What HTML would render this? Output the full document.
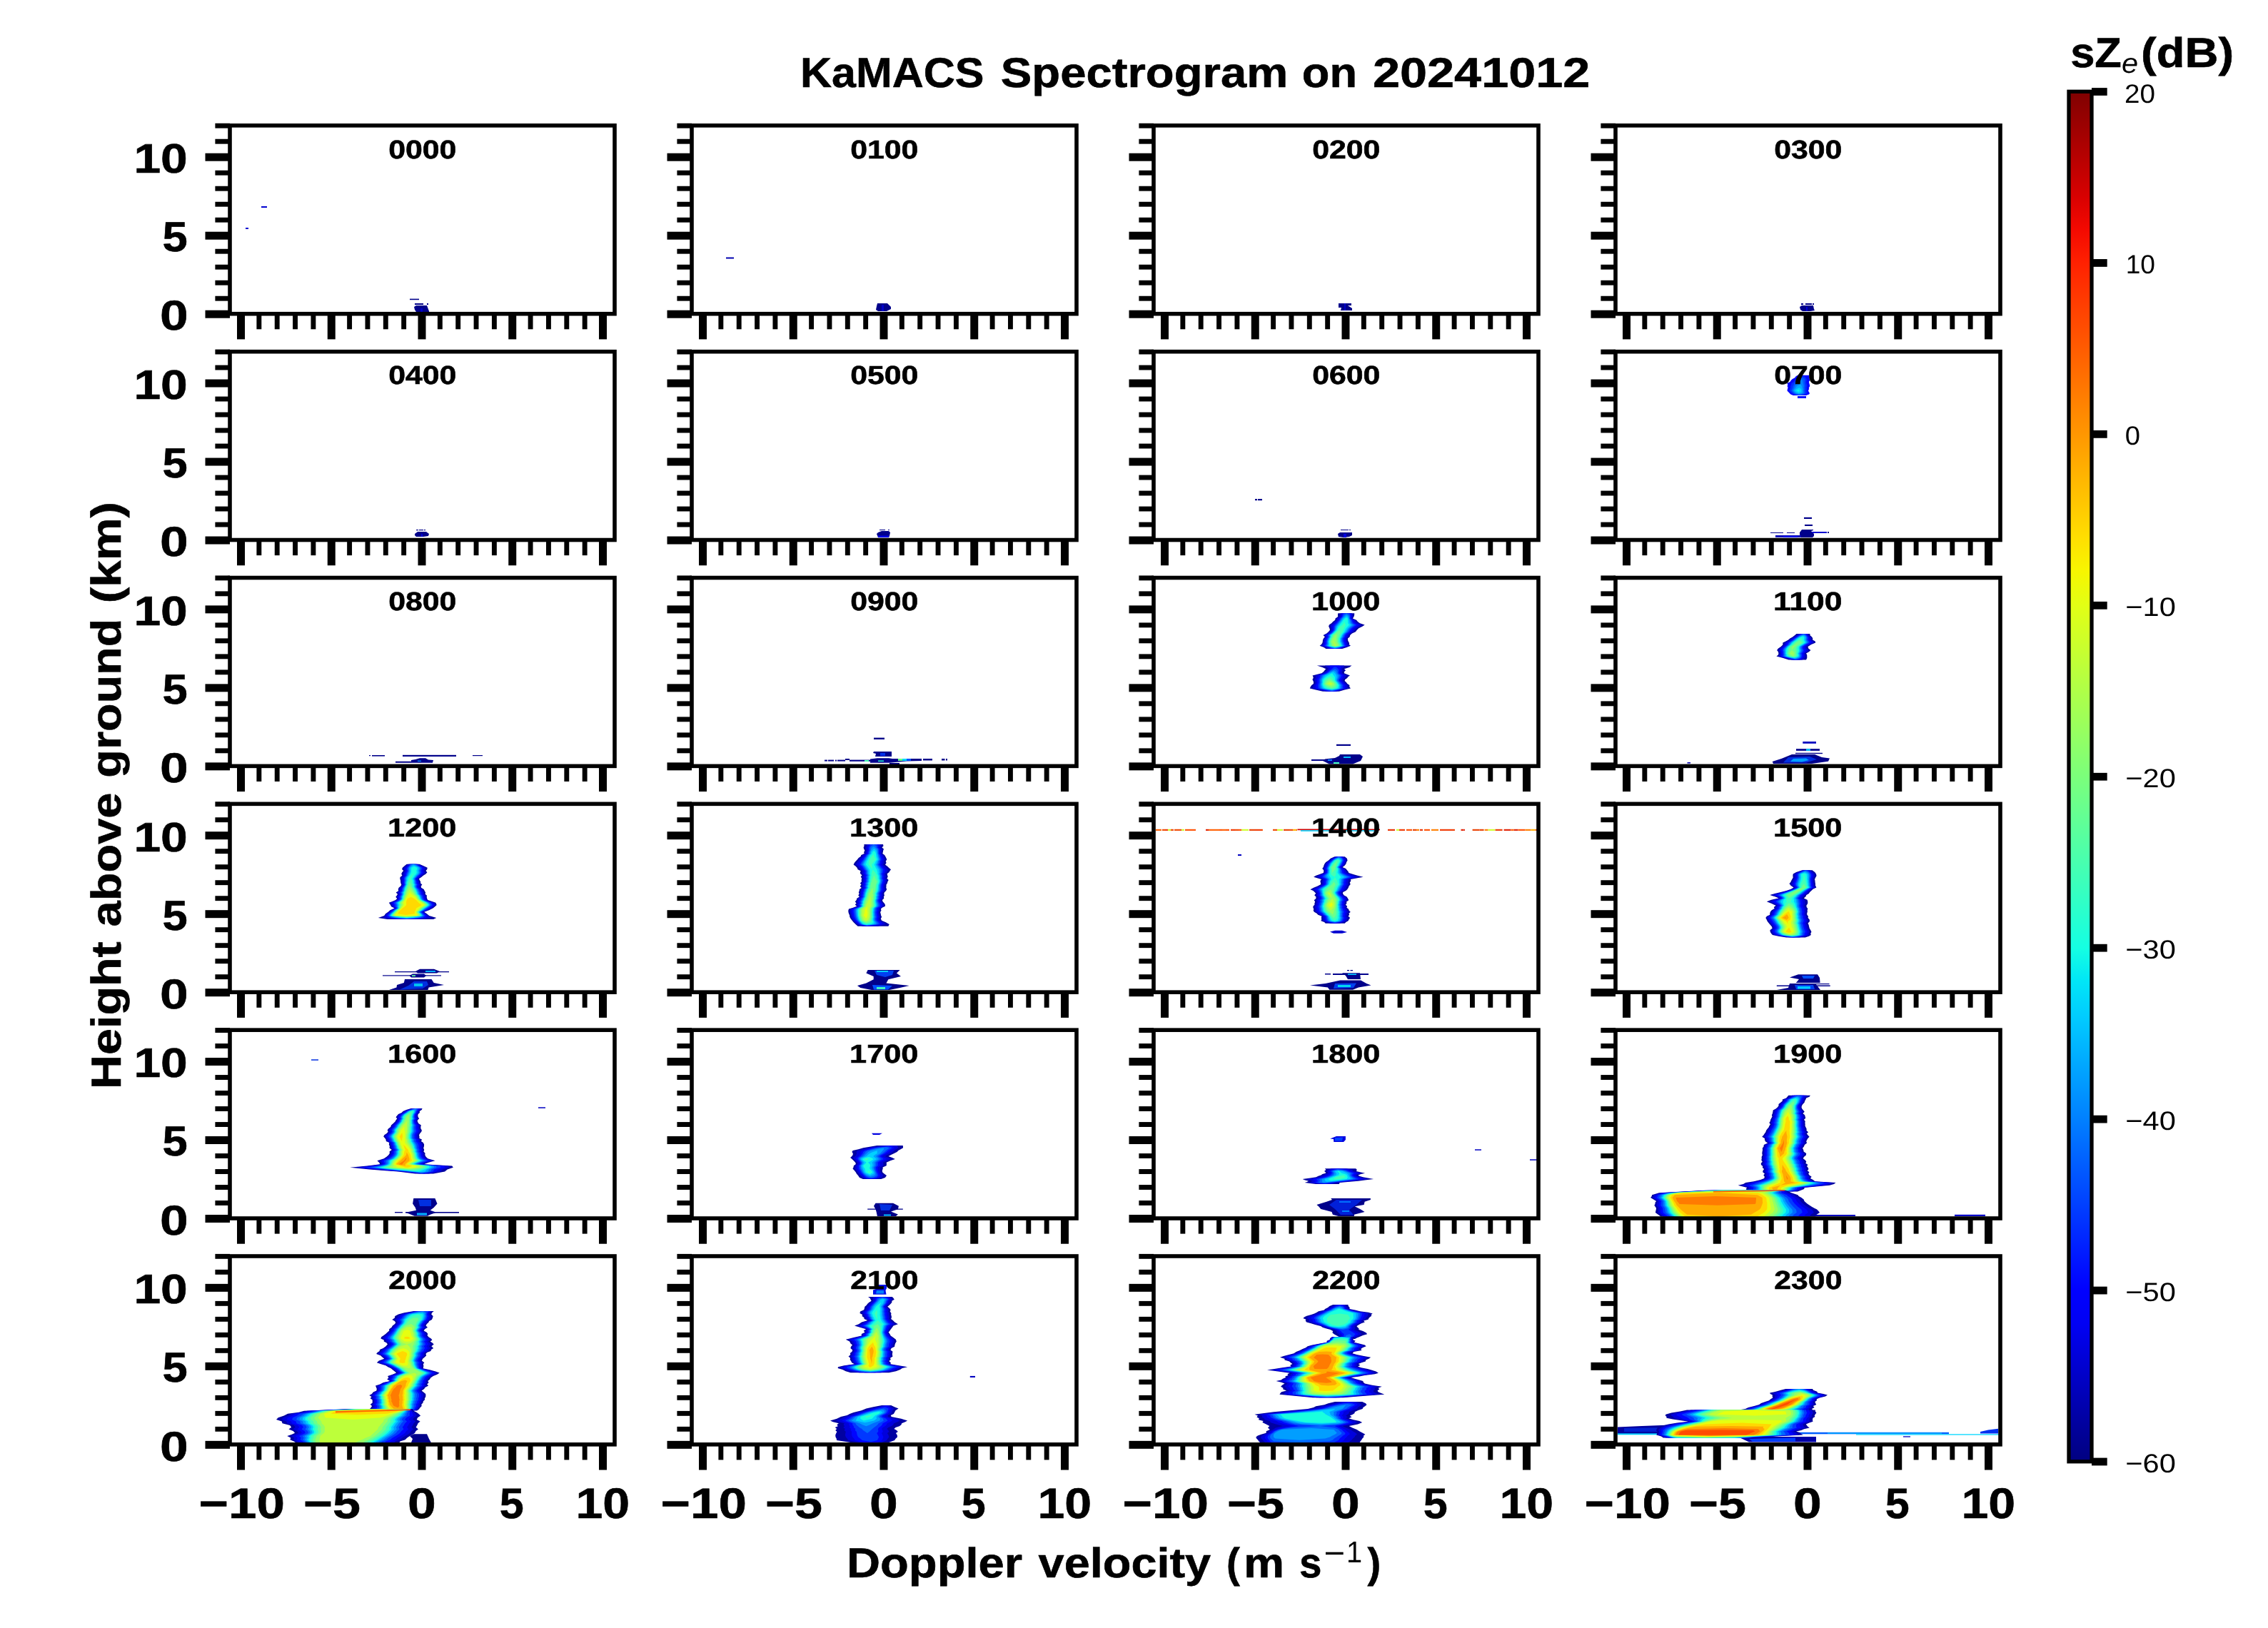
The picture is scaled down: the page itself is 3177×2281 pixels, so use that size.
<!DOCTYPE html>
<html><head><meta charset="utf-8"><title>KaMACS Spectrogram on 20241012</title>
<style>html,body{margin:0;padding:0;background:#fff}body{width:3177px;height:2281px;overflow:hidden;font-family:"Liberation Sans",sans-serif}svg{display:block}</style>
</head><body>
<svg width="3177" height="2281" viewBox="0 0 3177 2281" font-family="Liberation Sans, sans-serif" shape-rendering="auto" text-rendering="geometricPrecision">
<defs>
<linearGradient id="jet" x1="0" y1="1" x2="0" y2="0">
<stop offset="0.000" stop-color="#000080"/>
<stop offset="0.025" stop-color="#00009c"/>
<stop offset="0.050" stop-color="#0000b9"/>
<stop offset="0.075" stop-color="#0000d6"/>
<stop offset="0.100" stop-color="#0000f3"/>
<stop offset="0.125" stop-color="#0000ff"/>
<stop offset="0.150" stop-color="#0019ff"/>
<stop offset="0.175" stop-color="#0033ff"/>
<stop offset="0.200" stop-color="#004dff"/>
<stop offset="0.225" stop-color="#0066ff"/>
<stop offset="0.250" stop-color="#0080ff"/>
<stop offset="0.275" stop-color="#0099ff"/>
<stop offset="0.300" stop-color="#00b2ff"/>
<stop offset="0.325" stop-color="#00ccff"/>
<stop offset="0.350" stop-color="#00e5f7"/>
<stop offset="0.375" stop-color="#15ffe2"/>
<stop offset="0.400" stop-color="#29ffce"/>
<stop offset="0.425" stop-color="#3effb9"/>
<stop offset="0.450" stop-color="#52ffa5"/>
<stop offset="0.475" stop-color="#67ff90"/>
<stop offset="0.500" stop-color="#7bff7b"/>
<stop offset="0.525" stop-color="#90ff67"/>
<stop offset="0.550" stop-color="#a5ff52"/>
<stop offset="0.575" stop-color="#b9ff3e"/>
<stop offset="0.600" stop-color="#ceff29"/>
<stop offset="0.625" stop-color="#e2ff15"/>
<stop offset="0.650" stop-color="#f7f600"/>
<stop offset="0.675" stop-color="#ffde00"/>
<stop offset="0.700" stop-color="#ffc600"/>
<stop offset="0.725" stop-color="#ffaf00"/>
<stop offset="0.750" stop-color="#ff9700"/>
<stop offset="0.775" stop-color="#ff8000"/>
<stop offset="0.800" stop-color="#ff6800"/>
<stop offset="0.825" stop-color="#ff5000"/>
<stop offset="0.850" stop-color="#ff3900"/>
<stop offset="0.875" stop-color="#ff2100"/>
<stop offset="0.900" stop-color="#f30900"/>
<stop offset="0.925" stop-color="#d60000"/>
<stop offset="0.950" stop-color="#b90000"/>
<stop offset="0.975" stop-color="#9c0000"/>
<stop offset="1.000" stop-color="#800000"/>
</linearGradient>
<clipPath id="cp00"><rect x="322.0" y="175.85" width="539.0" height="263.85"/></clipPath>
<clipPath id="cp01"><rect x="969.0" y="175.85" width="539.0" height="263.85"/></clipPath>
<clipPath id="cp02"><rect x="1616.0" y="175.85" width="539.0" height="263.85"/></clipPath>
<clipPath id="cp03"><rect x="2263.0" y="175.85" width="539.0" height="263.85"/></clipPath>
<clipPath id="cp10"><rect x="322.0" y="492.67999999999995" width="539.0" height="263.85"/></clipPath>
<clipPath id="cp11"><rect x="969.0" y="492.67999999999995" width="539.0" height="263.85"/></clipPath>
<clipPath id="cp12"><rect x="1616.0" y="492.67999999999995" width="539.0" height="263.85"/></clipPath>
<clipPath id="cp13"><rect x="2263.0" y="492.67999999999995" width="539.0" height="263.85"/></clipPath>
<clipPath id="cp20"><rect x="322.0" y="809.51" width="539.0" height="263.85"/></clipPath>
<clipPath id="cp21"><rect x="969.0" y="809.51" width="539.0" height="263.85"/></clipPath>
<clipPath id="cp22"><rect x="1616.0" y="809.51" width="539.0" height="263.85"/></clipPath>
<clipPath id="cp23"><rect x="2263.0" y="809.51" width="539.0" height="263.85"/></clipPath>
<clipPath id="cp30"><rect x="322.0" y="1126.34" width="539.0" height="263.85"/></clipPath>
<clipPath id="cp31"><rect x="969.0" y="1126.34" width="539.0" height="263.85"/></clipPath>
<clipPath id="cp32"><rect x="1616.0" y="1126.34" width="539.0" height="263.85"/></clipPath>
<clipPath id="cp33"><rect x="2263.0" y="1126.34" width="539.0" height="263.85"/></clipPath>
<clipPath id="cp40"><rect x="322.0" y="1443.1699999999998" width="539.0" height="263.85"/></clipPath>
<clipPath id="cp41"><rect x="969.0" y="1443.1699999999998" width="539.0" height="263.85"/></clipPath>
<clipPath id="cp42"><rect x="1616.0" y="1443.1699999999998" width="539.0" height="263.85"/></clipPath>
<clipPath id="cp43"><rect x="2263.0" y="1443.1699999999998" width="539.0" height="263.85"/></clipPath>
<clipPath id="cp50"><rect x="322.0" y="1759.9999999999998" width="539.0" height="263.85"/></clipPath>
<clipPath id="cp51"><rect x="969.0" y="1759.9999999999998" width="539.0" height="263.85"/></clipPath>
<clipPath id="cp52"><rect x="1616.0" y="1759.9999999999998" width="539.0" height="263.85"/></clipPath>
<clipPath id="cp53"><rect x="2263.0" y="1759.9999999999998" width="539.0" height="263.85"/></clipPath>
</defs>
<rect width="3177" height="2281" fill="#fff"/>
<g opacity="0.9999">
<g>
<g clip-path="url(#cp00)">
<rect x="366.0" y="289.0" width="8.0" height="2.0" fill="#0000d0"/>
<rect x="344.0" y="319.0" width="4.0" height="2.0" fill="#0000d0"/>
<rect x="574.0" y="418.6" width="13.0" height="1.6" fill="#00008b"/>
<rect x="581.0" y="425.0" width="9.0" height="2.0" fill="#00008b"/>
<rect x="588.0" y="425.0" width="5.0" height="2.0" fill="#00008b"/>
<rect x="598.0" y="425.0" width="2.0" height="2.0" fill="#00008b"/>
<polygon points="583.0,428.0 598.0,428.0 601.0,436.0 601.0,437.0 583.0,437.0 581.0,434.0 580.0,430.0" fill="#00008b"/>
<rect x="589.0" y="432.0" width="3.0" height="5.0" fill="#0000c8"/>
</g>
<rect x="287.50" y="434.70" width="34.5" height="11.0"/>
<rect x="301.40" y="414.75" width="20.6" height="6.9"/>
<rect x="301.40" y="392.75" width="20.6" height="6.9"/>
<rect x="301.40" y="370.75" width="20.6" height="6.9"/>
<rect x="301.40" y="348.75" width="20.6" height="6.9"/>
<rect x="287.50" y="324.70" width="34.5" height="11.0"/>
<rect x="301.40" y="304.75" width="20.6" height="6.9"/>
<rect x="301.40" y="282.75" width="20.6" height="6.9"/>
<rect x="301.40" y="260.75" width="20.6" height="6.9"/>
<rect x="301.40" y="238.75" width="20.6" height="6.9"/>
<rect x="287.50" y="214.70" width="34.5" height="11.0"/>
<rect x="301.40" y="194.75" width="20.6" height="6.9"/>
<rect x="301.40" y="172.75" width="20.6" height="6.9"/>
<rect x="332.00" y="439.70" width="11.0" height="35.7"/>
<rect x="359.40" y="439.70" width="6.9" height="21.6"/>
<rect x="384.75" y="439.70" width="6.9" height="21.6"/>
<rect x="410.10" y="439.70" width="6.9" height="21.6"/>
<rect x="435.45" y="439.70" width="6.9" height="21.6"/>
<rect x="458.75" y="439.70" width="11.0" height="35.7"/>
<rect x="486.15" y="439.70" width="6.9" height="21.6"/>
<rect x="511.50" y="439.70" width="6.9" height="21.6"/>
<rect x="536.85" y="439.70" width="6.9" height="21.6"/>
<rect x="562.20" y="439.70" width="6.9" height="21.6"/>
<rect x="585.50" y="439.70" width="11.0" height="35.7"/>
<rect x="612.90" y="439.70" width="6.9" height="21.6"/>
<rect x="638.25" y="439.70" width="6.9" height="21.6"/>
<rect x="663.60" y="439.70" width="6.9" height="21.6"/>
<rect x="688.95" y="439.70" width="6.9" height="21.6"/>
<rect x="712.25" y="439.70" width="11.0" height="35.7"/>
<rect x="739.65" y="439.70" width="6.9" height="21.6"/>
<rect x="765.00" y="439.70" width="6.9" height="21.6"/>
<rect x="790.35" y="439.70" width="6.9" height="21.6"/>
<rect x="815.70" y="439.70" width="6.9" height="21.6"/>
<rect x="839.00" y="439.70" width="11.0" height="35.7"/>
<rect x="322.00" y="175.85" width="539.0" height="263.85" fill="none" stroke="#000" stroke-width="5.6"/>
<text transform="translate(544.13,221.59) scale(1.1757,1)" font-size="36.44" font-weight="bold" fill="#000" stroke="#000" stroke-width="0.6">0000</text>
</g>
<g>
<g clip-path="url(#cp01)">
<rect x="1017.0" y="360.5" width="11.0" height="2.0" fill="#0000b0"/>
<polygon points="1229.0,425.0 1243.0,425.0 1248.0,430.0 1248.0,433.0 1242.0,436.0 1230.0,436.0 1227.0,434.0 1228.0,429.0" fill="#00008b"/>
<rect x="1235.0" y="427.0" width="3.0" height="9.0" fill="#0000c8"/>
</g>
<rect x="934.50" y="434.70" width="34.5" height="11.0"/>
<rect x="948.40" y="414.75" width="20.6" height="6.9"/>
<rect x="948.40" y="392.75" width="20.6" height="6.9"/>
<rect x="948.40" y="370.75" width="20.6" height="6.9"/>
<rect x="948.40" y="348.75" width="20.6" height="6.9"/>
<rect x="934.50" y="324.70" width="34.5" height="11.0"/>
<rect x="948.40" y="304.75" width="20.6" height="6.9"/>
<rect x="948.40" y="282.75" width="20.6" height="6.9"/>
<rect x="948.40" y="260.75" width="20.6" height="6.9"/>
<rect x="948.40" y="238.75" width="20.6" height="6.9"/>
<rect x="934.50" y="214.70" width="34.5" height="11.0"/>
<rect x="948.40" y="194.75" width="20.6" height="6.9"/>
<rect x="948.40" y="172.75" width="20.6" height="6.9"/>
<rect x="979.00" y="439.70" width="11.0" height="35.7"/>
<rect x="1006.40" y="439.70" width="6.9" height="21.6"/>
<rect x="1031.75" y="439.70" width="6.9" height="21.6"/>
<rect x="1057.10" y="439.70" width="6.9" height="21.6"/>
<rect x="1082.45" y="439.70" width="6.9" height="21.6"/>
<rect x="1105.75" y="439.70" width="11.0" height="35.7"/>
<rect x="1133.15" y="439.70" width="6.9" height="21.6"/>
<rect x="1158.50" y="439.70" width="6.9" height="21.6"/>
<rect x="1183.85" y="439.70" width="6.9" height="21.6"/>
<rect x="1209.20" y="439.70" width="6.9" height="21.6"/>
<rect x="1232.50" y="439.70" width="11.0" height="35.7"/>
<rect x="1259.90" y="439.70" width="6.9" height="21.6"/>
<rect x="1285.25" y="439.70" width="6.9" height="21.6"/>
<rect x="1310.60" y="439.70" width="6.9" height="21.6"/>
<rect x="1335.95" y="439.70" width="6.9" height="21.6"/>
<rect x="1359.25" y="439.70" width="11.0" height="35.7"/>
<rect x="1386.65" y="439.70" width="6.9" height="21.6"/>
<rect x="1412.00" y="439.70" width="6.9" height="21.6"/>
<rect x="1437.35" y="439.70" width="6.9" height="21.6"/>
<rect x="1462.70" y="439.70" width="6.9" height="21.6"/>
<rect x="1486.00" y="439.70" width="11.0" height="35.7"/>
<rect x="969.00" y="175.85" width="539.0" height="263.85" fill="none" stroke="#000" stroke-width="5.6"/>
<text transform="translate(1191.13,221.59) scale(1.1757,1)" font-size="36.44" font-weight="bold" fill="#000" stroke="#000" stroke-width="0.6">0100</text>
</g>
<g>
<g clip-path="url(#cp02)">
<polygon points="1875.0,425.0 1893.0,425.0 1893.0,428.0 1888.0,428.0 1894.0,432.0 1894.0,435.0 1878.0,435.0 1879.0,431.0 1875.0,431.0" fill="#00008b"/>
<rect x="1883.0" y="425.0" width="2.0" height="10.0" fill="#0000c8"/>
</g>
<rect x="1581.50" y="434.70" width="34.5" height="11.0"/>
<rect x="1595.40" y="414.75" width="20.6" height="6.9"/>
<rect x="1595.40" y="392.75" width="20.6" height="6.9"/>
<rect x="1595.40" y="370.75" width="20.6" height="6.9"/>
<rect x="1595.40" y="348.75" width="20.6" height="6.9"/>
<rect x="1581.50" y="324.70" width="34.5" height="11.0"/>
<rect x="1595.40" y="304.75" width="20.6" height="6.9"/>
<rect x="1595.40" y="282.75" width="20.6" height="6.9"/>
<rect x="1595.40" y="260.75" width="20.6" height="6.9"/>
<rect x="1595.40" y="238.75" width="20.6" height="6.9"/>
<rect x="1581.50" y="214.70" width="34.5" height="11.0"/>
<rect x="1595.40" y="194.75" width="20.6" height="6.9"/>
<rect x="1595.40" y="172.75" width="20.6" height="6.9"/>
<rect x="1626.00" y="439.70" width="11.0" height="35.7"/>
<rect x="1653.40" y="439.70" width="6.9" height="21.6"/>
<rect x="1678.75" y="439.70" width="6.9" height="21.6"/>
<rect x="1704.10" y="439.70" width="6.9" height="21.6"/>
<rect x="1729.45" y="439.70" width="6.9" height="21.6"/>
<rect x="1752.75" y="439.70" width="11.0" height="35.7"/>
<rect x="1780.15" y="439.70" width="6.9" height="21.6"/>
<rect x="1805.50" y="439.70" width="6.9" height="21.6"/>
<rect x="1830.85" y="439.70" width="6.9" height="21.6"/>
<rect x="1856.20" y="439.70" width="6.9" height="21.6"/>
<rect x="1879.50" y="439.70" width="11.0" height="35.7"/>
<rect x="1906.90" y="439.70" width="6.9" height="21.6"/>
<rect x="1932.25" y="439.70" width="6.9" height="21.6"/>
<rect x="1957.60" y="439.70" width="6.9" height="21.6"/>
<rect x="1982.95" y="439.70" width="6.9" height="21.6"/>
<rect x="2006.25" y="439.70" width="11.0" height="35.7"/>
<rect x="2033.65" y="439.70" width="6.9" height="21.6"/>
<rect x="2059.00" y="439.70" width="6.9" height="21.6"/>
<rect x="2084.35" y="439.70" width="6.9" height="21.6"/>
<rect x="2109.70" y="439.70" width="6.9" height="21.6"/>
<rect x="2133.00" y="439.70" width="11.0" height="35.7"/>
<rect x="1616.00" y="175.85" width="539.0" height="263.85" fill="none" stroke="#000" stroke-width="5.6"/>
<text transform="translate(1838.13,221.59) scale(1.1757,1)" font-size="36.44" font-weight="bold" fill="#000" stroke="#000" stroke-width="0.6">0200</text>
</g>
<g>
<g clip-path="url(#cp03)">
<rect x="2523.0" y="425.0" width="3.0" height="2.0" fill="#00008b"/>
<rect x="2529.0" y="425.0" width="9.0" height="2.0" fill="#00008b"/>
<rect x="2539.0" y="425.0" width="2.0" height="2.0" fill="#00008b"/>
<polygon points="2524.0,428.0 2540.0,428.0 2541.0,433.0 2542.0,435.0 2536.0,436.0 2525.0,436.0 2522.0,434.0 2521.0,430.0" fill="#00008b"/>
<rect x="2530.0" y="430.0" width="2.0" height="6.0" fill="#0000d8"/>
</g>
<rect x="2228.50" y="434.70" width="34.5" height="11.0"/>
<rect x="2242.40" y="414.75" width="20.6" height="6.9"/>
<rect x="2242.40" y="392.75" width="20.6" height="6.9"/>
<rect x="2242.40" y="370.75" width="20.6" height="6.9"/>
<rect x="2242.40" y="348.75" width="20.6" height="6.9"/>
<rect x="2228.50" y="324.70" width="34.5" height="11.0"/>
<rect x="2242.40" y="304.75" width="20.6" height="6.9"/>
<rect x="2242.40" y="282.75" width="20.6" height="6.9"/>
<rect x="2242.40" y="260.75" width="20.6" height="6.9"/>
<rect x="2242.40" y="238.75" width="20.6" height="6.9"/>
<rect x="2228.50" y="214.70" width="34.5" height="11.0"/>
<rect x="2242.40" y="194.75" width="20.6" height="6.9"/>
<rect x="2242.40" y="172.75" width="20.6" height="6.9"/>
<rect x="2273.00" y="439.70" width="11.0" height="35.7"/>
<rect x="2300.40" y="439.70" width="6.9" height="21.6"/>
<rect x="2325.75" y="439.70" width="6.9" height="21.6"/>
<rect x="2351.10" y="439.70" width="6.9" height="21.6"/>
<rect x="2376.45" y="439.70" width="6.9" height="21.6"/>
<rect x="2399.75" y="439.70" width="11.0" height="35.7"/>
<rect x="2427.15" y="439.70" width="6.9" height="21.6"/>
<rect x="2452.50" y="439.70" width="6.9" height="21.6"/>
<rect x="2477.85" y="439.70" width="6.9" height="21.6"/>
<rect x="2503.20" y="439.70" width="6.9" height="21.6"/>
<rect x="2526.50" y="439.70" width="11.0" height="35.7"/>
<rect x="2553.90" y="439.70" width="6.9" height="21.6"/>
<rect x="2579.25" y="439.70" width="6.9" height="21.6"/>
<rect x="2604.60" y="439.70" width="6.9" height="21.6"/>
<rect x="2629.95" y="439.70" width="6.9" height="21.6"/>
<rect x="2653.25" y="439.70" width="11.0" height="35.7"/>
<rect x="2680.65" y="439.70" width="6.9" height="21.6"/>
<rect x="2706.00" y="439.70" width="6.9" height="21.6"/>
<rect x="2731.35" y="439.70" width="6.9" height="21.6"/>
<rect x="2756.70" y="439.70" width="6.9" height="21.6"/>
<rect x="2780.00" y="439.70" width="11.0" height="35.7"/>
<rect x="2263.00" y="175.85" width="539.0" height="263.85" fill="none" stroke="#000" stroke-width="5.6"/>
<text transform="translate(2485.13,221.55) scale(1.1774,1)" font-size="36.39" font-weight="bold" fill="#000" stroke="#000" stroke-width="0.6">0300</text>
</g>
<g>
<g clip-path="url(#cp10)">
<rect x="583.0" y="742.0" width="3.0" height="1.2" fill="#00008b"/>
<rect x="587.0" y="742.0" width="6.0" height="1.2" fill="#00008b"/>
<rect x="594.0" y="742.0" width="2.0" height="1.2" fill="#00008b"/>
<polygon points="585.0,745.0 597.0,745.0 601.0,748.0 600.0,751.0 593.0,752.0 583.0,752.0 581.0,750.0 581.0,748.0" fill="#00008b"/>
<rect x="590.0" y="748.0" width="2.0" height="4.0" fill="#0000d8"/>
</g>
<rect x="287.50" y="751.53" width="34.5" height="11.0"/>
<rect x="301.40" y="731.58" width="20.6" height="6.9"/>
<rect x="301.40" y="709.58" width="20.6" height="6.9"/>
<rect x="301.40" y="687.58" width="20.6" height="6.9"/>
<rect x="301.40" y="665.58" width="20.6" height="6.9"/>
<rect x="287.50" y="641.53" width="34.5" height="11.0"/>
<rect x="301.40" y="621.58" width="20.6" height="6.9"/>
<rect x="301.40" y="599.58" width="20.6" height="6.9"/>
<rect x="301.40" y="577.58" width="20.6" height="6.9"/>
<rect x="301.40" y="555.58" width="20.6" height="6.9"/>
<rect x="287.50" y="531.53" width="34.5" height="11.0"/>
<rect x="301.40" y="511.58" width="20.6" height="6.9"/>
<rect x="301.40" y="489.58" width="20.6" height="6.9"/>
<rect x="332.00" y="756.53" width="11.0" height="35.7"/>
<rect x="359.40" y="756.53" width="6.9" height="21.6"/>
<rect x="384.75" y="756.53" width="6.9" height="21.6"/>
<rect x="410.10" y="756.53" width="6.9" height="21.6"/>
<rect x="435.45" y="756.53" width="6.9" height="21.6"/>
<rect x="458.75" y="756.53" width="11.0" height="35.7"/>
<rect x="486.15" y="756.53" width="6.9" height="21.6"/>
<rect x="511.50" y="756.53" width="6.9" height="21.6"/>
<rect x="536.85" y="756.53" width="6.9" height="21.6"/>
<rect x="562.20" y="756.53" width="6.9" height="21.6"/>
<rect x="585.50" y="756.53" width="11.0" height="35.7"/>
<rect x="612.90" y="756.53" width="6.9" height="21.6"/>
<rect x="638.25" y="756.53" width="6.9" height="21.6"/>
<rect x="663.60" y="756.53" width="6.9" height="21.6"/>
<rect x="688.95" y="756.53" width="6.9" height="21.6"/>
<rect x="712.25" y="756.53" width="11.0" height="35.7"/>
<rect x="739.65" y="756.53" width="6.9" height="21.6"/>
<rect x="765.00" y="756.53" width="6.9" height="21.6"/>
<rect x="790.35" y="756.53" width="6.9" height="21.6"/>
<rect x="815.70" y="756.53" width="6.9" height="21.6"/>
<rect x="839.00" y="756.53" width="11.0" height="35.7"/>
<rect x="322.00" y="492.68" width="539.0" height="263.85" fill="none" stroke="#000" stroke-width="5.6"/>
<text transform="translate(544.13,538.42) scale(1.1757,1)" font-size="36.44" font-weight="bold" fill="#000" stroke="#000" stroke-width="0.6">0400</text>
</g>
<g>
<g clip-path="url(#cp11)">
<rect x="1232.0" y="742.0" width="8.0" height="1.0" fill="#00008b"/>
<rect x="1244.0" y="742.0" width="2.0" height="1.0" fill="#00008b"/>
<polygon points="1235.0,744.0 1245.0,744.0 1247.0,746.0 1246.0,751.0 1245.0,753.0 1230.0,753.0 1228.0,748.0 1230.0,746.0" fill="#00008b"/>
<rect x="1230.0" y="750.5" width="15.0" height="2.5" fill="#0000e8"/>
</g>
<rect x="934.50" y="751.53" width="34.5" height="11.0"/>
<rect x="948.40" y="731.58" width="20.6" height="6.9"/>
<rect x="948.40" y="709.58" width="20.6" height="6.9"/>
<rect x="948.40" y="687.58" width="20.6" height="6.9"/>
<rect x="948.40" y="665.58" width="20.6" height="6.9"/>
<rect x="934.50" y="641.53" width="34.5" height="11.0"/>
<rect x="948.40" y="621.58" width="20.6" height="6.9"/>
<rect x="948.40" y="599.58" width="20.6" height="6.9"/>
<rect x="948.40" y="577.58" width="20.6" height="6.9"/>
<rect x="948.40" y="555.58" width="20.6" height="6.9"/>
<rect x="934.50" y="531.53" width="34.5" height="11.0"/>
<rect x="948.40" y="511.58" width="20.6" height="6.9"/>
<rect x="948.40" y="489.58" width="20.6" height="6.9"/>
<rect x="979.00" y="756.53" width="11.0" height="35.7"/>
<rect x="1006.40" y="756.53" width="6.9" height="21.6"/>
<rect x="1031.75" y="756.53" width="6.9" height="21.6"/>
<rect x="1057.10" y="756.53" width="6.9" height="21.6"/>
<rect x="1082.45" y="756.53" width="6.9" height="21.6"/>
<rect x="1105.75" y="756.53" width="11.0" height="35.7"/>
<rect x="1133.15" y="756.53" width="6.9" height="21.6"/>
<rect x="1158.50" y="756.53" width="6.9" height="21.6"/>
<rect x="1183.85" y="756.53" width="6.9" height="21.6"/>
<rect x="1209.20" y="756.53" width="6.9" height="21.6"/>
<rect x="1232.50" y="756.53" width="11.0" height="35.7"/>
<rect x="1259.90" y="756.53" width="6.9" height="21.6"/>
<rect x="1285.25" y="756.53" width="6.9" height="21.6"/>
<rect x="1310.60" y="756.53" width="6.9" height="21.6"/>
<rect x="1335.95" y="756.53" width="6.9" height="21.6"/>
<rect x="1359.25" y="756.53" width="11.0" height="35.7"/>
<rect x="1386.65" y="756.53" width="6.9" height="21.6"/>
<rect x="1412.00" y="756.53" width="6.9" height="21.6"/>
<rect x="1437.35" y="756.53" width="6.9" height="21.6"/>
<rect x="1462.70" y="756.53" width="6.9" height="21.6"/>
<rect x="1486.00" y="756.53" width="11.0" height="35.7"/>
<rect x="969.00" y="492.68" width="539.0" height="263.85" fill="none" stroke="#000" stroke-width="5.6"/>
<text transform="translate(1191.13,538.42) scale(1.1757,1)" font-size="36.44" font-weight="bold" fill="#000" stroke="#000" stroke-width="0.6">0500</text>
</g>
<g>
<g clip-path="url(#cp12)">
<rect x="1758.0" y="699.0" width="3.0" height="2.2" fill="#00008b"/>
<rect x="1762.0" y="699.0" width="6.0" height="2.2" fill="#00008b"/>
<rect x="1878.0" y="742.0" width="11.0" height="1.0" fill="#00008b"/>
<rect x="1890.0" y="742.0" width="2.0" height="1.0" fill="#00008b"/>
<polygon points="1877.0,746.0 1894.0,746.0 1894.0,750.0 1890.0,752.0 1882.0,753.0 1875.0,752.0 1874.0,748.0" fill="#00008b"/>
<rect x="1882.0" y="748.0" width="4.0" height="5.0" fill="#0000e0"/>
</g>
<rect x="1581.50" y="751.53" width="34.5" height="11.0"/>
<rect x="1595.40" y="731.58" width="20.6" height="6.9"/>
<rect x="1595.40" y="709.58" width="20.6" height="6.9"/>
<rect x="1595.40" y="687.58" width="20.6" height="6.9"/>
<rect x="1595.40" y="665.58" width="20.6" height="6.9"/>
<rect x="1581.50" y="641.53" width="34.5" height="11.0"/>
<rect x="1595.40" y="621.58" width="20.6" height="6.9"/>
<rect x="1595.40" y="599.58" width="20.6" height="6.9"/>
<rect x="1595.40" y="577.58" width="20.6" height="6.9"/>
<rect x="1595.40" y="555.58" width="20.6" height="6.9"/>
<rect x="1581.50" y="531.53" width="34.5" height="11.0"/>
<rect x="1595.40" y="511.58" width="20.6" height="6.9"/>
<rect x="1595.40" y="489.58" width="20.6" height="6.9"/>
<rect x="1626.00" y="756.53" width="11.0" height="35.7"/>
<rect x="1653.40" y="756.53" width="6.9" height="21.6"/>
<rect x="1678.75" y="756.53" width="6.9" height="21.6"/>
<rect x="1704.10" y="756.53" width="6.9" height="21.6"/>
<rect x="1729.45" y="756.53" width="6.9" height="21.6"/>
<rect x="1752.75" y="756.53" width="11.0" height="35.7"/>
<rect x="1780.15" y="756.53" width="6.9" height="21.6"/>
<rect x="1805.50" y="756.53" width="6.9" height="21.6"/>
<rect x="1830.85" y="756.53" width="6.9" height="21.6"/>
<rect x="1856.20" y="756.53" width="6.9" height="21.6"/>
<rect x="1879.50" y="756.53" width="11.0" height="35.7"/>
<rect x="1906.90" y="756.53" width="6.9" height="21.6"/>
<rect x="1932.25" y="756.53" width="6.9" height="21.6"/>
<rect x="1957.60" y="756.53" width="6.9" height="21.6"/>
<rect x="1982.95" y="756.53" width="6.9" height="21.6"/>
<rect x="2006.25" y="756.53" width="11.0" height="35.7"/>
<rect x="2033.65" y="756.53" width="6.9" height="21.6"/>
<rect x="2059.00" y="756.53" width="6.9" height="21.6"/>
<rect x="2084.35" y="756.53" width="6.9" height="21.6"/>
<rect x="2109.70" y="756.53" width="6.9" height="21.6"/>
<rect x="2133.00" y="756.53" width="11.0" height="35.7"/>
<rect x="1616.00" y="492.68" width="539.0" height="263.85" fill="none" stroke="#000" stroke-width="5.6"/>
<text transform="translate(1838.13,538.42) scale(1.1757,1)" font-size="36.44" font-weight="bold" fill="#000" stroke="#000" stroke-width="0.6">0600</text>
</g>
<g>
<g clip-path="url(#cp13)">
<polygon points="2518.0,525.8 2515.4,527.5 2514.2,529.3 2510.8,531.0 2508.7,533.0 2507.5,535.0 2503.2,537.0 2504.4,539.0 2503.6,541.0 2504.5,543.0 2503.9,545.2 2503.5,547.5 2505.2,549.2 2506.9,551.0 2508.3,552.5 2512.0,554.0 2530.0,554.0 2534.1,552.5 2535.0,551.0 2533.9,549.2 2533.0,547.5 2534.0,545.2 2533.9,543.0 2535.3,541.0 2534.9,539.0 2534.3,537.0 2533.9,535.0 2535.2,533.0 2534.8,531.0 2534.3,529.3 2534.1,527.5 2534.0,525.8" fill="#0005ff"/>
<polygon points="2525.5,526.8 2521.9,527.5 2519.0,529.3 2515.8,531.0 2514.0,533.0 2512.7,535.0 2509.3,537.0 2509.3,539.0 2508.1,541.0 2508.3,543.0 2507.3,545.2 2506.4,547.5 2508.3,549.2 2510.0,551.0 2512.9,552.5 2518.4,554.0 2523.6,554.0 2529.0,552.5 2531.3,551.0 2531.0,549.2 2530.4,547.5 2531.1,545.2 2530.6,543.0 2531.5,541.0 2531.1,539.0 2530.5,537.0 2530.1,535.0 2530.8,533.0 2530.6,531.0 2529.5,529.3 2528.2,527.5 2525.5,526.8" fill="#002eff"/>
<polygon points="2524.4,528.9 2522.7,529.3 2518.6,531.0 2517.0,533.0 2515.8,535.0 2513.1,537.0 2512.7,539.0 2511.4,541.0 2511.3,543.0 2510.2,545.2 2509.1,547.5 2511.0,549.2 2512.4,551.0 2515.4,552.5 2520.8,553.4 2520.8,553.4 2526.1,552.5 2528.4,551.0 2528.4,549.2 2527.9,547.5 2528.5,545.2 2528.1,543.0 2528.7,541.0 2528.4,539.0 2528.1,537.0 2527.9,535.0 2528.4,533.0 2528.2,531.0 2525.8,529.3 2524.4,528.9" fill="#0057ff"/>
<polygon points="2523.8,531.0 2521.1,533.0 2519.1,535.0 2516.8,537.0 2515.3,539.0 2513.8,541.0 2513.4,543.0 2512.1,545.2 2510.8,547.5 2512.8,549.2 2514.0,551.0 2519.5,552.5 2520.5,552.6 2520.5,552.6 2521.5,552.5 2526.4,551.0 2526.7,549.2 2526.3,547.5 2526.8,545.2 2526.3,543.0 2526.7,541.0 2526.4,539.0 2525.8,537.0 2525.5,535.0 2525.1,533.0 2523.8,531.0" fill="#0080ff"/>
<polygon points="2521.9,538.2 2520.1,539.0 2516.9,541.0 2515.8,543.0 2513.8,545.2 2512.3,547.5 2514.3,549.2 2515.9,551.0 2520.1,551.8 2520.1,551.8 2524.1,551.0 2525.3,549.2 2525.0,547.5 2525.3,545.2 2524.3,543.0 2524.0,541.0 2522.6,539.0 2521.9,538.2" fill="#00a8ff"/>
<polygon points="2520.4,543.0 2516.3,545.2 2514.0,547.5 2516.6,549.2 2519.6,551.0 2519.6,551.0 2523.1,549.2 2523.4,547.5 2523.1,545.2 2520.4,543.0" fill="#00d1ff"/>
<polygon points="2519.6,546.0 2516.5,547.5 2519.6,548.7 2519.6,548.7 2521.1,547.5 2519.6,546.0" fill="#10fae6"/>
<rect x="2518.0" y="555.0" width="12.0" height="3.0" fill="#0010ff"/>
<rect x="2527.0" y="724.8" width="11.0" height="2.2" fill="#00008b"/>
<rect x="2528.0" y="734.9" width="11.0" height="2.1" fill="#00008b"/>
<rect x="2480.0" y="746.0" width="18.0" height="1.0" fill="#00008b"/>
<rect x="2503.0" y="746.0" width="11.0" height="1.0" fill="#00008b"/>
<polygon points="2524.0,742.0 2540.0,742.0 2540.0,743.0 2537.0,744.0 2541.0,748.0 2541.0,751.0 2539.0,753.0 2523.0,753.0 2521.0,749.0 2521.0,746.0" fill="#00008b"/>
<rect x="2538.0" y="745.0" width="21.0" height="2.0" fill="#0000d0"/>
<rect x="2560.0" y="745.0" width="2.0" height="2.0" fill="#00008b"/>
<rect x="2487.0" y="750.0" width="36.0" height="2.8" fill="#0000b8"/>
<rect x="2498.0" y="751.0" width="20.0" height="1.8" fill="#0010f0"/>
</g>
<rect x="2228.50" y="751.53" width="34.5" height="11.0"/>
<rect x="2242.40" y="731.58" width="20.6" height="6.9"/>
<rect x="2242.40" y="709.58" width="20.6" height="6.9"/>
<rect x="2242.40" y="687.58" width="20.6" height="6.9"/>
<rect x="2242.40" y="665.58" width="20.6" height="6.9"/>
<rect x="2228.50" y="641.53" width="34.5" height="11.0"/>
<rect x="2242.40" y="621.58" width="20.6" height="6.9"/>
<rect x="2242.40" y="599.58" width="20.6" height="6.9"/>
<rect x="2242.40" y="577.58" width="20.6" height="6.9"/>
<rect x="2242.40" y="555.58" width="20.6" height="6.9"/>
<rect x="2228.50" y="531.53" width="34.5" height="11.0"/>
<rect x="2242.40" y="511.58" width="20.6" height="6.9"/>
<rect x="2242.40" y="489.58" width="20.6" height="6.9"/>
<rect x="2273.00" y="756.53" width="11.0" height="35.7"/>
<rect x="2300.40" y="756.53" width="6.9" height="21.6"/>
<rect x="2325.75" y="756.53" width="6.9" height="21.6"/>
<rect x="2351.10" y="756.53" width="6.9" height="21.6"/>
<rect x="2376.45" y="756.53" width="6.9" height="21.6"/>
<rect x="2399.75" y="756.53" width="11.0" height="35.7"/>
<rect x="2427.15" y="756.53" width="6.9" height="21.6"/>
<rect x="2452.50" y="756.53" width="6.9" height="21.6"/>
<rect x="2477.85" y="756.53" width="6.9" height="21.6"/>
<rect x="2503.20" y="756.53" width="6.9" height="21.6"/>
<rect x="2526.50" y="756.53" width="11.0" height="35.7"/>
<rect x="2553.90" y="756.53" width="6.9" height="21.6"/>
<rect x="2579.25" y="756.53" width="6.9" height="21.6"/>
<rect x="2604.60" y="756.53" width="6.9" height="21.6"/>
<rect x="2629.95" y="756.53" width="6.9" height="21.6"/>
<rect x="2653.25" y="756.53" width="11.0" height="35.7"/>
<rect x="2680.65" y="756.53" width="6.9" height="21.6"/>
<rect x="2706.00" y="756.53" width="6.9" height="21.6"/>
<rect x="2731.35" y="756.53" width="6.9" height="21.6"/>
<rect x="2756.70" y="756.53" width="6.9" height="21.6"/>
<rect x="2780.00" y="756.53" width="11.0" height="35.7"/>
<rect x="2263.00" y="492.68" width="539.0" height="263.85" fill="none" stroke="#000" stroke-width="5.6"/>
<text transform="translate(2485.13,538.42) scale(1.1757,1)" font-size="36.44" font-weight="bold" fill="#000" stroke="#000" stroke-width="0.6">0700</text>
</g>
<g>
<g clip-path="url(#cp20)">
<rect x="517.0" y="1058.0" width="2.0" height="1.2" fill="#00008b"/>
<rect x="521.0" y="1058.0" width="18.0" height="1.6" fill="#00008b"/>
<rect x="564.0" y="1057.8" width="75.0" height="2.2" fill="#00008b"/>
<rect x="662.0" y="1058.0" width="14.0" height="1.2" fill="#00008b"/>
<polygon points="554.0,1066.8 576.0,1066.8 576.0,1065.0 582.0,1064.0 588.0,1062.2 596.0,1062.2 600.0,1064.5 607.0,1065.0 606.0,1068.8 554.0,1068.8" fill="#00008b"/>
<rect x="585.0" y="1065.6" width="5.0" height="1.4" fill="#0090ff"/>
</g>
<rect x="287.50" y="1068.36" width="34.5" height="11.0"/>
<rect x="301.40" y="1048.41" width="20.6" height="6.9"/>
<rect x="301.40" y="1026.41" width="20.6" height="6.9"/>
<rect x="301.40" y="1004.41" width="20.6" height="6.9"/>
<rect x="301.40" y="982.41" width="20.6" height="6.9"/>
<rect x="287.50" y="958.36" width="34.5" height="11.0"/>
<rect x="301.40" y="938.41" width="20.6" height="6.9"/>
<rect x="301.40" y="916.41" width="20.6" height="6.9"/>
<rect x="301.40" y="894.41" width="20.6" height="6.9"/>
<rect x="301.40" y="872.41" width="20.6" height="6.9"/>
<rect x="287.50" y="848.36" width="34.5" height="11.0"/>
<rect x="301.40" y="828.41" width="20.6" height="6.9"/>
<rect x="301.40" y="806.41" width="20.6" height="6.9"/>
<rect x="332.00" y="1073.36" width="11.0" height="35.7"/>
<rect x="359.40" y="1073.36" width="6.9" height="21.6"/>
<rect x="384.75" y="1073.36" width="6.9" height="21.6"/>
<rect x="410.10" y="1073.36" width="6.9" height="21.6"/>
<rect x="435.45" y="1073.36" width="6.9" height="21.6"/>
<rect x="458.75" y="1073.36" width="11.0" height="35.7"/>
<rect x="486.15" y="1073.36" width="6.9" height="21.6"/>
<rect x="511.50" y="1073.36" width="6.9" height="21.6"/>
<rect x="536.85" y="1073.36" width="6.9" height="21.6"/>
<rect x="562.20" y="1073.36" width="6.9" height="21.6"/>
<rect x="585.50" y="1073.36" width="11.0" height="35.7"/>
<rect x="612.90" y="1073.36" width="6.9" height="21.6"/>
<rect x="638.25" y="1073.36" width="6.9" height="21.6"/>
<rect x="663.60" y="1073.36" width="6.9" height="21.6"/>
<rect x="688.95" y="1073.36" width="6.9" height="21.6"/>
<rect x="712.25" y="1073.36" width="11.0" height="35.7"/>
<rect x="739.65" y="1073.36" width="6.9" height="21.6"/>
<rect x="765.00" y="1073.36" width="6.9" height="21.6"/>
<rect x="790.35" y="1073.36" width="6.9" height="21.6"/>
<rect x="815.70" y="1073.36" width="6.9" height="21.6"/>
<rect x="839.00" y="1073.36" width="11.0" height="35.7"/>
<rect x="322.00" y="809.51" width="539.0" height="263.85" fill="none" stroke="#000" stroke-width="5.6"/>
<text transform="translate(544.13,855.25) scale(1.1757,1)" font-size="36.44" font-weight="bold" fill="#000" stroke="#000" stroke-width="0.6">0800</text>
</g>
<g>
<g clip-path="url(#cp21)">
<rect x="1224.0" y="1033.6" width="15.0" height="2.4" fill="#00008b"/>
<polygon points="1224.0,1053.0 1249.0,1053.0 1249.0,1060.0 1226.0,1060.0 1227.0,1056.0 1223.0,1055.0" fill="#00008b"/>
<rect x="1233.0" y="1055.0" width="7.0" height="4.0" fill="#0030e8"/>
<rect x="1155.0" y="1064.6" width="4.0" height="2.0" fill="#00008b"/>
<rect x="1160.0" y="1064.6" width="8.0" height="2.0" fill="#00008b"/>
<rect x="1170.0" y="1064.6" width="2.0" height="2.0" fill="#00008b"/>
<rect x="1173.0" y="1064.6" width="11.0" height="2.0" fill="#00008b"/>
<rect x="1184.0" y="1063.0" width="6.0" height="2.0" fill="#00008b"/>
<rect x="1190.0" y="1064.6" width="29.0" height="2.2" fill="#00008b"/>
<polygon points="1219.0,1063.5 1229.0,1062.2 1245.0,1062.2 1250.0,1063.0 1291.0,1063.0 1291.0,1066.0 1270.0,1066.5 1246.0,1068.8 1219.0,1068.8" fill="#00008b"/>
<rect x="1211.0" y="1065.0" width="6.0" height="2.0" fill="#40ffb0"/>
<rect x="1230.0" y="1065.5" width="8.0" height="1.5" fill="#20ffd0"/>
<rect x="1258.0" y="1063.0" width="6.0" height="3.0" fill="#70ff80"/>
<rect x="1264.0" y="1063.0" width="6.0" height="3.0" fill="#00d8ff"/>
<rect x="1270.0" y="1063.0" width="6.0" height="3.0" fill="#0050ff"/>
<rect x="1293.0" y="1063.0" width="13.0" height="2.5" fill="#00008b"/>
<rect x="1319.0" y="1063.0" width="4.5" height="2.5" fill="#00008b"/>
<rect x="1325.0" y="1063.0" width="2.0" height="2.5" fill="#00008b"/>
<rect x="1246.0" y="1069.0" width="14.0" height="2.0" fill="#00008b"/>
</g>
<rect x="934.50" y="1068.36" width="34.5" height="11.0"/>
<rect x="948.40" y="1048.41" width="20.6" height="6.9"/>
<rect x="948.40" y="1026.41" width="20.6" height="6.9"/>
<rect x="948.40" y="1004.41" width="20.6" height="6.9"/>
<rect x="948.40" y="982.41" width="20.6" height="6.9"/>
<rect x="934.50" y="958.36" width="34.5" height="11.0"/>
<rect x="948.40" y="938.41" width="20.6" height="6.9"/>
<rect x="948.40" y="916.41" width="20.6" height="6.9"/>
<rect x="948.40" y="894.41" width="20.6" height="6.9"/>
<rect x="948.40" y="872.41" width="20.6" height="6.9"/>
<rect x="934.50" y="848.36" width="34.5" height="11.0"/>
<rect x="948.40" y="828.41" width="20.6" height="6.9"/>
<rect x="948.40" y="806.41" width="20.6" height="6.9"/>
<rect x="979.00" y="1073.36" width="11.0" height="35.7"/>
<rect x="1006.40" y="1073.36" width="6.9" height="21.6"/>
<rect x="1031.75" y="1073.36" width="6.9" height="21.6"/>
<rect x="1057.10" y="1073.36" width="6.9" height="21.6"/>
<rect x="1082.45" y="1073.36" width="6.9" height="21.6"/>
<rect x="1105.75" y="1073.36" width="11.0" height="35.7"/>
<rect x="1133.15" y="1073.36" width="6.9" height="21.6"/>
<rect x="1158.50" y="1073.36" width="6.9" height="21.6"/>
<rect x="1183.85" y="1073.36" width="6.9" height="21.6"/>
<rect x="1209.20" y="1073.36" width="6.9" height="21.6"/>
<rect x="1232.50" y="1073.36" width="11.0" height="35.7"/>
<rect x="1259.90" y="1073.36" width="6.9" height="21.6"/>
<rect x="1285.25" y="1073.36" width="6.9" height="21.6"/>
<rect x="1310.60" y="1073.36" width="6.9" height="21.6"/>
<rect x="1335.95" y="1073.36" width="6.9" height="21.6"/>
<rect x="1359.25" y="1073.36" width="11.0" height="35.7"/>
<rect x="1386.65" y="1073.36" width="6.9" height="21.6"/>
<rect x="1412.00" y="1073.36" width="6.9" height="21.6"/>
<rect x="1437.35" y="1073.36" width="6.9" height="21.6"/>
<rect x="1462.70" y="1073.36" width="6.9" height="21.6"/>
<rect x="1486.00" y="1073.36" width="11.0" height="35.7"/>
<rect x="969.00" y="809.51" width="539.0" height="263.85" fill="none" stroke="#000" stroke-width="5.6"/>
<text transform="translate(1191.13,855.25) scale(1.1757,1)" font-size="36.44" font-weight="bold" fill="#000" stroke="#000" stroke-width="0.6">0900</text>
</g>
<g>
<g clip-path="url(#cp22)">
<polygon points="1874.3,859.2 1874.0,861.6 1874.2,864.1 1870.6,866.5 1870.2,868.7 1867.2,871.0 1865.1,873.2 1861.8,875.4 1861.2,877.8 1862.4,880.3 1863.0,882.7 1860.9,885.2 1858.3,887.6 1853.5,890.1 1855.9,892.3 1854.0,894.5 1853.0,896.8 1852.8,899.0 1852.3,900.9 1850.9,902.9 1848.6,904.8 1854.5,906.9 1857.4,909.0 1880.2,909.0 1886.5,906.9 1892.0,904.8 1889.7,902.9 1890.1,900.9 1888.9,899.0 1888.0,896.8 1888.0,894.5 1890.7,892.3 1891.2,890.1 1893.9,887.6 1898.9,885.2 1900.7,882.7 1903.3,880.3 1908.4,877.8 1911.7,875.4 1905.0,873.2 1901.9,871.0 1900.1,868.7 1894.9,866.5 1896.5,864.1 1897.2,861.6 1897.2,859.2" fill="#0000a2"/>
<polygon points="1877.8,859.2 1876.8,861.6 1876.5,864.1 1873.1,866.5 1872.4,868.7 1869.7,871.0 1867.7,873.2 1864.7,875.4 1863.8,877.8 1864.6,880.3 1864.8,882.7 1862.6,885.2 1860.1,887.6 1855.5,890.1 1857.5,892.3 1855.6,894.5 1854.7,896.8 1854.4,899.0 1854.1,900.9 1852.9,902.9 1850.9,904.8 1857.1,906.9 1862.2,909.0 1876.3,909.0 1883.7,906.9 1889.7,904.8 1887.6,902.9 1887.8,900.9 1886.6,899.0 1885.9,896.8 1885.9,894.5 1888.3,892.3 1888.9,890.1 1891.4,887.6 1895.8,885.2 1897.5,882.7 1899.9,880.3 1904.4,877.8 1907.5,875.4 1901.7,873.2 1899.2,871.0 1897.7,868.7 1893.6,866.5 1894.6,864.1 1894.7,861.6 1893.8,859.2" fill="#0000dc"/>
<polygon points="1880.2,859.2 1879.1,861.6 1878.7,864.1 1875.6,866.5 1874.6,868.7 1872.3,871.0 1870.3,873.2 1867.6,875.4 1866.4,877.8 1866.7,880.3 1866.6,882.7 1864.4,885.2 1861.9,887.6 1857.5,890.1 1859.1,892.3 1857.3,894.5 1856.5,896.8 1856.0,899.0 1855.9,900.9 1855.0,902.9 1853.3,904.8 1859.7,906.9 1865.0,909.0 1874.1,909.0 1880.9,906.9 1887.4,904.8 1885.5,902.9 1885.5,900.9 1884.4,899.0 1883.9,896.8 1883.8,894.5 1886.0,892.3 1886.6,890.1 1888.9,887.6 1892.8,885.2 1894.3,882.7 1896.5,880.3 1900.5,877.8 1903.3,875.4 1898.5,873.2 1896.5,871.0 1895.4,868.7 1892.2,866.5 1892.8,864.1 1892.7,861.6 1891.6,859.2" fill="#0005ff"/>
<polygon points="1882.1,859.2 1880.7,861.6 1880.1,864.1 1877.4,866.5 1876.2,868.7 1874.1,871.0 1872.3,873.2 1870.0,875.4 1868.6,877.8 1868.5,880.3 1868.3,882.7 1866.1,885.2 1863.7,887.6 1859.6,890.1 1860.7,892.3 1859.0,894.5 1858.2,896.8 1857.6,899.0 1857.7,900.9 1857.1,902.9 1855.6,904.8 1861.4,906.9 1870.0,909.0 1870.0,909.0 1879.1,906.9 1885.1,904.8 1883.4,902.9 1883.3,900.9 1882.1,899.0 1881.8,896.8 1881.7,894.5 1883.7,892.3 1884.3,890.1 1886.4,887.6 1889.9,885.2 1891.5,882.7 1893.6,880.3 1897.2,877.8 1899.9,875.4 1895.9,873.2 1894.5,871.0 1893.6,868.7 1891.3,866.5 1891.7,864.1 1891.3,861.6 1889.8,859.2" fill="#0038ff"/>
<polygon points="1886.0,859.2 1882.4,861.6 1881.2,864.1 1878.8,866.5 1877.5,868.7 1875.6,871.0 1873.8,873.2 1871.7,875.4 1870.1,877.8 1869.8,880.3 1869.3,882.7 1867.1,885.2 1864.8,887.6 1860.9,890.1 1861.8,892.3 1860.2,894.5 1859.4,896.8 1858.8,899.0 1859.0,900.9 1858.6,902.9 1857.4,904.8 1862.8,906.9 1870.0,908.5 1870.0,908.5 1877.6,906.9 1883.4,904.8 1881.9,902.9 1881.6,900.9 1880.5,899.0 1880.3,896.8 1880.3,894.5 1882.1,892.3 1882.8,890.1 1884.9,887.6 1888.1,885.2 1889.6,882.7 1891.6,880.3 1894.9,877.8 1897.5,875.4 1894.0,873.2 1893.0,871.0 1892.3,868.7 1890.5,866.5 1890.7,864.1 1889.8,861.6 1886.0,859.2" fill="#006bff"/>
<polygon points="1886.2,861.2 1885.3,861.6 1882.7,864.1 1880.0,866.5 1878.6,868.7 1876.9,871.0 1875.1,873.2 1873.2,875.4 1871.5,877.8 1870.9,880.3 1870.3,882.7 1868.1,885.2 1865.8,887.6 1862.1,890.1 1862.7,892.3 1861.2,894.5 1860.4,896.8 1859.8,899.0 1860.0,900.9 1859.8,902.9 1858.7,904.8 1864.2,906.9 1870.0,908.0 1870.0,908.0 1876.2,906.9 1882.1,904.8 1880.7,902.9 1880.3,900.9 1879.1,899.0 1879.1,896.8 1879.1,894.5 1880.8,892.3 1881.5,890.1 1883.5,887.6 1886.4,885.2 1887.9,882.7 1889.7,880.3 1892.8,877.8 1895.3,875.4 1892.4,873.2 1891.6,871.0 1891.1,868.7 1889.9,866.5 1889.5,864.1 1887.1,861.6 1886.2,861.2" fill="#009eff"/>
<polygon points="1886.4,863.3 1884.9,864.1 1881.7,866.5 1880.0,868.7 1878.4,871.0 1876.5,873.2 1874.7,875.4 1872.8,877.8 1872.0,880.3 1871.2,882.7 1869.0,885.2 1866.7,887.6 1863.1,890.1 1863.5,892.3 1862.1,894.5 1861.4,896.8 1860.6,899.0 1861.0,900.9 1861.0,902.9 1860.0,904.8 1866.1,906.9 1870.0,907.5 1870.0,907.5 1874.1,906.9 1880.8,904.8 1879.5,902.9 1879.1,900.9 1877.9,899.0 1877.9,896.8 1877.9,894.5 1879.5,892.3 1880.3,890.1 1882.2,887.6 1884.9,885.2 1886.3,882.7 1888.0,880.3 1890.8,877.8 1893.1,875.4 1890.5,873.2 1890.0,871.0 1889.5,868.7 1889.0,866.5 1887.7,864.1 1886.4,863.3" fill="#00d1ff"/>
<polygon points="1886.4,865.3 1883.9,866.5 1881.7,868.7 1880.3,871.0 1878.5,873.2 1876.9,875.4 1874.8,877.8 1873.5,880.3 1872.5,882.7 1870.0,885.2 1867.6,887.6 1864.2,890.1 1864.3,892.3 1862.9,894.5 1862.2,896.8 1861.5,899.0 1861.9,900.9 1862.0,902.9 1861.2,904.8 1869.6,906.9 1870.0,907.0 1870.0,907.0 1870.5,906.9 1879.7,904.8 1878.5,902.9 1877.9,900.9 1876.8,899.0 1876.9,896.8 1876.9,894.5 1878.4,892.3 1879.1,890.1 1880.9,887.6 1883.1,885.2 1884.1,882.7 1885.6,880.3 1887.9,877.8 1889.9,875.4 1888.1,873.2 1888.0,871.0 1887.8,868.7 1887.8,866.5 1886.4,865.3" fill="#19ffde"/>
<polygon points="1884.0,871.0 1881.9,873.2 1880.3,875.4 1877.3,877.8 1875.3,880.3 1873.8,882.7 1871.3,885.2 1868.9,887.6 1865.6,890.1 1865.4,892.3 1863.9,894.5 1863.2,896.8 1862.3,899.0 1862.9,900.9 1863.1,902.9 1862.5,904.8 1870.1,906.4 1870.1,906.4 1878.4,904.8 1877.4,902.9 1876.7,900.9 1875.6,899.0 1875.7,896.8 1875.6,894.5 1876.9,892.3 1877.6,890.1 1879.1,887.6 1880.8,885.2 1881.7,882.7 1882.7,880.3 1883.9,877.8 1885.1,875.4 1883.8,873.2 1884.0,871.0" fill="#42ffb5"/>
<polygon points="1876.7,882.7 1873.4,885.2 1870.4,887.6 1867.1,890.1 1866.6,892.3 1865.2,894.5 1864.5,896.8 1863.5,899.0 1864.2,900.9 1864.7,902.9 1864.2,904.8 1870.3,905.9 1870.3,905.9 1876.7,904.8 1875.8,902.9 1875.0,900.9 1873.9,899.0 1874.1,896.8 1874.0,894.5 1875.1,892.3 1875.8,890.1 1877.1,887.6 1877.2,885.2 1876.7,882.7" fill="#6bff8c"/>
<polygon points="1872.9,888.0 1869.8,890.1 1868.4,892.3 1866.9,894.5 1866.0,896.8 1864.7,899.0 1865.5,900.9 1866.2,902.9 1866.0,904.8 1870.4,905.4 1870.4,905.4 1875.0,904.8 1874.2,902.9 1873.3,900.9 1872.2,899.0 1872.3,896.8 1871.9,894.5 1872.4,892.3 1872.7,890.1 1872.9,888.0" fill="#94ff63"/>
<polygon points="1868.9,896.8 1867.3,899.0 1868.4,900.9 1869.5,902.9 1869.7,904.8 1870.5,904.9 1870.5,904.9 1871.3,904.8 1870.9,902.9 1869.7,900.9 1868.6,899.0 1868.9,896.8" fill="#bdff3a"/>
<polygon points="1844.8,932.5 1852.4,934.9 1857.3,937.3 1855.5,939.3 1854.0,941.2 1851.4,943.2 1838.5,946.4 1839.5,948.3 1839.7,950.1 1838.4,952.0 1839.5,954.0 1840.1,955.9 1840.0,957.9 1837.3,960.1 1835.8,962.3 1834.8,964.5 1843.0,966.6 1853.0,968.8 1875.8,968.8 1883.5,966.6 1892.0,964.5 1890.2,962.3 1890.4,960.1 1887.3,957.9 1885.9,955.9 1883.6,954.0 1884.2,952.0 1887.2,950.1 1888.3,948.3 1891.0,946.4 1882.9,943.2 1882.9,941.2 1885.0,939.3 1883.0,937.3 1890.1,934.9 1893.5,932.5" fill="#0000a2"/>
<polygon points="1855.9,932.5 1858.9,934.9 1861.2,937.3 1858.7,939.3 1856.8,941.2 1853.9,943.2 1842.5,946.4 1843.0,948.3 1842.8,950.1 1841.4,952.0 1842.1,954.0 1842.6,955.9 1842.3,957.9 1840.2,960.1 1839.3,962.3 1838.9,964.5 1847.5,966.6 1858.0,968.8 1872.0,968.8 1879.9,966.6 1888.5,964.5 1887.2,962.3 1887.5,960.1 1884.9,957.9 1883.5,955.9 1881.1,954.0 1881.4,952.0 1883.9,950.1 1884.7,948.3 1886.8,946.4 1880.0,943.2 1879.9,941.2 1881.0,939.3 1879.1,937.3 1882.7,934.9 1883.1,932.5" fill="#0000dc"/>
<polygon points="1863.4,932.5 1862.5,934.9 1863.8,937.3 1861.1,939.3 1859.2,941.2 1856.4,943.2 1846.6,946.4 1846.5,948.3 1845.8,950.1 1844.4,952.0 1844.7,954.0 1845.0,955.9 1844.5,957.9 1843.1,960.1 1842.8,962.3 1843.0,964.5 1851.7,966.6 1860.8,968.8 1869.9,968.8 1876.7,966.6 1885.0,964.5 1884.2,962.3 1884.7,960.1 1882.4,957.9 1881.0,955.9 1878.6,954.0 1878.7,952.0 1880.6,950.1 1881.2,948.3 1882.5,946.4 1877.1,943.2 1877.1,941.2 1877.9,939.3 1876.6,937.3 1878.5,934.9 1876.1,932.5" fill="#0005ff"/>
<polygon points="1870.0,934.3 1867.8,934.9 1865.9,937.3 1862.8,939.3 1860.8,941.2 1858.0,943.2 1849.4,946.4 1849.2,948.3 1848.5,950.1 1847.2,952.0 1847.3,954.0 1847.4,955.9 1846.8,957.9 1846.1,960.1 1846.3,962.3 1846.6,964.5 1854.4,966.6 1866.0,968.8 1866.0,968.8 1874.6,966.6 1881.9,964.5 1881.2,962.3 1881.8,960.1 1879.9,957.9 1878.5,955.9 1876.1,954.0 1876.1,952.0 1877.7,950.1 1878.3,948.3 1879.5,946.4 1875.3,943.2 1875.3,941.2 1875.8,939.3 1874.5,937.3 1872.5,934.9 1870.0,934.3" fill="#0038ff"/>
<polygon points="1870.2,937.3 1864.8,939.3 1862.2,941.2 1859.4,943.2 1851.7,946.4 1851.3,948.3 1850.3,950.1 1849.0,952.0 1848.9,954.0 1849.2,955.9 1848.7,957.9 1848.1,960.1 1848.4,962.3 1849.0,964.5 1856.7,966.6 1865.9,968.1 1865.9,968.1 1872.9,966.6 1879.8,964.5 1879.4,962.3 1879.8,960.1 1877.9,957.9 1876.7,955.9 1874.5,954.0 1874.5,952.0 1875.8,950.1 1876.3,948.3 1877.1,946.4 1873.8,943.2 1873.8,941.2 1873.3,939.3 1870.2,937.3" fill="#006bff"/>
<polygon points="1868.5,939.3 1864.1,941.2 1860.7,943.2 1853.7,946.4 1853.1,948.3 1851.9,950.1 1850.7,952.0 1850.4,954.0 1850.6,955.9 1850.0,957.9 1849.8,960.1 1850.4,962.3 1851.2,964.5 1859.9,966.6 1865.9,967.4 1865.9,967.4 1870.4,966.6 1877.9,964.5 1877.6,962.3 1878.1,960.1 1876.4,957.9 1875.2,955.9 1873.0,954.0 1873.0,952.0 1874.0,950.1 1874.4,948.3 1875.0,946.4 1872.2,943.2 1871.6,941.2 1868.5,939.3" fill="#009eff"/>
<polygon points="1867.6,941.2 1862.6,943.2 1856.4,946.4 1855.0,948.3 1853.4,950.1 1852.1,952.0 1851.7,954.0 1851.9,955.9 1851.3,957.9 1851.4,960.1 1852.2,962.3 1853.2,964.5 1865.8,966.6 1865.8,966.6 1876.1,964.5 1876.1,962.3 1876.5,960.1 1875.0,957.9 1873.9,955.9 1871.7,954.0 1871.6,952.0 1872.3,950.1 1872.4,948.3 1872.1,946.4 1870.1,943.2 1867.6,941.2" fill="#00d1ff"/>
<polygon points="1866.0,943.2 1860.0,946.4 1857.6,948.3 1855.6,950.1 1853.8,952.0 1853.0,954.0 1853.2,955.9 1852.5,957.9 1852.9,960.1 1853.9,962.3 1856.0,964.5 1865.7,965.9 1865.7,965.9 1873.7,964.5 1874.6,962.3 1875.1,960.1 1873.8,957.9 1872.6,955.9 1870.5,954.0 1870.0,952.0 1870.0,950.1 1869.8,948.3 1868.3,946.4 1866.0,943.2" fill="#19ffde"/>
<polygon points="1863.8,947.5 1862.1,948.3 1857.8,950.1 1856.1,952.0 1854.8,954.0 1854.5,955.9 1853.6,957.9 1854.6,960.1 1856.6,962.3 1859.1,964.5 1865.6,965.2 1865.6,965.2 1871.1,964.5 1872.3,962.3 1873.4,960.1 1872.5,957.9 1871.3,955.9 1868.8,954.0 1868.0,952.0 1867.5,950.1 1865.2,948.3 1863.8,947.5" fill="#42ffb5"/>
<polygon points="1862.5,950.3 1859.3,952.0 1856.7,954.0 1856.3,955.9 1855.1,957.9 1856.7,960.1 1859.2,962.3 1865.5,964.5 1865.5,964.5 1870.1,962.3 1871.3,960.1 1870.9,957.9 1869.4,955.9 1866.9,954.0 1865.0,952.0 1862.5,950.3" fill="#6bff8c"/>
<polygon points="1862.1,953.0 1860.1,954.0 1858.1,955.9 1856.8,957.9 1859.2,960.1 1865.0,962.3 1865.0,962.3 1868.9,960.1 1869.1,957.9 1867.6,955.9 1863.5,954.0 1862.1,953.0" fill="#94ff63"/>
<polygon points="1862.6,955.4 1862.0,955.9 1858.9,957.9 1864.1,960.1 1864.1,960.1 1866.8,957.9 1863.6,955.9 1862.6,955.4" fill="#bdff3a"/>
<rect x="1872.0" y="1042.8" width="20.0" height="2.2" fill="#00008b"/>
<rect x="1837.0" y="1064.0" width="20.0" height="2.0" fill="#00008b"/>
<polygon points="1877.0,1057.0 1905.0,1057.0 1909.0,1060.0 1906.0,1066.0 1895.0,1070.6 1862.0,1070.6 1853.0,1066.0 1856.0,1063.5 1870.0,1062.0 1876.0,1059.0" fill="#00008b"/>
<rect x="1882.0" y="1060.0" width="10.0" height="2.0" fill="#00c0ff"/>
<rect x="1868.0" y="1068.0" width="8.0" height="2.0" fill="#40ffc0"/>
<rect x="1860.0" y="1064.0" width="6.0" height="2.0" fill="#0080ff"/>
</g>
<rect x="1581.50" y="1068.36" width="34.5" height="11.0"/>
<rect x="1595.40" y="1048.41" width="20.6" height="6.9"/>
<rect x="1595.40" y="1026.41" width="20.6" height="6.9"/>
<rect x="1595.40" y="1004.41" width="20.6" height="6.9"/>
<rect x="1595.40" y="982.41" width="20.6" height="6.9"/>
<rect x="1581.50" y="958.36" width="34.5" height="11.0"/>
<rect x="1595.40" y="938.41" width="20.6" height="6.9"/>
<rect x="1595.40" y="916.41" width="20.6" height="6.9"/>
<rect x="1595.40" y="894.41" width="20.6" height="6.9"/>
<rect x="1595.40" y="872.41" width="20.6" height="6.9"/>
<rect x="1581.50" y="848.36" width="34.5" height="11.0"/>
<rect x="1595.40" y="828.41" width="20.6" height="6.9"/>
<rect x="1595.40" y="806.41" width="20.6" height="6.9"/>
<rect x="1626.00" y="1073.36" width="11.0" height="35.7"/>
<rect x="1653.40" y="1073.36" width="6.9" height="21.6"/>
<rect x="1678.75" y="1073.36" width="6.9" height="21.6"/>
<rect x="1704.10" y="1073.36" width="6.9" height="21.6"/>
<rect x="1729.45" y="1073.36" width="6.9" height="21.6"/>
<rect x="1752.75" y="1073.36" width="11.0" height="35.7"/>
<rect x="1780.15" y="1073.36" width="6.9" height="21.6"/>
<rect x="1805.50" y="1073.36" width="6.9" height="21.6"/>
<rect x="1830.85" y="1073.36" width="6.9" height="21.6"/>
<rect x="1856.20" y="1073.36" width="6.9" height="21.6"/>
<rect x="1879.50" y="1073.36" width="11.0" height="35.7"/>
<rect x="1906.90" y="1073.36" width="6.9" height="21.6"/>
<rect x="1932.25" y="1073.36" width="6.9" height="21.6"/>
<rect x="1957.60" y="1073.36" width="6.9" height="21.6"/>
<rect x="1982.95" y="1073.36" width="6.9" height="21.6"/>
<rect x="2006.25" y="1073.36" width="11.0" height="35.7"/>
<rect x="2033.65" y="1073.36" width="6.9" height="21.6"/>
<rect x="2059.00" y="1073.36" width="6.9" height="21.6"/>
<rect x="2084.35" y="1073.36" width="6.9" height="21.6"/>
<rect x="2109.70" y="1073.36" width="6.9" height="21.6"/>
<rect x="2133.00" y="1073.36" width="11.0" height="35.7"/>
<rect x="1616.00" y="809.51" width="539.0" height="263.85" fill="none" stroke="#000" stroke-width="5.6"/>
<text transform="translate(1837.11,855.25) scale(1.1885,1)" font-size="36.44" font-weight="bold" fill="#000" stroke="#000" stroke-width="0.6">1000</text>
</g>
<g>
<g clip-path="url(#cp23)">
<polygon points="2516.5,888.0 2513.9,890.2 2511.0,892.4 2507.4,894.4 2505.1,896.5 2501.5,898.5 2497.3,900.5 2497.4,903.2 2494.7,905.9 2491.0,908.5 2489.1,911.1 2490.9,913.2 2491.4,915.4 2491.0,917.5 2488.4,919.5 2497.8,922.0 2505.7,924.5 2530.0,924.5 2531.3,922.0 2531.3,919.5 2531.2,917.5 2530.0,915.4 2534.0,913.2 2536.4,911.1 2533.2,908.5 2532.5,905.9 2536.8,903.2 2543.2,900.5 2542.7,898.5 2539.1,896.5 2539.3,894.4 2538.2,892.4 2535.6,890.2 2535.4,888.0" fill="#0000a2"/>
<polygon points="2520.0,888.0 2516.5,890.2 2513.2,892.4 2509.7,894.4 2507.3,896.5 2503.9,898.5 2500.0,900.5 2499.6,903.2 2496.7,905.9 2493.3,908.5 2491.6,911.1 2493.1,913.2 2493.4,915.4 2493.3,917.5 2491.2,919.5 2500.8,922.0 2509.6,924.5 2524.6,924.5 2528.1,922.0 2528.9,919.5 2528.9,917.5 2527.8,915.4 2531.3,913.2 2533.2,911.1 2530.5,908.5 2530.2,905.9 2534.3,903.2 2540.4,900.5 2539.8,898.5 2536.7,896.5 2536.9,894.4 2536.1,892.4 2533.6,890.2 2532.6,888.0" fill="#0000dc"/>
<polygon points="2522.1,888.0 2518.8,890.2 2515.4,892.4 2512.0,894.4 2509.6,896.5 2506.3,898.5 2502.6,900.5 2501.8,903.2 2498.7,905.9 2495.7,908.5 2494.1,911.1 2495.2,913.2 2495.3,915.4 2495.5,917.5 2494.0,919.5 2503.7,922.0 2511.9,924.5 2521.6,924.5 2524.9,922.0 2526.6,919.5 2526.6,917.5 2525.6,915.4 2528.6,913.2 2530.1,911.1 2527.9,908.5 2527.8,905.9 2531.9,903.2 2537.5,900.5 2536.9,898.5 2534.3,896.5 2534.5,894.4 2534.0,892.4 2531.8,890.2 2530.9,888.0" fill="#0005ff"/>
<polygon points="2524.3,888.0 2520.3,890.2 2516.9,892.4 2513.8,894.4 2511.5,896.5 2508.5,898.5 2505.3,900.5 2504.0,903.2 2500.6,905.9 2498.0,908.5 2496.7,911.1 2497.4,913.2 2497.3,915.4 2497.7,917.5 2496.8,919.5 2505.4,922.0 2516.0,924.5 2516.0,924.5 2523.0,922.0 2524.2,919.5 2524.3,917.5 2523.5,915.4 2525.9,913.2 2526.9,911.1 2525.3,908.5 2525.4,905.9 2529.4,903.2 2534.7,900.5 2534.3,898.5 2532.3,896.5 2532.7,894.4 2532.5,892.4 2530.7,890.2 2529.2,888.0" fill="#0038ff"/>
<polygon points="2526.8,888.4 2521.6,890.2 2518.2,892.4 2515.1,894.4 2512.8,896.5 2509.8,898.5 2506.8,900.5 2505.3,903.2 2501.9,905.9 2499.4,908.5 2498.1,911.1 2498.8,913.2 2498.7,915.4 2499.2,917.5 2498.4,919.5 2506.9,922.0 2515.4,923.8 2515.4,923.8 2521.3,922.0 2522.9,919.5 2522.7,917.5 2521.9,915.4 2524.1,913.2 2525.1,911.1 2523.7,908.5 2523.8,905.9 2527.9,903.2 2533.0,900.5 2532.6,898.5 2530.9,896.5 2531.3,894.4 2531.3,892.4 2529.6,890.2 2526.8,888.4" fill="#006bff"/>
<polygon points="2526.4,889.5 2523.6,890.2 2519.3,892.4 2516.3,894.4 2514.0,896.5 2511.2,898.5 2508.4,900.5 2506.6,903.2 2503.0,905.9 2500.8,908.5 2499.6,911.1 2500.1,913.2 2499.9,915.4 2500.5,917.5 2500.1,919.5 2508.7,922.0 2514.7,923.1 2514.7,923.1 2519.3,922.0 2521.5,919.5 2521.4,917.5 2520.6,915.4 2522.5,913.2 2523.2,911.1 2522.1,908.5 2522.4,905.9 2526.5,903.2 2531.3,900.5 2531.0,898.5 2529.6,896.5 2530.1,894.4 2530.3,892.4 2528.1,890.2 2526.4,889.5" fill="#009eff"/>
<polygon points="2525.9,890.6 2520.7,892.4 2517.6,894.4 2515.1,896.5 2512.4,898.5 2509.7,900.5 2507.7,903.2 2504.1,905.9 2502.0,908.5 2500.9,911.1 2501.2,913.2 2500.9,915.4 2501.7,917.5 2501.5,919.5 2511.3,922.0 2514.1,922.4 2514.1,922.4 2516.5,922.0 2520.4,919.5 2520.2,917.5 2519.4,915.4 2521.1,913.2 2521.7,911.1 2520.8,908.5 2521.2,905.9 2525.3,903.2 2529.9,900.5 2529.5,898.5 2528.4,896.5 2528.8,894.4 2528.9,892.4 2525.9,890.6" fill="#00d1ff"/>
<polygon points="2525.3,891.7 2522.7,892.4 2519.3,894.4 2516.7,896.5 2513.8,898.5 2511.0,900.5 2508.8,903.2 2505.0,905.9 2503.1,908.5 2502.1,911.1 2502.3,913.2 2501.9,915.4 2502.8,917.5 2502.9,919.5 2513.5,921.6 2513.5,921.6 2519.2,919.5 2519.0,917.5 2518.3,915.4 2519.7,913.2 2520.1,911.1 2519.5,908.5 2520.0,905.9 2524.0,903.2 2528.5,900.5 2527.8,898.5 2526.7,896.5 2527.0,894.4 2527.0,892.4 2525.3,891.7" fill="#19ffde"/>
<polygon points="2523.6,893.8 2522.3,894.4 2518.6,896.5 2515.6,898.5 2513.0,900.5 2510.3,903.2 2506.4,905.9 2504.8,908.5 2504.0,911.1 2503.7,913.2 2503.0,915.4 2504.3,917.5 2505.0,919.5 2512.9,920.9 2512.9,920.9 2517.4,919.5 2517.5,917.5 2517.2,915.4 2518.0,913.2 2517.7,911.1 2517.6,908.5 2518.4,905.9 2522.3,903.2 2526.3,900.5 2525.6,898.5 2524.8,896.5 2523.8,894.4 2523.6,893.8" fill="#42ffb5"/>
<polygon points="2521.1,897.1 2518.5,898.5 2515.0,900.5 2512.0,903.2 2507.9,905.9 2506.5,908.5 2505.9,911.1 2505.3,913.2 2504.5,915.4 2505.9,917.5 2507.1,919.5 2512.4,920.2 2512.4,920.2 2515.7,919.5 2515.8,917.5 2515.5,915.4 2515.9,913.2 2515.3,911.1 2515.6,908.5 2516.6,905.9 2520.5,903.2 2524.2,900.5 2522.0,898.5 2521.1,897.1" fill="#6bff8c"/>
<polygon points="2519.4,900.5 2515.2,903.2 2510.5,905.9 2510.0,908.5 2510.1,911.1 2510.1,911.1 2511.7,908.5 2513.4,905.9 2516.8,903.2 2519.4,900.5" fill="#94ff63"/>
<polygon points="2510.1,911.1 2507.9,913.2 2505.9,915.4 2508.6,917.5 2511.8,919.5 2511.8,919.5 2513.1,917.5 2513.9,915.4 2512.8,913.2 2510.1,911.1" fill="#94ff63"/>
<polygon points="2509.8,914.7 2509.1,915.4 2510.1,916.1 2510.1,916.1 2510.4,915.4 2509.8,914.7" fill="#bdff3a"/>
<rect x="2525.3" y="1039.0" width="18.7" height="2.8" fill="#0000c0"/>
<rect x="2516.0" y="1049.2" width="33.0" height="2.7" fill="#00008b"/>
<rect x="2530.0" y="1049.2" width="6.0" height="2.7" fill="#00c8ff"/>
<rect x="2515.0" y="1054.8" width="38.0" height="1.4" fill="#00008b"/>
<polygon points="2510.0,1057.0 2542.0,1057.0 2552.0,1061.0 2563.0,1062.5 2561.0,1066.8 2538.0,1069.9 2484.0,1069.9 2482.7,1067.0 2496.0,1062.7" fill="#00008b"/>
<polygon points="2505.0,1061.0 2535.0,1060.0 2545.0,1064.0 2530.0,1068.5 2498.0,1068.5" fill="#0030e0"/>
<polygon points="2512.0,1063.0 2530.0,1062.5 2534.0,1065.0 2524.0,1067.5 2508.0,1067.0" fill="#00a0ff"/>
<rect x="2363.5" y="1068.0" width="4.5" height="1.6" fill="#0000b0"/>
</g>
<rect x="2228.50" y="1068.36" width="34.5" height="11.0"/>
<rect x="2242.40" y="1048.41" width="20.6" height="6.9"/>
<rect x="2242.40" y="1026.41" width="20.6" height="6.9"/>
<rect x="2242.40" y="1004.41" width="20.6" height="6.9"/>
<rect x="2242.40" y="982.41" width="20.6" height="6.9"/>
<rect x="2228.50" y="958.36" width="34.5" height="11.0"/>
<rect x="2242.40" y="938.41" width="20.6" height="6.9"/>
<rect x="2242.40" y="916.41" width="20.6" height="6.9"/>
<rect x="2242.40" y="894.41" width="20.6" height="6.9"/>
<rect x="2242.40" y="872.41" width="20.6" height="6.9"/>
<rect x="2228.50" y="848.36" width="34.5" height="11.0"/>
<rect x="2242.40" y="828.41" width="20.6" height="6.9"/>
<rect x="2242.40" y="806.41" width="20.6" height="6.9"/>
<rect x="2273.00" y="1073.36" width="11.0" height="35.7"/>
<rect x="2300.40" y="1073.36" width="6.9" height="21.6"/>
<rect x="2325.75" y="1073.36" width="6.9" height="21.6"/>
<rect x="2351.10" y="1073.36" width="6.9" height="21.6"/>
<rect x="2376.45" y="1073.36" width="6.9" height="21.6"/>
<rect x="2399.75" y="1073.36" width="11.0" height="35.7"/>
<rect x="2427.15" y="1073.36" width="6.9" height="21.6"/>
<rect x="2452.50" y="1073.36" width="6.9" height="21.6"/>
<rect x="2477.85" y="1073.36" width="6.9" height="21.6"/>
<rect x="2503.20" y="1073.36" width="6.9" height="21.6"/>
<rect x="2526.50" y="1073.36" width="11.0" height="35.7"/>
<rect x="2553.90" y="1073.36" width="6.9" height="21.6"/>
<rect x="2579.25" y="1073.36" width="6.9" height="21.6"/>
<rect x="2604.60" y="1073.36" width="6.9" height="21.6"/>
<rect x="2629.95" y="1073.36" width="6.9" height="21.6"/>
<rect x="2653.25" y="1073.36" width="11.0" height="35.7"/>
<rect x="2680.65" y="1073.36" width="6.9" height="21.6"/>
<rect x="2706.00" y="1073.36" width="6.9" height="21.6"/>
<rect x="2731.35" y="1073.36" width="6.9" height="21.6"/>
<rect x="2756.70" y="1073.36" width="6.9" height="21.6"/>
<rect x="2780.00" y="1073.36" width="11.0" height="35.7"/>
<rect x="2263.00" y="809.51" width="539.0" height="263.85" fill="none" stroke="#000" stroke-width="5.6"/>
<text transform="translate(2484.04,855.25) scale(1.2201,1)" font-size="36.44" font-weight="bold" fill="#000" stroke="#000" stroke-width="0.6">1100</text>
</g>
<g>
<g clip-path="url(#cp30)">
<polygon points="569.7,1210.8 566.6,1213.3 563.8,1215.8 563.1,1218.0 565.2,1220.1 563.2,1222.3 562.2,1224.5 563.4,1226.8 560.5,1229.0 560.3,1231.3 561.0,1233.4 561.1,1235.4 561.4,1237.5 562.3,1239.5 561.3,1241.6 558.6,1243.8 557.7,1246.1 558.2,1248.3 554.6,1250.6 557.0,1252.7 555.9,1254.8 554.2,1256.8 556.3,1258.9 554.2,1261.0 549.6,1262.9 544.8,1264.8 547.0,1268.1 548.1,1270.3 552.6,1272.6 546.5,1275.2 543.7,1277.7 540.0,1280.3 538.2,1282.9 529.7,1286.1 542.6,1287.9 607.1,1287.9 611.3,1286.1 601.2,1282.9 597.9,1280.3 594.2,1277.7 601.0,1275.2 606.5,1272.6 609.3,1270.3 611.7,1268.1 610.4,1264.8 605.3,1262.9 599.2,1261.0 598.2,1258.9 597.7,1256.8 598.0,1254.8 595.6,1252.7 596.1,1250.6 594.8,1248.3 593.7,1246.1 590.0,1243.8 589.7,1241.6 591.4,1239.5 589.1,1237.5 589.2,1235.4 588.0,1233.4 586.9,1231.3 590.2,1229.0 592.9,1226.8 596.5,1224.5 598.4,1222.3 596.5,1220.1 598.3,1218.0 598.7,1215.8 593.4,1213.3 587.7,1210.8" fill="#0000a2"/>
<polygon points="571.9,1210.8 569.1,1213.3 566.2,1215.8 565.6,1218.0 567.4,1220.1 565.7,1222.3 564.7,1224.5 565.3,1226.8 562.7,1229.0 562.3,1231.3 562.9,1233.4 562.8,1235.4 563.0,1237.5 563.8,1239.5 562.7,1241.6 560.4,1243.8 559.5,1246.1 559.8,1248.3 556.5,1250.6 558.6,1252.7 557.5,1254.8 555.9,1256.8 557.7,1258.9 555.7,1261.0 551.5,1262.9 547.1,1264.8 549.0,1268.1 549.9,1270.3 553.6,1272.6 547.9,1275.2 545.1,1277.7 541.7,1280.3 539.8,1282.9 536.5,1286.1 556.3,1287.9 588.5,1287.9 604.1,1286.1 599.4,1282.9 596.3,1280.3 592.9,1277.7 599.1,1275.2 604.3,1272.6 607.2,1270.3 609.7,1268.1 608.2,1264.8 603.4,1262.9 597.6,1261.0 596.5,1258.9 596.0,1256.8 596.0,1254.8 593.6,1252.7 593.9,1250.6 592.6,1248.3 591.5,1246.1 588.2,1243.8 587.7,1241.6 589.2,1239.5 587.2,1237.5 587.2,1235.4 586.2,1233.4 585.1,1231.3 588.1,1229.0 590.6,1226.8 593.9,1224.5 595.6,1222.3 594.0,1220.1 595.5,1218.0 595.9,1215.8 590.9,1213.3 585.5,1210.8" fill="#0000dc"/>
<polygon points="573.6,1210.8 571.4,1213.3 568.7,1215.8 568.1,1218.0 569.5,1220.1 568.1,1222.3 567.1,1224.5 567.3,1226.8 564.9,1229.0 564.3,1231.3 564.9,1233.4 564.6,1235.4 564.6,1237.5 565.3,1239.5 564.1,1241.6 562.1,1243.8 561.2,1246.1 561.4,1248.3 558.5,1250.6 560.2,1252.7 559.1,1254.8 557.6,1256.8 559.0,1258.9 557.2,1261.0 553.3,1262.9 549.3,1264.8 551.1,1268.1 551.6,1270.3 554.7,1272.6 549.3,1275.2 546.5,1277.7 543.3,1280.3 541.4,1282.9 543.3,1286.1 570.0,1287.9 570.0,1287.9 596.9,1286.1 597.6,1282.9 594.8,1280.3 591.5,1277.7 597.3,1275.2 602.1,1272.6 605.1,1270.3 607.7,1268.1 605.9,1264.8 601.4,1262.9 596.0,1261.0 594.8,1258.9 594.2,1256.8 594.0,1254.8 591.6,1252.7 591.7,1250.6 590.3,1248.3 589.3,1246.1 586.4,1243.8 585.8,1241.6 587.1,1239.5 585.2,1237.5 585.2,1235.4 584.4,1233.4 583.3,1231.3 586.0,1229.0 588.2,1226.8 591.2,1224.5 592.8,1222.3 591.4,1220.1 592.8,1218.0 593.1,1215.8 588.4,1213.3 583.8,1210.8" fill="#0005ff"/>
<polygon points="574.7,1210.8 572.9,1213.3 570.5,1215.8 570.0,1218.0 571.1,1220.1 570.0,1222.3 569.0,1224.5 568.8,1226.8 566.6,1229.0 565.9,1231.3 566.5,1233.4 566.1,1235.4 566.0,1237.5 566.7,1239.5 565.6,1241.6 563.9,1243.8 563.0,1246.1 563.0,1248.3 560.5,1250.6 561.7,1252.7 560.7,1254.8 559.3,1256.8 560.4,1258.9 558.7,1261.0 555.2,1262.9 551.6,1264.8 553.2,1268.1 553.4,1270.3 555.8,1272.6 550.7,1275.2 548.0,1277.7 544.9,1280.3 543.1,1282.9 547.6,1286.1 569.9,1287.5 569.9,1287.5 592.4,1286.1 595.7,1282.9 593.2,1280.3 590.2,1277.7 595.5,1275.2 599.9,1272.6 603.0,1270.3 605.7,1268.1 603.7,1264.8 599.5,1262.9 594.5,1261.0 593.1,1258.9 592.5,1256.8 591.9,1254.8 589.6,1252.7 589.5,1250.6 588.1,1248.3 587.1,1246.1 584.5,1243.8 583.8,1241.6 585.0,1239.5 583.4,1237.5 583.5,1235.4 582.9,1233.4 581.9,1231.3 584.3,1229.0 586.4,1226.8 589.2,1224.5 590.6,1222.3 589.5,1220.1 590.7,1218.0 591.0,1215.8 586.9,1213.3 582.7,1210.8" fill="#0038ff"/>
<polygon points="576.1,1210.8 574.1,1213.3 571.9,1215.8 571.5,1218.0 572.3,1220.1 571.4,1222.3 570.4,1224.5 570.0,1226.8 567.8,1229.0 567.1,1231.3 567.6,1233.4 567.1,1235.4 567.0,1237.5 567.5,1239.5 566.4,1241.6 565.0,1243.8 564.2,1246.1 564.3,1248.3 562.1,1250.6 563.1,1252.7 562.1,1254.8 561.0,1256.8 561.8,1258.9 560.2,1261.0 557.1,1262.9 553.8,1264.8 555.3,1268.1 555.1,1270.3 556.8,1272.6 552.1,1275.2 549.4,1277.7 546.6,1280.3 544.6,1282.9 551.3,1286.1 569.8,1287.2 569.8,1287.2 588.6,1286.1 594.0,1282.9 591.6,1280.3 588.8,1277.7 593.7,1275.2 597.8,1272.6 601.0,1270.3 603.8,1268.1 601.5,1264.8 597.5,1262.9 592.9,1261.0 591.4,1258.9 590.8,1256.8 590.1,1254.8 587.9,1252.7 587.7,1250.6 586.4,1248.3 585.6,1246.1 583.3,1243.8 582.6,1241.6 583.8,1239.5 582.2,1237.5 582.3,1235.4 581.8,1233.4 580.8,1231.3 583.0,1229.0 585.0,1226.8 587.7,1224.5 589.0,1222.3 588.0,1220.1 589.1,1218.0 589.4,1215.8 585.6,1213.3 581.3,1210.8" fill="#006bff"/>
<polygon points="578.7,1210.8 575.6,1213.3 573.2,1215.8 572.8,1218.0 573.4,1220.1 572.6,1222.3 571.6,1224.5 571.0,1226.8 568.9,1229.0 568.1,1231.3 568.6,1233.4 568.1,1235.4 567.9,1237.5 568.3,1239.5 567.2,1241.6 566.0,1243.8 565.2,1246.1 565.2,1248.3 563.2,1250.6 564.0,1252.7 563.1,1254.8 562.0,1256.8 562.6,1258.9 561.2,1261.0 558.2,1262.9 555.1,1264.8 556.5,1268.1 556.2,1270.3 557.5,1272.6 552.9,1275.2 550.4,1277.7 547.5,1280.3 545.5,1282.9 554.8,1286.1 569.7,1286.8 569.7,1286.8 584.8,1286.1 592.9,1282.9 590.7,1280.3 587.9,1277.7 592.6,1275.2 596.5,1272.6 599.8,1270.3 602.6,1268.1 600.1,1264.8 596.3,1262.9 591.9,1261.0 590.4,1258.9 589.8,1256.8 588.9,1254.8 586.7,1252.7 586.4,1250.6 585.1,1248.3 584.3,1246.1 582.3,1243.8 581.5,1241.6 582.6,1239.5 581.1,1237.5 581.3,1235.4 580.9,1233.4 579.9,1231.3 582.0,1229.0 583.8,1226.8 586.4,1224.5 587.6,1222.3 586.7,1220.1 587.7,1218.0 588.0,1215.8 584.1,1213.3 578.7,1210.8" fill="#009eff"/>
<polygon points="579.4,1212.5 577.8,1213.3 574.6,1215.8 574.3,1218.0 574.7,1220.1 574.1,1222.3 573.1,1224.5 572.1,1226.8 570.1,1229.0 569.2,1231.3 569.5,1233.4 569.0,1235.4 568.6,1237.5 569.1,1239.5 568.0,1241.6 567.0,1243.8 566.2,1246.1 566.1,1248.3 564.4,1250.6 564.9,1252.7 564.0,1254.8 563.0,1256.8 563.3,1258.9 562.1,1261.0 559.3,1262.9 556.4,1264.8 557.7,1268.1 557.2,1270.3 558.1,1272.6 553.8,1275.2 551.2,1277.7 548.5,1280.3 546.5,1282.9 560.0,1286.1 569.6,1286.5 569.6,1286.5 579.4,1286.1 591.8,1282.9 589.7,1280.3 587.1,1277.7 591.5,1275.2 595.2,1272.6 598.6,1270.3 601.5,1268.1 598.8,1264.8 595.2,1262.9 591.0,1261.0 589.4,1258.9 588.7,1256.8 587.7,1254.8 585.6,1252.7 585.1,1250.6 583.9,1248.3 583.2,1246.1 581.3,1243.8 580.5,1241.6 581.5,1239.5 580.2,1237.5 580.3,1235.4 580.0,1233.4 578.9,1231.3 580.8,1229.0 582.4,1226.8 584.8,1224.5 585.9,1222.3 585.1,1220.1 586.1,1218.0 586.3,1215.8 581.9,1213.3 579.4,1212.5" fill="#00d1ff"/>
<polygon points="579.9,1214.1 576.5,1215.8 576.2,1218.0 576.3,1220.1 575.9,1222.3 574.9,1224.5 573.5,1226.8 571.8,1229.0 570.7,1231.3 570.9,1233.4 570.1,1235.4 569.6,1237.5 569.9,1239.5 568.7,1241.6 567.8,1243.8 567.0,1246.1 566.9,1248.3 565.4,1250.6 565.7,1252.7 564.8,1254.8 563.9,1256.8 564.1,1258.9 562.9,1261.0 560.3,1262.9 557.7,1264.8 558.9,1268.1 558.2,1270.3 558.7,1272.6 554.6,1275.2 552.1,1277.7 549.4,1280.3 547.4,1282.9 569.4,1286.1 569.4,1286.1 590.9,1282.9 588.9,1280.3 586.4,1277.7 590.5,1275.2 594.0,1272.6 597.5,1270.3 600.4,1268.1 597.6,1264.8 594.1,1262.9 590.1,1261.0 588.5,1258.9 587.8,1256.8 586.7,1254.8 584.5,1252.7 584.0,1250.6 582.8,1248.3 582.1,1246.1 580.4,1243.8 579.5,1241.6 580.3,1239.5 579.0,1237.5 578.9,1235.4 578.7,1233.4 577.6,1231.3 579.2,1229.0 580.7,1226.8 582.8,1224.5 583.8,1222.3 583.2,1220.1 584.0,1218.0 584.2,1215.8 579.9,1214.1" fill="#19ffde"/>
<polygon points="579.6,1222.3 578.3,1224.5 576.1,1226.8 574.4,1229.0 573.0,1231.3 572.6,1233.4 571.5,1235.4 570.8,1237.5 571.0,1239.5 569.8,1241.6 569.0,1243.8 568.0,1246.1 567.7,1248.3 566.3,1250.6 566.5,1252.7 565.6,1254.8 564.8,1256.8 564.8,1258.9 563.7,1261.0 561.2,1262.9 558.8,1264.8 559.9,1268.1 559.0,1270.3 559.2,1272.6 555.3,1275.2 552.8,1277.7 550.2,1280.3 548.2,1282.9 569.3,1285.5 569.3,1285.5 589.9,1282.9 588.1,1280.3 585.7,1277.7 589.6,1275.2 592.9,1272.6 596.4,1270.3 599.4,1268.1 596.5,1264.8 593.1,1262.9 589.3,1261.0 587.6,1258.9 586.9,1256.8 585.7,1254.8 583.5,1252.7 582.9,1250.6 581.7,1248.3 580.8,1246.1 579.2,1243.8 578.0,1241.6 578.7,1239.5 577.5,1237.5 577.5,1235.4 577.1,1233.4 575.5,1231.3 576.6,1229.0 577.5,1226.8 579.2,1224.5 579.6,1222.3" fill="#42ffb5"/>
<polygon points="574.4,1235.2 574.2,1235.4 572.8,1237.5 572.4,1239.5 570.8,1241.6 570.3,1243.8 569.4,1246.1 568.9,1248.3 567.6,1250.6 567.5,1252.7 566.5,1254.8 565.6,1256.8 565.5,1258.9 564.4,1261.0 562.2,1262.9 559.9,1264.8 560.9,1268.1 559.9,1270.3 559.8,1272.6 556.0,1275.2 553.5,1277.7 551.0,1280.3 549.0,1282.9 569.1,1285.0 569.1,1285.0 589.0,1282.9 587.3,1280.3 585.0,1277.7 588.7,1275.2 591.8,1272.6 595.4,1270.3 598.4,1268.1 595.3,1264.8 592.1,1262.9 588.5,1261.0 586.8,1258.9 586.0,1256.8 584.6,1254.8 582.4,1252.7 581.5,1250.6 580.0,1248.3 579.2,1246.1 577.8,1243.8 576.5,1241.6 576.5,1239.5 575.0,1237.5 574.4,1235.4 574.4,1235.2" fill="#6bff8c"/>
<polygon points="573.2,1241.6 572.5,1243.8 570.8,1246.1 570.0,1248.3 569.1,1250.6 568.6,1252.7 567.7,1254.8 566.9,1256.8 566.4,1258.9 565.4,1261.0 563.4,1262.9 561.5,1264.8 562.4,1268.1 561.1,1270.3 560.5,1272.6 556.8,1275.2 554.3,1277.7 552.1,1280.3 550.2,1282.9 569.0,1284.4 569.0,1284.4 587.6,1282.9 586.2,1280.3 584.3,1277.7 587.5,1275.2 590.3,1272.6 594.0,1270.3 597.1,1268.1 593.8,1264.8 590.9,1262.9 587.5,1261.0 585.6,1258.9 584.7,1256.8 583.0,1254.8 580.9,1252.7 579.9,1250.6 578.4,1248.3 577.4,1246.1 575.5,1243.8 573.2,1241.6" fill="#94ff63"/>
<polygon points="573.7,1246.1 572.2,1248.3 570.9,1250.6 569.8,1252.7 568.9,1254.8 568.2,1256.8 567.4,1258.9 566.5,1261.0 564.8,1262.9 563.2,1264.8 564.0,1268.1 562.4,1270.3 561.3,1272.6 557.9,1275.2 555.4,1277.7 553.3,1280.3 551.5,1282.9 568.8,1283.9 568.8,1283.9 586.2,1282.9 585.1,1280.3 583.3,1277.7 586.2,1275.2 588.6,1272.6 592.4,1270.3 595.6,1268.1 592.1,1264.8 589.4,1262.9 586.3,1261.0 584.4,1258.9 583.4,1256.8 581.5,1254.8 579.4,1252.7 577.8,1250.6 575.4,1248.3 573.7,1246.1" fill="#bdff3a"/>
<polygon points="574.2,1250.6 572.3,1252.7 571.0,1254.8 570.0,1256.8 568.5,1258.9 567.6,1261.0 566.2,1262.9 565.1,1264.8 565.7,1268.1 564.0,1270.3 562.2,1272.6 558.9,1275.2 556.5,1277.7 554.6,1280.3 553.4,1282.9 568.7,1283.3 568.7,1283.3 584.0,1282.9 583.9,1280.3 582.2,1277.7 584.8,1275.2 586.8,1272.6 590.6,1270.3 593.9,1268.1 590.1,1264.8 587.9,1262.9 585.2,1261.0 583.0,1258.9 581.6,1256.8 578.8,1254.8 576.2,1252.7 574.2,1250.6" fill="#e6ff10"/>
<polygon points="575.7,1257.1 570.8,1258.9 569.8,1261.0 569.2,1262.9 568.9,1264.8 569.2,1268.1 566.9,1270.3 564.0,1272.6 561.0,1275.2 558.1,1277.7 557.2,1280.3 568.8,1282.0 568.8,1282.0 581.3,1280.3 580.7,1277.7 582.2,1275.2 583.1,1272.6 587.2,1270.3 590.6,1268.1 586.4,1264.8 584.8,1262.9 582.9,1261.0 580.2,1258.9 575.7,1257.1" fill="#ffd900"/>
<rect x="553.0" y="1361.0" width="76.0" height="1.3" fill="#00008b"/>
<rect x="536.0" y="1366.3" width="82.0" height="1.2" fill="#00008b"/>
<polygon points="588.0,1357.7 608.0,1357.7 616.0,1361.0 612.0,1363.5 585.0,1363.5 582.0,1361.0" fill="#00008b"/>
<rect x="596.0" y="1360.0" width="14.0" height="2.0" fill="#00b0ff"/>
<polygon points="578.0,1364.5 594.0,1364.5 597.0,1367.0 594.0,1369.6 576.0,1369.6 573.5,1367.0" fill="#00008b"/>
<rect x="577.0" y="1366.3" width="5.0" height="1.7" fill="#60ffa0"/>
<polygon points="567.0,1372.0 604.5,1372.0 607.7,1377.0 622.0,1380.0 600.6,1383.5 599.4,1387.0 545.0,1387.0 555.5,1383.5 556.0,1380.0 565.8,1377.0" fill="#00008b"/>
<polygon points="580.0,1375.0 598.0,1375.0 600.0,1380.0 592.0,1385.0 560.0,1386.5 572.0,1381.0" fill="#0030e0"/>
<rect x="580.0" y="1378.0" width="12.0" height="4.0" fill="#00c0f0"/>
</g>
<rect x="287.50" y="1385.19" width="34.5" height="11.0"/>
<rect x="301.40" y="1365.24" width="20.6" height="6.9"/>
<rect x="301.40" y="1343.24" width="20.6" height="6.9"/>
<rect x="301.40" y="1321.24" width="20.6" height="6.9"/>
<rect x="301.40" y="1299.24" width="20.6" height="6.9"/>
<rect x="287.50" y="1275.19" width="34.5" height="11.0"/>
<rect x="301.40" y="1255.24" width="20.6" height="6.9"/>
<rect x="301.40" y="1233.24" width="20.6" height="6.9"/>
<rect x="301.40" y="1211.24" width="20.6" height="6.9"/>
<rect x="301.40" y="1189.24" width="20.6" height="6.9"/>
<rect x="287.50" y="1165.19" width="34.5" height="11.0"/>
<rect x="301.40" y="1145.24" width="20.6" height="6.9"/>
<rect x="301.40" y="1123.24" width="20.6" height="6.9"/>
<rect x="332.00" y="1390.19" width="11.0" height="35.7"/>
<rect x="359.40" y="1390.19" width="6.9" height="21.6"/>
<rect x="384.75" y="1390.19" width="6.9" height="21.6"/>
<rect x="410.10" y="1390.19" width="6.9" height="21.6"/>
<rect x="435.45" y="1390.19" width="6.9" height="21.6"/>
<rect x="458.75" y="1390.19" width="11.0" height="35.7"/>
<rect x="486.15" y="1390.19" width="6.9" height="21.6"/>
<rect x="511.50" y="1390.19" width="6.9" height="21.6"/>
<rect x="536.85" y="1390.19" width="6.9" height="21.6"/>
<rect x="562.20" y="1390.19" width="6.9" height="21.6"/>
<rect x="585.50" y="1390.19" width="11.0" height="35.7"/>
<rect x="612.90" y="1390.19" width="6.9" height="21.6"/>
<rect x="638.25" y="1390.19" width="6.9" height="21.6"/>
<rect x="663.60" y="1390.19" width="6.9" height="21.6"/>
<rect x="688.95" y="1390.19" width="6.9" height="21.6"/>
<rect x="712.25" y="1390.19" width="11.0" height="35.7"/>
<rect x="739.65" y="1390.19" width="6.9" height="21.6"/>
<rect x="765.00" y="1390.19" width="6.9" height="21.6"/>
<rect x="790.35" y="1390.19" width="6.9" height="21.6"/>
<rect x="815.70" y="1390.19" width="6.9" height="21.6"/>
<rect x="839.00" y="1390.19" width="11.0" height="35.7"/>
<rect x="322.00" y="1126.34" width="539.0" height="263.85" fill="none" stroke="#000" stroke-width="5.6"/>
<text transform="translate(543.11,1172.08) scale(1.1885,1)" font-size="36.44" font-weight="bold" fill="#000" stroke="#000" stroke-width="0.6">1200</text>
</g>
<g>
<g clip-path="url(#cp31)">
<polygon points="1210.4,1183.0 1210.5,1185.2 1209.6,1187.4 1210.2,1189.5 1211.4,1191.7 1210.1,1193.9 1210.7,1196.0 1206.3,1198.0 1205.6,1200.1 1202.7,1202.1 1201.0,1204.2 1198.6,1206.7 1196.8,1209.1 1195.6,1211.6 1198.7,1213.8 1200.7,1216.0 1201.6,1218.2 1205.7,1220.2 1204.9,1222.2 1205.2,1224.3 1207.5,1226.3 1205.8,1228.5 1207.2,1230.8 1206.6,1233.0 1207.0,1235.2 1204.9,1237.4 1206.5,1239.6 1204.7,1241.8 1206.8,1244.0 1203.9,1246.1 1203.7,1248.2 1202.8,1250.2 1203.6,1252.3 1202.3,1254.4 1203.9,1256.6 1200.3,1258.8 1199.8,1261.0 1197.8,1263.2 1199.6,1265.4 1197.8,1267.6 1200.1,1269.8 1194.9,1271.7 1189.0,1273.5 1188.3,1275.7 1188.4,1278.0 1189.1,1280.2 1190.1,1282.4 1190.3,1284.8 1191.7,1287.3 1193.6,1289.7 1195.7,1292.3 1198.5,1294.9 1201.6,1297.8 1244.4,1297.8 1245.7,1294.9 1240.9,1292.3 1235.0,1289.7 1233.8,1287.3 1235.1,1284.8 1234.1,1282.4 1233.7,1280.2 1233.1,1278.0 1234.5,1275.7 1233.9,1273.5 1235.7,1271.7 1239.9,1269.8 1239.9,1267.6 1238.7,1265.4 1236.6,1263.2 1235.9,1261.0 1238.3,1258.8 1237.9,1256.6 1238.9,1254.4 1238.3,1252.3 1238.9,1250.2 1241.0,1248.2 1242.2,1246.1 1241.3,1244.0 1241.5,1241.8 1241.5,1239.6 1242.9,1237.4 1243.4,1235.2 1244.7,1233.0 1242.4,1230.8 1243.7,1228.5 1243.1,1226.3 1242.6,1224.3 1245.3,1222.2 1246.5,1220.2 1248.0,1218.2 1245.3,1216.0 1243.0,1213.8 1240.0,1211.6 1241.6,1209.1 1240.7,1206.7 1242.3,1204.2 1241.3,1202.1 1240.3,1200.1 1239.1,1198.0 1236.3,1196.0 1236.8,1193.9 1237.2,1191.7 1238.0,1189.5 1235.4,1187.4 1237.5,1185.2 1237.0,1183.0" fill="#0000a2"/>
<polygon points="1214.4,1183.0 1213.9,1185.2 1212.7,1187.4 1212.9,1189.5 1213.7,1191.7 1212.3,1193.9 1212.8,1196.0 1208.8,1198.0 1208.0,1200.1 1205.4,1202.1 1203.9,1204.2 1201.7,1206.7 1200.1,1209.1 1199.0,1211.6 1201.8,1213.8 1203.7,1216.0 1204.8,1218.2 1208.2,1220.2 1207.5,1222.2 1207.7,1224.3 1209.8,1226.3 1208.2,1228.5 1209.4,1230.8 1208.8,1233.0 1209.1,1235.2 1207.2,1237.4 1208.5,1239.6 1206.9,1241.8 1208.7,1244.0 1206.0,1246.1 1205.8,1248.2 1204.8,1250.2 1205.3,1252.3 1204.2,1254.4 1205.5,1256.6 1202.3,1258.8 1201.7,1261.0 1199.9,1263.2 1201.3,1265.4 1199.6,1267.6 1201.7,1269.8 1196.8,1271.7 1191.4,1273.5 1190.7,1275.7 1190.8,1278.0 1191.4,1280.2 1192.2,1282.4 1192.5,1284.8 1193.8,1287.3 1195.6,1289.7 1197.9,1292.3 1200.7,1294.9 1208.3,1297.8 1229.7,1297.8 1240.9,1294.9 1237.6,1292.3 1232.7,1289.7 1231.7,1287.3 1233.0,1284.8 1232.1,1282.4 1231.8,1280.2 1231.2,1278.0 1232.5,1275.7 1231.9,1273.5 1233.6,1271.7 1237.5,1269.8 1237.5,1267.6 1236.4,1265.4 1234.6,1263.2 1234.1,1261.0 1236.2,1258.8 1235.8,1256.6 1236.8,1254.4 1236.2,1252.3 1236.9,1250.2 1238.8,1248.2 1239.7,1246.1 1239.1,1244.0 1239.2,1241.8 1239.3,1239.6 1240.6,1237.4 1241.1,1235.2 1242.2,1233.0 1240.1,1230.8 1241.2,1228.5 1240.6,1226.3 1240.0,1224.3 1242.2,1222.2 1243.0,1220.2 1244.2,1218.2 1241.7,1216.0 1239.7,1213.8 1237.0,1211.6 1238.5,1209.1 1238.0,1206.7 1239.6,1204.2 1238.7,1202.1 1237.8,1200.1 1236.8,1198.0 1234.5,1196.0 1234.8,1193.9 1235.0,1191.7 1235.3,1189.5 1232.9,1187.4 1234.1,1185.2 1233.0,1183.0" fill="#0000dc"/>
<polygon points="1217.1,1183.0 1216.5,1185.2 1215.4,1187.4 1215.5,1189.5 1215.9,1191.7 1214.5,1193.9 1214.9,1196.0 1211.3,1198.0 1210.4,1200.1 1208.2,1202.1 1206.8,1204.2 1204.7,1206.7 1203.3,1209.1 1202.3,1211.6 1204.9,1213.8 1206.7,1216.0 1207.9,1218.2 1210.6,1220.2 1210.1,1222.2 1210.3,1224.3 1212.1,1226.3 1210.6,1228.5 1211.6,1230.8 1210.9,1233.0 1211.2,1235.2 1209.5,1237.4 1210.5,1239.6 1209.1,1241.8 1210.6,1244.0 1208.1,1246.1 1207.8,1248.2 1206.9,1250.2 1207.1,1252.3 1206.1,1254.4 1207.0,1256.6 1204.2,1258.8 1203.7,1261.0 1201.9,1263.2 1203.1,1265.4 1201.5,1267.6 1203.3,1269.8 1198.7,1271.7 1193.8,1273.5 1193.1,1275.7 1193.2,1278.0 1193.7,1280.2 1194.3,1282.4 1194.7,1284.8 1195.9,1287.3 1197.6,1289.7 1200.1,1292.3 1203.0,1294.9 1215.0,1297.8 1215.0,1297.8 1236.0,1294.9 1234.2,1292.3 1230.4,1289.7 1229.7,1287.3 1230.9,1284.8 1230.1,1282.4 1229.8,1280.2 1229.4,1278.0 1230.4,1275.7 1230.0,1273.5 1231.5,1271.7 1235.1,1269.8 1235.1,1267.6 1234.2,1265.4 1232.7,1263.2 1232.2,1261.0 1234.2,1258.8 1233.7,1256.6 1234.7,1254.4 1234.1,1252.3 1234.8,1250.2 1236.5,1248.2 1237.3,1246.1 1236.9,1244.0 1237.0,1241.8 1237.1,1239.6 1238.3,1237.4 1238.9,1235.2 1239.6,1233.0 1237.8,1230.8 1238.7,1228.5 1238.1,1226.3 1237.4,1224.3 1239.2,1222.2 1239.6,1220.2 1240.4,1218.2 1238.1,1216.0 1236.4,1213.8 1234.0,1211.6 1235.5,1209.1 1235.3,1206.7 1237.0,1204.2 1236.2,1202.1 1235.3,1200.1 1234.5,1198.0 1232.7,1196.0 1232.8,1193.9 1232.8,1191.7 1232.9,1189.5 1230.7,1187.4 1231.5,1185.2 1230.3,1183.0" fill="#0005ff"/>
<polygon points="1219.2,1183.0 1218.4,1185.2 1217.2,1187.4 1217.1,1189.5 1217.3,1191.7 1216.1,1193.9 1216.4,1196.0 1213.3,1198.0 1212.4,1200.1 1210.5,1202.1 1209.3,1204.2 1207.3,1206.7 1205.9,1209.1 1205.0,1211.6 1207.4,1213.8 1209.0,1216.0 1210.3,1218.2 1212.6,1220.2 1212.3,1222.2 1212.4,1224.3 1214.0,1226.3 1212.8,1228.5 1213.6,1230.8 1213.0,1233.0 1213.3,1235.2 1211.7,1237.4 1212.5,1239.6 1211.2,1241.8 1212.5,1244.0 1210.1,1246.1 1209.8,1248.2 1208.9,1250.2 1208.9,1252.3 1208.0,1254.4 1208.6,1256.6 1206.2,1258.8 1205.6,1261.0 1204.0,1263.2 1204.9,1265.4 1203.3,1267.6 1204.8,1269.8 1200.6,1271.7 1196.2,1273.5 1195.5,1275.7 1195.6,1278.0 1196.0,1280.2 1196.4,1282.4 1196.9,1284.8 1198.1,1287.3 1199.6,1289.7 1202.2,1292.3 1204.6,1294.9 1214.7,1297.3 1214.7,1297.3 1232.4,1294.9 1231.0,1292.3 1228.1,1289.7 1227.6,1287.3 1228.7,1284.8 1228.1,1282.4 1227.9,1280.2 1227.5,1278.0 1228.4,1275.7 1228.0,1273.5 1229.4,1271.7 1232.7,1269.8 1232.7,1267.6 1232.0,1265.4 1230.7,1263.2 1230.3,1261.0 1232.1,1258.8 1231.6,1256.6 1232.6,1254.4 1232.0,1252.3 1232.7,1250.2 1234.3,1248.2 1234.9,1246.1 1234.6,1244.0 1234.7,1241.8 1234.9,1239.6 1236.0,1237.4 1236.6,1235.2 1237.2,1233.0 1235.7,1230.8 1236.4,1228.5 1236.0,1226.3 1235.2,1224.3 1236.7,1222.2 1236.9,1220.2 1237.6,1218.2 1235.4,1216.0 1233.8,1213.8 1231.6,1211.6 1233.0,1209.1 1233.0,1206.7 1234.7,1204.2 1234.0,1202.1 1233.3,1200.1 1232.7,1198.0 1231.3,1196.0 1231.4,1193.9 1231.4,1191.7 1231.3,1189.5 1229.3,1187.4 1229.7,1185.2 1228.2,1183.0" fill="#0038ff"/>
<polygon points="1223.7,1183.0 1220.7,1185.2 1218.9,1187.4 1218.5,1189.5 1218.6,1191.7 1217.3,1193.9 1217.6,1196.0 1214.7,1198.0 1213.8,1200.1 1212.1,1202.1 1211.0,1204.2 1209.0,1206.7 1207.8,1209.1 1206.9,1211.6 1209.2,1213.8 1210.8,1216.0 1212.1,1218.2 1214.0,1220.2 1213.8,1222.2 1213.9,1224.3 1215.4,1226.3 1214.2,1228.5 1214.9,1230.8 1214.3,1233.0 1214.6,1235.2 1213.0,1237.4 1213.7,1239.6 1212.5,1241.8 1213.6,1244.0 1211.4,1246.1 1211.1,1248.2 1210.2,1250.2 1210.1,1252.3 1209.4,1254.4 1209.7,1256.6 1207.7,1258.8 1207.1,1261.0 1205.6,1263.2 1206.3,1265.4 1204.8,1267.6 1206.1,1269.8 1202.3,1271.7 1198.3,1273.5 1197.6,1275.7 1197.7,1278.0 1198.1,1280.2 1198.4,1282.4 1198.9,1284.8 1199.9,1287.3 1201.1,1289.7 1203.5,1292.3 1206.0,1294.9 1214.5,1296.8 1214.5,1296.8 1229.6,1294.9 1229.0,1292.3 1226.4,1289.7 1225.8,1287.3 1226.9,1284.8 1226.2,1282.4 1226.1,1280.2 1225.8,1278.0 1226.5,1275.7 1226.3,1273.5 1227.6,1271.7 1230.7,1269.8 1230.7,1267.6 1230.2,1265.4 1229.2,1263.2 1228.9,1261.0 1230.6,1258.8 1230.1,1256.6 1231.2,1254.4 1230.5,1252.3 1231.4,1250.2 1232.8,1248.2 1233.4,1246.1 1233.3,1244.0 1233.4,1241.8 1233.7,1239.6 1234.7,1237.4 1235.3,1235.2 1235.7,1233.0 1234.4,1230.8 1235.0,1228.5 1234.5,1226.3 1233.7,1224.3 1234.9,1222.2 1234.8,1220.2 1235.3,1218.2 1233.3,1216.0 1231.9,1213.8 1229.8,1211.6 1231.3,1209.1 1231.4,1206.7 1233.2,1204.2 1232.5,1202.1 1231.8,1200.1 1231.4,1198.0 1230.3,1196.0 1230.3,1193.9 1230.2,1191.7 1230.0,1189.5 1227.9,1187.4 1227.4,1185.2 1223.7,1183.0" fill="#006bff"/>
<polygon points="1224.0,1186.0 1221.6,1187.4 1220.4,1189.5 1219.8,1191.7 1218.4,1193.9 1218.6,1196.0 1216.0,1198.0 1215.0,1200.1 1213.6,1202.1 1212.5,1204.2 1210.7,1206.7 1209.5,1209.1 1208.6,1211.6 1210.8,1213.8 1212.3,1216.0 1213.7,1218.2 1215.3,1220.2 1215.2,1222.2 1215.3,1224.3 1216.6,1226.3 1215.6,1228.5 1216.1,1230.8 1215.5,1233.0 1215.8,1235.2 1214.4,1237.4 1214.9,1239.6 1213.7,1241.8 1214.7,1244.0 1212.6,1246.1 1212.3,1248.2 1211.4,1250.2 1211.1,1252.3 1210.5,1254.4 1210.7,1256.6 1208.8,1258.8 1208.2,1261.0 1206.7,1263.2 1207.3,1265.4 1205.9,1267.6 1207.0,1269.8 1203.4,1271.7 1199.6,1273.5 1199.0,1275.7 1199.1,1278.0 1199.4,1280.2 1199.6,1282.4 1200.2,1284.8 1201.1,1287.3 1202.3,1289.7 1204.8,1292.3 1207.1,1294.9 1214.2,1296.3 1214.2,1296.3 1227.2,1294.9 1227.1,1292.3 1225.0,1289.7 1224.6,1287.3 1225.6,1284.8 1225.0,1282.4 1225.0,1280.2 1224.7,1278.0 1225.3,1275.7 1225.1,1273.5 1226.3,1271.7 1229.3,1269.8 1229.3,1267.6 1228.8,1265.4 1228.0,1263.2 1227.8,1261.0 1229.4,1258.8 1228.9,1256.6 1229.9,1254.4 1229.3,1252.3 1230.2,1250.2 1231.5,1248.2 1232.0,1246.1 1232.0,1244.0 1232.1,1241.8 1232.4,1239.6 1233.4,1237.4 1234.0,1235.2 1234.2,1233.0 1233.1,1230.8 1233.6,1228.5 1233.2,1226.3 1232.4,1224.3 1233.3,1222.2 1233.1,1220.2 1233.4,1218.2 1231.5,1216.0 1230.2,1213.8 1228.3,1211.6 1229.7,1209.1 1230.0,1206.7 1231.8,1204.2 1231.2,1202.1 1230.5,1200.1 1230.2,1198.0 1229.4,1196.0 1229.3,1193.9 1229.0,1191.7 1228.2,1189.5 1225.8,1187.4 1224.0,1186.0" fill="#009eff"/>
<polygon points="1224.3,1189.1 1223.6,1189.5 1221.5,1191.7 1219.9,1193.9 1219.9,1196.0 1217.4,1198.0 1216.3,1200.1 1214.9,1202.1 1214.0,1204.2 1212.2,1206.7 1211.1,1209.1 1210.4,1211.6 1212.5,1213.8 1214.1,1216.0 1215.6,1218.2 1216.6,1220.2 1216.5,1222.2 1216.6,1224.3 1217.7,1226.3 1216.8,1228.5 1217.2,1230.8 1216.6,1233.0 1216.9,1235.2 1215.5,1237.4 1215.9,1239.6 1214.8,1241.8 1215.7,1244.0 1213.6,1246.1 1213.4,1248.2 1212.5,1250.2 1212.0,1252.3 1211.5,1254.4 1211.5,1256.6 1209.9,1258.8 1209.3,1261.0 1207.9,1263.2 1208.3,1265.4 1207.0,1267.6 1208.0,1269.8 1204.5,1271.7 1201.0,1273.5 1200.4,1275.7 1200.5,1278.0 1200.7,1280.2 1200.9,1282.4 1201.5,1284.8 1202.3,1287.3 1203.4,1289.7 1205.9,1292.3 1208.4,1294.9 1214.0,1295.9 1214.0,1295.9 1224.2,1294.9 1225.5,1292.3 1223.7,1289.7 1223.4,1287.3 1224.4,1284.8 1223.8,1282.4 1223.9,1280.2 1223.6,1278.0 1224.1,1275.7 1224.0,1273.5 1225.1,1271.7 1227.9,1269.8 1227.9,1267.6 1227.6,1265.4 1226.9,1263.2 1226.8,1261.0 1228.2,1258.8 1227.7,1256.6 1228.8,1254.4 1228.2,1252.3 1229.1,1250.2 1230.3,1248.2 1230.7,1246.1 1230.9,1244.0 1231.0,1241.8 1231.3,1239.6 1232.2,1237.4 1232.9,1235.2 1233.0,1233.0 1232.0,1230.8 1232.3,1228.5 1231.9,1226.3 1231.1,1224.3 1231.7,1222.2 1231.1,1220.2 1231.2,1218.2 1229.5,1216.0 1228.3,1213.8 1226.7,1211.6 1228.2,1209.1 1228.6,1206.7 1230.5,1204.2 1229.9,1202.1 1229.2,1200.1 1228.9,1198.0 1228.2,1196.0 1227.9,1193.9 1227.4,1191.7 1225.1,1189.5 1224.3,1189.1" fill="#00d1ff"/>
<polygon points="1224.4,1192.1 1221.9,1193.9 1221.5,1196.0 1219.3,1198.0 1218.1,1200.1 1216.9,1202.1 1215.9,1204.2 1214.3,1206.7 1213.5,1209.1 1212.9,1211.6 1214.9,1213.8 1216.3,1216.0 1218.0,1218.2 1218.5,1220.2 1218.5,1222.2 1218.4,1224.3 1219.2,1226.3 1218.3,1228.5 1218.5,1230.8 1217.7,1233.0 1218.0,1235.2 1216.6,1237.4 1216.9,1239.6 1215.9,1241.8 1216.6,1244.0 1214.7,1246.1 1214.4,1248.2 1213.5,1250.2 1212.9,1252.3 1212.5,1254.4 1212.3,1256.6 1210.9,1258.8 1210.2,1261.0 1208.9,1263.2 1209.2,1265.4 1207.9,1267.6 1208.7,1269.8 1205.5,1271.7 1202.3,1273.5 1201.6,1275.7 1201.8,1278.0 1201.9,1280.2 1202.0,1282.4 1202.6,1284.8 1203.4,1287.3 1204.4,1289.7 1207.1,1292.3 1210.1,1294.9 1213.7,1295.4 1213.7,1295.4 1220.6,1294.9 1223.7,1292.3 1222.6,1289.7 1222.4,1287.3 1223.3,1284.8 1222.8,1282.4 1222.9,1280.2 1222.7,1278.0 1223.1,1275.7 1223.0,1273.5 1224.0,1271.7 1226.7,1269.8 1226.7,1267.6 1226.4,1265.4 1225.9,1263.2 1225.9,1261.0 1227.2,1258.8 1226.7,1256.6 1227.8,1254.4 1227.1,1252.3 1228.1,1250.2 1229.2,1248.2 1229.5,1246.1 1229.8,1244.0 1229.9,1241.8 1230.2,1239.6 1231.1,1237.4 1231.8,1235.2 1231.6,1233.0 1230.6,1230.8 1230.8,1228.5 1230.3,1226.3 1229.2,1224.3 1229.4,1222.2 1228.5,1220.2 1228.3,1218.2 1226.8,1216.0 1225.9,1213.8 1224.4,1211.6 1225.9,1209.1 1226.7,1206.7 1228.7,1204.2 1228.0,1202.1 1227.3,1200.1 1227.1,1198.0 1226.9,1196.0 1226.2,1193.9 1224.4,1192.1" fill="#19ffde"/>
<polygon points="1224.0,1196.8 1222.7,1198.0 1220.9,1200.1 1219.4,1202.1 1218.1,1204.2 1216.8,1206.7 1216.7,1209.1 1216.7,1211.6 1218.8,1213.8 1220.4,1216.0 1222.7,1218.2 1222.7,1218.2 1221.9,1216.0 1221.7,1213.8 1221.0,1211.6 1222.9,1209.1 1224.5,1206.7 1226.8,1204.2 1225.7,1202.1 1224.5,1200.1 1224.0,1198.0 1224.0,1196.8" fill="#42ffb5"/>
<polygon points="1222.7,1218.2 1221.6,1220.2 1221.3,1222.2 1220.6,1224.3 1220.9,1226.3 1220.1,1228.5 1220.1,1230.8 1219.4,1233.0 1219.6,1235.2 1218.3,1237.4 1218.4,1239.6 1217.5,1241.8 1218.0,1244.0 1216.1,1246.1 1215.8,1248.2 1214.8,1250.2 1214.0,1252.3 1213.6,1254.4 1213.2,1256.6 1211.9,1258.8 1211.2,1261.0 1209.9,1263.2 1210.0,1265.4 1208.9,1267.6 1209.5,1269.8 1206.4,1271.7 1203.4,1273.5 1202.8,1275.7 1203.0,1278.0 1203.1,1280.2 1203.0,1282.4 1203.8,1284.8 1204.5,1287.3 1205.4,1289.7 1208.7,1292.3 1213.4,1294.9 1213.4,1294.9 1221.2,1292.3 1221.4,1289.7 1221.3,1287.3 1222.2,1284.8 1221.8,1282.4 1221.9,1280.2 1221.7,1278.0 1222.0,1275.7 1222.0,1273.5 1223.0,1271.7 1225.5,1269.8 1225.5,1267.6 1225.3,1265.4 1224.9,1263.2 1224.9,1261.0 1226.1,1258.8 1225.5,1256.6 1226.6,1254.4 1225.9,1252.3 1226.7,1250.2 1227.7,1248.2 1227.8,1246.1 1228.1,1244.0 1228.2,1241.8 1228.6,1239.6 1229.3,1237.4 1230.1,1235.2 1229.7,1233.0 1228.9,1230.8 1228.9,1228.5 1228.4,1226.3 1227.0,1224.3 1226.1,1222.2 1224.1,1220.2 1222.7,1218.2" fill="#42ffb5"/>
<polygon points="1224.5,1226.3 1223.4,1228.5 1222.6,1230.8 1221.4,1233.0 1221.1,1235.2 1220.0,1237.4 1219.9,1239.6 1219.1,1241.8 1219.5,1244.0 1217.7,1246.1 1217.3,1248.2 1216.3,1250.2 1215.3,1252.3 1215.0,1254.4 1214.3,1256.6 1213.4,1258.8 1212.6,1261.0 1211.4,1263.2 1211.3,1265.4 1210.1,1267.6 1210.5,1269.8 1207.6,1271.7 1204.8,1273.5 1204.2,1275.7 1204.3,1278.0 1204.3,1280.2 1204.1,1282.4 1205.0,1284.8 1205.9,1287.3 1206.9,1289.7 1210.8,1292.3 1213.6,1293.5 1213.6,1293.5 1218.1,1292.3 1219.8,1289.7 1220.0,1287.3 1221.0,1284.8 1220.7,1282.4 1220.9,1280.2 1220.7,1278.0 1220.9,1275.7 1220.8,1273.5 1221.7,1271.7 1223.9,1269.8 1223.9,1267.6 1223.8,1265.4 1223.5,1263.2 1223.6,1261.0 1224.6,1258.8 1224.0,1256.6 1225.0,1254.4 1224.3,1252.3 1225.2,1250.2 1226.0,1248.2 1226.0,1246.1 1226.4,1244.0 1226.5,1241.8 1226.9,1239.6 1227.6,1237.4 1228.4,1235.2 1227.3,1233.0 1226.3,1230.8 1225.5,1228.5 1224.5,1226.3" fill="#6bff8c"/>
<polygon points="1222.7,1244.0 1220.8,1246.1 1220.1,1248.2 1218.7,1250.2 1217.0,1252.3 1216.6,1254.4 1215.5,1256.6 1214.9,1258.8 1214.1,1261.0 1212.9,1263.2 1212.6,1265.4 1211.5,1267.6 1211.7,1269.8 1209.0,1271.7 1206.6,1273.5 1205.9,1275.7 1206.1,1278.0 1206.0,1280.2 1205.7,1282.4 1206.7,1284.8 1207.5,1287.3 1208.4,1289.7 1213.6,1292.0 1213.6,1292.0 1218.1,1289.7 1218.4,1287.3 1219.4,1284.8 1219.2,1282.4 1219.4,1280.2 1219.3,1278.0 1219.3,1275.7 1219.4,1273.5 1220.1,1271.7 1222.1,1269.8 1222.1,1267.6 1222.1,1265.4 1222.0,1263.2 1222.2,1261.0 1223.0,1258.8 1222.4,1256.6 1223.3,1254.4 1222.2,1252.3 1222.8,1250.2 1223.0,1248.2 1222.3,1246.1 1222.7,1244.0" fill="#94ff63"/>
<polygon points="1219.8,1254.4 1218.1,1256.6 1217.9,1258.8 1216.8,1261.0 1215.5,1263.2 1214.6,1265.4 1213.4,1267.6 1213.2,1269.8 1210.5,1271.7 1208.4,1273.5 1207.7,1275.7 1207.9,1278.0 1207.7,1280.2 1207.3,1282.4 1208.4,1284.8 1209.5,1287.3 1210.9,1289.7 1213.2,1290.6 1213.2,1290.6 1215.2,1289.7 1216.5,1287.3 1217.8,1284.8 1217.7,1282.4 1218.0,1280.2 1217.9,1278.0 1217.8,1275.7 1217.9,1273.5 1218.5,1271.7 1219.8,1269.8 1219.6,1267.6 1219.5,1265.4 1219.5,1263.2 1219.6,1261.0 1219.9,1258.8 1219.0,1256.6 1219.8,1254.4" fill="#bdff3a"/>
<polygon points="1215.8,1269.8 1213.6,1271.7 1212.0,1273.5 1211.2,1275.7 1211.1,1278.0 1210.6,1280.2 1209.8,1282.4 1211.7,1284.8 1213.0,1287.3 1213.0,1287.3 1214.6,1284.8 1215.3,1282.4 1215.5,1280.2 1215.4,1278.0 1214.9,1275.7 1214.9,1273.5 1215.0,1271.7 1215.8,1269.8" fill="#e6ff10"/>
<polygon points="1215.6,1359.0 1260.6,1359.0 1256.0,1363.4 1262.0,1367.9 1244.4,1372.3 1241.4,1377.5 1273.8,1381.1 1260.6,1384.1 1245.8,1387.0 1220.8,1387.0 1205.3,1384.1 1200.9,1381.1 1213.4,1377.5 1223.7,1372.3 1223.7,1367.9 1213.4,1363.4" fill="#00008b"/>
<polygon points="1225.0,1360.0 1252.0,1360.0 1250.0,1366.0 1240.0,1369.0 1228.0,1366.0" fill="#0040f0"/>
<rect x="1228.0" y="1360.0" width="16.0" height="2.0" fill="#00d0ff"/>
<polygon points="1222.0,1380.0 1250.0,1381.0 1244.0,1386.5 1224.0,1386.5" fill="#0050ff"/>
<rect x="1228.0" y="1383.0" width="12.0" height="3.0" fill="#40ffc0"/>
</g>
<rect x="934.50" y="1385.19" width="34.5" height="11.0"/>
<rect x="948.40" y="1365.24" width="20.6" height="6.9"/>
<rect x="948.40" y="1343.24" width="20.6" height="6.9"/>
<rect x="948.40" y="1321.24" width="20.6" height="6.9"/>
<rect x="948.40" y="1299.24" width="20.6" height="6.9"/>
<rect x="934.50" y="1275.19" width="34.5" height="11.0"/>
<rect x="948.40" y="1255.24" width="20.6" height="6.9"/>
<rect x="948.40" y="1233.24" width="20.6" height="6.9"/>
<rect x="948.40" y="1211.24" width="20.6" height="6.9"/>
<rect x="948.40" y="1189.24" width="20.6" height="6.9"/>
<rect x="934.50" y="1165.19" width="34.5" height="11.0"/>
<rect x="948.40" y="1145.24" width="20.6" height="6.9"/>
<rect x="948.40" y="1123.24" width="20.6" height="6.9"/>
<rect x="979.00" y="1390.19" width="11.0" height="35.7"/>
<rect x="1006.40" y="1390.19" width="6.9" height="21.6"/>
<rect x="1031.75" y="1390.19" width="6.9" height="21.6"/>
<rect x="1057.10" y="1390.19" width="6.9" height="21.6"/>
<rect x="1082.45" y="1390.19" width="6.9" height="21.6"/>
<rect x="1105.75" y="1390.19" width="11.0" height="35.7"/>
<rect x="1133.15" y="1390.19" width="6.9" height="21.6"/>
<rect x="1158.50" y="1390.19" width="6.9" height="21.6"/>
<rect x="1183.85" y="1390.19" width="6.9" height="21.6"/>
<rect x="1209.20" y="1390.19" width="6.9" height="21.6"/>
<rect x="1232.50" y="1390.19" width="11.0" height="35.7"/>
<rect x="1259.90" y="1390.19" width="6.9" height="21.6"/>
<rect x="1285.25" y="1390.19" width="6.9" height="21.6"/>
<rect x="1310.60" y="1390.19" width="6.9" height="21.6"/>
<rect x="1335.95" y="1390.19" width="6.9" height="21.6"/>
<rect x="1359.25" y="1390.19" width="11.0" height="35.7"/>
<rect x="1386.65" y="1390.19" width="6.9" height="21.6"/>
<rect x="1412.00" y="1390.19" width="6.9" height="21.6"/>
<rect x="1437.35" y="1390.19" width="6.9" height="21.6"/>
<rect x="1462.70" y="1390.19" width="6.9" height="21.6"/>
<rect x="1486.00" y="1390.19" width="11.0" height="35.7"/>
<rect x="969.00" y="1126.34" width="539.0" height="263.85" fill="none" stroke="#000" stroke-width="5.6"/>
<text transform="translate(1190.11,1172.04) scale(1.1901,1)" font-size="36.39" font-weight="bold" fill="#000" stroke="#000" stroke-width="0.6">1300</text>
</g>
<g>
<g clip-path="url(#cp32)">
<rect x="1619.0" y="1161.8" width="8.0" height="2.1" fill="#ff6000"/>
<rect x="1628.0" y="1161.8" width="4.0" height="2.1" fill="#f04800"/>
<rect x="1632.0" y="1161.8" width="4.0" height="2.1" fill="#f03800"/>
<rect x="1636.0" y="1161.8" width="4.0" height="2.1" fill="#d0ff30"/>
<rect x="1640.0" y="1161.8" width="4.0" height="2.1" fill="#f04800"/>
<rect x="1645.0" y="1161.8" width="10.0" height="2.1" fill="#f04800"/>
<rect x="1655.0" y="1161.8" width="4.0" height="2.1" fill="#d0ff30"/>
<rect x="1660.0" y="1161.8" width="4.0" height="2.1" fill="#ff5000"/>
<rect x="1664.0" y="1161.8" width="6.0" height="2.1" fill="#ff5000"/>
<rect x="1670.0" y="1161.8" width="5.0" height="2.1" fill="#ff5000"/>
<rect x="1689.0" y="1161.8" width="4.0" height="2.1" fill="#e02000"/>
<rect x="1693.0" y="1161.8" width="5.0" height="2.1" fill="#ff6000"/>
<rect x="1698.0" y="1161.8" width="10.0" height="2.1" fill="#ff6000"/>
<rect x="1708.0" y="1161.8" width="4.0" height="2.1" fill="#ff5000"/>
<rect x="1712.0" y="1161.8" width="5.0" height="2.1" fill="#ff6000"/>
<rect x="1717.0" y="1161.8" width="5.0" height="2.1" fill="#ff5000"/>
<rect x="1724.0" y="1161.8" width="6.0" height="2.1" fill="#f03800"/>
<rect x="1730.0" y="1161.8" width="5.0" height="2.1" fill="#f04800"/>
<rect x="1735.0" y="1161.8" width="4.0" height="2.1" fill="#ff5000"/>
<rect x="1739.0" y="1161.8" width="10.0" height="2.1" fill="#d0ff30"/>
<rect x="1750.0" y="1161.8" width="8.0" height="2.1" fill="#e84000"/>
<rect x="1758.0" y="1161.8" width="10.0" height="2.1" fill="#f03800"/>
<rect x="1768.0" y="1161.8" width="1.0" height="2.1" fill="#ff6000"/>
<rect x="1783.0" y="1161.8" width="6.0" height="2.1" fill="#f04800"/>
<rect x="1789.0" y="1161.8" width="8.0" height="2.1" fill="#d0ff30"/>
<rect x="1798.0" y="1161.8" width="8.0" height="2.1" fill="#e84000"/>
<rect x="1806.0" y="1161.8" width="5.0" height="2.1" fill="#f04800"/>
<rect x="1811.0" y="1161.8" width="5.0" height="2.1" fill="#ffb000"/>
<rect x="1816.0" y="1161.8" width="1.0" height="2.1" fill="#ff6000"/>
<rect x="1944.0" y="1161.8" width="10.0" height="2.1" fill="#e83000"/>
<rect x="1956.0" y="1161.8" width="4.0" height="2.1" fill="#d0ff30"/>
<rect x="1960.0" y="1161.8" width="8.0" height="2.1" fill="#f03800"/>
<rect x="1970.0" y="1161.8" width="8.0" height="2.1" fill="#ff5000"/>
<rect x="1979.0" y="1161.8" width="5.0" height="2.1" fill="#e84000"/>
<rect x="1984.0" y="1161.8" width="4.0" height="2.1" fill="#ff8000"/>
<rect x="1989.0" y="1161.8" width="4.0" height="2.1" fill="#e83000"/>
<rect x="1995.0" y="1161.8" width="8.0" height="2.1" fill="#ff5000"/>
<rect x="2005.0" y="1161.8" width="10.0" height="2.1" fill="#ff8000"/>
<rect x="2017.0" y="1161.8" width="10.0" height="2.1" fill="#f03800"/>
<rect x="2027.0" y="1161.8" width="10.0" height="2.1" fill="#f03800"/>
<rect x="2037.0" y="1161.8" width="1.0" height="2.1" fill="#f04800"/>
<rect x="2046.5" y="1161.8" width="4.0" height="2.1" fill="#e02000"/>
<rect x="2050.5" y="1161.8" width="1.5" height="2.1" fill="#e02000"/>
<rect x="2062.6" y="1161.8" width="10.0" height="2.1" fill="#e84000"/>
<rect x="2072.6" y="1161.8" width="6.0" height="2.1" fill="#e84000"/>
<rect x="2079.6" y="1161.8" width="5.0" height="2.1" fill="#ff8000"/>
<rect x="2084.6" y="1161.8" width="10.0" height="2.1" fill="#d0ff30"/>
<rect x="2094.6" y="1161.8" width="10.0" height="2.1" fill="#f03800"/>
<rect x="2106.6" y="1161.8" width="10.0" height="2.1" fill="#e02000"/>
<rect x="2116.6" y="1161.8" width="4.0" height="2.1" fill="#ff6000"/>
<rect x="2120.6" y="1161.8" width="6.0" height="2.1" fill="#e02000"/>
<rect x="2126.6" y="1161.8" width="10.0" height="2.1" fill="#ff5000"/>
<rect x="2136.6" y="1161.8" width="8.0" height="2.1" fill="#ff8000"/>
<rect x="2144.6" y="1161.8" width="6.0" height="2.1" fill="#ffb000"/>
<rect x="2150.6" y="1161.8" width="2.4" height="2.1" fill="#ff5000"/>
<rect x="1817.5" y="1161.5" width="115.5" height="1.7" fill="#d00000"/>
<rect x="1822.0" y="1163.2" width="103.0" height="1.6" fill="#00d0ff"/>
<rect x="1734.0" y="1197.0" width="5.0" height="2.0" fill="#0000c0"/>
<polygon points="1869.5,1200.2 1863.9,1202.8 1861.0,1205.5 1857.2,1207.9 1855.5,1210.3 1854.4,1212.7 1853.8,1215.1 1852.2,1217.1 1854.1,1219.1 1854.3,1221.1 1853.8,1223.1 1848.4,1225.0 1843.4,1226.8 1840.1,1228.7 1850.9,1231.9 1849.4,1234.3 1849.8,1236.6 1850.3,1239.0 1845.7,1241.4 1840.1,1243.8 1835.5,1246.2 1839.5,1248.1 1841.6,1249.9 1843.3,1251.8 1841.2,1254.2 1843.5,1256.6 1843.4,1259.0 1840.7,1261.2 1842.2,1263.4 1841.4,1265.6 1841.4,1267.8 1839.4,1269.8 1839.4,1271.8 1840.3,1273.8 1839.7,1275.8 1840.9,1277.8 1844.5,1279.8 1846.3,1281.8 1851.4,1283.8 1850.8,1285.9 1851.3,1288.1 1850.4,1290.2 1855.1,1292.0 1856.7,1293.7 1883.8,1293.7 1885.4,1292.0 1888.6,1290.2 1889.7,1288.1 1891.2,1285.9 1888.6,1283.8 1890.1,1281.8 1889.5,1279.8 1891.8,1277.8 1889.7,1275.8 1889.1,1273.8 1886.4,1271.8 1887.2,1269.8 1884.9,1267.8 1886.5,1265.6 1886.1,1263.4 1889.3,1261.2 1888.2,1259.0 1886.6,1256.6 1882.5,1254.2 1880.9,1251.8 1881.3,1249.9 1885.3,1248.1 1887.2,1246.2 1888.8,1243.8 1889.6,1241.4 1891.7,1239.0 1890.8,1236.6 1892.4,1234.3 1892.0,1231.9 1909.6,1228.7 1901.6,1226.8 1895.6,1225.0 1889.4,1223.1 1888.5,1221.1 1886.8,1219.1 1885.2,1217.1 1880.6,1215.1 1883.6,1212.7 1885.5,1210.3 1886.1,1207.9 1887.6,1205.5 1886.8,1202.8 1883.8,1200.2" fill="#0000a2"/>
<polygon points="1871.6,1200.2 1866.0,1202.8 1862.6,1205.5 1859.1,1207.9 1857.4,1210.3 1856.3,1212.7 1855.5,1215.1 1854.1,1217.1 1855.8,1219.1 1855.9,1221.1 1855.5,1223.1 1851.0,1225.0 1847.0,1226.8 1844.6,1228.7 1853.6,1231.9 1852.1,1234.3 1852.2,1236.6 1852.5,1239.0 1848.2,1241.4 1843.1,1243.8 1838.8,1246.2 1842.1,1248.1 1843.7,1249.9 1845.2,1251.8 1843.6,1254.2 1845.8,1256.6 1846.0,1259.0 1843.4,1261.2 1844.6,1263.4 1843.7,1265.6 1843.6,1267.8 1841.8,1269.8 1842.0,1271.8 1842.8,1273.8 1842.4,1275.8 1843.6,1277.8 1847.0,1279.8 1848.8,1281.8 1853.4,1283.8 1853.2,1285.9 1853.7,1288.1 1853.3,1290.2 1858.6,1292.0 1863.3,1293.7 1876.9,1293.7 1881.7,1292.0 1885.8,1290.2 1886.7,1288.1 1888.2,1285.9 1886.0,1283.8 1887.3,1281.8 1886.8,1279.8 1888.8,1277.8 1886.9,1275.8 1886.5,1273.8 1884.2,1271.8 1885.0,1269.8 1883.0,1267.8 1884.4,1265.6 1884.0,1263.4 1886.9,1261.2 1885.8,1259.0 1884.3,1256.6 1880.5,1254.2 1878.9,1251.8 1879.1,1249.9 1882.7,1248.1 1884.4,1246.2 1885.9,1243.8 1886.7,1241.4 1888.7,1239.0 1887.9,1236.6 1889.2,1234.3 1888.8,1231.9 1903.6,1228.7 1896.8,1226.8 1891.7,1225.0 1886.3,1223.1 1885.7,1221.1 1884.4,1219.1 1883.0,1217.1 1879.1,1215.1 1881.9,1212.7 1883.6,1210.3 1884.3,1207.9 1885.7,1205.5 1884.5,1202.8 1881.1,1200.2" fill="#0000dc"/>
<polygon points="1872.9,1200.2 1868.0,1202.8 1864.3,1205.5 1861.1,1207.9 1859.3,1210.3 1858.2,1212.7 1857.2,1215.1 1856.0,1217.1 1857.4,1219.1 1857.5,1221.1 1857.2,1223.1 1853.6,1225.0 1850.5,1226.8 1849.1,1228.7 1856.3,1231.9 1854.7,1234.3 1854.7,1236.6 1854.7,1239.0 1850.8,1241.4 1846.0,1243.8 1842.1,1246.2 1844.8,1248.1 1845.9,1249.9 1847.1,1251.8 1845.9,1254.2 1848.0,1256.6 1848.5,1259.0 1846.0,1261.2 1846.9,1263.4 1845.9,1265.6 1845.8,1267.8 1844.3,1269.8 1844.5,1271.8 1845.3,1273.8 1845.1,1275.8 1846.4,1277.8 1849.6,1279.8 1851.3,1281.8 1855.5,1283.8 1855.5,1285.9 1856.2,1288.1 1856.3,1290.2 1861.5,1292.0 1870.0,1293.7 1870.0,1293.7 1878.8,1292.0 1883.0,1290.2 1883.8,1288.1 1885.2,1285.9 1883.4,1283.8 1884.5,1281.8 1884.1,1279.8 1885.8,1277.8 1884.2,1275.8 1883.9,1273.8 1882.1,1271.8 1882.7,1269.8 1881.1,1267.8 1882.3,1265.6 1882.0,1263.4 1884.4,1261.2 1883.5,1259.0 1881.9,1256.6 1878.5,1254.2 1876.9,1251.8 1877.0,1249.9 1880.2,1248.1 1881.5,1246.2 1882.9,1243.8 1883.8,1241.4 1885.8,1239.0 1885.0,1236.6 1886.0,1234.3 1885.6,1231.9 1897.7,1228.7 1891.9,1226.8 1887.7,1225.0 1883.3,1223.1 1882.8,1221.1 1881.9,1219.1 1880.9,1217.1 1877.5,1215.1 1880.1,1212.7 1881.7,1210.3 1882.5,1207.9 1883.8,1205.5 1882.3,1202.8 1879.5,1200.2" fill="#0005ff"/>
<polygon points="1874.2,1200.2 1869.2,1202.8 1865.7,1205.5 1862.9,1207.9 1861.0,1210.3 1860.0,1212.7 1858.8,1215.1 1857.9,1217.1 1859.0,1219.1 1858.9,1221.1 1858.7,1223.1 1855.8,1225.0 1853.3,1226.8 1852.4,1228.7 1858.4,1231.9 1857.0,1234.3 1856.9,1236.6 1856.8,1239.0 1853.2,1241.4 1848.9,1243.8 1845.5,1246.2 1847.4,1248.1 1848.1,1249.9 1849.0,1251.8 1848.2,1254.2 1850.2,1256.6 1851.0,1259.0 1848.7,1261.2 1849.3,1263.4 1848.2,1265.6 1847.9,1267.8 1846.7,1269.8 1847.1,1271.8 1847.8,1273.8 1847.8,1275.8 1849.1,1277.8 1852.1,1279.8 1853.8,1281.8 1857.4,1283.8 1857.5,1285.9 1858.2,1288.1 1858.4,1290.2 1863.4,1292.0 1870.0,1293.1 1870.0,1293.1 1876.8,1292.0 1880.9,1290.2 1881.4,1288.1 1882.5,1285.9 1880.9,1283.8 1881.7,1281.8 1881.4,1279.8 1882.8,1277.8 1881.4,1275.8 1881.3,1273.8 1879.9,1271.8 1880.5,1269.8 1879.2,1267.8 1880.2,1265.6 1879.9,1263.4 1882.0,1261.2 1881.1,1259.0 1879.5,1256.6 1876.5,1254.2 1874.9,1251.8 1874.9,1249.9 1877.6,1248.1 1878.6,1246.2 1880.0,1243.8 1881.0,1241.4 1882.9,1239.0 1882.4,1236.6 1883.3,1234.3 1883.1,1231.9 1893.2,1228.7 1888.1,1226.8 1884.5,1225.0 1880.6,1223.1 1880.2,1221.1 1879.6,1219.1 1878.8,1217.1 1876.0,1215.1 1878.5,1212.7 1879.9,1210.3 1880.9,1207.9 1882.1,1205.5 1881.0,1202.8 1877.9,1200.2" fill="#0038ff"/>
<polygon points="1875.7,1200.6 1870.3,1202.8 1866.6,1205.5 1864.0,1207.9 1862.1,1210.3 1861.1,1212.7 1859.8,1215.1 1859.0,1217.1 1860.0,1219.1 1859.8,1221.1 1859.7,1223.1 1857.3,1225.0 1855.4,1226.8 1855.1,1228.7 1860.0,1231.9 1858.5,1234.3 1858.3,1236.6 1858.1,1239.0 1854.7,1241.4 1850.6,1243.8 1847.4,1246.2 1849.2,1248.1 1849.7,1249.9 1850.5,1251.8 1850.0,1254.2 1851.9,1256.6 1852.8,1259.0 1850.7,1261.2 1851.2,1263.4 1850.2,1265.6 1849.9,1267.8 1848.8,1269.8 1849.2,1271.8 1849.7,1273.8 1849.7,1275.8 1850.9,1277.8 1853.7,1279.8 1855.2,1281.8 1858.6,1283.8 1858.9,1285.9 1859.6,1288.1 1860.2,1290.2 1865.6,1292.0 1870.0,1292.5 1870.0,1292.5 1874.4,1292.0 1879.3,1290.2 1879.7,1288.1 1880.7,1285.9 1879.4,1283.8 1880.1,1281.8 1879.7,1279.8 1880.8,1277.8 1879.4,1275.8 1879.3,1273.8 1878.1,1271.8 1878.6,1269.8 1877.4,1267.8 1878.4,1265.6 1878.2,1263.4 1880.1,1261.2 1879.4,1259.0 1877.7,1256.6 1874.9,1254.2 1873.4,1251.8 1873.4,1249.9 1875.9,1248.1 1876.9,1246.2 1878.2,1243.8 1879.4,1241.4 1881.2,1239.0 1880.7,1236.6 1881.4,1234.3 1881.2,1231.9 1889.8,1228.7 1885.3,1226.8 1882.2,1225.0 1878.8,1223.1 1878.5,1221.1 1878.2,1219.1 1877.6,1217.1 1875.1,1215.1 1877.5,1212.7 1878.8,1210.3 1879.9,1207.9 1881.0,1205.5 1879.8,1202.8 1875.7,1200.6" fill="#006bff"/>
<polygon points="1875.3,1201.6 1871.6,1202.8 1867.5,1205.5 1865.1,1207.9 1863.2,1210.3 1862.2,1212.7 1860.8,1215.1 1860.1,1217.1 1860.9,1219.1 1860.7,1221.1 1860.6,1223.1 1858.7,1225.0 1857.2,1226.8 1857.3,1228.7 1861.4,1231.9 1860.0,1234.3 1859.6,1236.6 1859.4,1239.0 1856.2,1241.4 1852.4,1243.8 1849.4,1246.2 1850.7,1248.1 1850.9,1249.9 1851.6,1251.8 1851.4,1254.2 1853.2,1256.6 1854.2,1259.0 1852.3,1261.2 1852.6,1263.4 1851.6,1265.6 1851.2,1267.8 1850.2,1269.8 1850.7,1271.8 1851.2,1273.8 1851.2,1275.8 1852.5,1277.8 1855.2,1279.8 1856.7,1281.8 1859.8,1283.8 1860.2,1285.9 1860.9,1288.1 1861.6,1290.2 1869.9,1292.0 1869.9,1292.0 1877.9,1290.2 1878.1,1288.1 1879.1,1285.9 1877.9,1283.8 1878.5,1281.8 1878.2,1279.8 1879.0,1277.8 1877.8,1275.8 1877.8,1273.8 1876.8,1271.8 1877.3,1269.8 1876.3,1267.8 1877.2,1265.6 1877.0,1263.4 1878.7,1261.2 1878.0,1259.0 1876.4,1256.6 1873.8,1254.2 1872.2,1251.8 1872.1,1249.9 1874.4,1248.1 1875.2,1246.2 1876.5,1243.8 1877.7,1241.4 1879.5,1239.0 1879.1,1236.6 1879.7,1234.3 1879.6,1231.9 1886.8,1228.7 1882.8,1226.8 1880.1,1225.0 1877.2,1223.1 1877.0,1221.1 1876.8,1219.1 1876.4,1217.1 1874.2,1215.1 1876.5,1212.7 1877.7,1210.3 1878.9,1207.9 1879.9,1205.5 1878.4,1202.8 1875.3,1201.6" fill="#009eff"/>
<polygon points="1874.9,1202.6 1873.8,1202.8 1868.3,1205.5 1866.1,1207.9 1864.1,1210.3 1863.1,1212.7 1861.6,1215.1 1861.1,1217.1 1861.8,1219.1 1861.5,1221.1 1861.5,1223.1 1860.0,1225.0 1859.1,1226.8 1860.0,1228.7 1862.8,1231.9 1861.3,1234.3 1860.8,1236.6 1860.5,1239.0 1857.4,1241.4 1853.8,1243.8 1851.0,1246.2 1852.1,1248.1 1852.1,1249.9 1852.6,1251.8 1852.7,1254.2 1854.4,1256.6 1855.6,1259.0 1853.7,1261.2 1854.0,1263.4 1852.9,1265.6 1852.5,1267.8 1851.6,1269.8 1852.2,1271.8 1852.6,1273.8 1852.7,1275.8 1853.9,1277.8 1856.5,1279.8 1857.9,1281.8 1860.8,1283.8 1861.3,1285.9 1862.2,1288.1 1863.4,1290.2 1869.9,1291.4 1869.9,1291.4 1876.2,1290.2 1876.7,1288.1 1877.6,1285.9 1876.6,1283.8 1877.1,1281.8 1876.8,1279.8 1877.4,1277.8 1876.3,1275.8 1876.3,1273.8 1875.6,1271.8 1876.0,1269.8 1875.1,1267.8 1875.9,1265.6 1875.8,1263.4 1877.3,1261.2 1876.8,1259.0 1875.0,1256.6 1872.7,1254.2 1871.1,1251.8 1871.0,1249.9 1873.1,1248.1 1873.8,1246.2 1875.0,1243.8 1876.3,1241.4 1878.1,1239.0 1877.6,1236.6 1878.1,1234.3 1877.9,1231.9 1883.2,1228.7 1880.2,1226.8 1878.1,1225.0 1875.7,1223.1 1875.5,1221.1 1875.6,1219.1 1875.3,1217.1 1873.4,1215.1 1875.6,1212.7 1876.8,1210.3 1878.0,1207.9 1879.0,1205.5 1876.0,1202.8 1874.9,1202.6" fill="#00d1ff"/>
<polygon points="1874.4,1203.5 1869.4,1205.5 1867.3,1207.9 1865.2,1210.3 1864.1,1212.7 1862.4,1215.1 1862.1,1217.1 1862.7,1219.1 1862.5,1221.1 1862.6,1223.1 1861.9,1225.0 1861.8,1226.8 1863.3,1228.7 1864.9,1231.9 1863.2,1234.3 1862.4,1236.6 1861.7,1239.0 1858.8,1241.4 1855.4,1243.8 1852.7,1246.2 1853.4,1248.1 1853.2,1249.9 1853.6,1251.8 1853.9,1254.2 1855.5,1256.6 1856.9,1259.0 1855.1,1261.2 1855.2,1263.4 1854.1,1265.6 1853.6,1267.8 1852.9,1269.8 1853.5,1271.8 1853.9,1273.8 1854.0,1275.8 1855.3,1277.8 1857.8,1279.8 1859.2,1281.8 1861.9,1283.8 1862.9,1285.9 1864.0,1288.1 1865.6,1290.2 1869.9,1290.8 1869.9,1290.8 1874.1,1290.2 1874.4,1288.1 1875.6,1285.9 1875.1,1283.8 1875.7,1281.8 1875.4,1279.8 1875.9,1277.8 1874.9,1275.8 1875.0,1273.8 1874.5,1271.8 1874.8,1269.8 1874.1,1267.8 1874.9,1265.6 1874.8,1263.4 1876.1,1261.2 1875.6,1259.0 1873.9,1256.6 1871.7,1254.2 1870.1,1251.8 1869.9,1249.9 1871.8,1248.1 1872.4,1246.2 1873.5,1243.8 1874.7,1241.4 1876.4,1239.0 1875.7,1236.6 1875.8,1234.3 1875.5,1231.9 1878.8,1228.7 1876.6,1226.8 1875.3,1225.0 1873.6,1223.1 1873.7,1221.1 1874.1,1219.1 1874.1,1217.1 1872.6,1215.1 1874.7,1212.7 1875.6,1210.3 1876.9,1207.9 1877.7,1205.5 1874.4,1203.5" fill="#19ffde"/>
<polygon points="1873.8,1204.5 1870.7,1205.5 1868.8,1207.9 1866.7,1210.3 1865.5,1212.7 1863.7,1215.1 1863.6,1217.1 1864.0,1219.1 1863.6,1221.1 1863.9,1223.1 1864.3,1225.0 1866.1,1226.8 1870.0,1228.7 1870.0,1228.7 1870.7,1226.8 1871.6,1225.0 1871.3,1223.1 1871.6,1221.1 1872.3,1219.1 1872.5,1217.1 1871.4,1215.1 1873.4,1212.7 1874.2,1210.3 1875.5,1207.9 1876.2,1205.5 1873.8,1204.5" fill="#42ffb5"/>
<polygon points="1870.0,1228.7 1868.0,1231.9 1865.4,1234.3 1864.2,1236.6 1863.4,1239.0 1860.7,1241.4 1857.6,1243.8 1855.2,1246.2 1855.2,1248.1 1854.4,1249.9 1854.5,1251.8 1855.0,1254.2 1856.7,1256.6 1858.3,1259.0 1856.4,1261.2 1856.3,1263.4 1855.3,1265.6 1854.7,1267.8 1854.1,1269.8 1854.8,1271.8 1855.1,1273.8 1855.6,1275.8 1857.0,1277.8 1859.6,1279.8 1861.1,1281.8 1863.5,1283.8 1864.6,1285.9 1866.6,1288.1 1869.9,1290.2 1869.9,1290.2 1871.4,1288.1 1873.4,1285.9 1873.2,1283.8 1873.6,1281.8 1873.6,1279.8 1874.0,1277.8 1873.3,1275.8 1873.7,1273.8 1873.4,1271.8 1873.7,1269.8 1873.2,1267.8 1873.8,1265.6 1873.7,1263.4 1874.9,1261.2 1874.2,1259.0 1872.6,1256.6 1870.7,1254.2 1869.1,1251.8 1868.7,1249.9 1870.1,1248.1 1870.2,1246.2 1871.2,1243.8 1872.6,1241.4 1874.2,1239.0 1873.5,1236.6 1873.2,1234.3 1871.9,1231.9 1870.0,1228.7" fill="#42ffb5"/>
<polygon points="1873.2,1205.5 1871.5,1207.9 1868.8,1210.3 1867.3,1212.7 1864.9,1215.1 1865.4,1217.1 1865.9,1219.1 1865.8,1221.1 1866.6,1223.1 1866.6,1223.1 1867.7,1221.1 1869.4,1219.1 1870.5,1217.1 1870.3,1215.1 1871.8,1212.7 1872.0,1210.3 1873.1,1207.9 1873.2,1205.5" fill="#6bff8c"/>
<polygon points="1868.7,1235.5 1867.6,1236.6 1865.8,1239.0 1863.2,1241.4 1860.1,1243.8 1857.7,1246.2 1857.2,1248.1 1856.1,1249.9 1855.9,1251.8 1856.8,1254.2 1858.4,1256.6 1860.2,1259.0 1858.4,1261.2 1857.9,1263.4 1856.6,1265.6 1855.8,1267.8 1855.5,1269.8 1856.5,1271.8 1857.0,1273.8 1857.6,1275.8 1859.1,1277.8 1861.5,1279.8 1863.0,1281.8 1865.7,1283.8 1868.2,1285.9 1868.5,1286.2 1868.5,1286.2 1868.8,1285.9 1870.3,1283.8 1871.4,1281.8 1871.6,1279.8 1871.8,1277.8 1871.2,1275.8 1871.8,1273.8 1871.9,1271.8 1872.4,1269.8 1872.2,1267.8 1872.6,1265.6 1872.4,1263.4 1873.1,1261.2 1872.4,1259.0 1870.8,1256.6 1869.2,1254.2 1867.6,1251.8 1867.1,1249.9 1868.2,1248.1 1868.0,1246.2 1868.7,1243.8 1869.8,1241.4 1871.0,1239.0 1869.4,1236.6 1868.7,1235.5" fill="#6bff8c"/>
<polygon points="1863.3,1246.2 1860.4,1248.1 1857.8,1249.9 1857.3,1251.8 1858.6,1254.2 1860.1,1256.6 1862.3,1259.0 1860.3,1261.2 1859.7,1263.4 1858.3,1265.6 1857.4,1267.8 1857.3,1269.8 1858.4,1271.8 1858.9,1273.8 1859.8,1275.8 1862.2,1277.8 1865.1,1279.8 1866.9,1281.5 1866.9,1281.5 1867.7,1279.8 1868.4,1277.8 1868.9,1275.8 1869.8,1273.8 1870.3,1271.8 1870.7,1269.8 1870.8,1267.8 1871.0,1265.6 1870.8,1263.4 1871.2,1261.2 1870.5,1259.0 1869.0,1256.6 1867.7,1254.2 1866.1,1251.8 1865.5,1249.9 1865.1,1248.1 1863.3,1246.2" fill="#94ff63"/>
<polygon points="1861.8,1249.7 1861.4,1249.9 1859.7,1251.8 1861.9,1254.2 1863.7,1256.6 1866.5,1259.0 1866.5,1259.0 1865.2,1256.6 1864.8,1254.2 1863.6,1251.8 1861.9,1249.9 1861.8,1249.7" fill="#bdff3a"/>
<polygon points="1866.5,1259.0 1864.0,1261.2 1862.1,1263.4 1860.0,1265.6 1859.0,1267.8 1859.1,1269.8 1861.0,1271.8 1862.4,1273.8 1864.3,1275.8 1864.3,1275.8 1866.2,1273.8 1868.1,1271.8 1869.1,1269.8 1869.3,1267.8 1869.4,1265.6 1868.7,1263.4 1867.8,1261.2 1866.5,1259.0" fill="#bdff3a"/>
<polygon points="1865.5,1263.9 1863.6,1265.6 1861.6,1267.8 1862.9,1269.8 1864.7,1271.4 1864.7,1271.4 1865.6,1269.8 1867.0,1267.8 1866.2,1265.6 1865.5,1263.9" fill="#e6ff10"/>
<polygon points="1863.0,1305.5 1870.0,1303.7 1880.0,1303.7 1887.0,1306.0 1880.0,1307.7 1868.0,1307.7" fill="#0000d0"/>
<rect x="1887.0" y="1359.0" width="3.0" height="1.3" fill="#00008b"/>
<rect x="1891.5" y="1359.0" width="3.5" height="1.3" fill="#00008b"/>
<rect x="1856.0" y="1364.0" width="8.0" height="1.5" fill="#00008b"/>
<rect x="1867.0" y="1364.0" width="50.0" height="2.0" fill="#00008b"/>
<polygon points="1880.0,1363.3 1905.0,1363.3 1906.0,1372.0 1888.0,1372.0 1885.0,1367.0" fill="#00008b"/>
<rect x="1888.0" y="1364.3" width="12.0" height="1.7" fill="#00c0ff"/>
<polygon points="1877.4,1373.5 1906.2,1373.5 1914.2,1378.0 1920.6,1380.4 1903.0,1383.6 1895.0,1386.8 1862.3,1386.8 1859.9,1383.6 1835.0,1380.4 1856.7,1378.0" fill="#00008b"/>
<polygon points="1870.0,1378.0 1900.0,1377.5 1896.0,1384.0 1868.0,1385.0" fill="#0040f0"/>
<rect x="1874.0" y="1380.0" width="18.0" height="3.0" fill="#00d8f0"/>
</g>
<rect x="1581.50" y="1385.19" width="34.5" height="11.0"/>
<rect x="1595.40" y="1365.24" width="20.6" height="6.9"/>
<rect x="1595.40" y="1343.24" width="20.6" height="6.9"/>
<rect x="1595.40" y="1321.24" width="20.6" height="6.9"/>
<rect x="1595.40" y="1299.24" width="20.6" height="6.9"/>
<rect x="1581.50" y="1275.19" width="34.5" height="11.0"/>
<rect x="1595.40" y="1255.24" width="20.6" height="6.9"/>
<rect x="1595.40" y="1233.24" width="20.6" height="6.9"/>
<rect x="1595.40" y="1211.24" width="20.6" height="6.9"/>
<rect x="1595.40" y="1189.24" width="20.6" height="6.9"/>
<rect x="1581.50" y="1165.19" width="34.5" height="11.0"/>
<rect x="1595.40" y="1145.24" width="20.6" height="6.9"/>
<rect x="1595.40" y="1123.24" width="20.6" height="6.9"/>
<rect x="1626.00" y="1390.19" width="11.0" height="35.7"/>
<rect x="1653.40" y="1390.19" width="6.9" height="21.6"/>
<rect x="1678.75" y="1390.19" width="6.9" height="21.6"/>
<rect x="1704.10" y="1390.19" width="6.9" height="21.6"/>
<rect x="1729.45" y="1390.19" width="6.9" height="21.6"/>
<rect x="1752.75" y="1390.19" width="11.0" height="35.7"/>
<rect x="1780.15" y="1390.19" width="6.9" height="21.6"/>
<rect x="1805.50" y="1390.19" width="6.9" height="21.6"/>
<rect x="1830.85" y="1390.19" width="6.9" height="21.6"/>
<rect x="1856.20" y="1390.19" width="6.9" height="21.6"/>
<rect x="1879.50" y="1390.19" width="11.0" height="35.7"/>
<rect x="1906.90" y="1390.19" width="6.9" height="21.6"/>
<rect x="1932.25" y="1390.19" width="6.9" height="21.6"/>
<rect x="1957.60" y="1390.19" width="6.9" height="21.6"/>
<rect x="1982.95" y="1390.19" width="6.9" height="21.6"/>
<rect x="2006.25" y="1390.19" width="11.0" height="35.7"/>
<rect x="2033.65" y="1390.19" width="6.9" height="21.6"/>
<rect x="2059.00" y="1390.19" width="6.9" height="21.6"/>
<rect x="2084.35" y="1390.19" width="6.9" height="21.6"/>
<rect x="2109.70" y="1390.19" width="6.9" height="21.6"/>
<rect x="2133.00" y="1390.19" width="11.0" height="35.7"/>
<rect x="1616.00" y="1126.34" width="539.0" height="263.85" fill="none" stroke="#000" stroke-width="5.6"/>
<text transform="translate(1837.11,1172.08) scale(1.1885,1)" font-size="36.44" font-weight="bold" fill="#000" stroke="#000" stroke-width="0.6">1400</text>
</g>
<g>
<g clip-path="url(#cp33)">
<polygon points="2524.4,1219.2 2516.1,1221.9 2511.7,1224.6 2511.4,1227.0 2511.7,1229.5 2510.3,1231.9 2509.2,1234.0 2508.3,1236.0 2506.5,1238.1 2508.5,1240.8 2512.5,1243.6 2508.8,1245.8 2502.3,1247.9 2494.4,1250.0 2485.9,1252.0 2479.2,1254.1 2486.4,1256.2 2491.6,1258.4 2481.1,1260.8 2474.8,1263.3 2481.7,1266.0 2487.6,1268.8 2484.8,1271.0 2485.7,1273.1 2481.8,1275.2 2479.9,1277.4 2479.3,1279.6 2479.2,1281.7 2474.9,1283.8 2473.3,1286.0 2474.7,1288.5 2475.8,1290.9 2477.8,1293.4 2479.7,1295.8 2481.9,1298.3 2482.6,1300.8 2479.4,1303.2 2479.8,1305.7 2481.0,1307.8 2482.9,1310.0 2491.3,1311.8 2502.3,1313.6 2528.7,1313.6 2534.0,1311.8 2536.8,1310.0 2536.3,1307.8 2537.5,1305.7 2536.3,1303.2 2534.8,1300.8 2534.1,1298.3 2533.6,1295.8 2532.5,1293.4 2535.0,1290.9 2534.8,1288.5 2532.6,1286.0 2533.0,1283.8 2531.3,1281.7 2531.2,1279.6 2531.9,1277.4 2531.7,1275.2 2532.3,1273.1 2530.7,1271.0 2530.4,1268.8 2532.2,1266.0 2532.3,1263.3 2531.6,1260.8 2526.8,1258.4 2529.4,1256.2 2530.4,1254.1 2533.8,1252.0 2535.1,1250.0 2537.3,1247.9 2539.6,1245.8 2544.4,1243.6 2543.0,1240.8 2543.0,1238.1 2542.6,1236.0 2542.5,1234.0 2542.0,1231.9 2543.2,1229.5 2544.6,1227.0 2544.0,1224.6 2542.3,1221.9 2538.6,1219.2" fill="#0000a2"/>
<polygon points="2526.0,1219.2 2518.6,1221.9 2514.0,1224.6 2513.7,1227.0 2513.9,1229.5 2512.7,1231.9 2511.7,1234.0 2510.8,1236.0 2509.3,1238.1 2510.8,1240.8 2514.2,1243.6 2510.5,1245.8 2504.1,1247.9 2496.8,1250.0 2488.9,1252.0 2482.7,1254.1 2488.9,1256.2 2493.5,1258.4 2484.5,1260.8 2479.2,1263.3 2484.9,1266.0 2489.8,1268.8 2487.1,1271.0 2487.7,1273.1 2484.1,1275.2 2482.2,1277.4 2481.5,1279.6 2481.1,1281.7 2477.1,1283.8 2475.5,1286.0 2477.0,1288.5 2478.3,1290.9 2480.2,1293.4 2482.1,1295.8 2484.2,1298.3 2484.7,1300.8 2481.7,1303.2 2482.0,1305.7 2483.4,1307.8 2485.7,1310.0 2494.8,1311.8 2507.2,1313.6 2520.3,1313.6 2529.7,1311.8 2533.8,1310.0 2533.4,1307.8 2534.7,1305.7 2533.6,1303.2 2532.2,1300.8 2531.5,1298.3 2531.0,1295.8 2529.9,1293.4 2532.1,1290.9 2532.1,1288.5 2530.1,1286.0 2530.4,1283.8 2528.9,1281.7 2528.8,1279.6 2529.4,1277.4 2529.1,1275.2 2529.5,1273.1 2527.9,1271.0 2527.5,1268.8 2528.8,1266.0 2528.5,1263.3 2528.0,1260.8 2524.0,1258.4 2526.5,1256.2 2527.8,1254.1 2531.2,1252.0 2532.7,1250.0 2535.1,1247.9 2537.6,1245.8 2542.3,1243.6 2540.9,1240.8 2540.9,1238.1 2540.4,1236.0 2540.4,1234.0 2539.9,1231.9 2540.8,1229.5 2542.0,1227.0 2541.4,1224.6 2539.4,1221.9 2535.5,1219.2" fill="#0000dc"/>
<polygon points="2527.0,1219.2 2520.9,1221.9 2516.2,1224.6 2516.0,1227.0 2516.2,1229.5 2515.1,1231.9 2514.2,1234.0 2513.4,1236.0 2512.0,1238.1 2513.0,1240.8 2515.9,1243.6 2512.1,1245.8 2505.9,1247.9 2499.2,1250.0 2492.0,1252.0 2486.2,1254.1 2491.5,1256.2 2495.4,1258.4 2487.9,1260.8 2483.7,1263.3 2488.1,1266.0 2492.0,1268.8 2489.3,1271.0 2489.7,1273.1 2486.3,1275.2 2484.5,1277.4 2483.6,1279.6 2483.1,1281.7 2479.3,1283.8 2477.6,1286.0 2479.4,1288.5 2480.8,1290.9 2482.6,1293.4 2484.5,1295.8 2486.5,1298.3 2486.8,1300.8 2484.0,1303.2 2484.1,1305.7 2485.9,1307.8 2488.5,1310.0 2498.2,1311.8 2512.0,1313.6 2512.0,1313.6 2525.4,1311.8 2530.7,1310.0 2530.6,1307.8 2531.9,1305.7 2530.8,1303.2 2529.6,1300.8 2528.8,1298.3 2528.4,1295.8 2527.3,1293.4 2529.2,1290.9 2529.4,1288.5 2527.6,1286.0 2527.9,1283.8 2526.5,1281.7 2526.4,1279.6 2527.0,1277.4 2526.6,1275.2 2526.6,1273.1 2525.1,1271.0 2524.6,1268.8 2525.4,1266.0 2524.8,1263.3 2524.4,1260.8 2521.2,1258.4 2523.7,1256.2 2525.1,1254.1 2528.6,1252.0 2530.3,1250.0 2532.8,1247.9 2535.6,1245.8 2540.2,1243.6 2538.8,1240.8 2538.8,1238.1 2538.3,1236.0 2538.3,1234.0 2537.8,1231.9 2538.5,1229.5 2539.3,1227.0 2538.8,1224.6 2536.8,1221.9 2533.6,1219.2" fill="#0005ff"/>
<polygon points="2528.0,1219.2 2522.3,1221.9 2517.9,1224.6 2517.7,1227.0 2517.9,1229.5 2517.1,1231.9 2516.3,1234.0 2515.5,1236.0 2514.4,1238.1 2515.2,1240.8 2517.6,1243.6 2513.7,1245.8 2507.7,1247.9 2501.5,1250.0 2495.1,1252.0 2489.7,1254.1 2494.0,1256.2 2497.0,1258.4 2490.7,1260.8 2487.3,1263.3 2490.9,1266.0 2494.2,1268.8 2491.6,1271.0 2491.7,1273.1 2488.6,1275.2 2486.8,1277.4 2485.8,1279.6 2485.1,1281.7 2481.6,1283.8 2479.8,1286.0 2481.7,1288.5 2483.3,1290.9 2485.0,1293.4 2486.9,1295.8 2488.7,1298.3 2488.9,1300.8 2486.3,1303.2 2486.2,1305.7 2488.3,1307.8 2491.3,1310.0 2500.3,1311.8 2511.6,1313.2 2511.6,1313.2 2522.8,1311.8 2527.7,1310.0 2527.7,1307.8 2529.1,1305.7 2528.1,1303.2 2526.9,1300.8 2526.2,1298.3 2525.8,1295.8 2524.7,1293.4 2526.4,1290.9 2526.6,1288.5 2525.1,1286.0 2525.4,1283.8 2524.1,1281.7 2524.0,1279.6 2524.6,1277.4 2524.0,1275.2 2523.8,1273.1 2522.3,1271.0 2521.6,1268.8 2522.3,1266.0 2521.8,1263.3 2521.4,1260.8 2518.7,1258.4 2521.0,1256.2 2522.4,1254.1 2526.0,1252.0 2527.9,1250.0 2530.6,1247.9 2533.6,1245.8 2538.1,1243.6 2536.9,1240.8 2536.9,1238.1 2536.5,1236.0 2536.5,1234.0 2536.1,1231.9 2536.7,1229.5 2537.3,1227.0 2536.8,1224.6 2535.1,1221.9 2531.7,1219.2" fill="#0038ff"/>
<polygon points="2529.1,1219.7 2523.6,1221.9 2519.2,1224.6 2519.0,1227.0 2519.3,1229.5 2518.5,1231.9 2517.8,1234.0 2517.0,1236.0 2516.0,1238.1 2516.5,1240.8 2518.6,1243.6 2514.7,1245.8 2508.8,1247.9 2503.0,1250.0 2496.9,1252.0 2491.7,1254.1 2495.5,1256.2 2498.1,1258.4 2492.7,1260.8 2489.9,1263.3 2492.7,1266.0 2495.5,1268.8 2493.2,1271.0 2493.2,1273.1 2490.6,1275.2 2489.1,1277.4 2488.0,1279.6 2487.1,1281.7 2483.8,1283.8 2481.9,1286.0 2484.1,1288.5 2485.8,1290.9 2487.3,1293.4 2489.2,1295.8 2490.9,1298.3 2491.0,1300.8 2488.5,1303.2 2488.4,1305.7 2490.5,1307.8 2493.4,1310.0 2502.1,1311.8 2511.3,1312.8 2511.3,1312.8 2520.6,1311.8 2525.5,1310.0 2525.2,1307.8 2526.3,1305.7 2525.4,1303.2 2524.3,1300.8 2523.8,1298.3 2523.3,1295.8 2522.1,1293.4 2523.5,1290.9 2523.9,1288.5 2522.5,1286.0 2522.8,1283.8 2521.7,1281.7 2521.6,1279.6 2522.2,1277.4 2521.7,1275.2 2521.6,1273.1 2520.3,1271.0 2519.9,1268.8 2520.3,1266.0 2519.6,1263.3 2519.3,1260.8 2517.1,1258.4 2519.3,1256.2 2520.9,1254.1 2524.4,1252.0 2526.5,1250.0 2529.2,1247.9 2532.4,1245.8 2536.9,1243.6 2535.6,1240.8 2535.7,1238.1 2535.3,1236.0 2535.2,1234.0 2534.9,1231.9 2535.4,1229.5 2535.8,1227.0 2535.3,1224.6 2533.7,1221.9 2529.1,1219.7" fill="#006bff"/>
<polygon points="2528.6,1220.9 2525.4,1221.9 2520.3,1224.6 2520.1,1227.0 2520.4,1229.5 2519.8,1231.9 2519.1,1234.0 2518.4,1236.0 2517.5,1238.1 2517.8,1240.8 2519.6,1243.6 2515.7,1245.8 2509.9,1247.9 2504.4,1250.0 2498.7,1252.0 2493.7,1254.1 2496.9,1256.2 2499.2,1258.4 2494.5,1260.8 2492.2,1263.3 2494.5,1266.0 2496.8,1268.8 2494.6,1271.0 2494.4,1273.1 2491.9,1275.2 2490.4,1277.4 2489.3,1279.6 2488.5,1281.7 2485.4,1283.8 2483.7,1286.0 2485.7,1288.5 2487.2,1290.9 2488.7,1293.4 2490.6,1295.8 2492.2,1298.3 2492.3,1300.8 2490.0,1303.2 2489.8,1305.7 2492.0,1307.8 2495.0,1310.0 2504.3,1311.8 2510.9,1312.4 2510.9,1312.4 2517.9,1311.8 2523.7,1310.0 2523.5,1307.8 2524.4,1305.7 2523.7,1303.2 2522.8,1300.8 2522.2,1298.3 2521.8,1295.8 2520.6,1293.4 2521.9,1290.9 2522.0,1288.5 2520.5,1286.0 2520.9,1283.8 2520.0,1281.7 2520.1,1279.6 2520.8,1277.4 2520.2,1275.2 2520.0,1273.1 2518.7,1271.0 2518.2,1268.8 2518.4,1266.0 2517.6,1263.3 2517.5,1260.8 2515.6,1258.4 2517.7,1256.2 2519.3,1254.1 2522.9,1252.0 2525.1,1250.0 2527.9,1247.9 2531.3,1245.8 2535.6,1243.6 2534.5,1240.8 2534.5,1238.1 2534.1,1236.0 2534.1,1234.0 2533.8,1231.9 2534.2,1229.5 2534.4,1227.0 2534.0,1224.6 2531.5,1221.9 2528.6,1220.9" fill="#009eff"/>
<polygon points="2528.1,1222.1 2521.6,1224.6 2521.4,1227.0 2521.7,1229.5 2521.1,1231.9 2520.3,1234.0 2519.6,1236.0 2518.8,1238.1 2518.9,1240.8 2520.5,1243.6 2516.5,1245.8 2510.8,1247.9 2505.6,1250.0 2500.3,1252.0 2495.5,1254.1 2498.2,1256.2 2500.1,1258.4 2496.2,1260.8 2494.5,1263.3 2496.1,1266.0 2497.9,1268.8 2495.8,1271.0 2495.5,1273.1 2493.2,1275.2 2491.7,1277.4 2490.6,1279.6 2489.7,1281.7 2486.7,1283.8 2485.0,1286.0 2487.0,1288.5 2488.7,1290.9 2490.1,1293.4 2492.0,1295.8 2493.5,1298.3 2493.5,1300.8 2491.3,1303.2 2491.1,1305.7 2493.4,1307.8 2496.5,1310.0 2507.4,1311.8 2510.5,1312.0 2510.5,1312.0 2514.0,1311.8 2522.0,1310.0 2521.8,1307.8 2522.8,1305.7 2522.1,1303.2 2521.3,1300.8 2520.7,1298.3 2520.3,1295.8 2519.1,1293.4 2520.2,1290.9 2520.4,1288.5 2519.0,1286.0 2519.5,1283.8 2518.6,1281.7 2518.7,1279.6 2519.4,1277.4 2518.7,1275.2 2518.4,1273.1 2517.2,1271.0 2516.8,1268.8 2516.7,1266.0 2515.6,1263.3 2515.7,1260.8 2514.2,1258.4 2516.3,1256.2 2518.0,1254.1 2521.6,1252.0 2523.9,1250.0 2526.7,1247.9 2530.3,1245.8 2534.6,1243.6 2533.4,1240.8 2533.4,1238.1 2533.1,1236.0 2533.1,1234.0 2532.7,1231.9 2532.9,1229.5 2532.9,1227.0 2532.5,1224.6 2528.1,1222.1" fill="#00d1ff"/>
<polygon points="2527.4,1223.4 2523.3,1224.6 2523.1,1227.0 2523.3,1229.5 2522.9,1231.9 2522.2,1234.0 2521.5,1236.0 2520.7,1238.1 2520.2,1240.8 2521.4,1243.6 2517.3,1245.8 2511.7,1247.9 2506.8,1250.0 2501.8,1252.0 2497.2,1254.1 2499.7,1256.2 2501.4,1258.4 2498.6,1260.8 2497.9,1263.3 2498.1,1266.0 2499.0,1268.8 2496.9,1271.0 2496.5,1273.1 2494.4,1275.2 2493.0,1277.4 2491.8,1279.6 2490.8,1281.7 2488.0,1283.8 2486.2,1286.0 2488.4,1288.5 2490.1,1290.9 2491.4,1293.4 2493.2,1295.8 2494.7,1298.3 2494.7,1300.8 2492.6,1303.2 2492.3,1305.7 2494.7,1307.8 2497.9,1310.0 2510.2,1311.6 2510.2,1311.6 2520.5,1310.0 2520.3,1307.8 2521.2,1305.7 2520.5,1303.2 2519.8,1300.8 2519.3,1298.3 2518.9,1295.8 2517.7,1293.4 2518.6,1290.9 2518.8,1288.5 2517.5,1286.0 2518.0,1283.8 2517.2,1281.7 2517.4,1279.6 2518.1,1277.4 2517.4,1275.2 2516.9,1273.1 2515.8,1271.0 2515.3,1268.8 2514.5,1266.0 2512.8,1263.3 2513.0,1260.8 2512.3,1258.4 2514.7,1256.2 2516.7,1254.1 2520.3,1252.0 2522.7,1250.0 2525.6,1247.9 2529.3,1245.8 2533.5,1243.6 2532.2,1240.8 2532.0,1238.1 2531.5,1236.0 2531.5,1234.0 2531.1,1231.9 2531.1,1229.5 2530.9,1227.0 2530.5,1224.6 2527.4,1223.4" fill="#19ffde"/>
<polygon points="2526.7,1224.6 2526.2,1227.0 2526.2,1229.5 2525.7,1231.9 2524.7,1234.0 2523.6,1236.0 2522.7,1238.1 2521.9,1240.8 2522.6,1243.6 2518.5,1245.8 2512.9,1247.9 2508.4,1250.0 2504.0,1252.0 2499.8,1254.1 2501.7,1256.2 2502.8,1258.4 2501.7,1260.8 2503.0,1263.3 2500.4,1266.0 2500.7,1268.8 2498.3,1271.0 2497.5,1273.1 2495.5,1275.2 2494.2,1277.4 2492.9,1279.6 2491.9,1281.7 2489.2,1283.8 2487.4,1286.0 2489.6,1288.5 2491.3,1290.9 2492.6,1293.4 2494.4,1295.8 2495.8,1298.3 2495.7,1300.8 2493.7,1303.2 2493.4,1305.7 2495.9,1307.8 2499.6,1310.0 2509.8,1311.2 2509.8,1311.2 2518.8,1310.0 2518.9,1307.8 2519.8,1305.7 2519.2,1303.2 2518.5,1300.8 2518.0,1298.3 2517.6,1295.8 2516.3,1293.4 2517.2,1290.9 2517.4,1288.5 2516.1,1286.0 2516.7,1283.8 2516.0,1281.7 2516.2,1279.6 2516.9,1277.4 2516.1,1275.2 2515.5,1273.1 2514.1,1271.0 2513.1,1268.8 2511.9,1266.0 2508.5,1263.3 2509.8,1260.8 2510.2,1258.4 2512.5,1256.2 2514.7,1254.1 2518.4,1252.0 2521.0,1250.0 2524.1,1247.9 2527.8,1245.8 2531.9,1243.6 2530.6,1240.8 2530.4,1238.1 2529.8,1236.0 2529.3,1234.0 2528.7,1231.9 2528.2,1229.5 2527.3,1227.0 2526.7,1224.6" fill="#42ffb5"/>
<polygon points="2527.1,1238.1 2524.6,1240.8 2523.9,1243.6 2519.7,1245.8 2514.3,1247.9 2510.2,1250.0 2506.3,1252.0 2502.4,1254.1 2504.7,1256.2 2505.8,1258.4 2505.8,1258.4 2509.2,1256.2 2512.7,1254.1 2516.4,1252.0 2519.2,1250.0 2522.4,1247.9 2526.4,1245.8 2530.3,1243.6 2528.2,1240.8 2527.1,1238.1" fill="#6bff8c"/>
<polygon points="2506.0,1265.4 2504.9,1266.0 2502.4,1268.8 2500.1,1271.0 2499.0,1273.1 2496.8,1275.2 2495.3,1277.4 2494.0,1279.6 2492.8,1281.7 2490.3,1283.8 2488.5,1286.0 2490.8,1288.5 2492.6,1290.9 2493.8,1293.4 2495.6,1295.8 2497.0,1298.3 2496.8,1300.8 2494.9,1303.2 2494.5,1305.7 2497.3,1307.8 2501.7,1310.0 2509.5,1310.8 2509.5,1310.8 2516.5,1310.0 2517.3,1307.8 2518.4,1305.7 2517.8,1303.2 2517.2,1300.8 2516.7,1298.3 2516.3,1295.8 2515.0,1293.4 2515.7,1290.9 2516.0,1288.5 2514.9,1286.0 2515.4,1283.8 2514.8,1281.7 2515.0,1279.6 2515.6,1277.4 2514.6,1275.2 2513.5,1273.1 2512.0,1271.0 2511.0,1268.8 2507.1,1266.0 2506.0,1265.4" fill="#6bff8c"/>
<polygon points="2526.8,1243.6 2522.2,1245.8 2516.7,1247.9 2513.7,1250.0 2511.1,1252.0 2508.2,1254.1 2508.2,1254.1 2512.4,1252.0 2515.8,1250.0 2519.4,1247.9 2523.4,1245.8 2526.8,1243.6" fill="#94ff63"/>
<polygon points="2506.1,1268.8 2502.4,1271.0 2500.4,1273.1 2498.5,1275.2 2496.9,1277.4 2495.3,1279.6 2493.9,1281.7 2491.4,1283.8 2489.6,1286.0 2492.0,1288.5 2494.3,1290.9 2495.6,1293.4 2497.4,1295.8 2498.7,1298.3 2498.2,1300.8 2496.3,1303.2 2495.6,1305.7 2499.1,1307.8 2504.1,1310.0 2509.1,1310.4 2509.1,1310.4 2513.9,1310.0 2515.2,1307.8 2516.8,1305.7 2516.1,1303.2 2515.4,1300.8 2514.7,1298.3 2514.4,1295.8 2513.2,1293.4 2513.7,1290.9 2514.6,1288.5 2513.6,1286.0 2514.1,1283.8 2513.5,1281.7 2513.6,1279.6 2514.0,1277.4 2512.7,1275.2 2511.4,1273.1 2509.2,1271.0 2506.1,1268.8" fill="#94ff63"/>
<polygon points="2505.3,1271.5 2503.0,1273.1 2500.2,1275.2 2498.6,1277.4 2496.9,1279.6 2495.4,1281.7 2492.9,1283.8 2490.8,1286.0 2493.7,1288.5 2496.2,1290.9 2497.4,1293.4 2499.2,1295.8 2500.4,1298.3 2499.8,1300.8 2498.0,1303.2 2497.2,1305.7 2501.0,1307.8 2508.8,1310.0 2508.8,1310.0 2513.0,1307.8 2514.7,1305.7 2514.0,1303.2 2513.4,1300.8 2512.7,1298.3 2512.4,1295.8 2511.2,1293.4 2511.6,1290.9 2512.5,1288.5 2512.1,1286.0 2512.4,1283.8 2511.7,1281.7 2511.8,1279.6 2512.2,1277.4 2510.8,1275.2 2507.8,1273.1 2505.3,1271.5" fill="#bdff3a"/>
<polygon points="2505.1,1274.2 2503.7,1275.2 2500.6,1277.4 2498.5,1279.6 2496.9,1281.7 2494.5,1283.8 2492.5,1286.0 2495.5,1288.5 2498.3,1290.9 2499.7,1293.4 2501.8,1295.8 2503.1,1298.3 2501.6,1300.8 2499.7,1303.2 2498.8,1305.7 2504.5,1307.8 2507.3,1308.6 2507.3,1308.6 2508.9,1307.8 2512.6,1305.7 2512.0,1303.2 2511.1,1300.8 2509.6,1298.3 2509.6,1295.8 2508.6,1293.4 2509.1,1290.9 2510.5,1288.5 2510.2,1286.0 2510.5,1283.8 2509.9,1281.7 2510.0,1279.6 2510.1,1277.4 2506.9,1275.2 2505.1,1274.2" fill="#e6ff10"/>
<polygon points="2505.2,1276.9 2504.5,1277.4 2501.4,1279.6 2498.8,1281.7 2496.2,1283.8 2494.1,1286.0 2497.7,1288.5 2502.5,1290.9 2503.7,1293.4 2504.8,1294.6 2504.8,1294.6 2504.3,1293.4 2504.3,1290.9 2507.9,1288.5 2508.3,1286.0 2508.6,1283.8 2507.6,1281.7 2506.7,1279.6 2506.1,1277.4 2505.2,1276.9" fill="#ffd900"/>
<polygon points="2506.0,1299.5 2505.2,1300.8 2503.0,1303.2 2501.2,1305.7 2506.0,1307.1 2506.0,1307.1 2509.5,1305.7 2508.0,1303.2 2506.7,1300.8 2506.0,1299.5" fill="#ffd900"/>
<polygon points="2503.2,1280.8 2502.1,1281.7 2499.4,1283.8 2496.3,1286.0 2501.6,1288.5 2502.6,1288.9 2502.6,1288.9 2503.3,1288.5 2505.7,1286.0 2504.9,1283.8 2503.6,1281.7 2503.2,1280.8" fill="#ffaa00"/>
<polygon points="2501.2,1285.1 2499.9,1286.0 2501.0,1286.5 2501.0,1286.5 2501.5,1286.0 2501.2,1285.1" fill="#ff7b00"/>
<polygon points="2519.0,1365.2 2546.0,1365.2 2549.0,1370.0 2549.6,1377.0 2515.8,1377.0 2520.0,1372.0 2507.0,1369.5" fill="#00008b"/>
<polygon points="2524.0,1367.0 2542.0,1367.0 2540.0,1371.0 2526.0,1371.0" fill="#0050ff"/>
<rect x="2515.8" y="1378.0" width="46.7" height="1.2" fill="#00008b"/>
<rect x="2488.8" y="1380.5" width="74.9" height="1.5" fill="#00008b"/>
<polygon points="2507.0,1378.0 2543.0,1378.0 2550.0,1387.0 2489.0,1387.0 2505.0,1384.0" fill="#00008b"/>
<polygon points="2514.0,1380.0 2540.0,1380.0 2542.0,1386.0 2516.0,1386.0" fill="#0040f0"/>
<rect x="2518.0" y="1382.0" width="18.0" height="3.5" fill="#00c8ff"/>
</g>
<rect x="2228.50" y="1385.19" width="34.5" height="11.0"/>
<rect x="2242.40" y="1365.24" width="20.6" height="6.9"/>
<rect x="2242.40" y="1343.24" width="20.6" height="6.9"/>
<rect x="2242.40" y="1321.24" width="20.6" height="6.9"/>
<rect x="2242.40" y="1299.24" width="20.6" height="6.9"/>
<rect x="2228.50" y="1275.19" width="34.5" height="11.0"/>
<rect x="2242.40" y="1255.24" width="20.6" height="6.9"/>
<rect x="2242.40" y="1233.24" width="20.6" height="6.9"/>
<rect x="2242.40" y="1211.24" width="20.6" height="6.9"/>
<rect x="2242.40" y="1189.24" width="20.6" height="6.9"/>
<rect x="2228.50" y="1165.19" width="34.5" height="11.0"/>
<rect x="2242.40" y="1145.24" width="20.6" height="6.9"/>
<rect x="2242.40" y="1123.24" width="20.6" height="6.9"/>
<rect x="2273.00" y="1390.19" width="11.0" height="35.7"/>
<rect x="2300.40" y="1390.19" width="6.9" height="21.6"/>
<rect x="2325.75" y="1390.19" width="6.9" height="21.6"/>
<rect x="2351.10" y="1390.19" width="6.9" height="21.6"/>
<rect x="2376.45" y="1390.19" width="6.9" height="21.6"/>
<rect x="2399.75" y="1390.19" width="11.0" height="35.7"/>
<rect x="2427.15" y="1390.19" width="6.9" height="21.6"/>
<rect x="2452.50" y="1390.19" width="6.9" height="21.6"/>
<rect x="2477.85" y="1390.19" width="6.9" height="21.6"/>
<rect x="2503.20" y="1390.19" width="6.9" height="21.6"/>
<rect x="2526.50" y="1390.19" width="11.0" height="35.7"/>
<rect x="2553.90" y="1390.19" width="6.9" height="21.6"/>
<rect x="2579.25" y="1390.19" width="6.9" height="21.6"/>
<rect x="2604.60" y="1390.19" width="6.9" height="21.6"/>
<rect x="2629.95" y="1390.19" width="6.9" height="21.6"/>
<rect x="2653.25" y="1390.19" width="11.0" height="35.7"/>
<rect x="2680.65" y="1390.19" width="6.9" height="21.6"/>
<rect x="2706.00" y="1390.19" width="6.9" height="21.6"/>
<rect x="2731.35" y="1390.19" width="6.9" height="21.6"/>
<rect x="2756.70" y="1390.19" width="6.9" height="21.6"/>
<rect x="2780.00" y="1390.19" width="11.0" height="35.7"/>
<rect x="2263.00" y="1126.34" width="539.0" height="263.85" fill="none" stroke="#000" stroke-width="5.6"/>
<text transform="translate(2484.11,1172.08) scale(1.1885,1)" font-size="36.44" font-weight="bold" fill="#000" stroke="#000" stroke-width="0.6">1500</text>
</g>
<g>
<g clip-path="url(#cp40)">
<rect x="436.0" y="1484.3" width="10.0" height="1.5" fill="#0030e0"/>
<rect x="754.0" y="1551.3" width="10.0" height="1.5" fill="#0000c0"/>
<polygon points="575.7,1553.0 569.1,1555.0 564.5,1556.9 562.7,1558.9 558.0,1561.0 556.3,1563.0 554.5,1565.2 556.3,1567.3 554.5,1569.4 553.5,1571.6 550.9,1574.0 548.0,1576.5 547.2,1579.0 543.9,1581.4 542.7,1583.6 543.7,1585.8 541.7,1588.1 538.3,1590.3 537.2,1592.5 539.3,1594.7 540.6,1596.8 540.8,1598.9 545.3,1601.1 544.8,1603.5 545.9,1606.0 545.5,1608.5 548.8,1610.9 545.5,1613.4 545.9,1615.8 544.3,1618.3 541.5,1620.8 537.8,1623.2 528.4,1626.3 531.1,1628.8 532.4,1631.2 514.1,1633.6 490.2,1635.7 517.7,1638.6 557.5,1641.6 581.8,1644.6 607.0,1644.6 623.1,1641.6 626.7,1638.6 634.9,1635.7 633.2,1633.6 593.8,1631.2 600.4,1628.8 609.6,1626.3 599.3,1623.2 596.6,1620.8 595.3,1618.3 595.6,1615.8 593.4,1613.4 594.2,1610.9 593.2,1608.5 594.0,1606.0 594.1,1603.5 592.9,1601.1 589.9,1598.9 591.1,1596.8 587.4,1594.7 587.5,1592.5 587.0,1590.3 588.3,1588.1 590.3,1585.8 590.9,1583.6 589.5,1581.4 589.3,1579.0 589.9,1576.5 586.2,1574.0 584.9,1571.6 584.8,1569.4 587.2,1567.3 585.7,1565.2 585.3,1563.0 585.7,1561.0 588.0,1558.9 587.7,1556.9 590.7,1555.0 591.6,1553.0" fill="#0000a2"/>
<polygon points="578.1,1553.0 571.3,1555.0 566.3,1556.9 564.4,1558.9 559.9,1561.0 558.1,1563.0 556.4,1565.2 558.0,1567.3 556.2,1569.4 555.3,1571.6 552.8,1574.0 549.9,1576.5 549.1,1579.0 545.9,1581.4 544.7,1583.6 545.6,1585.8 543.7,1588.1 540.5,1590.3 539.4,1592.5 541.3,1594.7 542.6,1596.8 542.9,1598.9 547.0,1601.1 546.6,1603.5 547.8,1606.0 547.5,1608.5 550.6,1610.9 547.6,1613.4 548.0,1615.8 546.5,1618.3 543.8,1620.8 540.2,1623.2 531.4,1626.3 533.6,1628.8 534.6,1631.2 518.7,1633.6 497.5,1635.7 524.6,1638.6 562.5,1641.6 587.9,1644.6 600.5,1644.6 616.8,1641.6 620.5,1638.6 629.1,1635.7 627.6,1633.6 591.2,1631.2 597.5,1628.8 606.2,1626.3 596.9,1623.2 594.4,1620.8 593.2,1618.3 593.4,1615.8 591.3,1613.4 592.0,1610.9 590.9,1608.5 591.5,1606.0 591.4,1603.5 590.1,1601.1 587.4,1598.9 588.5,1596.8 585.1,1594.7 585.2,1592.5 584.8,1590.3 586.0,1588.1 587.8,1585.8 588.3,1583.6 587.1,1581.4 586.9,1579.0 587.6,1576.5 584.4,1574.0 583.3,1571.6 583.1,1569.4 585.4,1567.3 584.0,1565.2 583.8,1563.0 584.2,1561.0 586.3,1558.9 586.2,1556.9 588.6,1555.0 588.7,1553.0" fill="#0000dc"/>
<polygon points="579.6,1553.0 573.3,1555.0 568.2,1556.9 566.0,1558.9 561.8,1561.0 560.0,1563.0 558.2,1565.2 559.6,1567.3 557.9,1569.4 557.0,1571.6 554.6,1574.0 551.9,1576.5 550.9,1579.0 548.0,1581.4 546.7,1583.6 547.4,1585.8 545.6,1588.1 542.7,1590.3 541.6,1592.5 543.3,1594.7 544.5,1596.8 544.9,1598.9 548.7,1601.1 548.5,1603.5 549.7,1606.0 549.5,1608.5 552.4,1610.9 549.7,1613.4 550.0,1615.8 548.7,1618.3 546.0,1620.8 542.7,1623.2 534.4,1626.3 536.2,1628.8 536.8,1631.2 523.3,1633.6 504.8,1635.7 531.4,1638.6 567.5,1641.6 594.0,1644.6 594.0,1644.6 610.6,1641.6 614.2,1638.6 623.2,1635.7 622.0,1633.6 588.7,1631.2 594.6,1628.8 602.9,1626.3 594.5,1623.2 592.2,1620.8 591.1,1618.3 591.2,1615.8 589.2,1613.4 589.9,1610.9 588.7,1608.5 589.0,1606.0 588.7,1603.5 587.4,1601.1 585.0,1598.9 585.9,1596.8 582.8,1594.7 582.9,1592.5 582.6,1590.3 583.7,1588.1 585.3,1585.8 585.7,1583.6 584.8,1581.4 584.6,1579.0 585.3,1576.5 582.5,1574.0 581.7,1571.6 581.5,1569.4 583.6,1567.3 582.3,1565.2 582.3,1563.0 582.7,1561.0 584.6,1558.9 584.7,1556.9 586.6,1555.0 587.0,1553.0" fill="#0005ff"/>
<polygon points="581.1,1553.0 574.6,1555.0 569.6,1556.9 567.5,1558.9 563.7,1561.0 561.8,1563.0 560.1,1565.2 561.3,1567.3 559.6,1569.4 558.8,1571.6 556.5,1574.0 553.8,1576.5 552.7,1579.0 550.0,1581.4 548.7,1583.6 549.3,1585.8 547.6,1588.1 544.8,1590.3 543.8,1592.5 545.4,1594.7 546.5,1596.8 547.0,1598.9 550.4,1601.1 550.3,1603.5 551.5,1606.0 551.5,1608.5 554.3,1610.9 551.7,1613.4 552.0,1615.8 550.8,1618.3 548.3,1620.8 545.1,1623.2 537.5,1626.3 538.7,1628.8 539.0,1631.2 528.0,1633.6 512.1,1635.7 538.3,1638.6 570.7,1641.6 592.5,1644.0 592.5,1644.0 606.7,1641.6 608.0,1638.6 617.3,1635.7 616.4,1633.6 586.2,1631.2 591.8,1628.8 599.5,1626.3 592.0,1623.2 590.0,1620.8 589.1,1618.3 589.0,1615.8 587.2,1613.4 587.7,1610.9 586.4,1608.5 586.5,1606.0 586.0,1603.5 584.6,1601.1 582.5,1598.9 583.2,1596.8 580.5,1594.7 580.7,1592.5 580.4,1590.3 581.4,1588.1 582.8,1585.8 583.2,1583.6 582.4,1581.4 582.3,1579.0 582.9,1576.5 580.7,1574.0 580.1,1571.6 579.9,1569.4 581.8,1567.3 580.7,1565.2 580.8,1563.0 581.3,1561.0 583.1,1558.9 583.5,1556.9 585.4,1555.0 585.2,1553.0" fill="#0038ff"/>
<polygon points="582.5,1553.3 575.7,1555.0 570.7,1556.9 568.5,1558.9 564.8,1561.0 563.0,1563.0 561.3,1565.2 562.4,1567.3 560.7,1569.4 560.1,1571.6 557.9,1574.0 555.4,1576.5 554.3,1579.0 551.8,1581.4 550.5,1583.6 551.0,1585.8 549.4,1588.1 547.0,1590.3 545.9,1592.5 547.4,1594.7 548.5,1596.8 549.0,1598.9 552.0,1601.1 552.0,1603.5 553.4,1606.0 553.5,1608.5 556.1,1610.9 553.8,1613.4 554.0,1615.8 553.0,1618.3 550.6,1620.8 547.5,1623.2 540.5,1626.3 541.2,1628.8 541.1,1631.2 532.6,1633.6 519.2,1635.7 542.3,1638.6 573.4,1641.6 591.1,1643.4 591.1,1643.4 603.3,1641.6 604.4,1638.6 611.6,1635.7 610.8,1633.6 583.7,1631.2 588.9,1628.8 596.1,1626.3 589.6,1623.2 587.8,1620.8 587.0,1618.3 586.8,1615.8 585.1,1613.4 585.5,1610.9 584.1,1608.5 584.1,1606.0 583.4,1603.5 582.0,1601.1 580.1,1598.9 580.7,1596.8 578.3,1594.7 578.4,1592.5 578.2,1590.3 579.1,1588.1 580.5,1585.8 580.8,1583.6 580.3,1581.4 580.3,1579.0 581.0,1576.5 579.3,1574.0 578.9,1571.6 578.8,1569.4 580.6,1567.3 579.6,1565.2 579.9,1563.0 580.4,1561.0 582.2,1558.9 582.6,1556.9 584.3,1555.0 582.5,1553.3" fill="#006bff"/>
<polygon points="581.3,1554.1 577.2,1555.0 571.6,1556.9 569.4,1558.9 565.9,1561.0 564.1,1563.0 562.4,1565.2 563.4,1567.3 561.7,1569.4 561.1,1571.6 559.0,1574.0 556.5,1576.5 555.4,1579.0 553.0,1581.4 551.7,1583.6 552.1,1585.8 550.6,1588.1 548.3,1590.3 547.3,1592.5 548.6,1594.7 549.6,1596.8 550.2,1598.9 552.9,1601.1 553.1,1603.5 554.5,1606.0 554.7,1608.5 557.3,1610.9 555.1,1613.4 555.4,1615.8 554.6,1618.3 552.4,1620.8 549.5,1623.2 543.0,1626.3 543.4,1628.8 543.0,1631.2 535.7,1633.6 523.5,1635.7 546.3,1638.6 576.0,1641.6 589.6,1642.8 589.6,1642.8 600.0,1641.6 600.7,1638.6 608.1,1635.7 607.1,1633.6 581.5,1631.2 586.5,1628.8 593.3,1626.3 587.7,1623.2 586.2,1620.8 585.5,1618.3 585.3,1615.8 583.7,1613.4 584.2,1610.9 582.8,1608.5 582.6,1606.0 581.8,1603.5 580.4,1601.1 578.7,1598.9 579.1,1596.8 576.9,1594.7 577.0,1592.5 576.9,1590.3 577.8,1588.1 579.0,1585.8 579.3,1583.6 578.9,1581.4 579.0,1579.0 579.7,1576.5 578.2,1574.0 578.0,1571.6 577.8,1569.4 579.6,1567.3 578.6,1565.2 579.0,1563.0 579.5,1561.0 581.2,1558.9 581.8,1556.9 582.8,1555.0 581.3,1554.1" fill="#009eff"/>
<polygon points="580.1,1555.0 572.5,1556.9 570.2,1558.9 566.8,1561.0 565.0,1563.0 563.4,1565.2 564.2,1567.3 562.6,1569.4 562.1,1571.6 560.0,1574.0 557.6,1576.5 556.5,1579.0 554.2,1581.4 552.8,1583.6 553.2,1585.8 551.7,1588.1 549.5,1590.3 548.6,1592.5 549.8,1594.7 550.8,1596.8 551.4,1598.9 553.9,1601.1 554.2,1603.5 555.6,1606.0 555.8,1608.5 558.3,1610.9 556.3,1613.4 556.6,1615.8 555.9,1618.3 553.7,1620.8 551.0,1623.2 544.8,1626.3 544.8,1628.8 544.3,1631.2 538.4,1633.6 527.7,1635.7 549.7,1638.6 579.7,1641.6 588.1,1642.2 588.1,1642.2 595.4,1641.6 597.6,1638.6 604.7,1635.7 603.9,1633.6 580.0,1631.2 584.8,1628.8 591.4,1626.3 586.2,1623.2 584.9,1620.8 584.3,1618.3 584.0,1615.8 582.5,1613.4 582.9,1610.9 581.4,1608.5 581.1,1606.0 580.2,1603.5 578.8,1601.1 577.2,1598.9 577.6,1596.8 575.6,1594.7 575.7,1592.5 575.6,1590.3 576.4,1588.1 577.6,1585.8 577.8,1583.6 577.5,1581.4 577.6,1579.0 578.3,1576.5 577.2,1574.0 577.1,1571.6 577.0,1569.4 578.6,1567.3 577.7,1565.2 578.2,1563.0 578.8,1561.0 580.4,1558.9 581.0,1556.9 580.1,1555.0" fill="#00d1ff"/>
<polygon points="578.9,1555.8 573.9,1556.9 571.3,1558.9 567.9,1561.0 565.9,1563.0 564.3,1565.2 565.0,1567.3 563.5,1569.4 563.0,1571.6 560.9,1574.0 558.6,1576.5 557.4,1579.0 555.2,1581.4 553.9,1583.6 554.2,1585.8 552.8,1588.1 550.7,1590.3 549.8,1592.5 550.9,1594.7 551.9,1596.8 552.5,1598.9 554.8,1601.1 555.2,1603.5 556.6,1606.0 556.9,1608.5 559.4,1610.9 557.5,1613.4 557.8,1615.8 557.1,1618.3 555.0,1620.8 552.4,1623.2 546.5,1626.3 546.3,1628.8 545.6,1631.2 541.1,1633.6 531.8,1635.7 553.1,1638.6 586.7,1641.6 586.7,1641.6 594.5,1638.6 601.5,1635.7 600.6,1633.6 578.5,1631.2 583.1,1628.8 589.4,1626.3 584.8,1623.2 583.6,1620.8 583.1,1618.3 582.8,1615.8 581.3,1613.4 581.7,1610.9 580.2,1608.5 579.8,1606.0 578.7,1603.5 577.3,1601.1 575.9,1598.9 576.2,1596.8 574.3,1594.7 574.4,1592.5 574.4,1590.3 575.1,1588.1 576.3,1585.8 576.4,1583.6 576.3,1581.4 576.4,1579.0 577.2,1576.5 576.3,1574.0 576.3,1571.6 576.1,1569.4 577.7,1567.3 576.9,1565.2 577.5,1563.0 577.9,1561.0 579.3,1558.9 579.9,1556.9 578.9,1555.8" fill="#19ffde"/>
<polygon points="577.7,1556.6 576.0,1556.9 572.6,1558.9 569.3,1561.0 567.2,1563.0 565.5,1565.2 566.0,1567.3 564.5,1569.4 563.9,1571.6 561.8,1574.0 559.5,1576.5 558.3,1579.0 556.3,1581.4 554.9,1583.6 555.1,1585.8 553.7,1588.1 551.8,1590.3 550.9,1592.5 551.9,1594.7 552.8,1596.8 553.5,1598.9 555.7,1601.1 556.1,1603.5 557.6,1606.0 557.9,1608.5 560.3,1610.9 558.5,1613.4 558.8,1615.8 558.3,1618.3 556.3,1620.8 553.7,1623.2 548.2,1626.3 547.7,1628.8 546.8,1631.2 543.4,1633.6 535.4,1635.7 558.2,1638.6 582.7,1640.6 582.7,1640.6 589.8,1638.6 598.5,1635.7 597.8,1633.6 577.1,1631.2 581.5,1628.8 587.5,1626.3 583.5,1623.2 582.5,1620.8 582.1,1618.3 581.7,1615.8 580.2,1613.4 580.6,1610.9 579.0,1608.5 578.5,1606.0 577.4,1603.5 575.9,1601.1 574.7,1598.9 574.9,1596.8 573.2,1594.7 573.3,1592.5 573.3,1590.3 574.0,1588.1 575.0,1585.8 575.1,1583.6 575.1,1581.4 575.3,1579.0 576.0,1576.5 575.3,1574.0 575.4,1571.6 575.2,1569.4 576.6,1567.3 575.8,1565.2 576.4,1563.0 576.8,1561.0 578.0,1558.9 578.2,1556.9 577.7,1556.6" fill="#42ffb5"/>
<polygon points="575.5,1558.7 575.1,1558.9 571.2,1561.0 568.6,1563.0 566.9,1565.2 567.3,1567.3 565.7,1569.4 565.2,1571.6 563.2,1574.0 560.9,1576.5 559.5,1579.0 557.4,1581.4 555.9,1583.6 556.0,1585.8 554.7,1588.1 552.9,1590.3 552.0,1592.5 552.9,1594.7 553.8,1596.8 554.6,1598.9 556.6,1601.1 557.0,1603.5 558.5,1606.0 558.9,1608.5 561.2,1610.9 559.5,1613.4 559.8,1615.8 559.4,1618.3 557.4,1620.8 554.9,1623.2 549.7,1626.3 549.0,1628.8 547.9,1631.2 545.7,1633.6 539.0,1635.7 563.4,1638.6 578.8,1639.6 578.8,1639.6 585.2,1638.6 595.6,1635.7 595.0,1633.6 575.8,1631.2 580.1,1628.8 585.9,1626.3 582.3,1623.2 581.4,1620.8 581.0,1618.3 580.6,1615.8 579.2,1613.4 579.5,1610.9 577.9,1608.5 577.3,1606.0 576.0,1603.5 574.5,1601.1 573.4,1598.9 573.6,1596.8 572.0,1594.7 572.2,1592.5 572.2,1590.3 572.8,1588.1 573.8,1585.8 573.7,1583.6 573.7,1581.4 573.8,1579.0 574.4,1576.5 574.0,1574.0 574.2,1571.6 574.0,1569.4 575.3,1567.3 574.6,1565.2 575.3,1563.0 575.3,1561.0 575.5,1558.9 575.5,1558.7" fill="#6bff8c"/>
<polygon points="573.0,1561.8 571.1,1563.0 569.1,1565.2 568.9,1567.3 567.1,1569.4 566.6,1571.6 564.6,1574.0 562.3,1576.5 560.9,1579.0 559.0,1581.4 557.4,1583.6 557.4,1585.8 556.1,1588.1 554.3,1590.3 553.3,1592.5 554.3,1594.7 555.2,1596.8 556.0,1598.9 557.8,1601.1 558.3,1603.5 559.8,1606.0 560.3,1608.5 562.3,1610.9 560.7,1613.4 560.9,1615.8 560.5,1618.3 558.6,1620.8 556.2,1623.2 551.3,1626.3 550.2,1628.8 549.0,1631.2 548.2,1633.6 544.1,1635.7 574.8,1638.6 574.8,1638.6 591.6,1635.7 592.0,1633.6 574.5,1631.2 578.7,1628.8 584.2,1626.3 581.1,1623.2 580.3,1620.8 580.0,1618.3 579.4,1615.8 578.0,1613.4 578.2,1610.9 576.4,1608.5 575.6,1606.0 574.0,1603.5 572.4,1601.1 571.6,1598.9 571.8,1596.8 570.5,1594.7 570.8,1592.5 570.7,1590.3 571.2,1588.1 571.9,1585.8 571.8,1583.6 571.9,1581.4 572.1,1579.0 572.7,1576.5 572.6,1574.0 573.0,1571.6 572.6,1569.4 573.5,1567.3 572.6,1565.2 573.3,1563.0 573.0,1561.8" fill="#94ff63"/>
<polygon points="570.0,1569.4 569.4,1571.6 567.1,1574.0 564.4,1576.5 562.4,1579.0 560.5,1581.4 558.9,1583.6 558.8,1585.8 557.5,1588.1 556.0,1590.3 554.9,1592.5 555.8,1594.7 556.7,1596.8 557.6,1598.9 559.1,1601.1 559.7,1603.5 561.2,1606.0 561.8,1608.5 563.7,1610.9 562.2,1613.4 562.4,1615.8 562.0,1618.3 560.1,1620.8 557.6,1623.2 553.0,1626.3 551.6,1628.8 550.2,1631.2 551.7,1633.6 549.5,1635.7 573.4,1637.7 573.4,1637.7 587.2,1635.7 587.8,1633.6 573.2,1631.2 577.1,1628.8 582.2,1626.3 579.7,1623.2 578.9,1620.8 578.5,1618.3 577.8,1615.8 576.4,1613.4 576.5,1610.9 574.7,1608.5 573.7,1606.0 572.0,1603.5 570.4,1601.1 569.8,1598.9 569.8,1596.8 568.8,1594.7 569.1,1592.5 569.1,1590.3 569.4,1588.1 570.1,1585.8 569.9,1583.6 570.2,1581.4 570.1,1579.0 570.1,1576.5 570.1,1574.0 570.5,1571.6 570.0,1569.4" fill="#bdff3a"/>
<polygon points="566.2,1578.1 565.5,1579.0 563.6,1581.4 561.6,1583.6 560.9,1585.8 559.3,1588.1 557.6,1590.3 556.6,1592.5 557.3,1594.7 558.4,1596.8 559.7,1598.9 561.1,1601.1 561.6,1603.5 562.8,1606.0 563.3,1608.5 565.1,1610.9 563.8,1613.4 563.9,1615.8 563.7,1618.3 561.8,1620.8 559.4,1623.2 555.3,1626.3 553.5,1628.8 551.8,1631.2 555.2,1633.6 555.8,1635.7 572.0,1636.8 572.0,1636.8 582.1,1635.7 583.6,1633.6 571.3,1631.2 574.9,1628.8 579.7,1626.3 577.8,1623.2 577.2,1620.8 576.9,1618.3 576.1,1615.8 574.9,1613.4 574.9,1610.9 573.0,1608.5 571.6,1606.0 569.2,1603.5 567.1,1601.1 567.3,1598.9 567.6,1596.8 567.1,1594.7 567.4,1592.5 567.4,1590.3 567.3,1588.1 567.3,1585.8 566.4,1583.6 566.5,1581.4 566.2,1579.0 566.2,1578.1" fill="#e6ff10"/>
<polygon points="563.3,1587.0 562.6,1588.1 561.1,1590.3 559.7,1592.5 560.6,1594.7 561.7,1596.8 563.1,1598.9 563.1,1598.9 563.2,1596.8 563.4,1594.7 564.1,1592.5 563.8,1590.3 563.4,1588.1 563.3,1587.0" fill="#ffd900"/>
<polygon points="564.6,1603.5 565.9,1606.0 566.5,1608.5 567.8,1610.9 566.3,1613.4 566.0,1615.8 565.4,1618.3 563.5,1620.8 561.3,1623.2 557.6,1626.3 555.4,1628.8 553.5,1631.2 560.3,1633.6 567.9,1635.7 570.6,1635.9 570.6,1635.9 572.3,1635.7 577.4,1633.6 569.4,1631.2 572.8,1628.8 577.1,1626.3 576.0,1623.2 575.6,1620.8 575.3,1618.3 573.9,1615.8 572.3,1613.4 571.8,1610.9 569.3,1608.5 567.4,1606.0 564.6,1603.5" fill="#ffd900"/>
<polygon points="569.5,1614.6 569.3,1615.8 569.0,1618.3 566.6,1620.8 563.8,1623.2 560.8,1626.3 557.7,1628.8 555.1,1631.2 568.1,1633.6 568.1,1633.6 567.5,1631.2 570.3,1628.8 573.6,1626.3 573.5,1623.2 572.6,1620.8 571.9,1618.3 570.3,1615.8 569.5,1614.6" fill="#ffaa00"/>
<polygon points="569.2,1622.0 567.9,1623.2 565.8,1626.3 561.9,1628.8 558.7,1631.2 563.6,1632.1 563.6,1632.1 563.4,1631.2 565.5,1628.8 568.0,1626.3 569.5,1623.2 569.2,1622.0" fill="#ff7b00"/>
<rect x="553.0" y="1698.0" width="11.0" height="1.4" fill="#00008b"/>
<rect x="568.0" y="1698.0" width="75.0" height="1.6" fill="#00008b"/>
<polygon points="579.3,1679.0 609.4,1679.0 612.5,1686.5 607.6,1692.0 602.7,1695.7 611.3,1698.7 602.7,1701.8 599.0,1703.7 580.6,1703.7 575.7,1701.8 568.3,1698.7 583.0,1695.7 581.8,1692.0 578.1,1686.5" fill="#00008b"/>
<polygon points="586.0,1681.0 604.0,1681.0 604.0,1690.0 588.0,1690.0" fill="#0030e0"/>
<rect x="584.0" y="1699.5" width="14.0" height="3.0" fill="#00b0ff"/>
</g>
<rect x="287.50" y="1702.02" width="34.5" height="11.0"/>
<rect x="301.40" y="1682.07" width="20.6" height="6.9"/>
<rect x="301.40" y="1660.07" width="20.6" height="6.9"/>
<rect x="301.40" y="1638.07" width="20.6" height="6.9"/>
<rect x="301.40" y="1616.07" width="20.6" height="6.9"/>
<rect x="287.50" y="1592.02" width="34.5" height="11.0"/>
<rect x="301.40" y="1572.07" width="20.6" height="6.9"/>
<rect x="301.40" y="1550.07" width="20.6" height="6.9"/>
<rect x="301.40" y="1528.07" width="20.6" height="6.9"/>
<rect x="301.40" y="1506.07" width="20.6" height="6.9"/>
<rect x="287.50" y="1482.02" width="34.5" height="11.0"/>
<rect x="301.40" y="1462.07" width="20.6" height="6.9"/>
<rect x="301.40" y="1440.07" width="20.6" height="6.9"/>
<rect x="332.00" y="1707.02" width="11.0" height="35.7"/>
<rect x="359.40" y="1707.02" width="6.9" height="21.6"/>
<rect x="384.75" y="1707.02" width="6.9" height="21.6"/>
<rect x="410.10" y="1707.02" width="6.9" height="21.6"/>
<rect x="435.45" y="1707.02" width="6.9" height="21.6"/>
<rect x="458.75" y="1707.02" width="11.0" height="35.7"/>
<rect x="486.15" y="1707.02" width="6.9" height="21.6"/>
<rect x="511.50" y="1707.02" width="6.9" height="21.6"/>
<rect x="536.85" y="1707.02" width="6.9" height="21.6"/>
<rect x="562.20" y="1707.02" width="6.9" height="21.6"/>
<rect x="585.50" y="1707.02" width="11.0" height="35.7"/>
<rect x="612.90" y="1707.02" width="6.9" height="21.6"/>
<rect x="638.25" y="1707.02" width="6.9" height="21.6"/>
<rect x="663.60" y="1707.02" width="6.9" height="21.6"/>
<rect x="688.95" y="1707.02" width="6.9" height="21.6"/>
<rect x="712.25" y="1707.02" width="11.0" height="35.7"/>
<rect x="739.65" y="1707.02" width="6.9" height="21.6"/>
<rect x="765.00" y="1707.02" width="6.9" height="21.6"/>
<rect x="790.35" y="1707.02" width="6.9" height="21.6"/>
<rect x="815.70" y="1707.02" width="6.9" height="21.6"/>
<rect x="839.00" y="1707.02" width="11.0" height="35.7"/>
<rect x="322.00" y="1443.17" width="539.0" height="263.85" fill="none" stroke="#000" stroke-width="5.6"/>
<text transform="translate(543.11,1488.91) scale(1.1885,1)" font-size="36.44" font-weight="bold" fill="#000" stroke="#000" stroke-width="0.6">1600</text>
</g>
<g>
<g clip-path="url(#cp41)">
<polygon points="1221.0,1587.7 1236.0,1587.7 1232.0,1590.0 1223.0,1590.0" fill="#0000e0"/>
<polygon points="1228.5,1604.9 1209.3,1608.2 1202.5,1610.2 1194.6,1612.1 1193.4,1614.0 1194.8,1616.0 1194.7,1618.0 1193.3,1620.0 1191.1,1622.0 1193.5,1623.9 1195.8,1626.3 1198.2,1628.8 1198.9,1631.0 1195.9,1633.2 1195.5,1635.4 1194.5,1637.6 1196.8,1640.1 1198.8,1642.6 1200.0,1644.8 1202.0,1647.0 1204.0,1649.9 1208.8,1651.9 1234.3,1651.9 1239.9,1649.9 1242.0,1647.0 1238.9,1644.8 1236.2,1642.6 1235.8,1640.1 1236.7,1637.6 1236.6,1635.4 1241.7,1633.2 1241.9,1631.0 1241.7,1628.8 1247.2,1626.3 1253.9,1623.9 1249.7,1622.0 1244.5,1620.0 1248.3,1618.0 1252.5,1616.0 1256.5,1614.0 1258.4,1612.1 1261.6,1610.2 1265.1,1608.2 1264.8,1604.9" fill="#0000a2"/>
<polygon points="1238.3,1604.9 1216.1,1608.2 1209.2,1610.2 1201.4,1612.1 1199.6,1614.0 1200.1,1616.0 1199.4,1618.0 1197.9,1620.0 1195.0,1622.0 1196.3,1623.9 1198.5,1626.3 1200.9,1628.8 1201.3,1631.0 1198.4,1633.2 1198.3,1635.4 1197.7,1637.6 1199.7,1640.1 1201.5,1642.6 1203.0,1644.8 1205.4,1647.0 1208.4,1649.9 1215.2,1651.9 1226.1,1651.9 1234.5,1649.9 1237.3,1647.0 1235.4,1644.8 1233.5,1642.6 1232.8,1640.1 1233.2,1637.6 1233.0,1635.4 1237.4,1633.2 1237.5,1631.0 1237.1,1628.8 1242.1,1626.3 1248.1,1623.9 1244.3,1622.0 1239.7,1620.0 1243.3,1618.0 1247.2,1616.0 1250.6,1614.0 1252.5,1612.1 1255.4,1610.2 1258.6,1608.2 1256.4,1604.9" fill="#0000dc"/>
<polygon points="1248.1,1604.9 1221.5,1608.2 1214.9,1610.2 1207.7,1612.1 1205.5,1614.0 1205.3,1616.0 1204.1,1618.0 1202.4,1620.0 1199.0,1622.0 1199.1,1623.9 1201.3,1626.3 1203.7,1628.8 1203.6,1631.0 1201.0,1633.2 1201.1,1635.4 1200.9,1637.6 1202.7,1640.1 1204.2,1642.6 1206.0,1644.8 1208.5,1647.0 1211.5,1649.9 1220.0,1651.6 1220.0,1651.6 1230.6,1649.9 1233.1,1647.0 1232.0,1644.8 1230.8,1642.6 1229.9,1640.1 1229.7,1637.6 1229.5,1635.4 1233.1,1633.2 1233.0,1631.0 1232.6,1628.8 1237.0,1626.3 1242.2,1623.9 1238.8,1622.0 1235.0,1620.0 1238.3,1618.0 1242.1,1616.0 1245.1,1614.0 1247.1,1612.1 1250.0,1610.2 1253.4,1608.2 1248.1,1604.9" fill="#0005ff"/>
<polygon points="1244.7,1606.0 1225.3,1608.2 1218.6,1610.2 1211.7,1612.1 1209.1,1614.0 1208.3,1616.0 1206.8,1618.0 1205.1,1620.0 1201.7,1622.0 1201.4,1623.9 1203.3,1626.3 1205.4,1628.8 1205.3,1631.0 1202.9,1633.2 1203.1,1635.4 1203.1,1637.6 1204.9,1640.1 1206.3,1642.6 1208.0,1644.8 1210.4,1647.0 1213.8,1649.9 1220.0,1650.9 1220.0,1650.9 1227.8,1649.9 1230.4,1647.0 1229.7,1644.8 1228.7,1642.6 1227.7,1640.1 1227.3,1637.6 1227.0,1635.4 1229.8,1633.2 1229.9,1631.0 1229.7,1628.8 1233.2,1626.3 1237.6,1623.9 1235.1,1622.0 1232.3,1620.0 1235.3,1618.0 1239.0,1616.0 1241.7,1614.0 1243.6,1612.1 1246.5,1610.2 1249.8,1608.2 1244.7,1606.0" fill="#0038ff"/>
<polygon points="1241.2,1607.1 1229.5,1608.2 1222.2,1610.2 1215.2,1612.1 1212.3,1614.0 1211.1,1616.0 1209.3,1618.0 1207.5,1620.0 1203.9,1622.0 1203.0,1623.9 1204.9,1626.3 1206.9,1628.8 1206.6,1631.0 1204.4,1633.2 1204.8,1635.4 1204.9,1637.6 1206.6,1640.1 1207.8,1642.6 1209.7,1644.8 1212.1,1647.0 1217.2,1649.9 1220.1,1650.2 1220.1,1650.2 1223.7,1649.9 1228.1,1647.0 1227.8,1644.8 1227.1,1642.6 1226.0,1640.1 1225.3,1637.6 1225.0,1635.4 1227.3,1633.2 1227.4,1631.0 1227.2,1628.8 1230.3,1626.3 1234.2,1623.9 1232.0,1622.0 1229.8,1620.0 1232.7,1618.0 1236.3,1616.0 1238.7,1614.0 1240.7,1612.1 1243.2,1610.2 1245.7,1608.2 1241.2,1607.1" fill="#006bff"/>
<polygon points="1237.8,1608.2 1227.5,1610.2 1220.0,1612.1 1216.2,1614.0 1214.2,1616.0 1212.1,1618.0 1210.2,1620.0 1205.9,1622.0 1204.5,1623.9 1206.3,1626.3 1208.3,1628.8 1207.8,1631.0 1205.6,1633.2 1206.2,1635.4 1206.5,1637.6 1208.0,1640.1 1209.2,1642.6 1211.2,1644.8 1214.4,1647.0 1219.6,1648.8 1219.6,1648.8 1224.8,1647.0 1226.1,1644.8 1225.8,1642.6 1224.6,1640.1 1223.6,1637.6 1223.2,1635.4 1225.1,1633.2 1225.2,1631.0 1224.9,1628.8 1227.7,1626.3 1231.2,1623.9 1229.3,1622.0 1227.0,1620.0 1229.7,1618.0 1233.1,1616.0 1234.9,1614.0 1236.6,1612.1 1238.2,1610.2 1237.8,1608.2" fill="#009eff"/>
<polygon points="1228.9,1612.1 1222.7,1614.0 1218.4,1616.0 1215.9,1618.0 1213.8,1620.0 1208.6,1622.0 1205.9,1623.9 1208.1,1626.3 1210.3,1628.8 1209.4,1631.0 1207.2,1633.2 1207.9,1635.4 1208.7,1637.6 1209.8,1640.1 1210.6,1642.6 1213.5,1644.8 1218.8,1647.0 1218.8,1647.0 1223.6,1644.8 1224.3,1642.6 1222.8,1640.1 1221.3,1637.6 1221.0,1635.4 1222.5,1633.2 1222.3,1631.0 1221.6,1628.8 1224.4,1626.3 1228.1,1623.9 1225.6,1622.0 1223.2,1620.0 1225.6,1618.0 1228.9,1616.0 1228.7,1614.0 1228.9,1612.1" fill="#00d1ff"/>
<polygon points="1217.2,1620.9 1212.4,1622.0 1208.0,1623.9 1210.2,1626.3 1213.6,1628.8 1211.5,1631.0 1209.1,1633.2 1210.0,1635.4 1211.5,1637.6 1212.0,1640.1 1212.6,1642.6 1217.2,1644.8 1218.3,1645.2 1218.3,1645.2 1219.3,1644.8 1222.3,1642.6 1220.6,1640.1 1218.2,1637.6 1218.3,1635.4 1219.3,1633.2 1218.3,1631.0 1216.0,1628.8 1220.6,1626.3 1223.7,1623.9 1220.3,1622.0 1217.2,1620.9" fill="#19ffde"/>
<polygon points="1214.3,1623.0 1211.3,1623.9 1213.6,1625.5 1213.6,1625.5 1217.0,1623.9 1214.3,1623.0" fill="#42ffb5"/>
<polygon points="1216.3,1640.1 1215.7,1642.6 1217.7,1643.3 1217.7,1643.3 1219.3,1642.6 1216.3,1640.1" fill="#42ffb5"/>
<rect x="1215.2" y="1693.5" width="49.6" height="1.3" fill="#00008b"/>
<polygon points="1226.5,1685.8 1251.1,1685.8 1258.9,1689.7 1257.9,1694.2 1248.1,1697.6 1257.9,1701.5 1255.0,1704.0 1228.9,1704.0 1227.5,1697.6 1226.5,1694.2 1224.0,1689.7" fill="#00008b"/>
<polygon points="1232.0,1687.0 1250.0,1688.0 1246.0,1696.0 1234.0,1696.0" fill="#0030e0"/>
<rect x="1238.0" y="1701.5" width="10.0" height="2.0" fill="#00c0ff"/>
</g>
<rect x="934.50" y="1702.02" width="34.5" height="11.0"/>
<rect x="948.40" y="1682.07" width="20.6" height="6.9"/>
<rect x="948.40" y="1660.07" width="20.6" height="6.9"/>
<rect x="948.40" y="1638.07" width="20.6" height="6.9"/>
<rect x="948.40" y="1616.07" width="20.6" height="6.9"/>
<rect x="934.50" y="1592.02" width="34.5" height="11.0"/>
<rect x="948.40" y="1572.07" width="20.6" height="6.9"/>
<rect x="948.40" y="1550.07" width="20.6" height="6.9"/>
<rect x="948.40" y="1528.07" width="20.6" height="6.9"/>
<rect x="948.40" y="1506.07" width="20.6" height="6.9"/>
<rect x="934.50" y="1482.02" width="34.5" height="11.0"/>
<rect x="948.40" y="1462.07" width="20.6" height="6.9"/>
<rect x="948.40" y="1440.07" width="20.6" height="6.9"/>
<rect x="979.00" y="1707.02" width="11.0" height="35.7"/>
<rect x="1006.40" y="1707.02" width="6.9" height="21.6"/>
<rect x="1031.75" y="1707.02" width="6.9" height="21.6"/>
<rect x="1057.10" y="1707.02" width="6.9" height="21.6"/>
<rect x="1082.45" y="1707.02" width="6.9" height="21.6"/>
<rect x="1105.75" y="1707.02" width="11.0" height="35.7"/>
<rect x="1133.15" y="1707.02" width="6.9" height="21.6"/>
<rect x="1158.50" y="1707.02" width="6.9" height="21.6"/>
<rect x="1183.85" y="1707.02" width="6.9" height="21.6"/>
<rect x="1209.20" y="1707.02" width="6.9" height="21.6"/>
<rect x="1232.50" y="1707.02" width="11.0" height="35.7"/>
<rect x="1259.90" y="1707.02" width="6.9" height="21.6"/>
<rect x="1285.25" y="1707.02" width="6.9" height="21.6"/>
<rect x="1310.60" y="1707.02" width="6.9" height="21.6"/>
<rect x="1335.95" y="1707.02" width="6.9" height="21.6"/>
<rect x="1359.25" y="1707.02" width="11.0" height="35.7"/>
<rect x="1386.65" y="1707.02" width="6.9" height="21.6"/>
<rect x="1412.00" y="1707.02" width="6.9" height="21.6"/>
<rect x="1437.35" y="1707.02" width="6.9" height="21.6"/>
<rect x="1462.70" y="1707.02" width="6.9" height="21.6"/>
<rect x="1486.00" y="1707.02" width="11.0" height="35.7"/>
<rect x="969.00" y="1443.17" width="539.0" height="263.85" fill="none" stroke="#000" stroke-width="5.6"/>
<text transform="translate(1190.11,1488.91) scale(1.1885,1)" font-size="36.44" font-weight="bold" fill="#000" stroke="#000" stroke-width="0.6">1700</text>
</g>
<g>
<g clip-path="url(#cp42)">
<rect x="2066.0" y="1610.3" width="9.0" height="1.5" fill="#0000c0"/>
<rect x="2143.0" y="1624.3" width="10.0" height="1.5" fill="#0000c0"/>
<polygon points="1863.2,1595.5 1872.0,1592.0 1884.9,1592.0 1884.9,1597.0 1882.1,1599.9 1868.3,1599.9 1868.0,1596.0" fill="#0000e0"/>
<polygon points="1870.0,1594.0 1881.0,1593.5 1880.0,1598.5 1870.0,1598.5" fill="#0040ff"/>
<polygon points="1855.9,1637.2 1857.5,1639.1 1855.0,1640.9 1856.8,1642.3 1857.0,1643.7 1852.5,1645.1 1850.5,1646.5 1846.6,1647.8 1843.7,1649.2 1835.7,1650.6 1824.6,1652.0 1828.1,1653.4 1833.1,1654.8 1830.8,1655.9 1827.6,1657.1 1843.0,1658.9 1875.7,1658.9 1876.7,1657.1 1888.0,1655.9 1902.7,1654.8 1911.9,1653.4 1924.2,1652.0 1916.0,1650.6 1909.3,1649.2 1904.2,1647.8 1902.4,1646.5 1906.4,1645.1 1912.1,1643.7 1905.1,1642.3 1899.9,1640.9 1900.8,1639.1 1899.2,1637.2" fill="#0000a2"/>
<polygon points="1864.4,1637.2 1861.8,1639.1 1858.3,1640.9 1860.0,1642.3 1860.4,1643.7 1856.8,1645.1 1855.3,1646.5 1851.4,1647.8 1848.3,1649.2 1841.3,1650.6 1831.5,1652.0 1834.4,1653.4 1838.3,1654.8 1836.4,1655.9 1834.0,1657.1 1851.6,1658.9 1865.5,1658.9 1871.3,1657.1 1881.8,1655.9 1895.3,1654.8 1904.8,1653.4 1916.9,1652.0 1910.4,1650.6 1905.2,1649.2 1900.8,1647.8 1899.4,1646.5 1902.2,1645.1 1906.3,1643.7 1900.2,1642.3 1895.7,1640.9 1893.9,1639.1 1886.1,1637.2" fill="#0000dc"/>
<polygon points="1872.9,1637.2 1865.1,1639.1 1861.6,1640.9 1863.2,1642.3 1863.8,1643.7 1861.2,1645.1 1860.1,1646.5 1856.2,1647.8 1853.0,1649.2 1846.8,1650.6 1838.4,1652.0 1840.7,1653.4 1843.5,1654.8 1841.4,1655.9 1839.1,1657.1 1857.6,1658.7 1857.6,1658.7 1867.0,1657.1 1876.2,1655.9 1887.9,1654.8 1897.6,1653.4 1909.6,1652.0 1904.9,1650.6 1901.1,1649.2 1897.5,1647.8 1896.4,1646.5 1898.0,1645.1 1900.6,1643.7 1895.4,1642.3 1891.5,1640.9 1888.8,1639.1 1872.9,1637.2" fill="#0005ff"/>
<polygon points="1873.4,1637.9 1867.4,1639.1 1863.7,1640.9 1865.2,1642.3 1866.0,1643.7 1864.2,1645.1 1863.7,1646.5 1860.1,1647.8 1857.0,1649.2 1851.4,1650.6 1844.0,1652.0 1845.0,1653.4 1846.6,1654.8 1844.6,1655.9 1842.5,1657.1 1856.4,1658.2 1856.4,1658.2 1864.1,1657.1 1872.6,1655.9 1883.6,1654.8 1892.7,1653.4 1903.8,1652.0 1900.3,1650.6 1897.5,1649.2 1894.8,1647.8 1894.1,1646.5 1895.1,1645.1 1896.8,1643.7 1892.2,1642.3 1888.8,1640.9 1885.1,1639.1 1873.4,1637.9" fill="#0038ff"/>
<polygon points="1873.9,1638.6 1870.4,1639.1 1865.5,1640.9 1867.0,1642.3 1867.9,1643.7 1866.7,1645.1 1866.4,1646.5 1862.9,1647.8 1859.7,1649.2 1854.7,1650.6 1848.0,1652.0 1848.5,1653.4 1849.3,1654.8 1847.4,1655.9 1846.5,1657.1 1855.3,1657.6 1855.3,1657.6 1860.7,1657.1 1869.5,1655.9 1879.7,1654.8 1888.7,1653.4 1899.5,1652.0 1897.1,1650.6 1895.1,1649.2 1892.8,1647.8 1892.4,1646.5 1892.8,1645.1 1893.6,1643.7 1889.5,1642.3 1886.5,1640.9 1880.3,1639.1 1873.9,1638.6" fill="#006bff"/>
<polygon points="1874.3,1639.3 1867.2,1640.9 1868.6,1642.3 1869.6,1643.7 1868.9,1645.1 1868.8,1646.5 1865.4,1647.8 1862.3,1649.2 1857.6,1650.6 1851.6,1652.0 1851.7,1653.4 1852.4,1654.8 1851.5,1655.9 1854.2,1657.1 1854.2,1657.1 1864.9,1655.9 1875.3,1654.8 1885.2,1653.4 1895.7,1652.0 1894.1,1650.6 1892.9,1649.2 1891.1,1647.8 1890.9,1646.5 1890.7,1645.1 1890.7,1643.7 1887.1,1642.3 1884.4,1640.9 1874.3,1639.3" fill="#009eff"/>
<polygon points="1874.5,1640.0 1869.6,1640.9 1870.9,1642.3 1872.1,1643.7 1871.8,1645.1 1871.7,1646.5 1867.8,1647.8 1864.6,1649.2 1860.4,1650.6 1855.3,1652.0 1856.0,1653.4 1856.6,1654.8 1858.9,1655.7 1858.9,1655.7 1869.3,1654.8 1880.3,1653.4 1891.8,1652.0 1891.4,1650.6 1890.8,1649.2 1889.4,1647.8 1889.1,1646.5 1887.9,1645.1 1886.5,1643.7 1883.5,1642.3 1881.3,1640.9 1874.5,1640.0" fill="#00d1ff"/>
<polygon points="1874.7,1640.8 1873.6,1640.9 1874.8,1642.3 1876.3,1643.7 1875.7,1645.1 1875.3,1646.5 1871.4,1647.8 1867.7,1649.2 1864.4,1650.6 1860.5,1652.0 1862.1,1653.4 1864.3,1654.2 1864.3,1654.2 1873.3,1653.4 1886.4,1652.0 1887.4,1650.6 1888.1,1649.2 1886.9,1647.8 1886.8,1646.5 1884.2,1645.1 1879.4,1643.7 1877.5,1642.3 1876.1,1640.9 1874.7,1640.8" fill="#19ffde"/>
<polygon points="1882.3,1646.5 1876.5,1647.8 1871.2,1649.2 1869.4,1650.6 1868.4,1652.0 1870.5,1652.6 1870.5,1652.6 1877.9,1652.0 1882.4,1650.6 1885.0,1649.2 1883.3,1647.8 1882.3,1646.5" fill="#42ffb5"/>
<polygon points="1864.2,1679.0 1919.9,1679.0 1919.9,1681.0 1911.6,1683.8 1910.7,1687.9 1897.8,1690.2 1905.2,1693.9 1911.6,1698.1 1896.9,1701.7 1896.9,1704.0 1874.8,1704.0 1866.9,1701.7 1865.5,1698.1 1850.3,1693.9 1847.1,1690.2 1844.4,1687.9 1858.2,1683.8 1866.0,1681.0" fill="#00008b"/>
<polygon points="1872.0,1681.0 1908.0,1681.0 1900.0,1688.0 1890.0,1695.0 1896.0,1702.0 1878.0,1702.0 1870.0,1694.0 1862.0,1688.0" fill="#0020d8"/>
<rect x="1876.0" y="1683.0" width="16.0" height="2.0" fill="#0070ff"/>
<rect x="1880.0" y="1696.0" width="10.0" height="2.0" fill="#0080ff"/>
</g>
<rect x="1581.50" y="1702.02" width="34.5" height="11.0"/>
<rect x="1595.40" y="1682.07" width="20.6" height="6.9"/>
<rect x="1595.40" y="1660.07" width="20.6" height="6.9"/>
<rect x="1595.40" y="1638.07" width="20.6" height="6.9"/>
<rect x="1595.40" y="1616.07" width="20.6" height="6.9"/>
<rect x="1581.50" y="1592.02" width="34.5" height="11.0"/>
<rect x="1595.40" y="1572.07" width="20.6" height="6.9"/>
<rect x="1595.40" y="1550.07" width="20.6" height="6.9"/>
<rect x="1595.40" y="1528.07" width="20.6" height="6.9"/>
<rect x="1595.40" y="1506.07" width="20.6" height="6.9"/>
<rect x="1581.50" y="1482.02" width="34.5" height="11.0"/>
<rect x="1595.40" y="1462.07" width="20.6" height="6.9"/>
<rect x="1595.40" y="1440.07" width="20.6" height="6.9"/>
<rect x="1626.00" y="1707.02" width="11.0" height="35.7"/>
<rect x="1653.40" y="1707.02" width="6.9" height="21.6"/>
<rect x="1678.75" y="1707.02" width="6.9" height="21.6"/>
<rect x="1704.10" y="1707.02" width="6.9" height="21.6"/>
<rect x="1729.45" y="1707.02" width="6.9" height="21.6"/>
<rect x="1752.75" y="1707.02" width="11.0" height="35.7"/>
<rect x="1780.15" y="1707.02" width="6.9" height="21.6"/>
<rect x="1805.50" y="1707.02" width="6.9" height="21.6"/>
<rect x="1830.85" y="1707.02" width="6.9" height="21.6"/>
<rect x="1856.20" y="1707.02" width="6.9" height="21.6"/>
<rect x="1879.50" y="1707.02" width="11.0" height="35.7"/>
<rect x="1906.90" y="1707.02" width="6.9" height="21.6"/>
<rect x="1932.25" y="1707.02" width="6.9" height="21.6"/>
<rect x="1957.60" y="1707.02" width="6.9" height="21.6"/>
<rect x="1982.95" y="1707.02" width="6.9" height="21.6"/>
<rect x="2006.25" y="1707.02" width="11.0" height="35.7"/>
<rect x="2033.65" y="1707.02" width="6.9" height="21.6"/>
<rect x="2059.00" y="1707.02" width="6.9" height="21.6"/>
<rect x="2084.35" y="1707.02" width="6.9" height="21.6"/>
<rect x="2109.70" y="1707.02" width="6.9" height="21.6"/>
<rect x="2133.00" y="1707.02" width="11.0" height="35.7"/>
<rect x="1616.00" y="1443.17" width="539.0" height="263.85" fill="none" stroke="#000" stroke-width="5.6"/>
<text transform="translate(1837.11,1488.91) scale(1.1885,1)" font-size="36.44" font-weight="bold" fill="#000" stroke="#000" stroke-width="0.6">1800</text>
</g>
<g>
<g clip-path="url(#cp43)">
<polygon points="2505.3,1534.8 2503.6,1536.7 2502.1,1538.5 2496.8,1540.4 2496.9,1542.6 2494.3,1544.8 2491.4,1546.9 2491.6,1549.1 2490.1,1551.3 2487.5,1553.4 2483.7,1555.6 2483.4,1557.8 2483.0,1560.0 2481.9,1562.2 2482.5,1564.4 2481.4,1566.6 2480.2,1568.8 2479.8,1570.9 2478.3,1573.1 2479.9,1575.3 2478.4,1577.5 2477.4,1579.7 2475.6,1581.8 2474.0,1584.0 2473.3,1586.2 2471.8,1588.3 2470.4,1590.5 2468.2,1592.7 2472.0,1594.9 2472.0,1597.1 2472.9,1599.3 2476.1,1601.5 2470.8,1603.9 2470.5,1606.4 2468.8,1608.8 2469.1,1611.2 2468.6,1613.6 2468.3,1616.0 2468.8,1618.4 2467.6,1620.9 2467.8,1623.3 2467.3,1625.5 2468.8,1627.7 2466.8,1629.8 2466.9,1632.0 2469.3,1634.0 2468.9,1636.1 2471.1,1638.1 2469.5,1640.2 2469.2,1642.2 2472.0,1644.4 2470.3,1646.6 2471.9,1648.7 2471.2,1650.9 2466.1,1653.1 2456.8,1655.3 2445.3,1657.1 2442.0,1658.9 2434.6,1660.8 2447.2,1664.0 2445.6,1666.0 2447.8,1668.1 2446.4,1669.5 2518.0,1669.5 2522.0,1668.1 2527.1,1666.0 2527.8,1664.0 2562.9,1660.8 2569.0,1658.9 2571.5,1657.1 2542.5,1655.3 2539.7,1653.1 2535.9,1650.9 2537.7,1648.7 2534.5,1646.6 2533.2,1644.4 2534.5,1642.2 2531.7,1640.2 2533.5,1638.1 2532.6,1636.1 2531.0,1634.0 2532.5,1632.0 2529.3,1629.8 2530.3,1627.7 2528.9,1625.5 2525.8,1623.3 2526.9,1620.9 2529.9,1618.4 2530.2,1616.0 2526.6,1613.6 2526.3,1611.2 2525.0,1608.8 2526.9,1606.4 2527.9,1603.9 2531.1,1601.5 2530.2,1599.3 2531.2,1597.1 2532.4,1594.9 2534.6,1592.7 2532.5,1590.5 2530.8,1588.3 2533.1,1586.2 2530.5,1584.0 2530.7,1581.8 2529.7,1579.7 2528.6,1577.5 2528.7,1575.3 2528.4,1573.1 2528.8,1570.9 2527.0,1568.8 2529.3,1566.6 2528.7,1564.4 2528.1,1562.2 2525.4,1560.0 2527.8,1557.8 2526.0,1555.6 2524.3,1553.4 2523.5,1551.3 2524.1,1549.1 2525.4,1546.9 2527.6,1544.8 2528.2,1542.6 2529.4,1540.4 2530.1,1538.5 2534.6,1536.7 2535.9,1534.8" fill="#0000a2"/>
<polygon points="2510.2,1534.8 2506.8,1536.7 2504.6,1538.5 2499.2,1540.4 2499.1,1542.6 2496.5,1544.8 2493.7,1546.9 2493.5,1549.1 2492.0,1551.3 2489.6,1553.4 2486.0,1555.6 2485.5,1557.8 2485.1,1560.0 2484.0,1562.2 2484.5,1564.4 2483.3,1566.6 2482.3,1568.8 2481.9,1570.9 2480.5,1573.1 2482.0,1575.3 2480.6,1577.5 2479.7,1579.7 2477.9,1581.8 2476.4,1584.0 2475.7,1586.2 2474.3,1588.3 2472.9,1590.5 2470.8,1592.7 2474.2,1594.9 2474.1,1597.1 2474.9,1599.3 2477.9,1601.5 2472.9,1603.9 2472.5,1606.4 2470.8,1608.8 2471.1,1611.2 2470.7,1613.6 2470.5,1616.0 2471.0,1618.4 2469.8,1620.9 2470.2,1623.3 2469.7,1625.5 2471.1,1627.7 2469.3,1629.8 2469.4,1632.0 2471.7,1634.0 2471.3,1636.1 2473.4,1638.1 2471.8,1640.2 2471.7,1642.2 2474.3,1644.4 2472.9,1646.6 2474.3,1648.7 2473.7,1650.9 2469.2,1653.1 2460.6,1655.3 2450.4,1657.1 2446.9,1658.9 2439.7,1660.8 2450.4,1664.0 2448.9,1666.0 2451.0,1668.1 2453.1,1669.5 2510.4,1669.5 2519.0,1668.1 2523.8,1666.0 2524.4,1664.0 2557.0,1660.8 2563.3,1658.9 2566.4,1657.1 2539.4,1655.3 2536.8,1653.1 2533.4,1650.9 2534.9,1648.7 2531.9,1646.6 2530.6,1644.4 2531.6,1642.2 2529.0,1640.2 2530.6,1638.1 2529.6,1636.1 2528.2,1634.0 2529.4,1632.0 2526.4,1629.8 2527.2,1627.7 2525.9,1625.5 2523.0,1623.3 2524.0,1620.9 2526.9,1618.4 2527.4,1616.0 2524.1,1613.6 2523.9,1611.2 2522.7,1608.8 2524.5,1606.4 2525.5,1603.9 2528.5,1601.5 2527.6,1599.3 2528.6,1597.1 2529.7,1594.9 2531.7,1592.7 2529.8,1590.5 2528.3,1588.3 2530.4,1586.2 2528.1,1584.0 2528.3,1581.8 2527.5,1579.7 2526.4,1577.5 2526.6,1575.3 2526.4,1573.1 2526.7,1570.9 2524.9,1568.8 2527.0,1566.6 2526.4,1564.4 2525.9,1562.2 2523.4,1560.0 2525.5,1557.8 2523.9,1555.6 2522.4,1553.4 2521.7,1551.3 2522.3,1549.1 2523.6,1546.9 2525.6,1544.8 2526.2,1542.6 2527.2,1540.4 2527.6,1538.5 2530.7,1536.7 2530.6,1534.8" fill="#0000dc"/>
<polygon points="2513.1,1534.8 2509.5,1536.7 2507.1,1538.5 2501.6,1540.4 2501.2,1542.6 2498.7,1544.8 2495.9,1546.9 2495.4,1549.1 2494.0,1551.3 2491.6,1553.4 2488.3,1555.6 2487.7,1557.8 2487.2,1560.0 2486.2,1562.2 2486.5,1564.4 2485.3,1566.6 2484.3,1568.8 2484.1,1570.9 2482.8,1573.1 2484.0,1575.3 2482.8,1577.5 2481.9,1579.7 2480.3,1581.8 2478.9,1584.0 2478.1,1586.2 2476.7,1588.3 2475.3,1590.5 2473.3,1592.7 2476.4,1594.9 2476.2,1597.1 2476.9,1599.3 2479.6,1601.5 2474.9,1603.9 2474.5,1606.4 2472.8,1608.8 2473.2,1611.2 2472.8,1613.6 2472.7,1616.0 2473.1,1618.4 2472.1,1620.9 2472.5,1623.3 2472.0,1625.5 2473.3,1627.7 2471.8,1629.8 2472.0,1632.0 2474.0,1634.0 2473.7,1636.1 2475.7,1638.1 2474.2,1640.2 2474.1,1642.2 2476.6,1644.4 2475.4,1646.6 2476.7,1648.7 2476.3,1650.9 2472.2,1653.1 2464.5,1655.3 2455.4,1657.1 2451.8,1658.9 2444.8,1660.8 2453.5,1664.0 2452.3,1666.0 2454.3,1668.1 2459.3,1669.5 2503.4,1669.5 2516.1,1668.1 2520.4,1666.0 2521.0,1664.0 2551.1,1660.8 2557.6,1658.9 2561.2,1657.1 2536.3,1655.3 2534.0,1653.1 2530.8,1650.9 2532.1,1648.7 2529.3,1646.6 2528.0,1644.4 2528.8,1642.2 2526.3,1640.2 2527.7,1638.1 2526.7,1636.1 2525.3,1634.0 2526.3,1632.0 2523.5,1629.8 2524.1,1627.7 2522.8,1625.5 2520.2,1623.3 2521.2,1620.9 2524.0,1618.4 2524.6,1616.0 2521.5,1613.6 2521.5,1611.2 2520.3,1608.8 2522.1,1606.4 2523.1,1603.9 2525.9,1601.5 2525.1,1599.3 2526.0,1597.1 2527.1,1594.9 2528.9,1592.7 2527.2,1590.5 2525.8,1588.3 2527.7,1586.2 2525.7,1584.0 2525.9,1581.8 2525.2,1579.7 2524.3,1577.5 2524.4,1575.3 2524.3,1573.1 2524.5,1570.9 2522.9,1568.8 2524.7,1566.6 2524.2,1564.4 2523.8,1562.2 2521.4,1560.0 2523.2,1557.8 2521.8,1555.6 2520.5,1553.4 2520.0,1551.3 2520.4,1549.1 2521.7,1546.9 2523.5,1544.8 2524.1,1542.6 2524.9,1540.4 2525.2,1538.5 2527.5,1536.7 2527.4,1534.8" fill="#0005ff"/>
<polygon points="2516.1,1534.8 2511.3,1536.7 2508.6,1538.5 2503.6,1540.4 2503.1,1542.6 2500.8,1544.8 2498.2,1546.9 2497.3,1549.1 2496.0,1551.3 2493.7,1553.4 2490.6,1555.6 2489.9,1557.8 2489.2,1560.0 2488.4,1562.2 2488.4,1564.4 2487.2,1566.6 2486.3,1568.8 2486.2,1570.9 2485.1,1573.1 2486.0,1575.3 2484.9,1577.5 2484.1,1579.7 2482.6,1581.8 2481.3,1584.0 2480.4,1586.2 2479.1,1588.3 2477.8,1590.5 2475.9,1592.7 2478.6,1594.9 2478.3,1597.1 2478.9,1599.3 2481.3,1601.5 2477.0,1603.9 2476.5,1606.4 2474.8,1608.8 2475.2,1611.2 2475.0,1613.6 2474.9,1616.0 2475.2,1618.4 2474.3,1620.9 2474.8,1623.3 2474.3,1625.5 2475.6,1627.7 2474.4,1629.8 2474.5,1632.0 2476.4,1634.0 2476.2,1636.1 2477.9,1638.1 2476.6,1640.2 2476.5,1642.2 2478.9,1644.4 2477.9,1646.6 2479.2,1648.7 2478.9,1650.9 2475.2,1653.1 2468.3,1655.3 2460.5,1657.1 2456.6,1658.9 2449.9,1660.8 2456.7,1664.0 2455.6,1666.0 2457.5,1668.1 2463.2,1669.5 2499.0,1669.5 2513.1,1668.1 2517.1,1666.0 2517.7,1664.0 2545.1,1660.8 2551.9,1658.9 2556.1,1657.1 2533.2,1655.3 2531.1,1653.1 2528.3,1650.9 2529.3,1648.7 2526.7,1646.6 2525.4,1644.4 2525.9,1642.2 2523.6,1640.2 2524.8,1638.1 2523.8,1636.1 2522.5,1634.0 2523.2,1632.0 2520.6,1629.8 2521.0,1627.7 2519.7,1625.5 2517.4,1623.3 2518.3,1620.9 2521.0,1618.4 2521.8,1616.0 2519.0,1613.6 2519.0,1611.2 2518.0,1608.8 2519.8,1606.4 2520.7,1603.9 2523.3,1601.5 2522.6,1599.3 2523.4,1597.1 2524.4,1594.9 2526.1,1592.7 2524.6,1590.5 2523.4,1588.3 2525.0,1586.2 2523.3,1584.0 2523.6,1581.8 2523.0,1579.7 2522.2,1577.5 2522.3,1575.3 2522.2,1573.1 2522.4,1570.9 2520.8,1568.8 2522.4,1566.6 2522.0,1564.4 2521.6,1562.2 2519.3,1560.0 2521.0,1557.8 2519.8,1555.6 2518.6,1553.4 2518.2,1551.3 2518.5,1549.1 2519.9,1546.9 2521.7,1544.8 2522.3,1542.6 2523.2,1540.4 2523.7,1538.5 2525.3,1536.7 2524.1,1534.8" fill="#0038ff"/>
<polygon points="2519.3,1535.3 2513.2,1536.7 2509.9,1538.5 2505.0,1540.4 2504.3,1542.6 2502.0,1544.8 2499.5,1546.9 2498.5,1549.1 2497.3,1551.3 2495.2,1553.4 2492.4,1555.6 2491.7,1557.8 2491.1,1560.0 2490.4,1562.2 2490.3,1564.4 2489.2,1566.6 2488.4,1568.8 2488.3,1570.9 2487.3,1573.1 2488.1,1575.3 2487.1,1577.5 2486.3,1579.7 2485.0,1581.8 2483.8,1584.0 2482.8,1586.2 2481.5,1588.3 2480.3,1590.5 2478.4,1592.7 2480.8,1594.9 2480.5,1597.1 2481.0,1599.3 2483.1,1601.5 2479.1,1603.9 2478.5,1606.4 2476.9,1608.8 2477.3,1611.2 2477.1,1613.6 2477.1,1616.0 2477.3,1618.4 2476.5,1620.9 2477.1,1623.3 2476.7,1625.5 2477.8,1627.7 2476.9,1629.8 2477.0,1632.0 2478.8,1634.0 2478.6,1636.1 2480.2,1638.1 2479.0,1640.2 2479.0,1642.2 2481.2,1644.4 2480.5,1646.6 2481.6,1648.7 2481.4,1650.9 2478.2,1653.1 2472.1,1655.3 2465.6,1657.1 2461.5,1658.9 2455.0,1660.8 2459.9,1664.0 2459.0,1666.0 2460.7,1668.1 2466.6,1669.5 2495.2,1669.5 2510.2,1668.1 2513.8,1666.0 2514.3,1664.0 2539.2,1660.8 2546.2,1658.9 2550.9,1657.1 2530.1,1655.3 2528.2,1653.1 2525.7,1650.9 2526.5,1648.7 2524.1,1646.6 2522.7,1644.4 2523.1,1642.2 2520.8,1640.2 2522.0,1638.1 2520.9,1636.1 2519.6,1634.0 2520.2,1632.0 2517.7,1629.8 2517.9,1627.7 2516.7,1625.5 2514.6,1623.3 2515.5,1620.9 2518.0,1618.4 2518.9,1616.0 2516.5,1613.6 2516.6,1611.2 2515.7,1608.8 2517.4,1606.4 2518.3,1603.9 2520.7,1601.5 2520.0,1599.3 2520.8,1597.1 2521.7,1594.9 2523.3,1592.7 2521.9,1590.5 2520.9,1588.3 2522.4,1586.2 2520.9,1584.0 2521.2,1581.8 2520.7,1579.7 2520.0,1577.5 2520.1,1575.3 2520.1,1573.1 2520.3,1570.9 2518.8,1568.8 2520.2,1566.6 2519.7,1564.4 2519.6,1562.2 2517.6,1560.0 2519.1,1557.8 2518.1,1555.6 2517.2,1553.4 2517.0,1551.3 2517.4,1549.1 2518.8,1546.9 2520.5,1544.8 2521.1,1542.6 2521.8,1540.4 2522.4,1538.5 2523.0,1536.7 2519.3,1535.3" fill="#006bff"/>
<polygon points="2517.9,1536.4 2516.6,1536.7 2511.3,1538.5 2506.2,1540.4 2505.5,1542.6 2503.3,1544.8 2500.8,1546.9 2499.6,1549.1 2498.4,1551.3 2496.3,1553.4 2493.7,1555.6 2493.0,1557.8 2492.3,1560.0 2491.6,1562.2 2491.5,1564.4 2490.4,1566.6 2489.7,1568.8 2489.7,1570.9 2488.8,1573.1 2489.4,1575.3 2488.5,1577.5 2487.8,1579.7 2486.6,1581.8 2485.4,1584.0 2484.5,1586.2 2483.3,1588.3 2482.1,1590.5 2480.4,1592.7 2482.5,1594.9 2482.1,1597.1 2482.6,1599.3 2484.5,1601.5 2480.8,1603.9 2480.2,1606.4 2478.6,1608.8 2479.0,1611.2 2478.7,1613.6 2478.8,1616.0 2478.9,1618.4 2478.0,1620.9 2478.6,1623.3 2478.1,1625.5 2479.3,1627.7 2478.5,1629.8 2478.7,1632.0 2480.4,1634.0 2480.3,1636.1 2481.9,1638.1 2480.8,1640.2 2480.8,1642.2 2483.0,1644.4 2482.5,1646.6 2483.6,1648.7 2483.5,1650.9 2480.6,1653.1 2475.1,1655.3 2469.5,1657.1 2465.0,1658.9 2458.3,1660.8 2462.3,1664.0 2461.5,1666.0 2463.0,1668.1 2471.3,1669.5 2489.9,1669.5 2508.0,1668.1 2511.3,1666.0 2511.7,1664.0 2535.3,1660.8 2542.1,1658.9 2546.9,1657.1 2527.7,1655.3 2526.0,1653.1 2523.6,1650.9 2524.2,1648.7 2522.0,1646.6 2520.7,1644.4 2520.9,1642.2 2518.8,1640.2 2519.9,1638.1 2518.8,1636.1 2517.6,1634.0 2518.1,1632.0 2515.9,1629.8 2515.9,1627.7 2514.7,1625.5 2512.9,1623.3 2513.6,1620.9 2515.9,1618.4 2516.8,1616.0 2514.5,1613.6 2514.6,1611.2 2513.7,1608.8 2515.4,1606.4 2516.2,1603.9 2518.6,1601.5 2518.0,1599.3 2518.7,1597.1 2519.6,1594.9 2521.1,1592.7 2520.0,1590.5 2519.1,1588.3 2520.5,1586.2 2519.3,1584.0 2519.6,1581.8 2519.2,1579.7 2518.6,1577.5 2518.7,1575.3 2518.8,1573.1 2518.9,1570.9 2517.5,1568.8 2518.8,1566.6 2518.4,1564.4 2518.3,1562.2 2516.4,1560.0 2517.8,1557.8 2516.9,1555.6 2516.1,1553.4 2516.0,1551.3 2516.3,1549.1 2517.7,1546.9 2519.3,1544.8 2520.0,1542.6 2520.7,1540.4 2521.0,1538.5 2518.9,1536.7 2517.9,1536.4" fill="#009eff"/>
<polygon points="2516.9,1537.6 2513.2,1538.5 2507.5,1540.4 2506.6,1542.6 2504.4,1544.8 2502.0,1546.9 2500.5,1549.1 2499.5,1551.3 2497.5,1553.4 2495.0,1555.6 2494.2,1557.8 2493.5,1560.0 2492.9,1562.2 2492.6,1564.4 2491.5,1566.6 2490.9,1568.8 2491.0,1570.9 2490.1,1573.1 2490.6,1575.3 2489.8,1577.5 2489.1,1579.7 2488.0,1581.8 2486.8,1584.0 2485.8,1586.2 2484.7,1588.3 2483.6,1590.5 2481.9,1592.7 2483.7,1594.9 2483.4,1597.1 2483.8,1599.3 2485.5,1601.5 2482.0,1603.9 2481.4,1606.4 2479.8,1608.8 2480.2,1611.2 2480.0,1613.6 2480.1,1616.0 2480.1,1618.4 2479.3,1620.9 2479.9,1623.3 2479.5,1625.5 2480.6,1627.7 2480.0,1629.8 2480.2,1632.0 2481.8,1634.0 2481.7,1636.1 2483.2,1638.1 2482.2,1640.2 2482.3,1642.2 2484.4,1644.4 2483.9,1646.6 2485.0,1648.7 2485.0,1650.9 2482.4,1653.1 2477.3,1655.3 2472.4,1657.1 2467.9,1658.9 2461.3,1660.8 2464.1,1664.0 2463.5,1666.0 2464.9,1668.1 2480.0,1669.5 2480.0,1669.5 2506.3,1668.1 2509.3,1666.0 2509.7,1664.0 2531.8,1660.8 2538.8,1658.9 2543.9,1657.1 2525.9,1655.3 2524.3,1653.1 2522.1,1650.9 2522.6,1648.7 2520.5,1646.6 2519.2,1644.4 2519.2,1642.2 2517.2,1640.2 2518.2,1638.1 2517.1,1636.1 2516.0,1634.0 2516.3,1632.0 2514.2,1629.8 2514.1,1627.7 2513.0,1625.5 2511.3,1623.3 2511.9,1620.9 2514.2,1618.4 2515.1,1616.0 2513.1,1613.6 2513.2,1611.2 2512.4,1608.8 2514.0,1606.4 2514.8,1603.9 2517.1,1601.5 2516.5,1599.3 2517.2,1597.1 2518.1,1594.9 2519.4,1592.7 2518.5,1590.5 2517.6,1588.3 2519.0,1586.2 2517.9,1584.0 2518.3,1581.8 2517.9,1579.7 2517.4,1577.5 2517.4,1575.3 2517.6,1573.1 2517.7,1570.9 2516.3,1568.8 2517.4,1566.6 2517.1,1564.4 2517.0,1562.2 2515.2,1560.0 2516.4,1557.8 2515.7,1555.6 2515.0,1553.4 2515.1,1551.3 2515.3,1549.1 2516.8,1546.9 2518.3,1544.8 2519.0,1542.6 2519.5,1540.4 2519.2,1538.5 2516.9,1537.6" fill="#00d1ff"/>
<polygon points="2515.9,1538.8 2509.3,1540.4 2508.1,1542.6 2505.7,1544.8 2503.1,1546.9 2501.5,1549.1 2500.5,1551.3 2498.5,1553.4 2496.2,1555.6 2495.3,1557.8 2494.6,1560.0 2494.0,1562.2 2493.7,1564.4 2492.6,1566.6 2492.0,1568.8 2492.2,1570.9 2491.4,1573.1 2491.8,1575.3 2491.1,1577.5 2490.4,1579.7 2489.3,1581.8 2488.2,1584.0 2487.2,1586.2 2486.1,1588.3 2485.0,1590.5 2483.4,1592.7 2485.0,1594.9 2484.6,1597.1 2484.9,1599.3 2486.6,1601.5 2483.2,1603.9 2482.5,1606.4 2480.9,1608.8 2481.4,1611.2 2481.2,1613.6 2481.4,1616.0 2481.3,1618.4 2480.7,1620.9 2481.2,1623.3 2480.8,1625.5 2481.9,1627.7 2481.4,1629.8 2481.7,1632.0 2483.2,1634.0 2483.1,1636.1 2484.6,1638.1 2483.6,1640.2 2483.7,1642.2 2485.7,1644.4 2485.4,1646.6 2486.4,1648.7 2486.5,1650.9 2484.1,1653.1 2479.5,1655.3 2475.4,1657.1 2470.7,1658.9 2464.3,1660.8 2466.0,1664.0 2465.4,1666.0 2466.8,1668.1 2480.8,1669.3 2480.8,1669.3 2504.6,1668.1 2507.4,1666.0 2507.8,1664.0 2528.4,1660.8 2535.5,1658.9 2540.9,1657.1 2524.0,1655.3 2522.6,1653.1 2520.6,1650.9 2521.0,1648.7 2519.0,1646.6 2517.7,1644.4 2517.6,1642.2 2515.6,1640.2 2516.5,1638.1 2515.4,1636.1 2514.3,1634.0 2514.5,1632.0 2512.5,1629.8 2512.4,1627.7 2511.2,1625.5 2509.7,1623.3 2510.3,1620.9 2512.5,1618.4 2513.5,1616.0 2511.6,1613.6 2511.8,1611.2 2511.0,1608.8 2512.6,1606.4 2513.4,1603.9 2515.6,1601.5 2515.0,1599.3 2515.6,1597.1 2516.5,1594.9 2517.8,1592.7 2516.9,1590.5 2516.2,1588.3 2517.4,1586.2 2516.5,1584.0 2516.9,1581.8 2516.6,1579.7 2516.1,1577.5 2516.2,1575.3 2516.4,1573.1 2516.5,1570.9 2515.1,1568.8 2516.1,1566.6 2515.9,1564.4 2515.9,1562.2 2514.2,1560.0 2515.3,1557.8 2514.7,1555.6 2514.1,1553.4 2514.2,1551.3 2514.4,1549.1 2515.8,1546.9 2517.1,1544.8 2517.5,1542.6 2517.8,1540.4 2515.9,1538.8" fill="#19ffde"/>
<polygon points="2514.4,1539.9 2512.1,1540.4 2509.7,1542.6 2507.4,1544.8 2504.8,1546.9 2502.8,1549.1 2501.7,1551.3 2499.6,1553.4 2497.3,1555.6 2496.4,1557.8 2495.6,1560.0 2495.1,1562.2 2494.6,1564.4 2493.6,1566.6 2493.1,1568.8 2493.3,1570.9 2492.5,1573.1 2492.8,1575.3 2492.1,1577.5 2491.6,1579.7 2490.5,1581.8 2489.5,1584.0 2488.4,1586.2 2487.3,1588.3 2486.3,1590.5 2484.7,1592.7 2486.2,1594.9 2485.8,1597.1 2486.0,1599.3 2487.5,1601.5 2484.3,1603.9 2483.7,1606.4 2482.1,1608.8 2482.5,1611.2 2482.3,1613.6 2482.5,1616.0 2482.4,1618.4 2481.8,1620.9 2482.4,1623.3 2482.0,1625.5 2483.0,1627.7 2482.7,1629.8 2483.0,1632.0 2484.4,1634.0 2484.3,1636.1 2485.7,1638.1 2484.8,1640.2 2485.0,1642.2 2487.0,1644.4 2486.8,1646.6 2487.8,1648.7 2487.9,1650.9 2485.8,1653.1 2481.6,1655.3 2478.1,1657.1 2473.3,1658.9 2466.8,1660.8 2467.7,1664.0 2467.2,1666.0 2468.5,1668.1 2481.6,1669.2 2481.6,1669.2 2503.1,1668.1 2505.6,1666.0 2506.0,1664.0 2525.4,1660.8 2532.6,1658.9 2538.2,1657.1 2522.4,1655.3 2521.1,1653.1 2519.2,1650.9 2519.5,1648.7 2517.6,1646.6 2516.2,1644.4 2516.0,1642.2 2514.2,1640.2 2515.0,1638.1 2513.9,1636.1 2512.9,1634.0 2513.0,1632.0 2511.1,1629.8 2510.8,1627.7 2509.7,1625.5 2508.3,1623.3 2508.9,1620.9 2510.9,1618.4 2512.0,1616.0 2510.2,1613.6 2510.4,1611.2 2509.7,1608.8 2511.3,1606.4 2512.1,1603.9 2514.1,1601.5 2513.7,1599.3 2514.2,1597.1 2515.1,1594.9 2516.3,1592.7 2515.6,1590.5 2514.9,1588.3 2516.0,1586.2 2515.3,1584.0 2515.7,1581.8 2515.4,1579.7 2515.0,1577.5 2515.1,1575.3 2515.3,1573.1 2515.4,1570.9 2514.1,1568.8 2515.0,1566.6 2514.8,1564.4 2514.8,1562.2 2513.2,1560.0 2514.2,1557.8 2513.7,1555.6 2513.1,1553.4 2513.1,1551.3 2513.1,1549.1 2514.5,1546.9 2515.5,1544.8 2516.0,1542.6 2515.2,1540.4 2514.4,1539.9" fill="#42ffb5"/>
<polygon points="2512.6,1543.0 2510.2,1544.8 2506.7,1546.9 2504.2,1549.1 2503.1,1551.3 2501.1,1553.4 2499.0,1555.6 2497.8,1557.8 2496.9,1560.0 2496.2,1562.2 2495.6,1564.4 2494.6,1566.6 2494.1,1568.8 2494.3,1570.9 2493.7,1573.1 2493.8,1575.3 2493.2,1577.5 2492.7,1579.7 2491.7,1581.8 2490.7,1584.0 2489.6,1586.2 2488.5,1588.3 2487.5,1590.5 2486.0,1592.7 2487.3,1594.9 2486.8,1597.1 2487.1,1599.3 2488.4,1601.5 2485.4,1603.9 2484.7,1606.4 2483.1,1608.8 2483.6,1611.2 2483.4,1613.6 2483.6,1616.0 2483.5,1618.4 2482.9,1620.9 2483.5,1623.3 2483.2,1625.5 2484.1,1627.7 2483.9,1629.8 2484.3,1632.0 2485.6,1634.0 2485.5,1636.1 2486.9,1638.1 2486.0,1640.2 2486.2,1642.2 2488.1,1644.4 2488.0,1646.6 2489.0,1648.7 2489.2,1650.9 2487.3,1653.1 2483.5,1655.3 2480.6,1657.1 2475.7,1658.9 2469.3,1660.8 2469.2,1664.0 2468.9,1666.0 2470.1,1668.1 2482.3,1669.0 2482.3,1669.0 2501.6,1668.1 2503.9,1666.0 2504.3,1664.0 2522.5,1660.8 2529.7,1658.9 2535.6,1657.1 2520.8,1655.3 2519.6,1653.1 2518.0,1650.9 2518.1,1648.7 2516.3,1646.6 2514.9,1644.4 2514.6,1642.2 2512.9,1640.2 2513.5,1638.1 2512.4,1636.1 2511.4,1634.0 2511.5,1632.0 2509.6,1629.8 2509.3,1627.7 2508.2,1625.5 2506.9,1623.3 2507.4,1620.9 2509.4,1618.4 2510.6,1616.0 2509.0,1613.6 2509.2,1611.2 2508.6,1608.8 2510.1,1606.4 2510.9,1603.9 2512.8,1601.5 2512.4,1599.3 2512.9,1597.1 2513.7,1594.9 2514.9,1592.7 2514.2,1590.5 2513.6,1588.3 2514.7,1586.2 2514.1,1584.0 2514.5,1581.8 2514.3,1579.7 2514.0,1577.5 2514.0,1575.3 2514.3,1573.1 2514.4,1570.9 2513.1,1568.8 2513.9,1566.6 2513.7,1564.4 2513.7,1562.2 2512.0,1560.0 2512.7,1557.8 2512.2,1555.6 2511.6,1553.4 2511.8,1551.3 2511.7,1549.1 2512.9,1546.9 2513.0,1544.8 2512.6,1543.0" fill="#6bff8c"/>
<polygon points="2509.7,1547.4 2506.7,1549.1 2505.1,1551.3 2502.6,1553.4 2500.7,1555.6 2499.5,1557.8 2498.4,1560.0 2497.8,1562.2 2497.0,1564.4 2495.8,1566.6 2495.3,1568.8 2495.6,1570.9 2494.9,1573.1 2494.9,1575.3 2494.4,1577.5 2493.9,1579.7 2493.0,1581.8 2492.0,1584.0 2490.8,1586.2 2489.8,1588.3 2488.8,1590.5 2487.3,1592.7 2488.4,1594.9 2487.9,1597.1 2488.1,1599.3 2489.3,1601.5 2486.4,1603.9 2485.6,1606.4 2484.1,1608.8 2484.6,1611.2 2484.4,1613.6 2484.7,1616.0 2484.6,1618.4 2484.1,1620.9 2485.0,1623.3 2484.6,1625.5 2485.5,1627.7 2485.4,1629.8 2485.7,1632.0 2486.8,1634.0 2486.7,1636.1 2488.0,1638.1 2487.2,1640.2 2487.4,1642.2 2489.3,1644.4 2489.3,1646.6 2490.2,1648.7 2490.5,1650.9 2488.8,1653.1 2485.4,1655.3 2483.2,1657.1 2478.2,1658.9 2472.1,1660.8 2470.8,1664.0 2470.5,1666.0 2471.7,1668.1 2483.1,1668.8 2483.1,1668.8 2500.1,1668.1 2502.3,1666.0 2502.6,1664.0 2519.2,1660.8 2526.9,1658.9 2533.0,1657.1 2519.3,1655.3 2518.2,1653.1 2516.7,1650.9 2516.7,1648.7 2515.0,1646.6 2513.6,1644.4 2513.2,1642.2 2511.5,1640.2 2512.1,1638.1 2511.0,1636.1 2509.9,1634.0 2509.8,1632.0 2508.0,1629.8 2507.5,1627.7 2506.3,1625.5 2505.2,1623.3 2505.9,1620.9 2508.0,1618.4 2509.2,1616.0 2507.7,1613.6 2508.0,1611.2 2507.4,1608.8 2508.9,1606.4 2509.7,1603.9 2511.5,1601.5 2511.1,1599.3 2511.6,1597.1 2512.4,1594.9 2513.5,1592.7 2512.9,1590.5 2512.4,1588.3 2513.3,1586.2 2512.8,1584.0 2513.2,1581.8 2513.1,1579.7 2512.8,1577.5 2512.8,1575.3 2513.1,1573.1 2513.1,1570.9 2511.8,1568.8 2512.5,1566.6 2512.1,1564.4 2512.0,1562.2 2510.5,1560.0 2511.0,1557.8 2510.6,1555.6 2510.2,1553.4 2510.1,1551.3 2509.2,1549.1 2509.7,1547.4" fill="#94ff63"/>
<polygon points="2507.2,1552.4 2505.9,1553.4 2503.6,1555.6 2501.5,1557.8 2500.0,1560.0 2499.5,1562.2 2498.4,1564.4 2497.3,1566.6 2496.8,1568.8 2497.2,1570.9 2496.6,1573.1 2496.5,1575.3 2496.0,1577.5 2495.6,1579.7 2494.8,1581.8 2493.9,1584.0 2492.6,1586.2 2491.5,1588.3 2490.5,1590.5 2489.0,1592.7 2489.8,1594.9 2489.2,1597.1 2489.3,1599.3 2490.3,1601.5 2487.6,1603.9 2486.7,1606.4 2485.2,1608.8 2485.8,1611.2 2485.7,1613.6 2486.2,1616.0 2486.1,1618.4 2485.8,1620.9 2486.7,1623.3 2486.3,1625.5 2487.2,1627.7 2487.2,1629.8 2487.6,1632.0 2488.6,1634.0 2488.5,1636.1 2489.7,1638.1 2488.9,1640.2 2489.0,1642.2 2490.8,1644.4 2490.9,1646.6 2491.7,1648.7 2492.0,1650.9 2490.7,1653.1 2488.0,1655.3 2486.5,1657.1 2481.7,1658.9 2475.9,1660.8 2472.9,1664.0 2472.9,1666.0 2474.0,1668.1 2483.9,1668.7 2483.9,1668.7 2498.0,1668.1 2500.0,1666.0 2500.4,1664.0 2514.8,1660.8 2522.7,1658.9 2529.6,1657.1 2517.2,1655.3 2516.4,1653.1 2515.2,1650.9 2515.0,1648.7 2513.4,1646.6 2512.0,1644.4 2511.3,1642.2 2509.6,1640.2 2510.0,1638.1 2508.8,1636.1 2507.8,1634.0 2507.5,1632.0 2505.8,1629.8 2505.2,1627.7 2504.0,1625.5 2503.1,1623.3 2503.8,1620.9 2505.8,1618.4 2507.3,1616.0 2506.2,1613.6 2506.6,1611.2 2506.2,1608.8 2507.6,1606.4 2508.3,1603.9 2510.0,1601.5 2509.6,1599.3 2510.0,1597.1 2510.7,1594.9 2511.6,1592.7 2511.1,1590.5 2510.6,1588.3 2511.3,1586.2 2511.0,1584.0 2511.5,1581.8 2511.4,1579.7 2511.2,1577.5 2511.2,1575.3 2511.6,1573.1 2511.5,1570.9 2510.3,1568.8 2510.8,1566.6 2510.4,1564.4 2510.4,1562.2 2509.0,1560.0 2508.9,1557.8 2508.0,1555.6 2507.2,1553.4 2507.2,1552.4" fill="#bdff3a"/>
<polygon points="2505.1,1557.8 2503.2,1560.0 2502.0,1562.2 2500.1,1564.4 2498.7,1566.6 2498.4,1568.8 2498.8,1570.9 2498.3,1573.1 2498.0,1575.3 2497.7,1577.5 2497.2,1579.7 2496.5,1581.8 2495.7,1584.0 2494.4,1586.2 2493.3,1588.3 2492.4,1590.5 2490.9,1592.7 2491.5,1594.9 2490.8,1597.1 2490.8,1599.3 2491.6,1601.5 2489.1,1603.9 2488.2,1606.4 2486.7,1608.8 2487.3,1611.2 2487.3,1613.6 2487.8,1616.0 2487.7,1618.4 2487.5,1620.9 2488.5,1623.3 2488.1,1625.5 2488.9,1627.7 2489.1,1629.8 2489.5,1632.0 2490.4,1634.0 2490.3,1636.1 2491.4,1638.1 2490.6,1640.2 2490.9,1642.2 2492.5,1644.4 2492.8,1646.6 2493.5,1648.7 2493.9,1650.9 2492.9,1653.1 2490.8,1655.3 2490.3,1657.1 2485.4,1658.9 2479.7,1660.8 2475.3,1664.0 2475.4,1666.0 2476.5,1668.1 2484.7,1668.5 2484.7,1668.5 2495.7,1668.1 2497.4,1666.0 2497.9,1664.0 2510.3,1660.8 2518.4,1658.9 2525.7,1657.1 2514.9,1655.3 2514.3,1653.1 2513.3,1650.9 2512.9,1648.7 2511.4,1646.6 2510.0,1644.4 2509.2,1642.2 2507.6,1640.2 2507.9,1638.1 2506.6,1636.1 2505.7,1634.0 2505.2,1632.0 2503.7,1629.8 2502.8,1627.7 2501.7,1625.5 2501.0,1623.3 2501.6,1620.9 2503.6,1618.4 2505.2,1616.0 2504.3,1613.6 2504.8,1611.2 2504.5,1608.8 2505.8,1606.4 2506.5,1603.9 2508.1,1601.5 2507.7,1599.3 2508.0,1597.1 2508.7,1594.9 2509.5,1592.7 2509.1,1590.5 2508.7,1588.3 2509.3,1586.2 2509.2,1584.0 2509.7,1581.8 2509.7,1579.7 2509.6,1577.5 2509.6,1575.3 2510.0,1573.1 2509.9,1570.9 2508.7,1568.8 2509.1,1566.6 2508.5,1564.4 2507.8,1562.2 2505.9,1560.0 2505.1,1557.8" fill="#e6ff10"/>
<polygon points="2504.5,1563.3 2503.4,1564.4 2501.5,1566.6 2501.2,1568.8 2501.5,1570.9 2501.0,1573.1 2500.3,1575.3 2500.1,1577.5 2499.7,1579.7 2499.2,1581.8 2498.4,1584.0 2496.7,1586.2 2495.2,1588.3 2494.2,1590.5 2492.8,1592.7 2493.1,1594.9 2492.4,1597.1 2492.3,1599.3 2492.9,1601.5 2490.6,1603.9 2489.7,1606.4 2488.2,1608.8 2488.8,1611.2 2488.9,1613.6 2489.5,1616.0 2489.4,1618.4 2490.0,1620.9 2491.8,1623.3 2491.3,1625.5 2491.7,1627.7 2492.1,1629.8 2492.3,1632.0 2492.7,1634.0 2492.4,1636.1 2493.1,1638.1 2492.4,1640.2 2492.7,1642.2 2494.3,1644.4 2494.7,1646.6 2495.3,1648.7 2495.8,1650.9 2495.2,1653.1 2493.7,1655.3 2494.1,1657.1 2489.3,1658.9 2485.4,1660.8 2477.7,1664.0 2477.9,1666.0 2479.0,1668.1 2485.4,1668.3 2485.4,1668.3 2493.4,1668.1 2494.9,1666.0 2495.3,1664.0 2503.7,1660.8 2514.0,1658.9 2521.8,1657.1 2512.5,1655.3 2512.1,1653.1 2511.4,1650.9 2510.8,1648.7 2509.4,1646.6 2508.0,1644.4 2507.0,1642.2 2505.6,1640.2 2505.7,1638.1 2504.1,1636.1 2502.9,1634.0 2501.7,1632.0 2500.2,1629.8 2498.9,1627.7 2497.5,1625.5 2496.9,1623.3 2498.5,1620.9 2501.3,1618.4 2503.1,1616.0 2502.4,1613.6 2503.0,1611.2 2502.8,1608.8 2504.0,1606.4 2504.7,1603.9 2506.1,1601.5 2505.8,1599.3 2506.0,1597.1 2506.7,1594.9 2507.4,1592.7 2507.2,1590.5 2506.7,1588.3 2506.8,1586.2 2506.5,1584.0 2507.0,1581.8 2507.2,1579.7 2507.2,1577.5 2507.2,1575.3 2507.5,1573.1 2507.2,1570.9 2505.9,1568.8 2505.8,1566.6 2504.8,1564.4 2504.5,1563.3" fill="#ffd900"/>
<polygon points="2502.5,1584.0 2500.6,1586.2 2499.3,1588.3 2498.0,1590.5 2496.3,1592.7 2495.9,1594.9 2495.0,1597.1 2494.6,1599.3 2494.7,1601.5 2492.6,1603.9 2491.4,1606.4 2489.7,1608.8 2490.8,1611.2 2491.3,1613.6 2492.5,1616.0 2492.9,1618.4 2493.7,1620.9 2493.7,1620.9 2493.7,1620.9 2493.7,1620.9 2496.3,1618.4 2499.2,1616.0 2499.5,1613.6 2500.7,1611.2 2501.0,1608.8 2502.1,1606.4 2502.5,1603.9 2503.4,1601.5 2502.9,1599.3 2502.9,1597.1 2503.2,1594.9 2503.5,1592.7 2503.1,1590.5 2502.6,1588.3 2502.3,1586.2 2502.5,1584.0" fill="#ffaa00"/>
<polygon points="2496.6,1632.0 2496.7,1634.0 2496.4,1636.1 2496.8,1638.1 2496.0,1640.2 2496.0,1642.2 2497.2,1644.4 2497.7,1646.6 2498.1,1648.7 2498.5,1650.9 2498.8,1653.1 2499.0,1655.3 2501.1,1657.1 2497.4,1658.9 2493.9,1660.8 2493.9,1660.8 2504.5,1658.9 2514.8,1657.1 2508.2,1655.3 2508.7,1653.1 2508.7,1650.9 2507.7,1648.7 2506.3,1646.6 2504.6,1644.4 2503.1,1642.2 2501.5,1640.2 2501.0,1638.1 2499.2,1636.1 2498.1,1634.0 2496.6,1632.0" fill="#ffaa00"/>
<polygon points="2493.9,1660.8 2482.0,1664.0 2483.1,1666.0 2484.4,1668.1 2486.2,1668.2 2486.2,1668.2 2488.5,1668.1 2489.8,1666.0 2490.7,1664.0 2493.9,1660.8" fill="#ffaa00"/>
<polygon points="2498.5,1597.1 2497.9,1599.3 2497.7,1601.5 2496.0,1603.9 2494.7,1606.4 2493.0,1608.8 2494.2,1611.2 2494.8,1613.6 2495.2,1614.2 2495.2,1614.2 2495.3,1613.6 2496.7,1611.2 2497.3,1608.8 2498.1,1606.4 2498.5,1603.9 2499.1,1601.5 2498.7,1599.3 2498.5,1597.1" fill="#ff7b00"/>
<polygon points="2501.9,1646.6 2502.1,1648.7 2502.8,1650.9 2503.9,1653.1 2503.9,1653.1 2504.5,1650.9 2503.0,1648.7 2501.9,1646.6" fill="#ff7b00"/>
<polygon points="2388.9,1667.8 2356.5,1669.5 2324.0,1671.3 2314.0,1674.2 2313.8,1676.1 2312.1,1677.9 2316.2,1680.5 2320.1,1683.0 2318.5,1684.9 2318.5,1686.9 2317.3,1688.8 2318.7,1690.7 2320.1,1692.7 2319.8,1694.6 2319.3,1696.8 2318.9,1699.0 2322.7,1701.8 2326.4,1704.5 2543.2,1704.5 2544.7,1701.8 2549.0,1699.0 2547.3,1696.8 2545.1,1694.6 2541.5,1692.7 2537.9,1690.7 2534.9,1688.8 2532.2,1686.9 2529.8,1684.9 2527.6,1683.0 2526.6,1680.5 2523.4,1677.9 2519.7,1676.1 2518.4,1674.2 2509.4,1671.3 2506.0,1669.5 2501.0,1667.8" fill="#0000a2"/>
<polygon points="2392.6,1667.8 2360.0,1669.5 2327.3,1671.3 2316.9,1674.2 2316.6,1676.1 2315.0,1677.9 2318.8,1680.5 2322.5,1683.0 2321.1,1684.9 2321.3,1686.9 2320.2,1688.8 2321.7,1690.7 2323.1,1692.7 2323.0,1694.6 2322.7,1696.8 2322.5,1699.0 2326.2,1701.8 2329.8,1704.5 2535.0,1704.5 2536.7,1701.8 2540.9,1699.0 2539.6,1696.8 2537.8,1694.6 2534.6,1692.7 2531.4,1690.7 2528.7,1688.8 2526.3,1686.9 2524.1,1684.9 2522.1,1683.0 2521.2,1680.5 2518.3,1677.9 2514.6,1676.1 2513.3,1674.2 2504.7,1671.3 2502.4,1669.5 2499.1,1667.8" fill="#0000dc"/>
<polygon points="2396.4,1667.8 2363.5,1669.5 2330.5,1671.3 2319.8,1674.2 2319.4,1676.1 2317.8,1677.9 2321.4,1680.5 2324.8,1683.0 2323.8,1684.9 2324.0,1686.9 2323.1,1688.8 2324.6,1690.7 2326.1,1692.7 2326.1,1694.6 2326.0,1696.8 2326.1,1699.0 2329.7,1701.8 2333.2,1704.5 2526.9,1704.5 2528.7,1701.8 2532.8,1699.0 2531.9,1696.8 2530.5,1694.6 2527.8,1692.7 2524.9,1690.7 2522.5,1688.8 2520.4,1686.9 2518.5,1684.9 2516.6,1683.0 2515.8,1680.5 2513.1,1677.9 2509.6,1676.1 2508.1,1674.2 2500.1,1671.3 2498.8,1669.5 2497.2,1667.8" fill="#0005ff"/>
<polygon points="2400.1,1667.8 2367.0,1669.5 2333.8,1671.3 2322.7,1674.2 2322.3,1676.1 2320.7,1677.9 2324.0,1680.5 2327.2,1683.0 2326.4,1684.9 2326.7,1686.9 2326.0,1688.8 2327.6,1690.7 2329.1,1692.7 2329.2,1694.6 2329.4,1696.8 2329.7,1699.0 2333.2,1701.8 2336.6,1704.5 2518.7,1704.5 2520.8,1701.8 2524.7,1699.0 2524.2,1696.8 2523.2,1694.6 2520.9,1692.7 2518.4,1690.7 2516.4,1688.8 2514.5,1686.9 2512.8,1684.9 2511.1,1683.0 2510.4,1680.5 2508.0,1677.9 2504.5,1676.1 2503.0,1674.2 2495.4,1671.3 2495.3,1669.5 2495.2,1667.8" fill="#0038ff"/>
<polygon points="2402.3,1667.8 2369.9,1669.5 2337.1,1671.3 2325.6,1674.2 2325.1,1676.1 2323.5,1677.9 2326.6,1680.5 2329.5,1683.0 2329.1,1684.9 2329.4,1686.9 2329.0,1688.8 2330.5,1690.7 2332.0,1692.7 2332.3,1694.6 2332.7,1696.8 2333.3,1699.0 2336.8,1701.8 2340.0,1704.5 2510.6,1704.5 2512.8,1701.8 2516.7,1699.0 2516.5,1696.8 2515.9,1694.6 2514.0,1692.7 2511.9,1690.7 2510.2,1688.8 2508.6,1686.9 2507.2,1684.9 2505.6,1683.0 2505.0,1680.5 2502.9,1677.9 2499.5,1676.1 2497.8,1674.2 2490.8,1671.3 2492.3,1669.5 2494.1,1667.8" fill="#006bff"/>
<polygon points="2404.4,1667.8 2371.9,1669.5 2339.2,1671.3 2327.8,1674.2 2327.3,1676.1 2325.9,1677.9 2328.7,1680.5 2331.4,1683.0 2331.2,1684.9 2331.6,1686.9 2331.3,1688.8 2332.8,1690.7 2334.3,1692.7 2334.7,1694.6 2335.2,1696.8 2335.8,1699.0 2339.2,1701.8 2342.2,1704.5 2505.1,1704.5 2507.3,1701.8 2510.9,1699.0 2510.8,1696.8 2510.4,1694.6 2508.7,1692.7 2506.8,1690.7 2505.3,1688.8 2503.9,1686.9 2502.6,1684.9 2501.1,1683.0 2500.6,1680.5 2498.7,1677.9 2495.5,1676.1 2493.8,1674.2 2487.7,1671.3 2490.2,1669.5 2493.0,1667.8" fill="#009eff"/>
<polygon points="2406.3,1667.8 2373.9,1669.5 2341.2,1671.3 2329.5,1674.2 2329.0,1676.1 2327.5,1677.9 2330.3,1680.5 2332.8,1683.0 2332.7,1684.9 2333.2,1686.9 2333.0,1688.8 2334.5,1690.7 2336.1,1692.7 2336.5,1694.6 2337.1,1696.8 2337.9,1699.0 2341.2,1701.8 2344.2,1704.5 2500.4,1704.5 2502.6,1701.8 2506.1,1699.0 2506.3,1696.8 2506.1,1694.6 2504.7,1692.7 2503.1,1690.7 2501.7,1688.8 2500.4,1686.9 2499.3,1684.9 2497.9,1683.0 2497.4,1680.5 2495.7,1677.9 2492.5,1676.1 2490.8,1674.2 2485.0,1671.3 2488.2,1669.5 2492.0,1667.8" fill="#00d1ff"/>
<polygon points="2408.2,1667.8 2375.7,1669.5 2343.1,1671.3 2331.2,1674.2 2330.6,1676.1 2329.2,1677.9 2331.8,1680.5 2334.2,1683.0 2334.3,1684.9 2334.8,1686.9 2334.6,1688.8 2336.2,1690.7 2337.8,1692.7 2338.3,1694.6 2339.1,1696.8 2340.0,1699.0 2343.3,1701.8 2346.2,1704.5 2495.6,1704.5 2498.0,1701.8 2501.4,1699.0 2501.8,1696.8 2501.9,1694.6 2500.7,1692.7 2499.3,1690.7 2498.1,1688.8 2497.0,1686.9 2496.0,1684.9 2494.6,1683.0 2494.3,1680.5 2492.7,1677.9 2489.6,1676.1 2487.8,1674.2 2482.3,1671.3 2486.4,1669.5 2491.1,1667.8" fill="#19ffde"/>
<polygon points="2411.0,1667.8 2377.4,1669.5 2344.7,1671.3 2332.8,1674.2 2332.1,1676.1 2330.8,1677.9 2333.2,1680.5 2335.5,1683.0 2335.7,1684.9 2336.3,1686.9 2336.2,1688.8 2337.8,1690.7 2339.4,1692.7 2340.0,1694.6 2340.9,1696.8 2341.9,1699.0 2345.1,1701.8 2347.9,1704.5 2491.5,1704.5 2493.9,1701.8 2497.3,1699.0 2497.7,1696.8 2498.0,1694.6 2497.0,1692.7 2495.8,1690.7 2494.7,1688.8 2493.8,1686.9 2492.9,1684.9 2491.6,1683.0 2491.3,1680.5 2489.8,1677.9 2486.9,1676.1 2485.1,1674.2 2479.9,1671.3 2484.6,1669.5 2489.6,1667.8" fill="#42ffb5"/>
<polygon points="2413.8,1667.8 2379.7,1669.5 2346.3,1671.3 2334.2,1674.2 2333.6,1676.1 2332.2,1677.9 2334.5,1680.5 2336.6,1683.0 2337.0,1684.9 2337.6,1686.9 2337.7,1688.8 2339.3,1690.7 2340.9,1692.7 2341.6,1694.6 2342.5,1696.8 2343.7,1699.0 2346.8,1701.8 2349.6,1704.5 2487.4,1704.5 2489.9,1701.8 2493.2,1699.0 2493.9,1696.8 2494.4,1694.6 2493.6,1692.7 2492.5,1690.7 2491.6,1688.8 2490.8,1686.9 2490.1,1684.9 2488.9,1683.0 2488.6,1680.5 2487.3,1677.9 2484.3,1676.1 2482.5,1674.2 2477.6,1671.3 2482.3,1669.5 2488.2,1667.8" fill="#6bff8c"/>
<polygon points="2452.5,1667.8 2382.3,1669.5 2348.1,1671.3 2335.7,1674.2 2335.0,1676.1 2333.6,1677.9 2335.8,1680.5 2337.8,1683.0 2338.4,1684.9 2339.0,1686.9 2339.1,1688.8 2340.8,1690.7 2342.4,1692.7 2343.1,1694.6 2344.2,1696.8 2345.5,1699.0 2348.7,1701.8 2351.5,1704.5 2483.0,1704.5 2485.8,1701.8 2489.2,1699.0 2490.0,1696.8 2490.7,1694.6 2490.1,1692.7 2489.3,1690.7 2488.6,1688.8 2487.9,1686.9 2487.2,1684.9 2486.1,1683.0 2485.9,1680.5 2484.7,1677.9 2481.8,1676.1 2479.9,1674.2 2475.1,1671.3 2479.6,1669.5 2452.5,1667.8" fill="#94ff63"/>
<polygon points="2441.7,1668.7 2385.5,1669.5 2350.6,1671.3 2337.6,1674.2 2336.7,1676.1 2335.3,1677.9 2337.3,1680.5 2339.2,1683.0 2340.0,1684.9 2340.7,1686.9 2340.9,1688.8 2342.7,1690.7 2344.3,1692.7 2345.2,1694.6 2346.5,1696.8 2348.1,1699.0 2351.3,1701.8 2354.0,1704.5 2476.8,1704.5 2479.8,1701.8 2483.3,1699.0 2484.7,1696.8 2485.9,1694.6 2485.7,1692.7 2485.1,1690.7 2484.7,1688.8 2484.2,1686.9 2483.8,1684.9 2482.9,1683.0 2482.7,1680.5 2481.7,1677.9 2478.7,1676.1 2476.5,1674.2 2471.6,1671.3 2476.3,1669.5 2441.7,1668.7" fill="#bdff3a"/>
<polygon points="2430.8,1669.5 2353.0,1671.3 2339.7,1674.2 2338.8,1676.1 2337.5,1677.9 2339.3,1680.5 2341.0,1683.0 2341.9,1684.9 2342.7,1686.9 2343.1,1688.8 2344.9,1690.7 2346.6,1692.7 2347.5,1694.6 2349.0,1696.8 2350.8,1699.0 2353.9,1701.8 2356.6,1704.5 2470.7,1704.5 2473.9,1701.8 2477.2,1699.0 2478.9,1696.8 2480.5,1694.6 2480.5,1692.7 2480.3,1690.7 2480.1,1688.8 2479.8,1686.9 2479.6,1684.9 2478.7,1683.0 2478.6,1680.5 2477.8,1677.9 2474.9,1676.1 2472.6,1674.2 2468.1,1671.3 2430.8,1669.5" fill="#e6ff10"/>
<polygon points="2419.7,1670.4 2356.7,1671.3 2341.9,1674.2 2341.0,1676.1 2339.6,1677.9 2341.2,1680.5 2342.7,1683.0 2343.9,1684.9 2344.8,1686.9 2345.3,1688.8 2347.1,1690.7 2348.8,1692.7 2349.9,1694.6 2351.6,1696.8 2353.6,1699.0 2357.3,1701.8 2360.3,1704.5 2461.6,1704.5 2466.3,1701.8 2470.9,1699.0 2473.1,1696.8 2475.0,1694.6 2475.4,1692.7 2475.4,1690.7 2475.4,1688.8 2475.4,1686.9 2475.4,1684.9 2474.6,1683.0 2474.6,1680.5 2474.0,1677.9 2471.1,1676.1 2468.7,1674.2 2462.9,1671.3 2419.7,1670.4" fill="#ffd900"/>
<polygon points="2408.6,1671.3 2345.9,1674.2 2344.4,1676.1 2342.6,1677.9 2343.9,1680.5 2345.2,1683.0 2346.8,1684.9 2347.9,1686.9 2348.8,1688.8 2350.8,1690.7 2352.7,1692.7 2354.2,1694.6 2356.7,1696.8 2359.6,1699.0 2363.1,1701.8 2407.0,1704.5 2407.0,1704.5 2453.0,1701.8 2457.4,1699.0 2461.3,1696.8 2465.0,1694.6 2466.3,1692.7 2467.2,1690.7 2468.0,1688.8 2468.6,1686.9 2469.2,1684.9 2468.9,1683.0 2468.9,1680.5 2468.6,1677.9 2465.0,1676.1 2461.6,1674.2 2408.6,1671.3" fill="#ffaa00"/>
<polygon points="2402.8,1676.1 2347.4,1677.9 2348.3,1680.5 2349.1,1683.0 2351.2,1684.9 2352.4,1686.9 2405.7,1688.8 2405.7,1688.8 2458.7,1686.9 2459.7,1684.9 2459.7,1683.0 2459.9,1680.5 2460.0,1677.9 2402.8,1676.1" fill="#ff7b00"/>
<rect x="2738.0" y="1701.8" width="43.0" height="2.2" fill="#0000c8"/>
<polygon points="2400.0,1669.0 2500.0,1667.2 2500.0,1668.6 2400.0,1670.6" fill="#ff5000"/>
<rect x="2543.0" y="1702.0" width="56.0" height="2.0" fill="#0000c0"/>
</g>
<rect x="2228.50" y="1702.02" width="34.5" height="11.0"/>
<rect x="2242.40" y="1682.07" width="20.6" height="6.9"/>
<rect x="2242.40" y="1660.07" width="20.6" height="6.9"/>
<rect x="2242.40" y="1638.07" width="20.6" height="6.9"/>
<rect x="2242.40" y="1616.07" width="20.6" height="6.9"/>
<rect x="2228.50" y="1592.02" width="34.5" height="11.0"/>
<rect x="2242.40" y="1572.07" width="20.6" height="6.9"/>
<rect x="2242.40" y="1550.07" width="20.6" height="6.9"/>
<rect x="2242.40" y="1528.07" width="20.6" height="6.9"/>
<rect x="2242.40" y="1506.07" width="20.6" height="6.9"/>
<rect x="2228.50" y="1482.02" width="34.5" height="11.0"/>
<rect x="2242.40" y="1462.07" width="20.6" height="6.9"/>
<rect x="2242.40" y="1440.07" width="20.6" height="6.9"/>
<rect x="2273.00" y="1707.02" width="11.0" height="35.7"/>
<rect x="2300.40" y="1707.02" width="6.9" height="21.6"/>
<rect x="2325.75" y="1707.02" width="6.9" height="21.6"/>
<rect x="2351.10" y="1707.02" width="6.9" height="21.6"/>
<rect x="2376.45" y="1707.02" width="6.9" height="21.6"/>
<rect x="2399.75" y="1707.02" width="11.0" height="35.7"/>
<rect x="2427.15" y="1707.02" width="6.9" height="21.6"/>
<rect x="2452.50" y="1707.02" width="6.9" height="21.6"/>
<rect x="2477.85" y="1707.02" width="6.9" height="21.6"/>
<rect x="2503.20" y="1707.02" width="6.9" height="21.6"/>
<rect x="2526.50" y="1707.02" width="11.0" height="35.7"/>
<rect x="2553.90" y="1707.02" width="6.9" height="21.6"/>
<rect x="2579.25" y="1707.02" width="6.9" height="21.6"/>
<rect x="2604.60" y="1707.02" width="6.9" height="21.6"/>
<rect x="2629.95" y="1707.02" width="6.9" height="21.6"/>
<rect x="2653.25" y="1707.02" width="11.0" height="35.7"/>
<rect x="2680.65" y="1707.02" width="6.9" height="21.6"/>
<rect x="2706.00" y="1707.02" width="6.9" height="21.6"/>
<rect x="2731.35" y="1707.02" width="6.9" height="21.6"/>
<rect x="2756.70" y="1707.02" width="6.9" height="21.6"/>
<rect x="2780.00" y="1707.02" width="11.0" height="35.7"/>
<rect x="2263.00" y="1443.17" width="539.0" height="263.85" fill="none" stroke="#000" stroke-width="5.6"/>
<text transform="translate(2484.11,1488.91) scale(1.1885,1)" font-size="36.44" font-weight="bold" fill="#000" stroke="#000" stroke-width="0.6">1900</text>
</g>
<g>
<g clip-path="url(#cp50)">
<polygon points="579.5,1837.0 566.2,1839.3 558.0,1841.6 553.3,1844.1 552.9,1846.6 549.3,1849.1 552.9,1851.1 554.2,1853.1 553.1,1855.1 549.8,1857.5 548.6,1859.8 545.1,1862.2 545.2,1864.6 542.6,1866.8 540.2,1868.9 537.5,1871.1 534.1,1873.2 533.4,1875.4 537.8,1877.4 537.7,1879.5 541.6,1881.5 542.9,1883.5 540.5,1886.2 536.7,1888.9 532.0,1890.9 531.6,1893.0 528.6,1895.0 527.1,1897.0 533.1,1899.3 535.5,1901.5 538.3,1903.8 530.8,1906.5 527.8,1909.2 533.7,1911.2 540.4,1913.2 543.4,1915.3 547.7,1917.3 550.0,1919.3 552.9,1921.4 555.1,1923.4 549.9,1925.8 543.1,1928.1 544.4,1930.4 542.2,1932.6 546.2,1934.9 537.0,1937.1 532.3,1939.4 526.0,1941.6 527.0,1943.9 527.8,1946.1 527.3,1948.4 522.8,1950.6 520.9,1952.9 517.3,1955.1 520.5,1957.1 518.7,1959.2 521.6,1961.2 521.7,1963.2 521.7,1965.5 518.7,1967.7 521.1,1970.0 519.6,1972.3 517.4,1974.7 518.6,1976.5 584.0,1976.5 586.7,1974.7 588.5,1972.3 590.7,1970.0 590.3,1967.7 592.5,1965.5 592.9,1963.2 595.1,1961.2 594.9,1959.2 596.3,1957.1 596.4,1955.1 596.2,1952.9 593.2,1950.6 590.6,1948.4 594.2,1946.1 595.4,1943.9 600.1,1941.6 598.2,1939.4 600.6,1937.1 599.2,1934.9 602.1,1932.6 603.2,1930.4 606.8,1928.1 612.4,1925.8 615.7,1923.4 610.1,1921.4 602.0,1919.3 592.6,1917.3 593.2,1915.3 593.3,1913.2 592.7,1911.2 594.4,1909.2 590.9,1906.5 592.1,1903.8 594.9,1901.5 597.2,1899.3 596.4,1897.0 598.1,1895.0 603.4,1893.0 604.1,1890.9 607.2,1888.9 604.4,1886.2 607.7,1883.5 605.7,1881.5 602.7,1879.5 605.4,1877.4 603.9,1875.4 600.3,1873.2 598.5,1871.1 599.4,1868.9 597.7,1866.8 593.6,1864.6 595.1,1862.2 599.0,1859.8 596.5,1857.5 597.8,1855.1 600.2,1853.1 601.1,1851.1 604.9,1849.1 606.0,1846.6 606.7,1844.1 604.2,1841.6 605.1,1839.3 607.8,1837.0" fill="#0000a2"/>
<polygon points="582.6,1837.0 570.3,1839.3 561.7,1841.6 557.2,1844.1 556.4,1846.6 552.8,1849.1 555.6,1851.1 556.6,1853.1 555.4,1855.1 552.2,1857.5 550.9,1859.8 547.5,1862.2 547.3,1864.6 544.9,1866.8 542.7,1868.9 540.2,1871.1 537.1,1873.2 536.5,1875.4 540.6,1877.4 540.6,1879.5 544.2,1881.5 545.6,1883.5 542.9,1886.2 539.2,1888.9 534.9,1890.9 534.3,1893.0 531.5,1895.0 529.9,1897.0 535.5,1899.3 537.8,1901.5 540.5,1903.8 533.5,1906.5 530.8,1909.2 536.5,1911.2 542.8,1913.2 545.9,1915.3 550.1,1917.3 552.4,1919.3 555.3,1921.4 557.6,1923.4 552.3,1925.8 545.7,1928.1 546.5,1930.4 544.2,1932.6 547.6,1934.9 538.9,1937.1 534.4,1939.4 528.4,1941.6 529.2,1943.9 529.8,1946.1 529.2,1948.4 524.9,1950.6 523.2,1952.9 519.7,1955.1 522.8,1957.1 521.2,1959.2 523.8,1961.2 523.9,1963.2 524.0,1965.5 521.3,1967.7 523.6,1970.0 522.4,1972.3 520.6,1974.7 526.3,1976.5 579.8,1976.5 584.7,1974.7 586.2,1972.3 588.2,1970.0 587.7,1967.7 589.8,1965.5 590.1,1963.2 592.2,1961.2 591.9,1959.2 593.2,1957.1 593.3,1955.1 593.1,1952.9 590.4,1950.6 588.1,1948.4 591.4,1946.1 592.7,1943.9 597.1,1941.6 595.4,1939.4 597.8,1937.1 596.7,1934.9 599.4,1932.6 600.4,1930.4 603.7,1928.1 609.1,1925.8 612.2,1923.4 606.9,1921.4 599.4,1919.3 590.8,1917.3 591.1,1915.3 591.0,1913.2 590.4,1911.2 591.9,1909.2 588.7,1906.5 589.9,1903.8 592.4,1901.5 594.6,1899.3 593.8,1897.0 595.4,1895.0 600.0,1893.0 600.6,1890.9 603.3,1888.9 600.8,1886.2 603.9,1883.5 602.3,1881.5 599.7,1879.5 602.4,1877.4 601.1,1875.4 597.8,1873.2 596.1,1871.1 596.9,1868.9 595.3,1866.8 591.7,1864.6 593.0,1862.2 596.6,1859.8 594.3,1857.5 595.5,1855.1 597.7,1853.1 598.7,1851.1 602.2,1849.1 603.3,1846.6 603.9,1844.1 601.9,1841.6 602.6,1839.3 604.3,1837.0" fill="#0000dc"/>
<polygon points="584.8,1837.0 574.0,1839.3 565.5,1841.6 561.1,1844.1 559.8,1846.6 556.4,1849.1 558.4,1851.1 559.0,1853.1 557.8,1855.1 554.7,1857.5 553.2,1859.8 549.9,1862.2 549.4,1864.6 547.2,1866.8 545.2,1868.9 542.9,1871.1 540.2,1873.2 539.6,1875.4 543.4,1877.4 543.5,1879.5 546.8,1881.5 548.2,1883.5 545.4,1886.2 541.8,1888.9 537.7,1890.9 537.0,1893.0 534.4,1895.0 532.8,1897.0 537.9,1899.3 540.0,1901.5 542.6,1903.8 536.2,1906.5 533.8,1909.2 539.2,1911.2 545.2,1913.2 548.3,1915.3 552.6,1917.3 554.8,1919.3 557.7,1921.4 560.1,1923.4 554.7,1925.8 548.2,1928.1 548.6,1930.4 546.3,1932.6 549.0,1934.9 540.8,1937.1 536.5,1939.4 530.8,1941.6 531.4,1943.9 531.7,1946.1 531.1,1948.4 527.1,1950.6 525.4,1952.9 522.2,1955.1 525.0,1957.1 523.6,1959.2 526.1,1961.2 526.1,1963.2 526.3,1965.5 523.9,1967.7 526.1,1970.0 525.2,1972.3 523.8,1974.7 533.3,1976.5 576.0,1976.5 582.8,1974.7 584.0,1972.3 585.6,1970.0 585.2,1967.7 587.0,1965.5 587.3,1963.2 589.3,1961.2 588.9,1959.2 590.1,1957.1 590.1,1955.1 590.0,1952.9 587.7,1950.6 585.6,1948.4 588.7,1946.1 590.1,1943.9 594.1,1941.6 592.7,1939.4 595.0,1937.1 594.2,1934.9 596.7,1932.6 597.7,1930.4 600.7,1928.1 605.7,1925.8 608.8,1923.4 603.7,1921.4 596.8,1919.3 589.0,1917.3 589.0,1915.3 588.8,1913.2 588.2,1911.2 589.4,1909.2 586.5,1906.5 587.7,1903.8 589.9,1901.5 591.9,1899.3 591.2,1897.0 592.6,1895.0 596.6,1893.0 597.1,1890.9 599.3,1888.9 597.2,1886.2 600.1,1883.5 598.8,1881.5 596.8,1879.5 599.3,1877.4 598.3,1875.4 595.3,1873.2 593.7,1871.1 594.4,1868.9 592.9,1866.8 589.7,1864.6 590.9,1862.2 594.1,1859.8 592.1,1857.5 593.3,1855.1 595.3,1853.1 596.3,1851.1 599.6,1849.1 600.5,1846.6 601.2,1844.1 599.6,1841.6 600.3,1839.3 601.9,1837.0" fill="#0005ff"/>
<polygon points="586.5,1837.0 576.3,1839.3 568.2,1841.6 564.3,1844.1 562.9,1846.6 559.7,1849.1 561.1,1851.1 561.3,1853.1 560.2,1855.1 557.1,1857.5 555.5,1859.8 552.3,1862.2 551.6,1864.6 549.5,1866.8 547.7,1868.9 545.6,1871.1 543.2,1873.2 542.7,1875.4 546.2,1877.4 546.5,1879.5 549.4,1881.5 550.9,1883.5 547.9,1886.2 544.3,1888.9 540.5,1890.9 539.7,1893.0 537.3,1895.0 535.6,1897.0 540.3,1899.3 542.3,1901.5 544.7,1903.8 538.9,1906.5 536.8,1909.2 542.0,1911.2 547.5,1913.2 550.8,1915.3 555.0,1917.3 557.2,1919.3 560.1,1921.4 562.6,1923.4 557.2,1925.8 550.8,1928.1 550.6,1930.4 548.3,1932.6 550.4,1934.9 542.7,1937.1 538.6,1939.4 533.2,1941.6 533.6,1943.9 533.7,1946.1 533.0,1948.4 529.3,1950.6 527.7,1952.9 524.7,1955.1 527.3,1957.1 526.0,1959.2 528.3,1961.2 528.3,1963.2 528.6,1965.5 526.4,1967.7 528.6,1970.0 528.0,1972.3 526.9,1974.7 537.8,1976.5 573.5,1976.5 580.8,1974.7 581.7,1972.3 583.1,1970.0 582.6,1967.7 584.3,1965.5 584.5,1963.2 586.3,1961.2 586.0,1959.2 587.0,1957.1 586.9,1955.1 586.9,1952.9 584.9,1950.6 583.1,1948.4 586.0,1946.1 587.4,1943.9 591.2,1941.6 590.0,1939.4 592.2,1937.1 591.7,1934.9 594.1,1932.6 594.9,1930.4 597.7,1928.1 602.3,1925.8 605.3,1923.4 600.6,1921.4 594.2,1919.3 587.2,1917.3 586.9,1915.3 586.5,1913.2 585.9,1911.2 586.9,1909.2 584.3,1906.5 585.5,1903.8 587.4,1901.5 589.2,1899.3 588.6,1897.0 589.8,1895.0 593.3,1893.0 593.6,1890.9 595.4,1888.9 593.7,1886.2 596.3,1883.5 595.4,1881.5 593.9,1879.5 596.3,1877.4 595.6,1875.4 592.8,1873.2 591.2,1871.1 591.8,1868.9 590.5,1866.8 587.7,1864.6 588.9,1862.2 591.7,1859.8 589.9,1857.5 591.0,1855.1 592.8,1853.1 593.9,1851.1 597.1,1849.1 598.1,1846.6 598.9,1844.1 597.9,1841.6 598.8,1839.3 600.0,1837.0" fill="#0038ff"/>
<polygon points="593.0,1837.0 578.4,1839.3 570.4,1841.6 566.6,1844.1 565.0,1846.6 561.8,1849.1 562.8,1851.1 562.7,1853.1 561.6,1855.1 558.7,1857.5 557.2,1859.8 554.2,1862.2 553.5,1864.6 551.6,1866.8 550.0,1868.9 548.2,1871.1 546.1,1873.2 545.8,1875.4 548.7,1877.4 548.9,1879.5 551.4,1881.5 552.7,1883.5 549.8,1886.2 546.4,1888.9 543.1,1890.9 542.3,1893.0 540.2,1895.0 538.4,1897.0 542.7,1899.3 544.6,1901.5 546.8,1903.8 541.6,1906.5 539.7,1909.2 544.5,1911.2 549.6,1913.2 552.7,1915.3 556.7,1917.3 558.9,1919.3 561.8,1921.4 564.4,1923.4 559.1,1925.8 553.1,1928.1 552.6,1930.4 550.3,1932.6 551.8,1934.9 544.6,1937.1 540.7,1939.4 535.6,1941.6 535.8,1943.9 535.6,1946.1 534.9,1948.4 531.5,1950.6 529.9,1952.9 527.1,1955.1 529.6,1957.1 528.4,1959.2 530.6,1961.2 530.5,1963.2 530.9,1965.5 529.0,1967.7 531.0,1970.0 530.8,1972.3 530.1,1974.7 541.6,1976.5 571.4,1976.5 578.8,1974.7 579.5,1972.3 580.6,1970.0 580.0,1967.7 581.6,1965.5 581.6,1963.2 583.4,1961.2 583.0,1959.2 583.9,1957.1 583.8,1955.1 583.9,1952.9 582.1,1950.6 580.6,1948.4 583.3,1946.1 584.7,1943.9 588.2,1941.6 587.3,1939.4 589.4,1937.1 589.2,1934.9 591.4,1932.6 592.2,1930.4 595.1,1928.1 599.7,1925.8 602.9,1923.4 598.3,1921.4 592.3,1919.3 585.9,1917.3 585.3,1915.3 584.6,1913.2 583.8,1911.2 584.4,1909.2 582.1,1906.5 583.3,1903.8 584.9,1901.5 586.5,1899.3 586.0,1897.0 587.1,1895.0 590.1,1893.0 590.4,1890.9 592.2,1888.9 590.9,1886.2 593.7,1883.5 592.7,1881.5 591.4,1879.5 593.5,1877.4 592.9,1875.4 590.3,1873.2 589.0,1871.1 589.5,1868.9 588.4,1866.8 586.0,1864.6 587.2,1862.2 589.8,1859.8 588.5,1857.5 589.7,1855.1 591.4,1853.1 592.5,1851.1 595.5,1849.1 596.5,1846.6 597.3,1844.1 596.5,1841.6 597.5,1839.3 593.0,1837.0" fill="#006bff"/>
<polygon points="591.2,1838.1 581.2,1839.3 572.3,1841.6 568.6,1844.1 566.9,1846.6 563.8,1849.1 564.4,1851.1 564.1,1853.1 563.0,1855.1 560.1,1857.5 558.5,1859.8 555.6,1862.2 554.7,1864.6 552.9,1866.8 551.5,1868.9 549.7,1871.1 547.8,1873.2 547.6,1875.4 550.4,1877.4 550.6,1879.5 552.9,1881.5 554.3,1883.5 551.2,1886.2 547.9,1888.9 544.7,1890.9 543.9,1893.0 541.9,1895.0 540.3,1897.0 544.3,1899.3 545.9,1901.5 548.1,1903.8 543.2,1906.5 541.4,1909.2 546.1,1911.2 551.0,1913.2 554.1,1915.3 558.2,1917.3 560.3,1919.3 563.2,1921.4 565.8,1923.4 560.5,1925.8 554.6,1928.1 553.9,1930.4 551.6,1932.6 552.8,1934.9 546.0,1937.1 542.3,1939.4 537.5,1941.6 537.6,1943.9 537.3,1946.1 536.5,1948.4 533.4,1950.6 531.9,1952.9 529.2,1955.1 531.5,1957.1 530.5,1959.2 532.6,1961.2 532.4,1963.2 532.8,1965.5 531.1,1967.7 533.1,1970.0 533.0,1972.3 532.5,1974.7 547.0,1976.5 568.5,1976.5 577.3,1974.7 577.7,1972.3 578.5,1970.0 577.9,1967.7 579.2,1965.5 579.2,1963.2 580.8,1961.2 580.4,1959.2 581.2,1957.1 581.0,1955.1 581.2,1952.9 579.7,1950.6 578.4,1948.4 580.9,1946.1 582.5,1943.9 585.8,1941.6 585.1,1939.4 587.3,1937.1 587.3,1934.9 589.7,1932.6 590.6,1930.4 593.3,1928.1 597.7,1925.8 600.9,1923.4 596.4,1921.4 590.8,1919.3 584.9,1917.3 584.0,1915.3 583.3,1913.2 582.5,1911.2 582.9,1909.2 580.8,1906.5 582.0,1903.8 583.4,1901.5 584.8,1899.3 584.2,1897.0 585.4,1895.0 588.1,1893.0 588.4,1890.9 589.9,1888.9 588.8,1886.2 591.5,1883.5 590.7,1881.5 589.7,1879.5 591.7,1877.4 591.3,1875.4 588.9,1873.2 587.5,1871.1 588.0,1868.9 587.0,1866.8 584.8,1864.6 586.0,1862.2 588.4,1859.8 587.2,1857.5 588.3,1855.1 590.0,1853.1 591.1,1851.1 594.0,1849.1 595.0,1846.6 595.9,1844.1 595.4,1841.6 595.8,1839.3 591.2,1838.1" fill="#009eff"/>
<polygon points="589.5,1839.3 586.5,1839.3 574.5,1841.6 570.6,1844.1 568.6,1846.6 565.6,1849.1 565.8,1851.1 565.3,1853.1 564.1,1855.1 561.3,1857.5 559.8,1859.8 557.0,1862.2 555.9,1864.6 554.3,1866.8 552.9,1868.9 551.3,1871.1 549.6,1873.2 549.4,1875.4 552.0,1877.4 552.3,1879.5 554.4,1881.5 555.7,1883.5 552.6,1886.2 549.4,1888.9 546.4,1890.9 545.5,1893.0 543.6,1895.0 541.9,1897.0 545.7,1899.3 547.3,1901.5 549.3,1903.8 544.7,1906.5 543.2,1909.2 547.7,1911.2 552.4,1913.2 555.5,1915.3 559.5,1917.3 561.6,1919.3 564.5,1921.4 567.2,1923.4 561.9,1925.8 556.1,1928.1 555.1,1930.4 552.8,1932.6 553.6,1934.9 547.2,1937.1 543.5,1939.4 538.9,1941.6 538.9,1943.9 538.4,1946.1 537.6,1948.4 534.6,1950.6 533.2,1952.9 530.7,1955.1 532.9,1957.1 531.9,1959.2 533.9,1961.2 533.7,1963.2 534.2,1965.5 532.6,1967.7 534.5,1970.0 534.6,1972.3 534.4,1974.7 560.0,1976.5 560.0,1976.5 576.2,1974.7 576.4,1972.3 577.0,1970.0 576.4,1967.7 577.6,1965.5 577.6,1963.2 579.1,1961.2 578.7,1959.2 579.4,1957.1 579.2,1955.1 579.4,1952.9 578.1,1950.6 576.9,1948.4 579.3,1946.1 580.9,1943.9 584.0,1941.6 583.6,1939.4 585.6,1937.1 585.9,1934.9 588.1,1932.6 589.0,1930.4 591.6,1928.1 595.8,1925.8 599.0,1923.4 594.7,1921.4 589.4,1919.3 583.9,1917.3 582.8,1915.3 581.9,1913.2 581.2,1911.2 581.4,1909.2 579.5,1906.5 580.7,1903.8 582.0,1901.5 583.3,1899.3 582.7,1897.0 583.8,1895.0 586.1,1893.0 586.3,1890.9 587.6,1888.9 586.8,1886.2 589.4,1883.5 588.8,1881.5 588.0,1879.5 589.9,1877.4 589.6,1875.4 587.4,1873.2 586.1,1871.1 586.6,1868.9 585.6,1866.8 583.7,1864.6 584.8,1862.2 587.0,1859.8 586.0,1857.5 587.2,1855.1 588.7,1853.1 589.9,1851.1 592.7,1849.1 593.6,1846.6 594.5,1844.1 594.0,1841.6 592.5,1839.3 589.5,1839.3" fill="#00d1ff"/>
<polygon points="587.7,1840.4 577.3,1841.6 573.5,1844.1 570.9,1846.6 567.6,1849.1 567.3,1851.1 566.6,1853.1 565.3,1855.1 562.5,1857.5 560.9,1859.8 558.2,1862.2 557.0,1864.6 555.5,1866.8 554.3,1868.9 552.8,1871.1 551.2,1873.2 551.1,1875.4 553.5,1877.4 553.8,1879.5 555.7,1881.5 557.0,1883.5 553.9,1886.2 550.7,1888.9 547.9,1890.9 547.0,1893.0 545.2,1895.0 543.6,1897.0 547.0,1899.3 548.5,1901.5 550.5,1903.8 546.2,1906.5 544.8,1909.2 549.2,1911.2 553.6,1913.2 556.7,1915.3 560.7,1917.3 562.9,1919.3 565.7,1921.4 568.4,1923.4 563.2,1925.8 557.4,1928.1 556.2,1930.4 553.9,1932.6 554.5,1934.9 548.3,1937.1 544.7,1939.4 540.3,1941.6 540.2,1943.9 539.6,1946.1 538.7,1948.4 535.9,1950.6 534.5,1952.9 532.1,1955.1 534.2,1957.1 533.4,1959.2 535.2,1961.2 535.0,1963.2 535.5,1965.5 534.1,1967.7 536.0,1970.0 536.2,1972.3 536.2,1974.7 559.9,1976.3 559.9,1976.3 575.1,1974.7 575.1,1972.3 575.5,1970.0 574.9,1967.7 576.0,1965.5 575.9,1963.2 577.4,1961.2 576.9,1959.2 577.6,1957.1 577.3,1955.1 577.6,1952.9 576.4,1950.6 575.4,1948.4 577.8,1946.1 579.3,1943.9 582.3,1941.6 582.0,1939.4 584.0,1937.1 584.4,1934.9 586.6,1932.6 587.5,1930.4 590.0,1928.1 594.1,1925.8 597.3,1923.4 593.1,1921.4 588.1,1919.3 583.0,1917.3 581.8,1915.3 580.8,1913.2 580.0,1911.2 580.1,1909.2 578.3,1906.5 579.5,1903.8 580.6,1901.5 581.8,1899.3 581.2,1897.0 582.2,1895.0 584.3,1893.0 584.5,1890.9 585.7,1888.9 585.1,1886.2 587.6,1883.5 587.0,1881.5 586.5,1879.5 588.3,1877.4 588.1,1875.4 586.0,1873.2 584.8,1871.1 585.2,1868.9 584.4,1866.8 582.6,1864.6 583.7,1862.2 585.8,1859.8 584.9,1857.5 586.1,1855.1 587.4,1853.1 588.6,1851.1 591.2,1849.1 591.8,1846.6 592.4,1844.1 592.2,1841.6 587.7,1840.4" fill="#19ffde"/>
<polygon points="585.8,1841.6 577.6,1844.1 573.5,1846.6 570.3,1849.1 569.4,1851.1 568.4,1853.1 567.1,1855.1 564.1,1857.5 562.2,1859.8 559.4,1862.2 558.1,1864.6 556.6,1866.8 555.5,1868.9 554.1,1871.1 552.7,1873.2 552.6,1875.4 554.9,1877.4 555.3,1879.5 557.0,1881.5 558.5,1883.5 555.1,1886.2 551.9,1888.9 549.3,1890.9 548.3,1893.0 546.6,1895.0 545.0,1897.0 548.2,1899.3 549.7,1901.5 551.5,1903.8 547.6,1906.5 546.3,1909.2 550.6,1911.2 554.8,1913.2 557.9,1915.3 562.1,1917.3 564.2,1919.3 567.1,1921.4 569.9,1923.4 564.4,1925.8 558.7,1928.1 557.3,1930.4 555.0,1932.6 555.2,1934.9 549.3,1937.1 545.9,1939.4 541.7,1941.6 541.4,1943.9 540.7,1946.1 539.8,1948.4 537.1,1950.6 535.8,1952.9 533.5,1955.1 535.5,1957.1 534.7,1959.2 536.5,1961.2 536.2,1963.2 536.8,1965.5 535.6,1967.7 537.3,1970.0 537.7,1972.3 537.9,1974.7 559.9,1976.1 559.9,1976.1 574.0,1974.7 573.9,1972.3 574.1,1970.0 573.5,1967.7 574.5,1965.5 574.3,1963.2 575.7,1961.2 575.3,1959.2 575.8,1957.1 575.5,1955.1 575.9,1952.9 574.9,1950.6 574.0,1948.4 576.2,1946.1 577.8,1943.9 580.6,1941.6 580.5,1939.4 582.5,1937.1 583.1,1934.9 585.2,1932.6 586.1,1930.4 588.5,1928.1 592.4,1925.8 595.3,1923.4 591.3,1921.4 586.6,1919.3 582.0,1917.3 580.8,1915.3 579.7,1913.2 578.9,1911.2 578.8,1909.2 577.2,1906.5 578.4,1903.8 579.3,1901.5 580.4,1899.3 579.9,1897.0 580.9,1895.0 582.6,1893.0 582.8,1890.9 583.7,1888.9 583.3,1886.2 585.4,1883.5 585.3,1881.5 585.0,1879.5 586.8,1877.4 586.7,1875.4 584.7,1873.2 583.6,1871.1 584.0,1868.9 583.2,1866.8 581.7,1864.6 582.7,1862.2 584.5,1859.8 583.5,1857.5 584.4,1855.1 585.6,1853.1 586.8,1851.1 589.2,1849.1 589.7,1846.6 589.5,1844.1 585.8,1841.6" fill="#42ffb5"/>
<polygon points="582.5,1846.3 578.8,1846.6 574.2,1849.1 572.1,1851.1 570.4,1853.1 568.9,1855.1 565.9,1857.5 563.9,1859.8 561.0,1862.2 559.4,1864.6 557.9,1866.8 556.8,1868.9 555.5,1871.1 554.2,1873.2 554.2,1875.4 556.4,1877.4 557.1,1879.5 558.9,1881.5 560.5,1883.5 556.9,1886.2 553.6,1888.9 550.9,1890.9 549.7,1893.0 548.1,1895.0 546.4,1897.0 549.4,1899.3 550.8,1901.5 552.6,1903.8 548.9,1906.5 547.8,1909.2 552.1,1911.2 556.3,1913.2 559.7,1915.3 563.9,1917.3 566.1,1919.3 568.9,1921.4 571.7,1923.4 566.1,1925.8 560.2,1928.1 558.3,1930.4 556.0,1932.6 555.9,1934.9 550.2,1937.1 546.9,1939.4 542.9,1941.6 542.5,1943.9 541.7,1946.1 540.7,1948.4 538.2,1950.6 536.9,1952.9 534.7,1955.1 536.6,1957.1 535.9,1959.2 537.6,1961.2 537.3,1963.2 537.9,1965.5 536.8,1967.7 538.6,1970.0 539.1,1972.3 539.5,1974.7 559.8,1975.9 559.8,1975.9 573.0,1974.7 572.8,1972.3 572.8,1970.0 572.2,1967.7 573.1,1965.5 572.9,1963.2 574.3,1961.2 573.8,1959.2 574.3,1957.1 573.9,1955.1 574.3,1952.9 573.5,1950.6 572.7,1948.4 574.9,1946.1 576.5,1943.9 579.2,1941.6 579.1,1939.4 581.1,1937.1 581.8,1934.9 583.9,1932.6 584.7,1930.4 586.8,1928.1 590.1,1925.8 592.7,1923.4 588.9,1921.4 584.6,1919.3 580.6,1917.3 579.2,1915.3 578.2,1913.2 577.7,1911.2 577.5,1909.2 576.1,1906.5 577.3,1903.8 578.1,1901.5 579.1,1899.3 578.6,1897.0 579.5,1895.0 581.0,1893.0 580.8,1890.9 581.2,1888.9 580.6,1886.2 582.6,1883.5 582.8,1881.5 583.2,1879.5 585.2,1877.4 585.4,1875.4 583.5,1873.2 582.4,1871.1 582.7,1868.9 581.8,1866.8 580.5,1864.6 581.3,1862.2 582.6,1859.8 581.9,1857.5 582.6,1855.1 583.5,1853.1 584.5,1851.1 586.4,1849.1 585.5,1846.6 582.5,1846.3" fill="#6bff8c"/>
<polygon points="575.9,1855.1 568.7,1857.5 565.6,1859.8 562.8,1862.2 561.0,1864.6 559.6,1866.8 558.7,1868.9 557.5,1871.1 556.4,1873.2 556.3,1875.4 558.5,1877.4 559.3,1879.5 560.8,1881.5 562.7,1883.5 558.8,1886.2 555.5,1888.9 553.0,1890.9 551.6,1893.0 549.9,1895.0 548.0,1897.0 550.9,1899.3 552.2,1901.5 554.1,1903.8 550.8,1906.5 549.9,1909.2 554.1,1911.2 558.1,1913.2 561.6,1915.3 566.0,1917.3 568.1,1919.3 570.9,1921.4 573.8,1923.4 567.9,1925.8 562.1,1928.1 559.8,1930.4 557.2,1932.6 556.6,1934.9 551.2,1937.1 548.0,1939.4 544.1,1941.6 543.6,1943.9 542.6,1946.1 541.7,1948.4 539.3,1950.6 538.0,1952.9 536.0,1955.1 537.8,1957.1 537.1,1959.2 538.7,1961.2 538.4,1963.2 539.1,1965.5 538.1,1967.7 539.8,1970.0 540.5,1972.3 541.1,1974.7 559.8,1975.7 559.8,1975.7 572.1,1974.7 571.6,1972.3 571.6,1970.0 570.9,1967.7 571.8,1965.5 571.5,1963.2 572.8,1961.2 572.3,1959.2 572.7,1957.1 572.4,1955.1 572.8,1952.9 572.1,1950.6 571.5,1948.4 573.5,1946.1 575.1,1943.9 577.7,1941.6 577.8,1939.4 579.7,1937.1 580.6,1934.9 582.3,1932.6 582.7,1930.4 584.5,1928.1 587.5,1925.8 589.8,1923.4 586.2,1921.4 582.5,1919.3 579.1,1917.3 577.7,1915.3 576.5,1913.2 576.0,1911.2 575.8,1909.2 574.5,1906.5 575.7,1903.8 576.5,1901.5 577.5,1899.3 577.2,1897.0 577.7,1895.0 578.5,1893.0 578.2,1890.9 578.2,1888.9 578.0,1886.2 579.4,1883.5 580.2,1881.5 581.0,1879.5 582.9,1877.4 583.4,1875.4 581.7,1873.2 580.6,1871.1 580.8,1868.9 580.1,1866.8 579.0,1864.6 579.7,1862.2 580.8,1859.8 579.3,1857.5 575.9,1855.1" fill="#94ff63"/>
<polygon points="573.4,1859.1 569.3,1859.8 565.5,1862.2 562.6,1864.6 561.4,1866.8 560.6,1868.9 559.5,1871.1 558.7,1873.2 558.6,1875.4 560.6,1877.4 561.8,1879.5 564.2,1881.5 570.1,1883.5 570.1,1883.5 575.7,1881.5 578.5,1879.5 580.6,1877.4 581.4,1875.4 579.8,1873.2 578.8,1871.1 578.9,1868.9 578.3,1866.8 577.6,1864.6 577.5,1862.2 576.9,1859.8 573.4,1859.1" fill="#bdff3a"/>
<polygon points="570.1,1883.5 562.1,1886.2 557.9,1888.9 555.1,1890.9 553.7,1893.0 552.1,1895.0 550.1,1897.0 552.7,1899.3 553.9,1901.5 555.7,1903.8 552.8,1906.5 552.1,1909.2 556.2,1911.2 560.1,1913.2 564.8,1915.3 573.1,1917.3 573.1,1917.3 574.9,1915.3 574.6,1913.2 574.3,1911.2 573.9,1909.2 572.9,1906.5 574.1,1903.8 574.6,1901.5 575.5,1899.3 575.2,1897.0 575.6,1895.0 576.0,1893.0 575.5,1890.9 574.6,1888.9 573.2,1886.2 570.1,1883.5" fill="#bdff3a"/>
<polygon points="581.0,1923.4 570.8,1925.8 564.0,1928.1 561.3,1930.4 558.7,1932.6 557.6,1934.9 552.5,1937.1 549.3,1939.4 545.5,1941.6 544.9,1943.9 543.7,1946.1 542.6,1948.4 540.4,1950.6 539.2,1952.9 537.2,1955.1 538.9,1957.1 538.4,1959.2 539.9,1961.2 539.6,1963.2 540.3,1965.5 539.6,1967.7 541.3,1970.0 542.3,1972.3 543.2,1974.7 559.7,1975.5 559.7,1975.5 570.8,1974.7 570.2,1972.3 570.1,1970.0 569.5,1967.7 570.3,1965.5 570.1,1963.2 571.2,1961.2 570.7,1959.2 571.1,1957.1 570.7,1955.1 571.2,1952.9 570.6,1950.6 570.2,1948.4 572.0,1946.1 573.6,1943.9 575.9,1941.6 576.1,1939.4 577.8,1937.1 578.7,1934.9 580.3,1932.6 580.7,1930.4 582.2,1928.1 583.6,1925.8 581.0,1923.4" fill="#bdff3a"/>
<polygon points="571.2,1863.0 565.8,1864.6 564.6,1866.8 563.7,1868.9 562.6,1871.1 561.7,1873.2 561.3,1875.4 564.3,1877.4 566.6,1879.5 570.0,1879.8 570.0,1879.8 573.6,1879.5 576.6,1877.4 579.0,1875.4 577.3,1873.2 576.1,1871.1 575.7,1868.9 574.9,1866.8 574.6,1864.6 571.2,1863.0" fill="#e6ff10"/>
<polygon points="565.1,1888.9 559.2,1890.9 556.4,1893.0 554.2,1895.0 552.2,1897.0 554.5,1899.3 555.6,1901.5 557.5,1903.8 555.1,1906.5 554.7,1909.2 559.8,1911.2 564.1,1913.2 567.9,1913.6 567.9,1913.6 570.8,1913.2 571.3,1911.2 571.7,1909.2 571.0,1906.5 572.2,1903.8 572.7,1901.5 573.5,1899.3 573.3,1897.0 573.6,1895.0 572.6,1893.0 570.5,1890.9 565.1,1888.9" fill="#e6ff10"/>
<polygon points="574.9,1926.8 567.9,1928.1 563.4,1930.4 560.2,1932.6 558.6,1934.9 553.9,1937.1 550.9,1939.4 547.3,1941.6 546.5,1943.9 545.2,1946.1 544.1,1948.4 542.1,1950.6 540.9,1952.9 539.1,1955.1 540.6,1957.1 540.2,1959.2 541.6,1961.2 541.2,1963.2 542.0,1965.5 541.5,1967.7 543.1,1970.0 544.3,1972.3 545.6,1974.7 559.7,1975.3 559.7,1975.3 569.3,1974.7 568.6,1972.3 568.2,1970.0 567.6,1967.7 568.2,1965.5 568.0,1963.2 569.0,1961.2 568.5,1959.2 568.8,1957.1 568.3,1955.1 568.9,1952.9 568.5,1950.6 568.3,1948.4 570.0,1946.1 571.6,1943.9 573.7,1941.6 574.0,1939.4 575.7,1937.1 576.8,1934.9 578.3,1932.6 578.0,1930.4 577.7,1928.1 574.9,1926.8" fill="#e6ff10"/>
<polygon points="569.8,1872.7 566.7,1873.2 566.4,1875.4 570.4,1876.1 570.4,1876.1 574.4,1875.4 573.1,1873.2 569.8,1872.7" fill="#ffd900"/>
<polygon points="564.0,1893.0 558.6,1895.0 555.3,1897.0 557.7,1899.3 559.2,1901.5 561.0,1903.8 559.6,1906.5 559.7,1909.2 564.5,1909.9 564.5,1909.9 567.5,1909.2 567.3,1906.5 568.5,1903.8 568.9,1901.5 569.9,1899.3 570.4,1897.0 569.3,1895.0 564.0,1893.0" fill="#ffd900"/>
<polygon points="570.3,1930.1 566.8,1930.4 562.9,1932.6 559.7,1934.9 555.3,1937.1 552.4,1939.4 549.1,1941.6 548.2,1943.9 546.6,1946.1 545.5,1948.4 543.7,1950.6 542.6,1952.9 540.9,1955.1 542.3,1957.1 542.0,1959.2 543.3,1961.2 542.9,1963.2 543.7,1965.5 543.4,1967.7 545.0,1970.0 546.4,1972.3 548.0,1974.7 559.6,1975.1 559.6,1975.1 567.8,1974.7 566.9,1972.3 566.3,1970.0 565.6,1967.7 566.2,1965.5 565.8,1963.2 566.8,1961.2 566.3,1959.2 566.5,1957.1 566.0,1955.1 566.6,1952.9 566.5,1950.6 566.4,1948.4 567.9,1946.1 569.6,1943.9 571.5,1941.6 572.0,1939.4 573.6,1937.1 574.9,1934.9 574.7,1932.6 573.4,1930.4 570.3,1930.1" fill="#ffd900"/>
<polygon points="567.4,1933.5 562.1,1934.9 558.2,1937.1 555.1,1939.4 551.6,1941.6 550.2,1943.9 548.2,1946.1 546.9,1948.4 545.3,1950.6 544.3,1952.9 542.8,1955.1 544.0,1957.1 543.9,1959.2 545.0,1961.2 544.5,1963.2 545.6,1965.5 545.8,1967.7 547.6,1970.0 549.8,1972.3 552.3,1974.7 559.6,1974.9 559.6,1974.9 565.2,1974.7 564.2,1972.3 563.6,1970.0 563.2,1967.7 563.9,1965.5 563.7,1963.2 564.6,1961.2 564.0,1959.2 564.2,1957.1 563.6,1955.1 564.3,1952.9 564.4,1950.6 564.5,1948.4 565.7,1946.1 567.1,1943.9 568.4,1941.6 568.5,1939.4 569.4,1937.1 570.7,1934.9 567.4,1933.5" fill="#ffaa00"/>
<polygon points="560.8,1939.9 555.6,1941.6 553.9,1943.9 551.5,1946.1 550.0,1948.4 548.9,1950.6 547.9,1952.9 546.8,1955.1 547.7,1957.1 547.8,1959.2 548.6,1961.2 548.1,1963.2 549.4,1965.5 550.1,1967.7 551.7,1970.0 557.4,1972.3 557.4,1972.3 559.4,1970.0 559.0,1967.7 559.3,1965.5 559.1,1963.2 559.8,1961.2 559.2,1959.2 559.1,1957.1 558.4,1955.1 559.3,1952.9 559.8,1950.6 560.4,1948.4 561.1,1946.1 562.6,1943.9 563.4,1941.6 560.8,1939.9" fill="#ff7b00"/>
<polygon points="490.3,1974.0 426.0,1976.8 418.6,1978.8 403.1,1980.8 397.8,1983.5 389.7,1986.2 387.0,1988.9 394.7,1991.6 395.5,1994.3 406.1,1997.0 408.1,1999.7 404.4,2002.4 410.6,2005.1 413.1,2007.8 408.9,2009.8 402.2,2011.9 407.2,2014.6 406.4,2017.3 411.6,2019.4 414.6,2021.5 559.2,2021.5 560.5,2019.4 567.5,2017.3 570.3,2014.6 574.1,2011.9 578.5,2009.8 581.1,2007.8 582.5,2005.1 585.9,2002.4 582.6,1999.7 584.3,1997.0 585.5,1994.3 588.6,1991.6 583.7,1988.9 585.1,1986.2 589.1,1983.5 586.2,1980.8 583.5,1978.8 579.4,1976.8 578.1,1974.0" fill="#0000a2"/>
<polygon points="493.5,1974.0 430.5,1976.8 423.3,1978.8 408.8,1980.8 403.9,1983.5 396.5,1986.2 394.4,1988.9 401.3,1991.6 402.1,1994.3 411.8,1997.0 413.7,1999.7 410.4,2002.4 416.0,2005.1 418.0,2007.8 413.9,2009.8 407.8,2011.9 412.0,2014.6 411.1,2017.3 415.7,2019.4 418.4,2021.5 552.3,2021.5 553.8,2019.4 560.5,2017.3 563.5,2014.6 567.5,2011.9 571.7,2009.8 574.2,2007.8 575.8,2005.1 579.1,2002.4 576.3,1999.7 578.1,1997.0 579.4,1994.3 582.4,1991.6 578.2,1988.9 579.8,1986.2 584.1,1983.5 582.1,1980.8 580.4,1978.8 577.3,1976.8 576.1,1974.0" fill="#0000dc"/>
<polygon points="496.8,1974.0 435.0,1976.8 428.0,1978.8 414.4,1980.8 410.0,1983.5 403.3,1986.2 401.7,1988.9 408.0,1991.6 408.7,1994.3 417.5,1997.0 419.4,1999.7 416.5,2002.4 421.3,2005.1 422.9,2007.8 419.0,2009.8 413.4,2011.9 416.9,2014.6 415.8,2017.3 419.8,2019.4 422.2,2021.5 545.4,2021.5 547.1,2019.4 553.5,2017.3 556.7,2014.6 560.9,2011.9 564.8,2009.8 567.3,2007.8 569.1,2005.1 572.3,2002.4 570.0,1999.7 571.9,1997.0 573.3,1994.3 576.3,1991.6 572.6,1988.9 574.5,1986.2 579.0,1983.5 577.9,1980.8 577.3,1978.8 575.3,1976.8 574.2,1974.0" fill="#0005ff"/>
<polygon points="500.0,1974.0 439.4,1976.8 432.7,1978.8 420.1,1980.8 416.1,1983.5 410.2,1986.2 409.0,1988.9 414.7,1991.6 415.3,1994.3 423.2,1997.0 425.0,1999.7 422.5,2002.4 426.6,2005.1 427.8,2007.8 424.1,2009.8 418.9,2011.9 421.7,2014.6 420.5,2017.3 423.9,2019.4 426.0,2021.5 538.6,2021.5 540.5,2019.4 546.5,2017.3 549.9,2014.6 554.3,2011.9 557.9,2009.8 560.4,2007.8 562.4,2005.1 565.5,2002.4 563.7,1999.7 565.7,1997.0 567.2,1994.3 570.1,1991.6 567.1,1988.9 569.2,1986.2 574.0,1983.5 573.7,1980.8 574.2,1978.8 573.2,1976.8 572.2,1974.0" fill="#0038ff"/>
<polygon points="502.3,1974.0 443.9,1976.8 437.4,1978.8 425.6,1980.8 421.8,1983.5 416.2,1986.2 415.1,1988.9 420.3,1991.6 420.9,1994.3 428.0,1997.0 429.7,1999.7 427.5,2002.4 431.0,2005.1 431.9,2007.8 428.4,2009.8 423.6,2011.9 425.6,2014.6 424.2,2017.3 427.0,2019.4 428.8,2021.5 533.5,2021.5 535.4,2019.4 541.0,2017.3 544.4,2014.6 548.7,2011.9 552.2,2009.8 554.7,2007.8 556.8,2005.1 559.8,2002.4 558.5,1999.7 560.5,1997.0 562.2,1994.3 565.0,1991.6 562.5,1988.9 564.5,1986.2 569.3,1983.5 569.6,1980.8 571.0,1978.8 571.2,1976.8 570.8,1974.0" fill="#006bff"/>
<polygon points="504.2,1974.0 447.1,1976.8 440.4,1978.8 428.9,1980.8 425.4,1983.5 420.2,1986.2 419.4,1988.9 424.2,1991.6 424.7,1994.3 431.3,1997.0 433.0,1999.7 431.1,2002.4 434.1,2005.1 434.7,2007.8 431.3,2009.8 426.8,2011.9 428.4,2014.6 427.0,2017.3 429.4,2019.4 431.0,2021.5 529.5,2021.5 531.5,2019.4 537.0,2017.3 540.5,2014.6 544.9,2011.9 548.1,2009.8 550.6,2007.8 552.8,2005.1 555.8,2002.4 554.8,1999.7 556.9,1997.0 558.6,1994.3 561.4,1991.6 559.2,1988.9 561.4,1986.2 566.4,1983.5 567.2,1980.8 569.0,1978.8 569.7,1976.8 569.6,1974.0" fill="#009eff"/>
<polygon points="506.0,1974.0 449.8,1976.8 443.2,1978.8 432.2,1980.8 428.9,1983.5 424.2,1986.2 423.6,1988.9 428.1,1991.6 428.6,1994.3 434.6,1997.0 436.3,1999.7 434.6,2002.4 437.2,2005.1 437.6,2007.8 434.3,2009.8 430.1,2011.9 431.1,2014.6 429.6,2017.3 431.7,2019.4 433.1,2021.5 525.7,2021.5 527.8,2019.4 533.0,2017.3 536.6,2014.6 541.0,2011.9 544.1,2009.8 546.6,2007.8 548.9,2005.1 551.9,2002.4 551.1,1999.7 553.2,1997.0 555.1,1994.3 557.8,1991.6 556.0,1988.9 558.3,1986.2 563.4,1983.5 564.8,1980.8 567.2,1978.8 568.5,1976.8 568.6,1974.0" fill="#00d1ff"/>
<polygon points="507.6,1974.0 452.4,1976.8 445.9,1978.8 435.4,1980.8 432.2,1983.5 427.7,1986.2 427.3,1988.9 431.4,1991.6 431.9,1994.3 437.5,1997.0 439.1,1999.7 437.6,2002.4 439.9,2005.1 440.0,2007.8 436.8,2009.8 432.9,2011.9 433.6,2014.6 432.0,2017.3 433.7,2019.4 435.0,2021.5 522.3,2021.5 524.4,2019.4 529.5,2017.3 533.2,2014.6 537.7,2011.9 540.7,2009.8 543.2,2007.8 545.6,2005.1 548.5,2002.4 547.9,1999.7 550.1,1997.0 552.0,1994.3 554.7,1991.6 553.2,1988.9 555.6,1986.2 560.7,1983.5 562.5,1980.8 565.4,1978.8 567.3,1976.8 567.6,1974.0" fill="#19ffde"/>
<polygon points="509.4,1974.0 454.7,1976.8 448.2,1978.8 438.2,1980.8 435.2,1983.5 431.1,1986.2 431.0,1988.9 434.7,1991.6 435.2,1994.3 440.4,1997.0 442.0,1999.7 440.6,2002.4 442.5,2005.1 442.5,2007.8 439.4,2009.8 435.6,2011.9 436.0,2014.6 434.3,2017.3 435.8,2019.4 437.0,2021.5 518.6,2021.5 521.1,2019.4 526.0,2017.3 529.8,2014.6 534.4,2011.9 537.3,2009.8 539.7,2007.8 542.2,2005.1 545.1,2002.4 544.8,1999.7 547.0,1997.0 549.0,1994.3 551.6,1991.6 550.4,1988.9 552.9,1986.2 558.2,1983.5 560.4,1980.8 563.9,1978.8 566.3,1976.8 566.4,1974.0" fill="#42ffb5"/>
<polygon points="511.9,1974.0 456.9,1976.8 450.6,1978.8 441.0,1980.8 438.3,1983.5 435.1,1986.2 435.7,1988.9 439.1,1991.6 439.5,1994.3 444.1,1997.0 445.6,1999.7 444.6,2002.4 446.0,2005.1 445.7,2007.8 442.7,2009.8 439.3,2011.9 439.3,2014.6 437.7,2017.3 438.9,2019.4 439.8,2021.5 513.4,2021.5 516.1,2019.4 521.0,2017.3 525.2,2014.6 530.1,2011.9 532.8,2009.8 535.2,2007.8 537.8,2005.1 540.6,2002.4 540.7,1999.7 543.0,1997.0 545.0,1994.3 547.6,1991.6 546.8,1988.9 549.8,1986.2 555.7,1983.5 558.3,1980.8 562.3,1978.8 565.2,1976.8 565.0,1974.0" fill="#6bff8c"/>
<polygon points="514.6,1974.0 459.2,1976.8 453.4,1978.8 444.9,1980.8 442.9,1983.5 440.2,1986.2 441.2,1988.9 444.1,1991.6 444.4,1994.3 448.3,1997.0 449.9,1999.7 449.1,2002.4 450.0,2005.1 449.3,2007.8 446.5,2009.8 443.4,2011.9 442.9,2014.6 441.3,2017.3 442.0,2019.4 442.7,2021.5 508.3,2021.5 511.1,2019.4 515.8,2017.3 520.1,2014.6 525.1,2011.9 527.6,2009.8 530.0,2007.8 532.8,2005.1 535.5,2002.4 535.9,1999.7 538.3,1997.0 540.5,1994.3 543.0,1991.6 542.7,1988.9 545.8,1986.2 551.9,1983.5 555.4,1980.8 560.5,1978.8 564.2,1976.8 563.3,1974.0" fill="#94ff63"/>
<polygon points="540.0,1974.0 462.4,1976.8 456.9,1978.8 449.2,1980.8 447.5,1983.5 445.3,1986.2 448.0,1988.9 450.3,1991.6 450.6,1994.3 453.7,1997.0 455.1,1999.7 454.7,2002.4 455.0,2005.1 453.9,2007.8 451.2,2009.8 448.6,2011.9 448.2,2014.6 447.2,2017.3 447.8,2019.4 448.7,2021.5 497.3,2021.5 501.5,2019.4 506.9,2017.3 512.6,2014.6 518.9,2011.9 521.2,2009.8 523.6,2007.8 526.5,2005.1 529.2,2002.4 530.1,1999.7 532.5,1997.0 534.8,1994.3 537.2,1991.6 537.5,1988.9 541.9,1986.2 548.1,1983.5 552.3,1980.8 558.2,1978.8 562.7,1976.8 540.0,1974.0" fill="#bdff3a"/>
<polygon points="533.3,1974.8 465.8,1976.8 460.4,1978.8 454.0,1980.8 454.7,1983.5 455.7,1986.2 494.2,1988.9 494.2,1988.9 533.8,1986.2 542.1,1983.5 548.7,1980.8 555.9,1978.8 561.2,1976.8 533.3,1974.8" fill="#e6ff10"/>
<polygon points="526.6,1975.6 469.3,1976.8 466.4,1978.8 463.5,1980.8 501.0,1982.2 501.0,1982.2 541.7,1980.8 551.9,1978.8 559.6,1976.8 526.6,1975.6" fill="#ffd900"/>
<polygon points="520.0,1976.5 476.8,1976.8 512.6,1978.1 512.6,1978.1 556.2,1976.8 520.0,1976.5" fill="#ffaa00"/>
<polygon points="470.0,1977.0 575.0,1974.2 575.0,1976.0 470.0,1979.5" fill="#ff7000"/>
<polygon points="574.0,2012.0 580.0,2009.2 598.0,2009.2 601.0,2016.0 603.8,2021.0 576.0,2021.0 578.0,2016.0" fill="#00008b"/>
</g>
<rect x="287.50" y="2018.85" width="34.5" height="11.0"/>
<rect x="301.40" y="1998.90" width="20.6" height="6.9"/>
<rect x="301.40" y="1976.90" width="20.6" height="6.9"/>
<rect x="301.40" y="1954.90" width="20.6" height="6.9"/>
<rect x="301.40" y="1932.90" width="20.6" height="6.9"/>
<rect x="287.50" y="1908.85" width="34.5" height="11.0"/>
<rect x="301.40" y="1888.90" width="20.6" height="6.9"/>
<rect x="301.40" y="1866.90" width="20.6" height="6.9"/>
<rect x="301.40" y="1844.90" width="20.6" height="6.9"/>
<rect x="301.40" y="1822.90" width="20.6" height="6.9"/>
<rect x="287.50" y="1798.85" width="34.5" height="11.0"/>
<rect x="301.40" y="1778.90" width="20.6" height="6.9"/>
<rect x="301.40" y="1756.90" width="20.6" height="6.9"/>
<rect x="332.00" y="2023.85" width="11.0" height="35.7"/>
<rect x="359.40" y="2023.85" width="6.9" height="21.6"/>
<rect x="384.75" y="2023.85" width="6.9" height="21.6"/>
<rect x="410.10" y="2023.85" width="6.9" height="21.6"/>
<rect x="435.45" y="2023.85" width="6.9" height="21.6"/>
<rect x="458.75" y="2023.85" width="11.0" height="35.7"/>
<rect x="486.15" y="2023.85" width="6.9" height="21.6"/>
<rect x="511.50" y="2023.85" width="6.9" height="21.6"/>
<rect x="536.85" y="2023.85" width="6.9" height="21.6"/>
<rect x="562.20" y="2023.85" width="6.9" height="21.6"/>
<rect x="585.50" y="2023.85" width="11.0" height="35.7"/>
<rect x="612.90" y="2023.85" width="6.9" height="21.6"/>
<rect x="638.25" y="2023.85" width="6.9" height="21.6"/>
<rect x="663.60" y="2023.85" width="6.9" height="21.6"/>
<rect x="688.95" y="2023.85" width="6.9" height="21.6"/>
<rect x="712.25" y="2023.85" width="11.0" height="35.7"/>
<rect x="739.65" y="2023.85" width="6.9" height="21.6"/>
<rect x="765.00" y="2023.85" width="6.9" height="21.6"/>
<rect x="790.35" y="2023.85" width="6.9" height="21.6"/>
<rect x="815.70" y="2023.85" width="6.9" height="21.6"/>
<rect x="839.00" y="2023.85" width="11.0" height="35.7"/>
<rect x="322.00" y="1760.00" width="539.0" height="263.85" fill="none" stroke="#000" stroke-width="5.6"/>
<text transform="translate(544.35,1805.74) scale(1.1730,1)" font-size="36.44" font-weight="bold" fill="#000" stroke="#000" stroke-width="0.6">2000</text>
</g>
<g>
<g clip-path="url(#cp51)">
<polygon points="1228.0,1800.0 1242.0,1800.0 1242.0,1805.0 1240.5,1808.0 1241.5,1813.8 1223.0,1813.8 1223.0,1807.5 1228.0,1805.5" fill="#0010e8"/>
<polygon points="1228.0,1808.0 1238.0,1808.0 1238.0,1812.5 1227.0,1812.5" fill="#0080ff"/>
<polygon points="1216.0,1817.0 1218.6,1818.8 1219.6,1820.7 1220.6,1822.7 1217.4,1824.7 1215.2,1826.7 1213.8,1828.7 1211.4,1830.7 1210.9,1833.0 1210.2,1835.3 1205.1,1837.6 1204.4,1839.9 1208.1,1841.9 1207.5,1843.9 1210.4,1845.9 1210.6,1847.9 1215.3,1849.9 1207.0,1852.6 1202.9,1855.3 1197.0,1857.6 1205.4,1859.9 1213.1,1862.2 1209.7,1864.5 1211.5,1866.8 1206.8,1869.1 1206.8,1871.4 1195.7,1874.1 1184.7,1876.8 1190.1,1879.5 1191.4,1882.2 1194.0,1884.5 1192.1,1886.8 1191.4,1889.1 1194.2,1891.4 1193.5,1893.7 1190.8,1896.0 1191.3,1898.3 1188.5,1900.6 1191.1,1902.7 1190.7,1904.9 1192.1,1907.0 1193.2,1909.2 1197.1,1911.3 1182.3,1913.2 1174.0,1915.2 1173.6,1917.1 1180.4,1919.0 1184.7,1921.2 1191.4,1923.3 1245.2,1923.3 1255.0,1921.2 1260.9,1919.0 1263.8,1917.1 1271.2,1915.2 1259.4,1913.2 1247.4,1911.3 1247.8,1909.2 1245.3,1907.0 1247.8,1904.9 1247.0,1902.7 1250.5,1900.6 1249.9,1898.3 1250.0,1896.0 1250.5,1893.7 1247.4,1891.4 1248.6,1889.1 1253.1,1886.8 1253.4,1884.5 1254.1,1882.2 1255.8,1879.5 1254.9,1876.8 1251.3,1874.1 1247.7,1871.4 1246.4,1869.1 1244.6,1866.8 1246.4,1864.5 1248.0,1862.2 1249.7,1859.9 1251.5,1857.6 1257.9,1855.3 1253.3,1852.6 1250.9,1849.9 1248.1,1847.9 1248.9,1845.9 1248.8,1843.9 1248.1,1841.9 1248.5,1839.9 1246.7,1837.6 1247.7,1835.3 1246.0,1833.0 1243.2,1830.7 1245.7,1828.7 1247.7,1826.7 1249.4,1824.7 1249.3,1822.7 1252.8,1820.7 1251.5,1818.8 1249.8,1817.0" fill="#0000a2"/>
<polygon points="1223.7,1817.0 1223.0,1818.8 1222.7,1820.7 1223.1,1822.7 1220.3,1824.7 1218.1,1826.7 1216.6,1828.7 1214.3,1830.7 1213.8,1833.0 1213.0,1835.3 1208.5,1837.6 1207.6,1839.9 1210.8,1841.9 1210.4,1843.9 1213.1,1845.9 1213.3,1847.9 1217.5,1849.9 1210.2,1852.6 1206.5,1855.3 1200.9,1857.6 1208.1,1859.9 1214.8,1862.2 1211.7,1864.5 1213.2,1866.8 1208.9,1869.1 1208.8,1871.4 1198.6,1874.1 1188.5,1876.8 1193.2,1879.5 1194.3,1882.2 1196.4,1884.5 1194.6,1886.8 1193.9,1889.1 1196.4,1891.4 1195.8,1893.7 1193.2,1896.0 1193.8,1898.3 1191.1,1900.6 1193.5,1902.7 1193.3,1904.9 1194.6,1907.0 1195.6,1909.2 1199.2,1911.3 1185.6,1913.2 1178.1,1915.2 1178.1,1917.1 1184.3,1919.0 1190.6,1921.2 1203.6,1923.3 1233.6,1923.3 1248.9,1921.2 1256.5,1919.0 1259.5,1917.1 1266.4,1915.2 1255.9,1913.2 1245.1,1911.3 1245.5,1909.2 1243.3,1907.0 1245.6,1904.9 1244.8,1902.7 1248.1,1900.6 1247.5,1898.3 1247.6,1896.0 1248.1,1893.7 1245.2,1891.4 1246.4,1889.1 1250.4,1886.8 1250.6,1884.5 1251.3,1882.2 1252.7,1879.5 1251.9,1876.8 1248.8,1874.1 1245.6,1871.4 1244.4,1869.1 1242.8,1866.8 1244.4,1864.5 1245.7,1862.2 1247.1,1859.9 1248.7,1857.6 1254.1,1855.3 1249.9,1852.6 1247.7,1849.9 1245.2,1847.9 1245.9,1845.9 1245.7,1843.9 1245.1,1841.9 1245.5,1839.9 1244.0,1837.6 1244.9,1835.3 1243.5,1833.0 1241.1,1830.7 1243.3,1828.7 1245.2,1826.7 1246.7,1824.7 1246.8,1822.7 1249.8,1820.7 1247.7,1818.8 1244.5,1817.0" fill="#0000dc"/>
<polygon points="1228.0,1817.0 1226.4,1818.8 1225.7,1820.7 1225.6,1822.7 1223.1,1824.7 1221.0,1826.7 1219.4,1828.7 1217.2,1830.7 1216.6,1833.0 1215.7,1835.3 1211.8,1837.6 1210.9,1839.9 1213.6,1841.9 1213.3,1843.9 1215.8,1845.9 1216.0,1847.9 1219.7,1849.9 1213.4,1852.6 1210.0,1855.3 1204.9,1857.6 1210.9,1859.9 1216.5,1862.2 1213.7,1864.5 1215.0,1866.8 1211.0,1869.1 1210.8,1871.4 1201.5,1874.1 1192.3,1876.8 1196.3,1879.5 1197.1,1882.2 1198.8,1884.5 1197.1,1886.8 1196.4,1889.1 1198.5,1891.4 1198.0,1893.7 1195.7,1896.0 1196.2,1898.3 1193.8,1900.6 1195.9,1902.7 1195.8,1904.9 1197.0,1907.0 1197.9,1909.2 1201.2,1911.3 1188.9,1913.2 1182.2,1915.2 1182.5,1917.1 1188.3,1919.0 1196.5,1921.2 1211.8,1923.3 1225.8,1923.3 1242.7,1921.2 1252.2,1919.0 1255.2,1917.1 1261.6,1915.2 1252.4,1913.2 1242.8,1911.3 1243.2,1909.2 1241.2,1907.0 1243.3,1904.9 1242.5,1902.7 1245.6,1900.6 1245.1,1898.3 1245.2,1896.0 1245.7,1893.7 1243.0,1891.4 1244.1,1889.1 1247.6,1886.8 1247.7,1884.5 1248.4,1882.2 1249.6,1879.5 1248.9,1876.8 1246.2,1874.1 1243.6,1871.4 1242.4,1869.1 1241.1,1866.8 1242.3,1864.5 1243.4,1862.2 1244.5,1859.9 1245.8,1857.6 1250.3,1855.3 1246.5,1852.6 1244.6,1849.9 1242.3,1847.9 1242.9,1845.9 1242.6,1843.9 1242.1,1841.9 1242.4,1839.9 1241.2,1837.6 1242.0,1835.3 1240.9,1833.0 1239.0,1830.7 1240.9,1828.7 1242.7,1826.7 1244.1,1824.7 1244.2,1822.7 1246.8,1820.7 1244.8,1818.8 1241.5,1817.0" fill="#0005ff"/>
<polygon points="1236.0,1817.0 1228.8,1818.8 1227.5,1820.7 1227.1,1822.7 1224.9,1824.7 1222.9,1826.7 1221.2,1828.7 1219.3,1830.7 1218.7,1833.0 1217.8,1835.3 1214.4,1837.6 1213.5,1839.9 1215.8,1841.9 1215.6,1843.9 1217.8,1845.9 1218.1,1847.9 1221.3,1849.9 1215.9,1852.6 1213.1,1855.3 1208.6,1857.6 1213.6,1859.9 1218.3,1862.2 1215.7,1864.5 1216.8,1866.8 1213.1,1869.1 1212.9,1871.4 1204.5,1874.1 1196.1,1876.8 1199.3,1879.5 1199.9,1882.2 1201.2,1884.5 1199.6,1886.8 1198.8,1889.1 1200.7,1891.4 1200.2,1893.7 1198.2,1896.0 1198.6,1898.3 1196.5,1900.6 1198.4,1902.7 1198.3,1904.9 1199.5,1907.0 1200.3,1909.2 1203.2,1911.3 1192.2,1913.2 1186.2,1915.2 1186.9,1917.1 1192.3,1919.0 1200.2,1921.2 1219.0,1923.0 1219.0,1923.0 1238.9,1921.2 1247.8,1919.0 1250.9,1917.1 1256.9,1915.2 1248.9,1913.2 1240.5,1911.3 1240.9,1909.2 1239.2,1907.0 1241.0,1904.9 1240.3,1902.7 1243.1,1900.6 1242.7,1898.3 1242.9,1896.0 1243.3,1893.7 1240.9,1891.4 1241.8,1889.1 1244.9,1886.8 1244.9,1884.5 1245.5,1882.2 1246.5,1879.5 1245.9,1876.8 1243.7,1874.1 1241.5,1871.4 1240.4,1869.1 1239.3,1866.8 1240.2,1864.5 1241.1,1862.2 1241.9,1859.9 1243.0,1857.6 1247.0,1855.3 1243.8,1852.6 1242.2,1849.9 1240.2,1847.9 1240.6,1845.9 1240.2,1843.9 1239.7,1841.9 1240.0,1839.9 1239.1,1837.6 1239.8,1835.3 1239.1,1833.0 1237.6,1830.7 1239.3,1828.7 1241.1,1826.7 1242.4,1824.7 1242.7,1822.7 1245.1,1820.7 1242.8,1818.8 1236.0,1817.0" fill="#0038ff"/>
<polygon points="1236.2,1818.0 1231.7,1818.8 1229.1,1820.7 1228.5,1822.7 1226.4,1824.7 1224.5,1826.7 1222.8,1828.7 1220.9,1830.7 1220.3,1833.0 1219.4,1835.3 1216.4,1837.6 1215.4,1839.9 1217.4,1841.9 1217.3,1843.9 1219.3,1845.9 1219.6,1847.9 1222.6,1849.9 1217.8,1852.6 1215.2,1855.3 1210.9,1857.6 1215.2,1859.9 1219.4,1862.2 1217.1,1864.5 1218.1,1866.8 1214.7,1869.1 1214.5,1871.4 1207.0,1874.1 1199.4,1876.8 1202.2,1879.5 1202.7,1882.2 1203.6,1884.5 1202.1,1886.8 1201.3,1889.1 1202.8,1891.4 1202.5,1893.7 1200.7,1896.0 1201.1,1898.3 1199.2,1900.6 1200.8,1902.7 1200.8,1904.9 1201.9,1907.0 1202.7,1909.2 1205.2,1911.3 1195.5,1913.2 1190.2,1915.2 1190.8,1917.1 1195.4,1919.0 1203.5,1921.2 1219.1,1922.6 1219.1,1922.6 1235.6,1921.2 1244.4,1919.0 1247.1,1917.1 1252.2,1915.2 1245.4,1913.2 1238.3,1911.3 1238.6,1909.2 1237.1,1907.0 1238.7,1904.9 1238.0,1902.7 1240.6,1900.6 1240.2,1898.3 1240.5,1896.0 1240.9,1893.7 1238.7,1891.4 1239.5,1889.1 1242.2,1886.8 1242.1,1884.5 1242.7,1882.2 1243.6,1879.5 1243.2,1876.8 1241.5,1874.1 1239.8,1871.4 1238.8,1869.1 1238.0,1866.8 1238.8,1864.5 1239.6,1862.2 1240.4,1859.9 1241.3,1857.6 1244.8,1855.3 1241.8,1852.6 1240.4,1849.9 1238.5,1847.9 1238.9,1845.9 1238.4,1843.9 1238.0,1841.9 1238.2,1839.9 1237.5,1837.6 1238.1,1835.3 1237.6,1833.0 1236.4,1830.7 1237.9,1828.7 1239.7,1826.7 1241.0,1824.7 1241.4,1822.7 1243.5,1820.7 1240.3,1818.8 1236.2,1818.0" fill="#006bff"/>
<polygon points="1236.3,1819.1 1230.9,1820.7 1229.9,1822.7 1227.9,1824.7 1226.0,1826.7 1224.1,1828.7 1222.4,1830.7 1221.7,1833.0 1220.7,1835.3 1218.1,1837.6 1217.1,1839.9 1218.8,1841.9 1218.8,1843.9 1220.7,1845.9 1221.0,1847.9 1223.7,1849.9 1219.4,1852.6 1217.1,1855.3 1213.1,1857.6 1216.8,1859.9 1220.4,1862.2 1218.3,1864.5 1219.1,1866.8 1216.0,1869.1 1215.7,1871.4 1208.7,1874.1 1201.6,1876.8 1204.0,1879.5 1204.4,1882.2 1205.1,1884.5 1203.7,1886.8 1203.1,1889.1 1204.5,1891.4 1204.2,1893.7 1202.6,1896.0 1202.8,1898.3 1201.1,1900.6 1202.5,1902.7 1202.6,1904.9 1203.6,1907.0 1204.3,1909.2 1206.6,1911.3 1197.6,1913.2 1192.6,1915.2 1193.4,1917.1 1197.7,1919.0 1206.6,1921.2 1219.2,1922.1 1219.2,1922.1 1232.4,1921.2 1241.8,1919.0 1244.6,1917.1 1249.4,1915.2 1243.3,1913.2 1236.7,1911.3 1237.1,1909.2 1235.7,1907.0 1237.1,1904.9 1236.5,1902.7 1238.8,1900.6 1238.5,1898.3 1238.7,1896.0 1239.0,1893.7 1237.1,1891.4 1237.9,1889.1 1240.3,1886.8 1240.3,1884.5 1241.0,1882.2 1241.8,1879.5 1241.4,1876.8 1240.0,1874.1 1238.6,1871.4 1237.7,1869.1 1236.9,1866.8 1237.6,1864.5 1238.3,1862.2 1238.9,1859.9 1239.7,1857.6 1242.8,1855.3 1240.1,1852.6 1238.8,1849.9 1237.0,1847.9 1237.3,1845.9 1236.8,1843.9 1236.4,1841.9 1236.6,1839.9 1236.1,1837.6 1236.7,1835.3 1236.3,1833.0 1235.3,1830.7 1236.7,1828.7 1238.5,1826.7 1239.6,1824.7 1239.9,1822.7 1241.8,1820.7 1236.3,1819.1" fill="#009eff"/>
<polygon points="1236.4,1820.1 1233.3,1820.7 1231.8,1822.7 1230.0,1824.7 1228.2,1826.7 1226.1,1828.7 1224.4,1830.7 1223.5,1833.0 1222.4,1835.3 1220.0,1837.6 1218.8,1839.9 1220.3,1841.9 1220.4,1843.9 1222.2,1845.9 1222.5,1847.9 1225.0,1849.9 1221.0,1852.6 1218.9,1855.3 1215.1,1857.6 1218.2,1859.9 1221.3,1862.2 1219.3,1864.5 1220.1,1866.8 1217.2,1869.1 1216.9,1871.4 1210.4,1874.1 1203.8,1876.8 1205.8,1879.5 1206.0,1882.2 1206.5,1884.5 1205.2,1886.8 1204.6,1889.1 1205.7,1891.4 1205.5,1893.7 1204.0,1896.0 1204.2,1898.3 1202.7,1900.6 1204.0,1902.7 1204.1,1904.9 1205.0,1907.0 1205.6,1909.2 1207.8,1911.3 1199.5,1913.2 1195.0,1915.2 1196.0,1917.1 1199.9,1919.0 1211.0,1921.2 1219.2,1921.6 1219.2,1921.6 1227.8,1921.2 1239.4,1919.0 1242.1,1917.1 1246.6,1915.2 1241.2,1913.2 1235.4,1911.3 1235.7,1909.2 1234.5,1907.0 1235.8,1904.9 1235.1,1902.7 1237.4,1900.6 1237.1,1898.3 1237.3,1896.0 1237.6,1893.7 1235.8,1891.4 1236.5,1889.1 1238.7,1886.8 1238.7,1884.5 1239.4,1882.2 1240.0,1879.5 1239.7,1876.8 1238.5,1874.1 1237.4,1871.4 1236.5,1869.1 1235.9,1866.8 1236.5,1864.5 1237.1,1862.2 1237.6,1859.9 1238.3,1857.6 1240.9,1855.3 1238.4,1852.6 1236.9,1849.9 1235.3,1847.9 1235.6,1845.9 1235.1,1843.9 1234.8,1841.9 1235.0,1839.9 1234.6,1837.6 1234.9,1835.3 1234.7,1833.0 1233.9,1830.7 1235.0,1828.7 1236.6,1826.7 1237.7,1824.7 1238.0,1822.7 1239.4,1820.7 1236.4,1820.1" fill="#00d1ff"/>
<polygon points="1234.0,1824.7 1234.0,1824.7 1231.8,1826.7 1229.0,1828.7 1227.0,1830.7 1225.7,1833.0 1224.4,1835.3 1222.5,1837.6 1221.3,1839.9 1222.4,1841.9 1222.6,1843.9 1224.2,1845.9 1224.6,1847.9 1226.6,1849.9 1223.4,1852.6 1221.3,1855.3 1217.3,1857.6 1219.5,1859.9 1222.2,1862.2 1220.4,1864.5 1220.9,1866.8 1218.2,1869.1 1217.9,1871.4 1211.9,1874.1 1205.8,1876.8 1207.4,1879.5 1207.6,1882.2 1207.9,1884.5 1206.7,1886.8 1206.0,1889.1 1207.0,1891.4 1206.8,1893.7 1205.5,1896.0 1205.7,1898.3 1204.3,1900.6 1205.4,1902.7 1205.5,1904.9 1206.5,1907.0 1207.0,1909.2 1209.0,1911.3 1201.4,1913.2 1197.2,1915.2 1198.3,1917.1 1201.9,1919.0 1219.3,1921.2 1219.3,1921.2 1237.2,1919.0 1239.9,1917.1 1244.0,1915.2 1239.2,1913.2 1234.1,1911.3 1234.4,1909.2 1233.3,1907.0 1234.4,1904.9 1233.8,1902.7 1235.9,1900.6 1235.7,1898.3 1235.9,1896.0 1236.2,1893.7 1234.5,1891.4 1235.2,1889.1 1237.2,1886.8 1237.1,1884.5 1237.8,1882.2 1238.4,1879.5 1238.1,1876.8 1237.2,1874.1 1236.3,1871.4 1235.5,1869.1 1235.0,1866.8 1235.5,1864.5 1236.0,1862.2 1236.3,1859.9 1236.6,1857.6 1238.3,1855.3 1235.8,1852.6 1234.5,1849.9 1233.2,1847.9 1233.4,1845.9 1232.7,1843.9 1232.5,1841.9 1232.7,1839.9 1232.5,1837.6 1232.8,1835.3 1232.8,1833.0 1232.0,1830.7 1232.5,1828.7 1233.6,1826.7 1234.0,1824.7 1234.0,1824.7" fill="#19ffde"/>
<polygon points="1228.5,1835.3 1226.9,1837.6 1225.0,1839.9 1225.7,1841.9 1226.3,1843.9 1227.8,1845.9 1228.4,1847.9 1229.9,1849.9 1229.9,1849.9 1229.1,1847.9 1229.3,1845.9 1228.7,1843.9 1228.8,1841.9 1229.2,1839.9 1228.9,1837.6 1228.5,1835.3" fill="#42ffb5"/>
<polygon points="1229.9,1849.9 1226.8,1852.6 1224.0,1855.3 1220.3,1857.6 1221.6,1859.9 1223.3,1862.2 1221.6,1864.5 1221.9,1866.8 1219.3,1869.1 1218.9,1871.4 1213.3,1874.1 1207.7,1876.8 1208.9,1879.5 1209.0,1882.2 1209.1,1884.5 1207.9,1886.8 1207.3,1889.1 1208.1,1891.4 1208.0,1893.7 1206.8,1896.0 1206.9,1898.3 1205.7,1900.6 1206.6,1902.7 1206.8,1904.9 1207.7,1907.0 1208.2,1909.2 1210.0,1911.3 1203.0,1913.2 1199.2,1915.2 1200.5,1917.1 1203.9,1919.0 1219.2,1920.7 1219.2,1920.7 1235.0,1919.0 1237.7,1917.1 1241.6,1915.2 1237.5,1913.2 1232.9,1911.3 1233.3,1909.2 1232.3,1907.0 1233.3,1904.9 1232.7,1902.7 1234.6,1900.6 1234.4,1898.3 1234.7,1896.0 1234.9,1893.7 1233.4,1891.4 1234.0,1889.1 1235.8,1886.8 1235.7,1884.5 1236.4,1882.2 1236.9,1879.5 1236.6,1876.8 1235.9,1874.1 1235.3,1871.4 1234.6,1869.1 1234.1,1866.8 1234.2,1864.5 1234.4,1862.2 1234.4,1859.9 1234.5,1857.6 1235.5,1855.3 1232.2,1852.6 1229.9,1849.9" fill="#42ffb5"/>
<polygon points="1229.6,1855.3 1224.5,1857.6 1223.6,1859.9 1224.6,1862.2 1223.1,1864.5 1223.2,1866.8 1220.8,1869.1 1220.2,1871.4 1215.1,1874.1 1209.9,1876.8 1210.5,1879.5 1210.4,1882.2 1210.3,1884.5 1209.2,1886.8 1208.5,1889.1 1209.2,1891.4 1209.1,1893.7 1208.0,1896.0 1208.1,1898.3 1207.0,1900.6 1207.9,1902.7 1208.1,1904.9 1208.9,1907.0 1209.4,1909.2 1211.0,1911.3 1204.7,1913.2 1201.3,1915.2 1203.1,1917.1 1206.8,1919.0 1219.0,1920.2 1219.0,1920.2 1231.9,1919.0 1235.2,1917.1 1239.2,1915.2 1235.7,1913.2 1231.8,1911.3 1232.1,1909.2 1231.2,1907.0 1232.1,1904.9 1231.5,1902.7 1233.4,1900.6 1233.2,1898.3 1233.5,1896.0 1233.7,1893.7 1232.3,1891.4 1232.9,1889.1 1234.4,1886.8 1234.2,1884.5 1234.9,1882.2 1235.3,1879.5 1234.9,1876.8 1234.3,1874.1 1233.9,1871.4 1233.1,1869.1 1232.7,1866.8 1232.7,1864.5 1232.7,1862.2 1232.5,1859.9 1231.3,1857.6 1229.6,1855.3" fill="#6bff8c"/>
<polygon points="1228.2,1859.9 1227.0,1862.2 1225.1,1864.5 1224.5,1866.8 1222.4,1869.1 1221.7,1871.4 1217.3,1874.1 1212.7,1876.8 1212.8,1879.5 1212.4,1882.2 1211.8,1884.5 1210.5,1886.8 1209.8,1889.1 1210.3,1891.4 1210.2,1893.7 1209.3,1896.0 1209.4,1898.3 1208.4,1900.6 1209.1,1902.7 1209.4,1904.9 1210.2,1907.0 1210.6,1909.2 1212.1,1911.3 1206.7,1913.2 1204.1,1915.2 1206.4,1917.1 1209.7,1919.0 1218.9,1919.7 1218.9,1919.7 1228.6,1919.0 1232.0,1917.1 1235.9,1915.2 1233.6,1913.2 1230.5,1911.3 1230.9,1909.2 1230.1,1907.0 1230.9,1904.9 1230.4,1902.7 1232.2,1900.6 1232.0,1898.3 1232.3,1896.0 1232.5,1893.7 1231.2,1891.4 1231.7,1889.1 1232.9,1886.8 1232.5,1884.5 1232.9,1882.2 1233.0,1879.5 1232.6,1876.8 1232.4,1874.1 1232.4,1871.4 1231.6,1869.1 1231.4,1866.8 1230.6,1864.5 1229.6,1862.2 1228.2,1859.9" fill="#94ff63"/>
<polygon points="1227.9,1865.7 1227.3,1866.8 1225.0,1869.1 1223.6,1871.4 1219.5,1874.1 1215.5,1876.8 1215.1,1879.5 1214.5,1882.2 1213.6,1884.5 1212.4,1886.8 1211.6,1889.1 1211.7,1891.4 1211.7,1893.7 1211.0,1896.0 1211.1,1898.3 1210.3,1900.6 1210.9,1902.7 1211.3,1904.9 1212.1,1907.0 1212.4,1909.2 1213.6,1911.3 1209.2,1913.2 1207.1,1915.2 1209.7,1917.1 1214.7,1919.0 1218.8,1919.3 1218.8,1919.3 1223.1,1919.0 1228.8,1917.1 1232.4,1915.2 1231.0,1913.2 1228.8,1911.3 1229.1,1909.2 1228.6,1907.0 1229.2,1904.9 1228.7,1902.7 1230.3,1900.6 1230.3,1898.3 1230.6,1896.0 1230.9,1893.7 1229.8,1891.4 1230.1,1889.1 1230.9,1886.8 1230.4,1884.5 1230.8,1882.2 1230.7,1879.5 1230.4,1876.8 1230.5,1874.1 1230.5,1871.4 1229.1,1869.1 1228.5,1866.8 1227.9,1865.7" fill="#bdff3a"/>
<polygon points="1227.0,1871.4 1224.4,1874.1 1221.3,1876.8 1218.8,1879.5 1216.9,1882.2 1215.4,1884.5 1214.3,1886.8 1213.5,1889.1 1213.3,1891.4 1213.4,1893.7 1212.8,1896.0 1212.9,1898.3 1212.3,1900.6 1212.7,1902.7 1213.1,1904.9 1213.9,1907.0 1214.2,1909.2 1215.1,1911.3 1211.7,1913.2 1210.6,1915.2 1216.4,1917.1 1219.0,1918.0 1219.0,1918.0 1222.2,1917.1 1228.3,1915.2 1228.3,1913.2 1227.1,1911.3 1227.4,1909.2 1227.1,1907.0 1227.5,1904.9 1227.1,1902.7 1228.5,1900.6 1228.4,1898.3 1228.9,1896.0 1229.1,1893.7 1228.2,1891.4 1228.3,1889.1 1228.8,1886.8 1228.2,1884.5 1228.3,1882.2 1227.0,1879.5 1225.8,1876.8 1226.2,1874.1 1227.0,1871.4" fill="#e6ff10"/>
<polygon points="1222.7,1880.8 1221.6,1882.2 1218.9,1884.5 1217.1,1886.8 1215.4,1889.1 1214.9,1891.4 1215.1,1893.7 1214.7,1896.0 1214.7,1898.3 1214.4,1900.6 1214.8,1902.7 1215.5,1904.9 1216.3,1907.0 1216.6,1909.2 1217.4,1911.3 1216.5,1913.2 1217.4,1915.2 1218.9,1915.7 1218.9,1915.7 1220.3,1915.2 1223.3,1913.2 1224.6,1911.3 1225.0,1909.2 1225.0,1907.0 1225.4,1904.9 1225.1,1902.7 1226.5,1900.6 1226.6,1898.3 1227.1,1896.0 1227.3,1893.7 1226.6,1891.4 1226.5,1889.1 1225.8,1886.8 1224.2,1884.5 1223.5,1882.2 1222.7,1880.8" fill="#ffd900"/>
<polygon points="1221.2,1886.8 1219.6,1889.1 1217.9,1891.4 1218.3,1893.7 1218.5,1896.0 1218.7,1898.3 1218.9,1900.6 1218.9,1902.7 1219.7,1904.9 1220.4,1907.0 1220.6,1909.2 1220.8,1911.3 1220.8,1911.3 1221.2,1909.2 1221.6,1907.0 1221.6,1904.9 1221.4,1902.7 1222.4,1900.6 1222.7,1898.3 1223.4,1896.0 1223.7,1893.7 1223.6,1891.4 1222.7,1889.1 1221.2,1886.8" fill="#ffaa00"/>
<rect x="1358.8" y="1927.9" width="7.2" height="2.1" fill="#0000c0"/>
<polygon points="1235.2,1969.0 1223.4,1971.2 1213.4,1973.5 1206.7,1976.2 1195.6,1978.9 1190.3,1981.0 1186.5,1983.0 1177.9,1985.1 1172.2,1987.8 1163.0,1990.4 1166.9,1992.3 1174.9,1994.3 1172.3,1996.2 1173.8,1998.2 1169.7,2000.1 1172.2,2002.0 1170.2,2004.0 1172.4,2006.1 1171.3,2008.1 1170.2,2010.8 1170.5,2013.5 1171.8,2015.8 1172.0,2018.1 1191.4,2021.0 1245.2,2021.0 1253.1,2018.1 1254.6,2015.8 1257.0,2013.5 1256.8,2010.8 1254.9,2008.1 1257.8,2006.1 1256.0,2004.0 1252.4,2002.0 1254.5,2000.1 1259.8,1998.2 1262.5,1996.2 1263.1,1994.3 1268.0,1992.3 1271.1,1990.4 1262.4,1987.8 1248.6,1985.1 1247.8,1983.0 1251.9,1981.0 1253.0,1978.9 1254.4,1976.2 1258.6,1973.5 1252.9,1971.2 1248.3,1969.0" fill="#0000a2"/>
<polygon points="1239.1,1969.0 1230.2,1971.2 1220.7,1973.5 1212.3,1976.2 1201.0,1978.9 1195.6,1981.0 1191.4,1983.0 1183.2,1985.1 1178.5,1987.8 1171.0,1990.4 1175.3,1992.3 1182.8,1994.3 1181.5,1996.2 1183.3,1998.2 1181.2,2000.1 1183.9,2002.0 1182.7,2004.0 1184.8,2006.1 1184.3,2008.1 1183.9,2010.8 1184.8,2013.5 1186.8,2015.8 1188.2,2018.1 1202.8,2021.0 1235.1,2021.0 1242.2,2018.1 1243.5,2015.8 1245.3,2013.5 1244.6,2010.8 1242.8,2008.1 1245.4,2006.1 1244.3,2004.0 1242.3,2002.0 1244.3,2000.1 1248.6,1998.2 1251.3,1996.2 1252.1,1994.3 1257.2,1992.3 1260.6,1990.4 1254.6,1987.8 1243.8,1985.1 1243.6,1983.0 1247.9,1981.0 1249.3,1978.9 1250.2,1976.2 1252.4,1973.5 1247.9,1971.2 1244.7,1969.0" fill="#0000dc"/>
<polygon points="1241.4,1969.8 1234.1,1971.2 1225.6,1973.5 1217.3,1976.2 1206.3,1978.9 1201.0,1981.0 1196.3,1983.0 1188.6,1985.1 1184.8,1987.8 1179.0,1990.4 1183.4,1992.3 1189.7,1994.3 1189.1,1996.2 1190.8,1998.2 1189.9,2000.1 1192.3,2002.0 1191.4,2004.0 1193.2,2006.1 1193.0,2008.1 1193.1,2010.8 1194.3,2013.5 1196.4,2015.8 1197.8,2018.1 1209.5,2021.0 1229.3,2021.0 1235.6,2018.1 1236.5,2015.8 1237.5,2013.5 1236.4,2010.8 1234.8,2008.1 1236.9,2006.1 1236.2,2004.0 1235.0,2002.0 1236.6,2000.1 1239.8,1998.2 1241.9,1996.2 1242.6,1994.3 1246.8,1992.3 1250.1,1990.4 1246.9,1987.8 1239.1,1985.1 1239.4,1983.0 1243.8,1981.0 1245.6,1978.9 1246.4,1976.2 1248.2,1973.5 1245.0,1971.2 1241.4,1969.8" fill="#0005ff"/>
<polygon points="1239.9,1971.6 1229.7,1973.5 1220.6,1976.2 1210.1,1978.9 1204.9,1981.0 1200.0,1983.0 1192.9,1985.1 1189.3,1987.8 1184.1,1990.4 1188.3,1992.3 1194.2,1994.3 1194.2,1996.2 1195.9,1998.2 1195.9,2000.1 1198.4,2002.0 1197.8,2004.0 1199.8,2006.1 1200.2,2008.1 1200.7,2010.8 1202.1,2013.5 1205.2,2015.8 1207.8,2018.1 1220.1,2020.3 1220.1,2020.3 1228.9,2018.1 1230.0,2015.8 1231.1,2013.5 1229.7,2010.8 1228.2,2008.1 1230.2,2006.1 1230.2,2004.0 1229.8,2002.0 1231.3,2000.1 1233.8,1998.2 1235.7,1996.2 1236.4,1994.3 1240.5,1992.3 1243.5,1990.4 1241.3,1987.8 1235.3,1985.1 1236.3,1983.0 1240.8,1981.0 1243.0,1978.9 1243.9,1976.2 1244.8,1973.5 1239.9,1971.6" fill="#0038ff"/>
<polygon points="1237.9,1973.5 1223.4,1976.2 1213.2,1978.9 1208.0,1981.0 1202.9,1983.0 1196.0,1985.1 1192.9,1987.8 1188.4,1990.4 1192.6,1992.3 1198.3,1994.3 1199.4,1996.2 1201.8,1998.2 1203.7,2000.1 1207.4,2002.0 1209.0,2004.0 1212.2,2006.1 1214.8,2008.1 1214.8,2008.1 1217.7,2006.1 1219.8,2004.0 1222.0,2002.0 1224.4,2000.1 1226.8,1998.2 1229.3,1996.2 1230.7,1994.3 1235.0,1992.3 1237.8,1990.4 1236.9,1987.8 1232.5,1985.1 1233.8,1983.0 1238.5,1981.0 1240.9,1978.9 1241.8,1976.2 1237.9,1973.5" fill="#006bff"/>
<polygon points="1235.6,1975.0 1227.5,1976.2 1215.8,1978.9 1210.6,1981.0 1205.3,1983.0 1198.7,1985.1 1196.0,1987.8 1192.6,1990.4 1198.0,1992.3 1204.3,1994.3 1208.2,1996.2 1213.3,1998.2 1213.3,1998.2 1218.5,1996.2 1222.5,1994.3 1227.9,1992.3 1232.3,1990.4 1233.0,1987.8 1230.1,1985.1 1231.7,1983.0 1236.4,1981.0 1239.1,1978.9 1238.6,1976.2 1235.6,1975.0" fill="#009eff"/>
<polygon points="1233.3,1976.5 1219.4,1978.9 1214.0,1981.0 1208.1,1983.0 1201.6,1985.1 1200.1,1987.8 1198.6,1990.4 1206.9,1992.3 1211.5,1993.2 1211.5,1993.2 1216.5,1992.3 1224.4,1990.4 1228.0,1987.8 1227.5,1985.1 1229.3,1983.0 1233.9,1981.0 1236.6,1978.9 1233.3,1976.5" fill="#00d1ff"/>
<polygon points="1231.0,1978.0 1224.3,1978.9 1218.0,1981.0 1211.8,1983.0 1205.6,1985.1 1205.2,1987.8 1209.8,1990.4 1209.8,1990.4 1221.6,1987.8 1224.0,1985.1 1226.2,1983.0 1230.8,1981.0 1233.3,1978.9 1231.0,1978.0" fill="#19ffde"/>
<polygon points="1222.4,1982.0 1218.5,1983.0 1211.8,1985.1 1213.8,1986.6 1213.8,1986.6 1218.5,1985.1 1220.5,1983.0 1222.4,1982.0" fill="#42ffb5"/>
</g>
<rect x="934.50" y="2018.85" width="34.5" height="11.0"/>
<rect x="948.40" y="1998.90" width="20.6" height="6.9"/>
<rect x="948.40" y="1976.90" width="20.6" height="6.9"/>
<rect x="948.40" y="1954.90" width="20.6" height="6.9"/>
<rect x="948.40" y="1932.90" width="20.6" height="6.9"/>
<rect x="934.50" y="1908.85" width="34.5" height="11.0"/>
<rect x="948.40" y="1888.90" width="20.6" height="6.9"/>
<rect x="948.40" y="1866.90" width="20.6" height="6.9"/>
<rect x="948.40" y="1844.90" width="20.6" height="6.9"/>
<rect x="948.40" y="1822.90" width="20.6" height="6.9"/>
<rect x="934.50" y="1798.85" width="34.5" height="11.0"/>
<rect x="948.40" y="1778.90" width="20.6" height="6.9"/>
<rect x="948.40" y="1756.90" width="20.6" height="6.9"/>
<rect x="979.00" y="2023.85" width="11.0" height="35.7"/>
<rect x="1006.40" y="2023.85" width="6.9" height="21.6"/>
<rect x="1031.75" y="2023.85" width="6.9" height="21.6"/>
<rect x="1057.10" y="2023.85" width="6.9" height="21.6"/>
<rect x="1082.45" y="2023.85" width="6.9" height="21.6"/>
<rect x="1105.75" y="2023.85" width="11.0" height="35.7"/>
<rect x="1133.15" y="2023.85" width="6.9" height="21.6"/>
<rect x="1158.50" y="2023.85" width="6.9" height="21.6"/>
<rect x="1183.85" y="2023.85" width="6.9" height="21.6"/>
<rect x="1209.20" y="2023.85" width="6.9" height="21.6"/>
<rect x="1232.50" y="2023.85" width="11.0" height="35.7"/>
<rect x="1259.90" y="2023.85" width="6.9" height="21.6"/>
<rect x="1285.25" y="2023.85" width="6.9" height="21.6"/>
<rect x="1310.60" y="2023.85" width="6.9" height="21.6"/>
<rect x="1335.95" y="2023.85" width="6.9" height="21.6"/>
<rect x="1359.25" y="2023.85" width="11.0" height="35.7"/>
<rect x="1386.65" y="2023.85" width="6.9" height="21.6"/>
<rect x="1412.00" y="2023.85" width="6.9" height="21.6"/>
<rect x="1437.35" y="2023.85" width="6.9" height="21.6"/>
<rect x="1462.70" y="2023.85" width="6.9" height="21.6"/>
<rect x="1486.00" y="2023.85" width="11.0" height="35.7"/>
<rect x="969.00" y="1760.00" width="539.0" height="263.85" fill="none" stroke="#000" stroke-width="5.6"/>
<text transform="translate(1191.35,1805.74) scale(1.1730,1)" font-size="36.44" font-weight="bold" fill="#000" stroke="#000" stroke-width="0.6">2100</text>
</g>
<g>
<g clip-path="url(#cp52)">
<polygon points="1867.2,1828.0 1862.4,1830.0 1860.1,1832.0 1856.1,1834.0 1854.8,1835.6 1847.0,1837.2 1844.7,1838.8 1841.1,1840.4 1836.8,1842.1 1830.4,1843.7 1827.3,1845.3 1825.4,1847.0 1829.4,1848.8 1828.7,1850.6 1830.2,1852.4 1836.6,1854.3 1842.1,1856.1 1850.1,1858.0 1852.6,1859.7 1857.1,1861.3 1863.7,1863.0 1867.2,1865.1 1866.4,1867.2 1868.7,1869.3 1871.8,1871.1 1875.6,1872.9 1872.3,1874.5 1866.0,1876.0 1898.0,1876.0 1900.6,1874.5 1904.5,1872.9 1909.1,1871.1 1915.2,1869.3 1913.6,1867.2 1909.3,1865.1 1903.4,1863.0 1903.5,1861.3 1901.7,1859.7 1900.5,1858.0 1903.6,1856.1 1906.8,1854.3 1911.8,1852.4 1910.1,1850.6 1916.6,1848.8 1917.3,1847.0 1919.0,1845.3 1921.2,1843.7 1920.7,1842.1 1922.7,1840.4 1916.8,1838.8 1905.0,1837.2 1898.3,1835.6 1890.5,1834.0 1890.6,1832.0 1888.8,1830.0 1888.4,1828.0" fill="#0000a2"/>
<polygon points="1871.9,1828.0 1866.8,1830.0 1863.6,1832.0 1859.3,1834.0 1857.9,1835.6 1850.8,1837.2 1848.4,1838.8 1844.8,1840.4 1840.9,1842.1 1835.3,1843.7 1832.5,1845.3 1830.7,1847.0 1834.1,1848.8 1833.6,1850.6 1834.9,1852.4 1840.7,1854.3 1845.7,1856.1 1852.7,1858.0 1856.2,1859.7 1861.6,1861.3 1869.1,1863.0 1872.2,1865.1 1872.6,1867.2 1875.2,1869.3 1876.3,1871.1 1878.8,1872.9 1874.9,1874.5 1868.8,1876.0 1894.4,1876.0 1897.0,1874.5 1900.7,1872.9 1903.7,1871.1 1907.7,1869.3 1905.6,1867.2 1901.7,1865.1 1896.9,1863.0 1898.4,1861.3 1897.9,1859.7 1897.4,1858.0 1900.4,1856.1 1903.4,1854.3 1907.9,1852.4 1906.6,1850.6 1912.3,1848.8 1913.1,1847.0 1914.5,1845.3 1916.3,1843.7 1915.8,1842.1 1917.5,1840.4 1912.0,1838.8 1901.3,1837.2 1895.2,1835.6 1888.0,1834.0 1887.6,1832.0 1885.2,1830.0 1883.7,1828.0" fill="#0000dc"/>
<polygon points="1875.0,1828.0 1869.6,1830.0 1866.7,1832.0 1862.5,1834.0 1860.9,1835.6 1854.5,1837.2 1852.1,1838.8 1848.6,1840.4 1845.1,1842.1 1840.1,1843.7 1837.7,1845.3 1835.9,1847.0 1838.8,1848.8 1838.4,1850.6 1839.7,1852.4 1844.9,1854.3 1849.3,1856.1 1855.3,1858.0 1859.8,1859.7 1865.3,1861.3 1872.7,1863.0 1875.5,1865.1 1876.7,1867.2 1879.4,1869.3 1879.6,1871.1 1881.3,1872.9 1877.2,1874.5 1871.4,1876.0 1891.1,1876.0 1894.0,1874.5 1897.7,1872.9 1899.7,1871.1 1902.7,1869.3 1900.3,1867.2 1896.6,1865.1 1892.5,1863.0 1894.2,1861.3 1894.1,1859.7 1894.2,1858.0 1897.2,1856.1 1900.0,1854.3 1904.1,1852.4 1903.1,1850.6 1908.1,1848.8 1909.0,1847.0 1910.1,1845.3 1911.3,1843.7 1911.0,1842.1 1912.4,1840.4 1907.1,1838.8 1897.7,1837.2 1892.1,1835.6 1885.4,1834.0 1885.0,1832.0 1882.8,1830.0 1880.6,1828.0" fill="#0005ff"/>
<polygon points="1877.4,1828.8 1872.0,1830.0 1868.7,1832.0 1864.6,1834.0 1863.0,1835.6 1857.1,1837.2 1854.8,1838.8 1851.4,1840.4 1848.2,1842.1 1843.9,1843.7 1841.7,1845.3 1840.2,1847.0 1842.6,1848.8 1842.4,1850.6 1843.6,1852.4 1848.2,1854.3 1852.1,1856.1 1857.3,1858.0 1861.9,1859.7 1867.8,1861.3 1875.6,1863.0 1878.3,1865.1 1880.1,1867.2 1883.0,1869.3 1881.9,1871.1 1883.0,1872.9 1878.7,1874.5 1873.0,1876.0 1889.0,1876.0 1892.1,1874.5 1895.7,1872.9 1896.9,1871.1 1898.6,1869.3 1895.9,1867.2 1892.4,1865.1 1888.9,1863.0 1891.4,1861.3 1891.9,1859.7 1891.9,1858.0 1894.7,1856.1 1897.2,1854.3 1900.9,1852.4 1900.3,1850.6 1904.6,1848.8 1905.7,1847.0 1906.5,1845.3 1907.5,1843.7 1907.3,1842.1 1908.5,1840.4 1903.6,1838.8 1895.1,1837.2 1890.0,1835.6 1883.8,1834.0 1883.3,1832.0 1880.8,1830.0 1877.4,1828.8" fill="#0038ff"/>
<polygon points="1876.8,1830.0 1870.5,1832.0 1866.4,1834.0 1864.7,1835.6 1859.3,1837.2 1856.9,1838.8 1853.6,1840.4 1850.7,1842.1 1846.7,1843.7 1844.8,1845.3 1843.2,1847.0 1845.3,1848.8 1845.2,1850.6 1846.4,1852.4 1850.6,1854.3 1854.3,1856.1 1858.8,1858.0 1863.8,1859.7 1870.3,1861.3 1881.6,1863.0 1881.6,1863.0 1888.5,1861.3 1889.9,1859.7 1890.1,1858.0 1892.8,1856.1 1895.2,1854.3 1898.7,1852.4 1898.2,1850.6 1902.2,1848.8 1903.3,1847.0 1903.9,1845.3 1904.7,1843.7 1904.4,1842.1 1905.5,1840.4 1900.8,1838.8 1893.0,1837.2 1888.3,1835.6 1882.4,1834.0 1881.7,1832.0 1876.8,1830.0" fill="#006bff"/>
<polygon points="1890.2,1869.3 1885.1,1871.1 1885.0,1872.9 1880.1,1874.5 1874.4,1876.0 1887.2,1876.0 1890.2,1874.5 1893.3,1872.9 1893.0,1871.1 1890.2,1869.3" fill="#006bff"/>
<polygon points="1876.6,1831.2 1873.1,1832.0 1868.0,1834.0 1866.2,1835.6 1861.1,1837.2 1858.8,1838.8 1855.5,1840.4 1852.8,1842.1 1849.2,1843.7 1847.4,1845.3 1846.0,1847.0 1847.8,1848.8 1847.8,1850.6 1848.9,1852.4 1852.7,1854.3 1856.1,1856.1 1860.1,1858.0 1865.9,1859.7 1874.5,1861.3 1879.6,1861.8 1879.6,1861.8 1883.8,1861.3 1887.7,1859.7 1888.5,1858.0 1891.1,1856.1 1893.5,1854.3 1896.7,1852.4 1896.4,1850.6 1899.9,1848.8 1901.1,1847.0 1901.7,1845.3 1902.2,1843.7 1902.0,1842.1 1902.9,1840.4 1898.4,1838.8 1891.2,1837.2 1886.7,1835.6 1881.2,1834.0 1879.4,1832.0 1876.6,1831.2" fill="#009eff"/>
<polygon points="1888.8,1872.9 1882.2,1874.5 1876.4,1876.0 1884.7,1876.0 1887.4,1874.5 1888.8,1872.9" fill="#009eff"/>
<polygon points="1876.3,1832.5 1870.4,1834.0 1868.4,1835.6 1863.7,1837.2 1861.1,1838.8 1857.8,1840.4 1855.2,1842.1 1851.9,1843.7 1850.2,1845.3 1848.8,1847.0 1850.2,1848.8 1850.2,1850.6 1851.3,1852.4 1854.9,1854.3 1858.2,1856.1 1861.7,1858.0 1868.6,1859.7 1877.8,1860.5 1877.8,1860.5 1884.8,1859.7 1886.6,1858.0 1889.3,1856.1 1891.6,1854.3 1894.7,1852.4 1894.6,1850.6 1897.7,1848.8 1898.9,1847.0 1899.2,1845.3 1899.4,1843.7 1899.1,1842.1 1899.8,1840.4 1895.3,1838.8 1888.7,1837.2 1884.5,1835.6 1879.3,1834.0 1876.3,1832.5" fill="#00d1ff"/>
<polygon points="1875.5,1833.8 1874.3,1834.0 1871.6,1835.6 1867.0,1837.2 1863.9,1838.8 1860.6,1840.4 1858.3,1842.1 1855.5,1843.7 1854.1,1845.3 1852.7,1847.0 1853.7,1848.8 1853.9,1850.6 1854.8,1852.4 1858.0,1854.3 1860.9,1856.1 1863.7,1858.0 1875.8,1859.2 1875.8,1859.2 1884.2,1858.0 1886.9,1856.1 1889.1,1854.3 1891.9,1852.4 1892.0,1850.6 1894.5,1848.8 1895.8,1847.0 1895.9,1845.3 1895.7,1843.7 1895.5,1842.1 1895.9,1840.4 1891.7,1838.8 1885.4,1837.2 1881.2,1835.6 1876.2,1834.0 1875.5,1833.8" fill="#19ffde"/>
<polygon points="1877.2,1840.4 1864.1,1842.1 1861.9,1843.7 1860.5,1845.3 1858.8,1847.0 1858.9,1848.8 1858.9,1850.6 1859.5,1852.4 1862.8,1854.3 1865.7,1856.1 1873.6,1858.0 1873.6,1858.0 1882.6,1856.1 1885.1,1854.3 1888.1,1852.4 1888.4,1850.6 1889.9,1848.8 1891.1,1847.0 1890.4,1845.3 1889.2,1843.7 1888.6,1842.1 1877.2,1840.4" fill="#42ffb5"/>
<polygon points="1866.0,1873.0 1863.2,1875.0 1862.8,1876.9 1858.6,1878.8 1858.5,1880.7 1848.7,1882.6 1838.1,1884.4 1831.7,1886.3 1829.1,1888.2 1824.7,1890.1 1820.8,1892.0 1815.7,1894.1 1812.4,1896.2 1805.7,1898.1 1798.0,1899.9 1793.0,1901.8 1799.4,1903.7 1799.5,1905.6 1806.1,1907.5 1808.0,1909.3 1810.4,1911.0 1807.2,1912.8 1808.5,1914.6 1796.0,1916.2 1785.1,1917.9 1775.0,1919.5 1790.2,1921.6 1806.6,1923.7 1803.4,1925.3 1804.5,1926.9 1800.2,1928.5 1801.1,1930.1 1796.9,1931.7 1794.6,1933.4 1787.5,1935.0 1794.9,1936.8 1799.5,1938.6 1796.0,1940.7 1794.1,1942.8 1797.4,1944.7 1797.3,1946.6 1802.1,1948.5 1795.1,1950.3 1793.5,1952.0 1792.4,1953.8 1815.6,1956.0 1838.9,1958.2 1881.3,1958.2 1909.2,1956.0 1939.4,1953.8 1934.8,1952.0 1930.6,1950.3 1929.5,1948.5 1932.2,1946.6 1930.7,1944.7 1935.7,1942.8 1922.1,1940.7 1911.9,1938.6 1909.8,1936.8 1909.3,1935.0 1904.1,1933.4 1897.8,1931.7 1892.4,1930.1 1904.5,1928.5 1911.7,1926.9 1925.9,1925.3 1930.9,1923.7 1927.4,1921.6 1921.0,1919.5 1915.8,1917.9 1906.8,1916.2 1902.1,1914.6 1905.4,1912.8 1902.8,1911.0 1907.0,1909.3 1912.8,1907.5 1913.3,1905.6 1917.4,1903.7 1920.2,1901.8 1910.6,1899.9 1900.7,1898.1 1894.5,1896.2 1896.4,1894.1 1907.4,1892.0 1906.3,1890.1 1908.7,1888.2 1913.7,1886.3 1911.8,1884.4 1904.2,1882.6 1896.9,1880.7 1898.8,1878.8 1895.1,1876.9 1896.9,1875.0 1897.0,1873.0" fill="#0000a2"/>
<polygon points="1867.2,1873.0 1864.3,1875.0 1863.7,1876.9 1859.8,1878.8 1859.4,1880.7 1850.4,1882.6 1840.4,1884.4 1834.3,1886.3 1831.6,1888.2 1827.3,1890.1 1823.6,1892.0 1818.5,1894.1 1815.1,1896.2 1808.8,1898.1 1801.6,1899.9 1796.9,1901.8 1803.0,1903.7 1803.2,1905.6 1809.3,1907.5 1811.0,1909.3 1813.1,1911.0 1810.0,1912.8 1811.1,1914.6 1799.6,1916.2 1789.6,1917.9 1780.4,1919.5 1795.0,1921.6 1810.8,1923.7 1807.3,1925.3 1808.0,1926.9 1803.5,1928.5 1804.0,1930.1 1800.3,1931.7 1798.3,1933.4 1791.9,1935.0 1799.2,1936.8 1803.8,1938.6 1800.7,1940.7 1799.3,1942.8 1802.2,1944.7 1802.1,1946.6 1806.3,1948.5 1800.3,1950.3 1799.2,1952.0 1798.6,1953.8 1821.9,1956.0 1844.7,1958.2 1875.4,1958.2 1901.6,1956.0 1931.2,1953.8 1927.7,1952.0 1924.3,1950.3 1923.6,1948.5 1926.3,1946.6 1925.1,1944.7 1929.7,1942.8 1917.6,1940.7 1908.3,1938.6 1906.2,1936.8 1905.6,1935.0 1900.6,1933.4 1894.6,1931.7 1889.5,1930.1 1901.0,1928.5 1908.0,1926.9 1921.5,1925.3 1926.5,1923.7 1922.5,1921.6 1915.8,1919.5 1911.2,1917.9 1903.0,1916.2 1898.7,1914.6 1901.8,1912.8 1899.6,1911.0 1903.5,1909.3 1908.9,1907.5 1909.3,1905.6 1913.0,1903.7 1915.6,1901.8 1906.7,1899.9 1897.5,1898.1 1891.9,1896.2 1893.8,1894.1 1903.9,1892.0 1903.1,1890.1 1905.4,1888.2 1910.1,1886.3 1908.3,1884.4 1901.6,1882.6 1895.2,1880.7 1896.9,1878.8 1893.8,1876.9 1895.4,1875.0 1895.2,1873.0" fill="#0000dc"/>
<polygon points="1868.3,1873.0 1865.5,1875.0 1864.6,1876.9 1861.0,1878.8 1860.3,1880.7 1852.1,1882.6 1842.7,1884.4 1836.8,1886.3 1834.2,1888.2 1830.0,1890.1 1826.3,1892.0 1821.3,1894.1 1817.7,1896.2 1811.9,1898.1 1805.2,1899.9 1800.9,1901.8 1806.5,1903.7 1806.9,1905.6 1812.6,1907.5 1814.1,1909.3 1815.9,1911.0 1812.8,1912.8 1813.7,1914.6 1803.3,1916.2 1794.2,1917.9 1785.8,1919.5 1799.9,1921.6 1815.0,1923.7 1811.2,1925.3 1811.4,1926.9 1806.9,1928.5 1806.8,1930.1 1803.6,1931.7 1802.1,1933.4 1796.3,1935.0 1803.4,1936.8 1808.0,1938.6 1805.5,1940.7 1804.4,1942.8 1807.0,1944.7 1806.9,1946.6 1810.6,1948.5 1805.5,1950.3 1804.9,1952.0 1804.7,1953.8 1828.2,1956.0 1848.6,1958.2 1871.5,1958.2 1894.0,1956.0 1923.1,1953.8 1920.6,1952.0 1918.0,1950.3 1917.8,1948.5 1920.3,1946.6 1919.5,1944.7 1923.8,1942.8 1913.0,1940.7 1904.8,1938.6 1902.6,1936.8 1901.9,1935.0 1897.2,1933.4 1891.4,1931.7 1886.6,1930.1 1897.6,1928.5 1904.3,1926.9 1917.1,1925.3 1922.1,1923.7 1917.7,1921.6 1910.7,1919.5 1906.6,1917.9 1899.2,1916.2 1895.3,1914.6 1898.3,1912.8 1896.3,1911.0 1900.1,1909.3 1905.0,1907.5 1905.4,1905.6 1908.7,1903.7 1911.0,1901.8 1902.7,1899.9 1894.3,1898.1 1889.2,1896.2 1891.1,1894.1 1900.4,1892.0 1899.8,1890.1 1902.1,1888.2 1906.4,1886.3 1904.8,1884.4 1898.9,1882.6 1893.4,1880.7 1895.0,1878.8 1892.4,1876.9 1893.9,1875.0 1893.5,1873.0" fill="#0005ff"/>
<polygon points="1869.0,1873.0 1866.3,1875.0 1865.4,1876.9 1862.1,1878.8 1861.2,1880.7 1853.8,1882.6 1845.1,1884.4 1839.3,1886.3 1836.7,1888.2 1832.6,1890.1 1829.0,1892.0 1824.1,1894.1 1820.4,1896.2 1815.0,1898.1 1808.9,1899.9 1804.8,1901.8 1810.1,1903.7 1810.6,1905.6 1815.9,1907.5 1817.1,1909.3 1818.6,1911.0 1815.6,1912.8 1816.3,1914.6 1806.9,1916.2 1798.7,1917.9 1791.2,1919.5 1804.7,1921.6 1819.1,1923.7 1815.2,1925.3 1814.8,1926.9 1810.2,1928.5 1809.7,1930.1 1807.0,1931.7 1805.8,1933.4 1800.7,1935.0 1807.6,1936.8 1812.3,1938.6 1810.3,1940.7 1809.6,1942.8 1811.9,1944.7 1811.7,1946.6 1814.9,1948.5 1810.7,1950.3 1810.6,1952.0 1810.9,1953.8 1831.9,1956.0 1859.8,1957.9 1859.8,1957.9 1889.5,1956.0 1915.0,1953.8 1913.5,1952.0 1911.7,1950.3 1911.9,1948.5 1914.4,1946.6 1913.8,1944.7 1917.9,1942.8 1908.5,1940.7 1901.2,1938.6 1899.0,1936.8 1898.1,1935.0 1893.7,1933.4 1888.2,1931.7 1883.6,1930.1 1894.1,1928.5 1900.7,1926.9 1912.6,1925.3 1917.7,1923.7 1912.8,1921.6 1905.6,1919.5 1902.0,1917.9 1895.5,1916.2 1892.0,1914.6 1894.7,1912.8 1893.1,1911.0 1896.6,1909.3 1901.1,1907.5 1901.4,1905.6 1904.3,1903.7 1906.3,1901.8 1898.8,1899.9 1891.1,1898.1 1886.5,1896.2 1888.4,1894.1 1896.9,1892.0 1896.5,1890.1 1898.8,1888.2 1902.8,1886.3 1901.3,1884.4 1896.3,1882.6 1891.6,1880.7 1893.2,1878.8 1891.3,1876.9 1892.7,1875.0 1892.5,1873.0" fill="#0038ff"/>
<polygon points="1869.6,1873.0 1867.0,1875.0 1866.0,1876.9 1862.8,1878.8 1861.7,1880.7 1855.0,1882.6 1846.9,1884.4 1841.7,1886.3 1839.1,1888.2 1835.3,1890.1 1831.7,1892.0 1827.0,1894.1 1823.1,1896.2 1818.0,1898.1 1812.5,1899.9 1808.7,1901.8 1813.6,1903.7 1814.3,1905.6 1819.2,1907.5 1820.1,1909.3 1821.3,1911.0 1818.4,1912.8 1818.9,1914.6 1810.5,1916.2 1803.2,1917.9 1796.6,1919.5 1809.6,1921.6 1823.3,1923.7 1819.1,1925.3 1818.3,1926.9 1813.6,1928.5 1812.6,1930.1 1810.4,1931.7 1809.5,1933.4 1805.1,1935.0 1811.8,1936.8 1816.5,1938.6 1815.0,1940.7 1814.7,1942.8 1816.7,1944.7 1816.4,1946.6 1819.1,1948.5 1815.3,1950.3 1815.2,1952.0 1815.3,1953.8 1835.2,1956.0 1859.5,1957.4 1859.5,1957.4 1885.5,1956.0 1909.3,1953.8 1907.8,1952.0 1906.0,1950.3 1906.2,1948.5 1908.5,1946.6 1908.2,1944.7 1911.9,1942.8 1904.0,1940.7 1897.7,1938.6 1895.5,1936.8 1894.4,1935.0 1890.2,1933.4 1885.1,1931.7 1880.7,1930.1 1890.6,1928.5 1897.0,1926.9 1908.2,1925.3 1913.4,1923.7 1908.0,1921.6 1900.5,1919.5 1897.4,1917.9 1891.7,1916.2 1888.6,1914.6 1891.1,1912.8 1889.8,1911.0 1893.1,1909.3 1897.3,1907.5 1897.5,1905.6 1899.9,1903.7 1901.7,1901.8 1894.9,1899.9 1887.8,1898.1 1883.8,1896.2 1885.8,1894.1 1893.4,1892.0 1893.3,1890.1 1895.6,1888.2 1899.4,1886.3 1898.4,1884.4 1894.4,1882.6 1890.5,1880.7 1892.1,1878.8 1890.6,1876.9 1891.8,1875.0 1891.6,1873.0" fill="#006bff"/>
<polygon points="1870.4,1873.0 1867.5,1875.0 1866.5,1876.9 1863.5,1878.8 1862.3,1880.7 1856.0,1882.6 1848.3,1884.4 1843.2,1886.3 1840.6,1888.2 1836.8,1890.1 1833.4,1892.0 1828.9,1894.1 1825.2,1896.2 1820.5,1898.1 1815.6,1899.9 1812.1,1901.8 1816.6,1903.7 1817.4,1905.6 1821.9,1907.5 1822.7,1909.3 1823.6,1911.0 1820.8,1912.8 1821.1,1914.6 1813.6,1916.2 1806.8,1917.9 1800.8,1919.5 1813.4,1921.6 1826.7,1923.7 1822.4,1925.3 1821.2,1926.9 1816.5,1928.5 1815.1,1930.1 1813.3,1931.7 1812.8,1933.4 1808.9,1935.0 1815.2,1936.8 1819.8,1938.6 1818.3,1940.7 1817.9,1942.8 1819.6,1944.7 1819.2,1946.6 1821.6,1948.5 1818.3,1950.3 1818.5,1952.0 1818.9,1953.8 1838.9,1956.0 1859.3,1956.9 1859.3,1956.9 1881.1,1956.0 1904.5,1953.8 1903.6,1952.0 1902.4,1950.3 1902.7,1948.5 1905.1,1946.6 1904.8,1944.7 1908.3,1942.8 1900.8,1940.7 1894.9,1938.6 1892.5,1936.8 1891.1,1935.0 1887.2,1933.4 1882.3,1931.7 1878.2,1930.1 1887.6,1928.5 1893.9,1926.9 1904.6,1925.3 1909.8,1923.7 1904.2,1921.6 1896.5,1919.5 1893.7,1917.9 1888.5,1916.2 1885.7,1914.6 1888.1,1912.8 1887.1,1911.0 1890.3,1909.3 1894.1,1907.5 1894.2,1905.6 1896.2,1903.7 1897.7,1901.8 1891.6,1899.9 1885.3,1898.1 1881.8,1896.2 1883.9,1894.1 1891.2,1892.0 1891.4,1890.1 1893.6,1888.2 1897.2,1886.3 1896.4,1884.4 1892.9,1882.6 1889.5,1880.7 1891.0,1878.8 1889.9,1876.9 1891.1,1875.0 1890.3,1873.0" fill="#009eff"/>
<polygon points="1880.0,1873.0 1868.2,1875.0 1866.9,1876.9 1864.1,1878.8 1862.7,1880.7 1856.9,1882.6 1849.6,1884.4 1844.6,1886.3 1842.1,1888.2 1838.4,1890.1 1835.0,1892.0 1830.5,1894.1 1826.7,1896.2 1822.3,1898.1 1817.7,1899.9 1814.4,1901.8 1818.7,1903.7 1819.6,1905.6 1823.8,1907.5 1824.4,1909.3 1825.1,1911.0 1822.4,1912.8 1822.7,1914.6 1815.7,1916.2 1809.5,1917.9 1803.9,1919.5 1816.3,1921.6 1829.1,1923.7 1824.6,1925.3 1823.2,1926.9 1818.4,1928.5 1816.7,1930.1 1815.2,1931.7 1814.9,1933.4 1811.5,1935.0 1817.7,1936.8 1822.3,1938.6 1821.1,1940.7 1820.9,1942.8 1822.4,1944.7 1822.0,1946.6 1824.1,1948.5 1821.4,1950.3 1821.8,1952.0 1822.2,1953.8 1843.6,1956.0 1859.0,1956.4 1859.0,1956.4 1875.4,1956.0 1900.1,1953.8 1899.6,1952.0 1898.7,1950.3 1899.3,1948.5 1901.6,1946.6 1901.6,1944.7 1904.8,1942.8 1898.2,1940.7 1892.9,1938.6 1890.4,1936.8 1889.0,1935.0 1885.2,1933.4 1880.5,1931.7 1876.5,1930.1 1885.6,1928.5 1891.8,1926.9 1902.0,1925.3 1907.2,1923.7 1901.3,1921.6 1893.6,1919.5 1891.0,1917.9 1886.3,1916.2 1883.7,1914.6 1886.0,1912.8 1885.2,1911.0 1888.2,1909.3 1891.8,1907.5 1891.9,1905.6 1893.7,1903.7 1895.0,1901.8 1889.4,1899.9 1883.4,1898.1 1880.2,1896.2 1882.4,1894.1 1889.2,1892.0 1889.5,1890.1 1891.7,1888.2 1895.1,1886.3 1894.3,1884.4 1891.5,1882.6 1888.6,1880.7 1890.1,1878.8 1889.2,1876.9 1890.1,1875.0 1880.0,1873.0" fill="#00d1ff"/>
<polygon points="1879.4,1874.0 1869.1,1875.0 1867.6,1876.9 1864.8,1878.8 1863.2,1880.7 1857.7,1882.6 1850.8,1884.4 1846.0,1886.3 1843.4,1888.2 1839.8,1890.1 1836.5,1892.0 1832.2,1894.1 1828.3,1896.2 1824.1,1898.1 1819.8,1899.9 1816.7,1901.8 1820.7,1903.7 1821.7,1905.6 1825.7,1907.5 1826.2,1909.3 1826.7,1911.0 1824.0,1912.8 1824.2,1914.6 1817.8,1916.2 1812.1,1917.9 1807.1,1919.5 1819.1,1921.6 1831.5,1923.7 1826.9,1925.3 1825.2,1926.9 1820.4,1928.5 1818.4,1930.1 1817.2,1931.7 1817.1,1933.4 1814.1,1935.0 1820.1,1936.8 1824.8,1938.6 1823.9,1940.7 1823.8,1942.8 1825.1,1944.7 1824.7,1946.6 1826.4,1948.5 1824.1,1950.3 1824.6,1952.0 1825.3,1953.8 1858.6,1955.8 1858.6,1955.8 1896.1,1953.8 1896.0,1952.0 1895.4,1950.3 1896.1,1948.5 1898.3,1946.6 1898.4,1944.7 1901.4,1942.8 1895.5,1940.7 1890.8,1938.6 1888.3,1936.8 1886.8,1935.0 1883.2,1933.4 1878.6,1931.7 1874.8,1930.1 1883.5,1928.5 1889.7,1926.9 1899.4,1925.3 1904.6,1923.7 1898.5,1921.6 1890.6,1919.5 1888.3,1917.9 1884.1,1916.2 1881.8,1914.6 1883.9,1912.8 1883.3,1911.0 1886.2,1909.3 1889.6,1907.5 1889.6,1905.6 1891.1,1903.7 1892.3,1901.8 1887.1,1899.9 1881.5,1898.1 1878.6,1896.2 1880.8,1894.1 1887.2,1892.0 1887.7,1890.1 1889.9,1888.2 1893.1,1886.3 1892.6,1884.4 1890.1,1882.6 1887.7,1880.7 1888.9,1878.8 1888.2,1876.9 1889.0,1875.0 1879.4,1874.0" fill="#19ffde"/>
<polygon points="1878.7,1875.0 1868.5,1876.9 1865.7,1878.8 1863.9,1880.7 1858.7,1882.6 1852.0,1884.4 1847.3,1886.3 1844.7,1888.2 1841.2,1890.1 1837.9,1892.0 1833.6,1894.1 1829.7,1896.2 1825.8,1898.1 1821.9,1899.9 1818.9,1901.8 1822.7,1903.7 1823.8,1905.6 1827.5,1907.5 1827.9,1909.3 1828.2,1911.0 1825.6,1912.8 1825.7,1914.6 1819.9,1916.2 1814.6,1917.9 1810.0,1919.5 1821.7,1921.6 1833.8,1923.7 1829.1,1925.3 1827.1,1926.9 1822.3,1928.5 1820.0,1930.1 1819.1,1931.7 1819.2,1933.4 1816.5,1935.0 1822.5,1936.8 1827.1,1938.6 1826.3,1940.7 1826.4,1942.8 1827.6,1944.7 1827.1,1946.6 1828.5,1948.5 1826.7,1950.3 1827.5,1952.0 1828.8,1953.8 1858.2,1955.3 1858.2,1955.3 1891.4,1953.8 1892.5,1952.0 1892.3,1950.3 1893.2,1948.5 1895.4,1946.6 1895.6,1944.7 1898.5,1942.8 1893.2,1940.7 1888.9,1938.6 1886.3,1936.8 1884.7,1935.0 1881.2,1933.4 1876.8,1931.7 1873.1,1930.1 1881.6,1928.5 1887.6,1926.9 1896.9,1925.3 1902.2,1923.7 1895.9,1921.6 1887.8,1919.5 1885.8,1917.9 1882.0,1916.2 1879.8,1914.6 1881.9,1912.8 1881.5,1911.0 1884.3,1909.3 1887.4,1907.5 1887.4,1905.6 1888.7,1903.7 1889.7,1901.8 1884.9,1899.9 1879.8,1898.1 1877.2,1896.2 1879.5,1894.1 1885.4,1892.0 1886.0,1890.1 1888.2,1888.2 1891.3,1886.3 1890.8,1884.4 1888.6,1882.6 1886.4,1880.7 1887.4,1878.8 1887.0,1876.9 1878.7,1875.0" fill="#42ffb5"/>
<polygon points="1876.7,1877.8 1867.2,1878.8 1864.5,1880.7 1860.0,1882.6 1853.5,1884.4 1848.5,1886.3 1846.0,1888.2 1842.5,1890.1 1839.3,1892.0 1835.0,1894.1 1831.1,1896.2 1827.3,1898.1 1823.7,1899.9 1820.9,1901.8 1824.5,1903.7 1825.6,1905.6 1829.2,1907.5 1829.4,1909.3 1829.6,1911.0 1827.0,1912.8 1827.0,1914.6 1821.7,1916.2 1816.9,1917.9 1812.7,1919.5 1824.1,1921.6 1835.9,1923.7 1831.1,1925.3 1828.8,1926.9 1823.9,1928.5 1821.5,1930.1 1820.7,1931.7 1821.1,1933.4 1818.8,1935.0 1824.6,1936.8 1829.2,1938.6 1828.7,1940.7 1828.9,1942.8 1830.0,1944.7 1829.4,1946.6 1830.7,1948.5 1829.6,1950.3 1831.5,1952.0 1833.5,1953.8 1857.8,1954.8 1857.8,1954.8 1885.3,1953.8 1887.5,1952.0 1888.7,1950.3 1890.2,1948.5 1892.4,1946.6 1892.8,1944.7 1895.5,1942.8 1891.0,1940.7 1887.1,1938.6 1884.5,1936.8 1882.8,1935.0 1879.5,1933.4 1875.2,1931.7 1871.6,1930.1 1879.8,1928.5 1885.8,1926.9 1894.7,1925.3 1900.0,1923.7 1893.5,1921.6 1885.3,1919.5 1883.5,1917.9 1880.1,1916.2 1878.2,1914.6 1880.1,1912.8 1879.9,1911.0 1882.5,1909.3 1885.5,1907.5 1885.4,1905.6 1886.5,1903.7 1887.3,1901.8 1882.9,1899.9 1878.2,1898.1 1875.9,1896.2 1878.2,1894.1 1883.7,1892.0 1884.4,1890.1 1886.6,1888.2 1889.4,1886.3 1888.4,1884.4 1886.6,1882.6 1885.0,1880.7 1885.0,1878.8 1876.7,1877.8" fill="#6bff8c"/>
<polygon points="1874.1,1880.7 1861.5,1882.6 1855.3,1884.4 1850.4,1886.3 1847.8,1888.2 1844.3,1890.1 1840.9,1892.0 1836.5,1894.1 1832.4,1896.2 1828.9,1898.1 1825.5,1899.9 1822.8,1901.8 1826.3,1903.7 1827.5,1905.6 1830.8,1907.5 1830.9,1909.3 1830.9,1911.0 1828.4,1912.8 1828.3,1914.6 1823.5,1916.2 1819.1,1917.9 1815.4,1919.5 1826.6,1921.6 1838.0,1923.7 1833.1,1925.3 1830.5,1926.9 1825.6,1928.5 1822.9,1930.1 1822.4,1931.7 1822.9,1933.4 1821.0,1935.0 1826.7,1936.8 1831.3,1938.6 1831.2,1940.7 1832.1,1942.8 1833.1,1944.7 1832.6,1946.6 1833.6,1948.5 1833.5,1950.3 1835.7,1952.0 1838.7,1953.8 1857.4,1954.3 1857.4,1954.3 1878.5,1953.8 1882.2,1952.0 1883.9,1950.3 1886.2,1948.5 1888.4,1946.6 1889.2,1944.7 1891.8,1942.8 1888.6,1940.7 1885.4,1938.6 1882.8,1936.8 1880.9,1935.0 1877.8,1933.4 1873.7,1931.7 1870.2,1930.1 1878.1,1928.5 1884.0,1926.9 1892.5,1925.3 1897.8,1923.7 1891.0,1921.6 1882.7,1919.5 1881.2,1917.9 1878.3,1916.2 1876.5,1914.6 1878.3,1912.8 1878.3,1911.0 1880.8,1909.3 1883.6,1907.5 1883.4,1905.6 1884.3,1903.7 1885.0,1901.8 1881.0,1899.9 1876.6,1898.1 1874.5,1896.2 1876.8,1894.1 1881.5,1892.0 1882.3,1890.1 1884.2,1888.2 1886.7,1886.3 1885.8,1884.4 1884.2,1882.6 1874.1,1880.7" fill="#94ff63"/>
<polygon points="1871.9,1882.7 1857.7,1884.4 1852.3,1886.3 1849.6,1888.2 1846.3,1890.1 1843.0,1892.0 1838.6,1894.1 1834.2,1896.2 1830.8,1898.1 1827.6,1899.9 1824.9,1901.8 1828.2,1903.7 1829.6,1905.6 1832.7,1907.5 1832.7,1909.3 1832.4,1911.0 1829.9,1912.8 1829.6,1914.6 1825.6,1916.2 1821.9,1917.9 1819.0,1919.5 1829.6,1921.6 1840.4,1923.7 1835.3,1925.3 1832.5,1926.9 1827.4,1928.5 1824.4,1930.1 1824.2,1931.7 1824.9,1933.4 1823.2,1935.0 1829.2,1936.8 1834.1,1938.6 1834.8,1940.7 1836.0,1942.8 1836.7,1944.7 1836.2,1946.6 1836.8,1948.5 1837.4,1950.3 1842.3,1952.0 1856.9,1953.8 1856.9,1953.8 1874.0,1952.0 1879.2,1950.3 1881.8,1948.5 1884.0,1946.6 1885.0,1944.7 1887.4,1942.8 1885.2,1940.7 1883.0,1938.6 1880.6,1936.8 1879.0,1935.0 1876.0,1933.4 1872.0,1931.7 1868.7,1930.1 1876.2,1928.5 1881.9,1926.9 1890.0,1925.3 1895.3,1923.7 1888.0,1921.6 1879.3,1919.5 1878.4,1917.9 1876.1,1916.2 1874.7,1914.6 1876.4,1912.8 1876.5,1911.0 1878.8,1909.3 1881.3,1907.5 1881.2,1905.6 1881.9,1903.7 1882.6,1901.8 1878.8,1899.9 1874.6,1898.1 1872.7,1896.2 1874.8,1894.1 1878.9,1892.0 1879.8,1890.1 1881.7,1888.2 1884.0,1886.3 1882.1,1884.4 1871.9,1882.7" fill="#bdff3a"/>
<polygon points="1868.7,1884.7 1855.4,1886.3 1852.1,1888.2 1848.2,1890.1 1845.0,1892.0 1840.7,1894.1 1836.2,1896.2 1833.1,1898.1 1830.3,1899.9 1827.8,1901.8 1830.9,1903.7 1832.4,1905.6 1835.2,1907.5 1835.0,1909.3 1834.5,1911.0 1832.0,1912.8 1831.6,1914.6 1828.3,1916.2 1825.3,1917.9 1823.0,1919.5 1833.2,1921.6 1843.5,1923.7 1838.3,1925.3 1835.0,1926.9 1829.9,1928.5 1826.5,1930.1 1826.7,1931.7 1827.7,1933.4 1826.5,1935.0 1832.3,1936.8 1837.3,1938.6 1838.3,1940.7 1839.8,1942.8 1840.3,1944.7 1839.8,1946.6 1840.5,1948.5 1845.0,1950.3 1857.2,1951.4 1857.2,1951.4 1870.0,1950.3 1876.8,1948.5 1879.6,1946.6 1880.7,1944.7 1882.9,1942.8 1881.8,1940.7 1880.3,1938.6 1877.9,1936.8 1876.2,1935.0 1873.4,1933.4 1869.6,1931.7 1866.5,1930.1 1873.6,1928.5 1879.2,1926.9 1886.7,1925.3 1892.0,1923.7 1884.4,1921.6 1875.5,1919.5 1874.9,1917.9 1873.3,1916.2 1872.2,1914.6 1873.7,1912.8 1874.1,1911.0 1876.2,1909.3 1878.4,1907.5 1878.2,1905.6 1878.6,1903.7 1879.1,1901.8 1875.8,1899.9 1872.2,1898.1 1870.7,1896.2 1872.8,1894.1 1876.3,1892.0 1877.4,1890.1 1878.5,1888.2 1879.6,1886.3 1868.7,1884.7" fill="#e6ff10"/>
<polygon points="1865.1,1887.7 1856.3,1888.2 1852.7,1890.1 1849.0,1892.0 1843.3,1894.1 1838.2,1896.2 1835.4,1898.1 1833.0,1899.9 1830.7,1901.8 1833.5,1903.7 1835.1,1905.6 1837.7,1907.5 1837.2,1909.3 1836.5,1911.0 1834.1,1912.8 1833.5,1914.6 1831.0,1916.2 1828.7,1917.9 1827.1,1919.5 1836.9,1921.6 1846.7,1923.7 1841.2,1925.3 1837.6,1926.9 1832.4,1928.5 1828.7,1930.1 1829.2,1931.7 1830.5,1933.4 1829.9,1935.0 1835.5,1936.8 1840.5,1938.6 1842.9,1940.7 1847.3,1942.8 1847.9,1944.7 1847.8,1946.6 1847.6,1948.5 1857.0,1949.0 1857.0,1949.0 1867.0,1948.5 1869.7,1946.6 1872.0,1944.7 1874.3,1942.8 1877.5,1940.7 1877.7,1938.6 1875.2,1936.8 1873.4,1935.0 1870.8,1933.4 1867.2,1931.7 1864.3,1930.1 1871.0,1928.5 1876.4,1926.9 1883.3,1925.3 1888.7,1923.7 1880.7,1921.6 1871.6,1919.5 1871.5,1917.9 1870.4,1916.2 1869.7,1914.6 1871.1,1912.8 1871.6,1911.0 1873.6,1909.3 1875.5,1907.5 1875.3,1905.6 1875.4,1903.7 1875.7,1901.8 1872.9,1899.9 1869.8,1898.1 1868.7,1896.2 1870.3,1894.1 1871.2,1892.0 1871.9,1890.1 1872.9,1888.2 1865.1,1887.7" fill="#ffd900"/>
<polygon points="1857.9,1893.4 1848.0,1894.1 1841.9,1896.2 1838.9,1898.1 1836.4,1899.9 1833.7,1901.8 1836.4,1903.7 1838.6,1905.6 1841.1,1907.5 1840.2,1909.3 1838.9,1911.0 1836.3,1912.8 1835.5,1914.6 1834.4,1916.2 1833.9,1917.9 1834.5,1919.5 1842.7,1921.6 1851.0,1923.7 1845.0,1925.3 1840.6,1926.9 1835.1,1928.5 1830.8,1930.1 1831.7,1931.7 1833.2,1933.4 1833.2,1935.0 1839.9,1936.8 1846.4,1938.6 1850.8,1940.7 1860.4,1941.4 1860.4,1941.4 1869.9,1940.7 1872.8,1938.6 1871.5,1936.8 1870.6,1935.0 1868.2,1933.4 1864.9,1931.7 1862.1,1930.1 1868.2,1928.5 1873.2,1926.9 1879.1,1925.3 1884.1,1923.7 1874.9,1921.6 1864.6,1919.5 1866.2,1917.9 1866.9,1916.2 1867.2,1914.6 1868.2,1912.8 1868.8,1911.0 1870.3,1909.3 1871.4,1907.5 1871.6,1905.6 1871.8,1903.7 1872.2,1901.8 1869.2,1899.9 1866.1,1898.1 1865.0,1896.2 1865.8,1894.1 1857.9,1893.4" fill="#ffaa00"/>
<polygon points="1852.7,1897.6 1844.1,1898.1 1842.5,1899.9 1840.1,1901.8 1842.3,1903.7 1844.8,1905.6 1846.6,1907.5 1845.2,1909.3 1843.4,1911.0 1841.0,1912.8 1839.7,1914.6 1840.5,1916.2 1841.5,1917.9 1849.9,1918.3 1849.9,1918.3 1858.5,1917.9 1860.6,1916.2 1861.7,1914.6 1862.3,1912.8 1863.4,1911.0 1864.5,1909.3 1865.0,1907.5 1865.0,1905.6 1864.5,1903.7 1864.6,1901.8 1862.7,1899.9 1860.8,1898.1 1852.7,1897.6" fill="#ff7b00"/>
<polygon points="1858.8,1921.6 1857.9,1923.7 1851.5,1925.3 1846.4,1926.9 1840.7,1928.5 1835.5,1930.1 1837.2,1931.7 1839.3,1933.4 1840.3,1935.0 1846.9,1936.8 1858.2,1937.7 1858.2,1937.7 1865.5,1936.8 1864.5,1935.0 1862.5,1933.4 1859.7,1931.7 1857.3,1930.1 1862.4,1928.5 1867.1,1926.9 1871.7,1925.3 1876.8,1923.7 1858.8,1921.6" fill="#ff7b00"/>
<polygon points="1870.0,1964.0 1860.6,1966.2 1855.1,1968.3 1843.4,1970.2 1840.0,1972.0 1832.0,1973.9 1809.5,1976.1 1784.3,1978.2 1770.7,1980.0 1757.5,1981.7 1762.0,1983.6 1760.4,1985.4 1763.8,1987.3 1763.0,1989.2 1769.6,1991.1 1768.4,1993.0 1773.6,1995.5 1778.3,1997.9 1776.0,2000.4 1778.9,2002.9 1773.8,2005.3 1773.6,2007.8 1766.6,2009.7 1761.8,2011.6 1759.3,2013.5 1760.1,2015.6 1762.3,2017.7 1763.3,2019.5 1765.4,2021.3 1904.6,2021.3 1905.6,2019.5 1907.0,2017.7 1908.4,2015.6 1910.3,2013.5 1910.1,2011.6 1912.4,2009.7 1908.9,2007.8 1904.1,2005.3 1900.6,2002.9 1894.5,2000.4 1889.7,1997.9 1902.1,1995.5 1908.2,1993.0 1904.3,1991.1 1895.9,1989.2 1889.4,1987.3 1893.6,1985.4 1890.9,1983.6 1895.0,1981.7 1897.5,1980.0 1897.8,1978.2 1902.5,1976.1 1908.6,1973.9 1909.5,1972.0 1912.1,1970.2 1914.5,1968.3 1913.1,1966.2 1908.2,1964.0" fill="#0000a2"/>
<polygon points="1880.0,1964.0 1870.0,1966.2 1862.4,1968.3 1851.6,1970.2 1847.4,1972.0 1839.7,1973.9 1818.7,1976.1 1795.2,1978.2 1779.5,1980.0 1764.2,1981.7 1768.4,1983.6 1767.4,1985.4 1770.7,1987.3 1771.8,1989.2 1779.0,1991.1 1779.7,1993.0 1787.3,1995.5 1796.7,1997.9 1786.9,2000.4 1783.4,2002.9 1778.2,2005.3 1776.9,2007.8 1771.3,2009.7 1767.8,2011.6 1766.0,2013.5 1766.7,2015.6 1769.0,2017.7 1770.3,2019.5 1772.8,2021.3 1888.2,2021.3 1890.7,2019.5 1893.4,2017.7 1895.1,2015.6 1897.5,2013.5 1898.3,2011.6 1901.0,2009.7 1899.2,2007.8 1894.9,2005.3 1891.9,2002.9 1885.8,2000.4 1880.7,1997.9 1893.8,1995.5 1901.4,1993.0 1897.9,1991.1 1890.7,1989.2 1885.0,1987.3 1887.9,1985.4 1885.1,1983.6 1887.9,1981.7 1889.8,1980.0 1889.7,1978.2 1894.8,1976.1 1900.9,1973.9 1902.2,1972.0 1904.8,1970.2 1907.5,1968.3 1904.5,1966.2 1899.1,1964.0" fill="#0000dc"/>
<polygon points="1890.0,1964.0 1875.5,1966.2 1868.1,1968.3 1858.4,1970.2 1853.9,1972.0 1846.7,1973.9 1827.9,1976.1 1806.1,1978.2 1788.3,1980.0 1770.9,1981.7 1774.8,1983.6 1774.4,1985.4 1777.6,1987.3 1780.5,1989.2 1788.4,1991.1 1791.0,1993.0 1799.4,1995.5 1809.0,1997.9 1795.4,2000.4 1787.4,2002.9 1782.1,2005.3 1780.0,2007.8 1775.6,2009.7 1773.0,2011.6 1771.7,2013.5 1772.3,2015.6 1774.4,2017.7 1775.4,2019.5 1777.7,2021.3 1877.3,2021.3 1879.8,2019.5 1882.7,2017.7 1884.0,2015.6 1886.4,2013.5 1887.9,2011.6 1890.7,2009.7 1890.2,2007.8 1886.8,2005.3 1884.4,2002.9 1879.2,2000.4 1874.7,1997.9 1886.5,1995.5 1894.6,1993.0 1891.6,1991.1 1885.6,1989.2 1880.5,1987.3 1882.2,1985.4 1879.3,1983.6 1880.8,1981.7 1882.1,1980.0 1881.7,1978.2 1887.2,1976.1 1893.9,1973.9 1895.8,1972.0 1898.8,1970.2 1902.0,1968.3 1899.4,1966.2 1890.0,1964.0" fill="#0005ff"/>
<polygon points="1888.6,1965.4 1881.4,1966.2 1872.1,1968.3 1863.0,1970.2 1858.2,1972.0 1851.2,1973.9 1833.3,1976.1 1813.2,1978.2 1794.3,1980.0 1775.6,1981.7 1779.4,1983.6 1779.5,1985.4 1782.8,1987.3 1787.0,1989.2 1795.1,1991.1 1799.0,1993.0 1807.3,1995.5 1819.1,1997.9 1801.2,2000.4 1790.0,2002.9 1784.7,2005.3 1781.9,2007.8 1778.4,2009.7 1776.4,2011.6 1775.5,2013.5 1776.0,2015.6 1778.0,2017.7 1779.1,2019.5 1781.8,2021.3 1868.3,2021.3 1872.0,2019.5 1875.3,2017.7 1876.6,2015.6 1879.1,2013.5 1881.1,2011.6 1884.1,2009.7 1884.5,2007.8 1881.6,2005.3 1879.5,2002.9 1874.6,2000.4 1869.7,1997.9 1881.7,1995.5 1889.9,1993.0 1887.1,1991.1 1881.8,1989.2 1877.2,1987.3 1878.1,1985.4 1875.1,1983.6 1875.8,1981.7 1876.9,1980.0 1876.5,1978.2 1882.7,1976.1 1889.5,1973.9 1891.7,1972.0 1894.7,1970.2 1898.2,1968.3 1893.9,1966.2 1888.6,1965.4" fill="#0038ff"/>
<polygon points="1887.1,1966.9 1876.6,1968.3 1867.6,1970.2 1861.9,1972.0 1855.0,1973.9 1838.1,1976.1 1819.2,1978.2 1799.2,1980.0 1779.3,1981.7 1783.1,1983.6 1783.6,1985.4 1786.8,1987.3 1792.0,1989.2 1800.5,1991.1 1805.4,1993.0 1814.1,1995.5 1849.7,1997.9 1849.7,1997.9 1877.6,1995.5 1886.0,1993.0 1883.4,1991.1 1878.8,1989.2 1874.6,1987.3 1874.8,1985.4 1871.8,1983.6 1871.7,1981.7 1872.6,1980.0 1872.1,1978.2 1878.7,1976.1 1885.6,1973.9 1888.0,1972.0 1890.6,1970.2 1893.8,1968.3 1887.1,1966.9" fill="#006bff"/>
<polygon points="1849.7,1997.9 1808.5,2000.4 1792.3,2002.9 1786.9,2005.3 1783.5,2007.8 1780.8,2009.7 1779.4,2011.6 1779.0,2013.5 1779.8,2015.6 1782.2,2017.7 1784.1,2019.5 1820.0,2021.3 1820.0,2021.3 1861.4,2019.5 1866.8,2017.7 1869.0,2015.6 1872.4,2013.5 1875.2,2011.6 1878.4,2009.7 1879.7,2007.8 1877.1,2005.3 1875.0,2002.9 1868.9,2000.4 1849.7,1997.9" fill="#006bff"/>
<polygon points="1885.4,1968.3 1875.2,1970.2 1867.5,1972.0 1860.4,1973.9 1843.6,1976.1 1824.6,1978.2 1803.6,1980.0 1782.7,1981.7 1786.3,1983.6 1787.1,1985.4 1790.3,1987.3 1796.4,1989.2 1805.2,1991.1 1811.1,1993.0 1824.1,1995.5 1850.3,1996.5 1850.3,1996.5 1871.5,1995.5 1882.6,1993.0 1880.3,1991.1 1876.3,1989.2 1872.4,1987.3 1871.9,1985.4 1868.9,1983.6 1868.1,1981.7 1868.7,1980.0 1868.1,1978.2 1874.1,1976.1 1880.3,1973.9 1882.5,1972.0 1883.8,1970.2 1885.4,1968.3" fill="#009eff"/>
<polygon points="1837.4,2001.0 1795.7,2002.9 1790.1,2005.3 1785.9,2007.8 1784.2,2009.7 1783.9,2011.6 1784.0,2013.5 1786.2,2015.6 1820.4,2017.7 1820.4,2017.7 1856.2,2015.6 1862.8,2013.5 1866.3,2011.6 1870.1,2009.7 1872.8,2007.8 1870.4,2005.3 1868.5,2002.9 1837.4,2001.0" fill="#009eff"/>
<polygon points="1870.3,1973.9 1851.1,1976.1 1832.7,1978.2 1809.8,1980.0 1787.2,1981.7 1790.5,1983.6 1791.5,1985.4 1794.4,1987.3 1801.9,1989.2 1811.2,1991.1 1818.7,1993.0 1851.0,1995.2 1851.0,1995.2 1878.1,1993.0 1876.2,1991.1 1873.0,1989.2 1869.8,1987.3 1868.4,1985.4 1865.1,1983.6 1863.4,1981.7 1863.3,1980.0 1862.1,1978.2 1868.0,1976.1 1870.3,1973.9" fill="#00d1ff"/>
<polygon points="1853.2,1977.5 1846.0,1978.2 1819.2,1980.0 1793.1,1981.7 1795.6,1983.6 1796.7,1985.4 1799.6,1987.3 1808.4,1989.2 1818.6,1991.1 1828.8,1993.0 1852.0,1993.8 1852.0,1993.8 1872.0,1993.0 1871.2,1991.1 1869.2,1989.2 1866.4,1987.3 1864.1,1985.4 1860.5,1983.6 1857.0,1981.7 1855.2,1980.0 1852.3,1978.2 1853.2,1977.5" fill="#19ffde"/>
</g>
<rect x="1581.50" y="2018.85" width="34.5" height="11.0"/>
<rect x="1595.40" y="1998.90" width="20.6" height="6.9"/>
<rect x="1595.40" y="1976.90" width="20.6" height="6.9"/>
<rect x="1595.40" y="1954.90" width="20.6" height="6.9"/>
<rect x="1595.40" y="1932.90" width="20.6" height="6.9"/>
<rect x="1581.50" y="1908.85" width="34.5" height="11.0"/>
<rect x="1595.40" y="1888.90" width="20.6" height="6.9"/>
<rect x="1595.40" y="1866.90" width="20.6" height="6.9"/>
<rect x="1595.40" y="1844.90" width="20.6" height="6.9"/>
<rect x="1595.40" y="1822.90" width="20.6" height="6.9"/>
<rect x="1581.50" y="1798.85" width="34.5" height="11.0"/>
<rect x="1595.40" y="1778.90" width="20.6" height="6.9"/>
<rect x="1595.40" y="1756.90" width="20.6" height="6.9"/>
<rect x="1626.00" y="2023.85" width="11.0" height="35.7"/>
<rect x="1653.40" y="2023.85" width="6.9" height="21.6"/>
<rect x="1678.75" y="2023.85" width="6.9" height="21.6"/>
<rect x="1704.10" y="2023.85" width="6.9" height="21.6"/>
<rect x="1729.45" y="2023.85" width="6.9" height="21.6"/>
<rect x="1752.75" y="2023.85" width="11.0" height="35.7"/>
<rect x="1780.15" y="2023.85" width="6.9" height="21.6"/>
<rect x="1805.50" y="2023.85" width="6.9" height="21.6"/>
<rect x="1830.85" y="2023.85" width="6.9" height="21.6"/>
<rect x="1856.20" y="2023.85" width="6.9" height="21.6"/>
<rect x="1879.50" y="2023.85" width="11.0" height="35.7"/>
<rect x="1906.90" y="2023.85" width="6.9" height="21.6"/>
<rect x="1932.25" y="2023.85" width="6.9" height="21.6"/>
<rect x="1957.60" y="2023.85" width="6.9" height="21.6"/>
<rect x="1982.95" y="2023.85" width="6.9" height="21.6"/>
<rect x="2006.25" y="2023.85" width="11.0" height="35.7"/>
<rect x="2033.65" y="2023.85" width="6.9" height="21.6"/>
<rect x="2059.00" y="2023.85" width="6.9" height="21.6"/>
<rect x="2084.35" y="2023.85" width="6.9" height="21.6"/>
<rect x="2109.70" y="2023.85" width="6.9" height="21.6"/>
<rect x="2133.00" y="2023.85" width="11.0" height="35.7"/>
<rect x="1616.00" y="1760.00" width="539.0" height="263.85" fill="none" stroke="#000" stroke-width="5.6"/>
<text transform="translate(1838.35,1805.74) scale(1.1730,1)" font-size="36.44" font-weight="bold" fill="#000" stroke="#000" stroke-width="0.6">2200</text>
</g>
<g>
<g clip-path="url(#cp53)">
<polygon points="2266.0,1999.5 2300.0,1998.0 2340.0,1996.5 2340.0,2009.0 2266.0,2009.0" fill="#0000a0"/>
<polygon points="2275.0,2001.0 2335.0,2000.0 2335.0,2006.0 2275.0,2006.0" fill="#0020d0"/>
<rect x="2266.0" y="2008.3" width="74.0" height="2.0" fill="#00d0ff"/>
<rect x="2516.0" y="2006.8" width="214.0" height="2.5" fill="#0060ff"/>
<rect x="2560.0" y="2007.3" width="160.0" height="1.5" fill="#00a8ff"/>
<rect x="2600.0" y="2009.3" width="200.0" height="1.3" fill="#00d8ff"/>
<polygon points="2774.0,2006.0 2785.0,2003.5 2799.0,2001.8 2799.0,2008.6 2774.0,2008.6" fill="#0030f0"/>
<rect x="2666.0" y="2012.3" width="10.0" height="1.3" fill="#0000c0"/>
<polygon points="2438.5,2015.0 2470.0,2013.0 2544.0,2013.0 2544.0,2020.6 2450.0,2020.6" fill="#0000a8"/>
<polygon points="2450.0,2016.0 2515.0,2014.5 2515.0,2019.5 2455.0,2019.8" fill="#0040ff"/>
<polygon points="2501.3,1946.0 2494.4,1947.8 2487.5,1949.7 2479.2,1951.5 2479.8,1953.0 2482.9,1954.5 2482.7,1956.4 2483.3,1958.4 2480.4,1960.3 2478.0,1962.2 2472.7,1964.1 2467.0,1966.0 2464.2,1967.9 2457.2,1970.0 2449.0,1972.0 2444.9,1974.1 2432.5,1976.0 2420.0,1978.0 2540.0,1978.0 2539.5,1976.0 2538.0,1974.1 2541.6,1972.0 2539.8,1970.0 2544.3,1967.9 2543.1,1966.0 2542.4,1964.1 2544.9,1962.2 2544.8,1960.3 2548.9,1958.4 2557.0,1956.4 2560.0,1954.5 2554.2,1953.0 2546.1,1951.5 2545.3,1949.7 2540.1,1947.8 2539.0,1946.0" fill="#0000a2"/>
<polygon points="2505.8,1946.0 2498.9,1947.8 2492.0,1949.7 2483.8,1951.5 2484.3,1953.0 2487.0,1954.5 2486.2,1956.4 2486.1,1958.4 2483.1,1960.3 2480.5,1962.2 2475.3,1964.1 2469.6,1966.0 2466.7,1967.9 2459.8,1970.0 2451.8,1972.0 2447.7,1974.1 2436.5,1976.0 2426.0,1978.0 2531.6,1978.0 2533.8,1976.0 2533.9,1974.1 2537.7,1972.0 2536.5,1970.0 2541.1,1967.9 2540.3,1966.0 2539.9,1964.1 2542.5,1962.2 2542.7,1960.3 2546.4,1958.4 2554.0,1956.4 2556.6,1954.5 2551.0,1953.0 2543.5,1951.5 2542.1,1949.7 2536.8,1947.8 2534.4,1946.0" fill="#0000dc"/>
<polygon points="2509.3,1946.0 2503.5,1947.8 2496.5,1949.7 2488.5,1951.5 2488.8,1953.0 2491.1,1954.5 2489.7,1956.4 2489.0,1958.4 2485.8,1960.3 2483.0,1962.2 2477.8,1964.1 2472.3,1966.0 2469.2,1967.9 2462.5,1970.0 2454.7,1972.0 2450.4,1974.1 2440.5,1976.0 2432.0,1978.0 2523.2,1978.0 2528.1,1976.0 2529.8,1974.1 2533.8,1972.0 2533.2,1970.0 2537.9,1967.9 2537.4,1966.0 2537.3,1964.1 2540.0,1962.2 2540.5,1960.3 2543.9,1958.4 2550.9,1956.4 2553.2,1954.5 2547.9,1953.0 2540.9,1951.5 2538.9,1949.7 2533.5,1947.8 2530.8,1946.0" fill="#0005ff"/>
<polygon points="2511.8,1946.0 2506.3,1947.8 2500.5,1949.7 2493.2,1951.5 2493.3,1953.0 2495.2,1954.5 2493.2,1956.4 2491.8,1958.4 2488.5,1960.3 2485.6,1962.2 2480.4,1964.1 2474.9,1966.0 2471.7,1967.9 2465.1,1970.0 2457.5,1972.0 2453.1,1974.1 2444.5,1976.0 2438.0,1978.0 2514.8,1978.0 2522.3,1976.0 2525.7,1974.1 2530.0,1972.0 2529.9,1970.0 2534.7,1967.9 2534.5,1966.0 2534.8,1964.1 2537.6,1962.2 2538.4,1960.3 2541.5,1958.4 2547.9,1956.4 2549.9,1954.5 2544.8,1953.0 2538.2,1951.5 2536.1,1949.7 2531.4,1947.8 2528.4,1946.0" fill="#0038ff"/>
<polygon points="2514.6,1946.0 2508.7,1947.8 2503.1,1949.7 2496.5,1951.5 2496.8,1953.0 2498.8,1954.5 2496.7,1956.4 2494.7,1958.4 2491.2,1960.3 2488.1,1962.2 2483.0,1964.1 2477.5,1966.0 2474.3,1967.9 2467.7,1970.0 2460.4,1972.0 2455.8,1974.1 2448.4,1976.0 2441.5,1978.0 2509.9,1978.0 2516.7,1976.0 2521.7,1974.1 2526.1,1972.0 2526.6,1970.0 2531.5,1967.9 2531.7,1966.0 2532.3,1964.1 2535.2,1962.2 2536.2,1960.3 2539.0,1958.4 2544.8,1956.4 2546.9,1954.5 2542.3,1953.0 2536.4,1951.5 2534.2,1949.7 2529.6,1947.8 2525.5,1946.0" fill="#006bff"/>
<polygon points="2520.0,1946.0 2511.1,1947.8 2505.5,1949.7 2499.2,1951.5 2499.5,1953.0 2501.2,1954.5 2498.9,1956.4 2496.9,1958.4 2493.6,1960.3 2490.5,1962.2 2485.5,1964.1 2480.2,1966.0 2476.8,1967.9 2470.4,1970.0 2463.2,1972.0 2458.5,1974.1 2450.7,1976.0 2445.0,1978.0 2505.0,1978.0 2513.3,1976.0 2517.7,1974.1 2522.3,1972.0 2523.3,1970.0 2528.3,1967.9 2528.8,1966.0 2529.9,1964.1 2532.9,1962.2 2534.3,1960.3 2537.2,1958.4 2542.9,1956.4 2545.0,1954.5 2540.4,1953.0 2534.8,1951.5 2532.5,1949.7 2527.9,1947.8 2520.0,1946.0" fill="#009eff"/>
<polygon points="2520.4,1946.9 2514.5,1947.8 2507.8,1949.7 2501.8,1951.5 2502.0,1953.0 2503.6,1954.5 2500.9,1956.4 2498.6,1958.4 2495.2,1960.3 2492.0,1962.2 2487.0,1964.1 2481.7,1966.0 2478.3,1967.9 2471.9,1970.0 2464.8,1972.0 2460.1,1974.1 2453.0,1976.0 2448.0,1978.0 2500.8,1978.0 2510.0,1976.0 2515.3,1974.1 2520.0,1972.0 2521.3,1970.0 2526.4,1967.9 2527.2,1966.0 2528.4,1964.1 2531.5,1962.2 2533.0,1960.3 2535.7,1958.4 2541.2,1956.4 2543.0,1954.5 2538.6,1953.0 2533.4,1951.5 2530.9,1949.7 2525.4,1947.8 2520.4,1946.9" fill="#00d1ff"/>
<polygon points="2520.8,1947.8 2510.8,1949.7 2504.1,1951.5 2504.3,1953.0 2505.7,1954.5 2502.9,1956.4 2500.2,1958.4 2496.8,1960.3 2493.4,1962.2 2488.5,1964.1 2483.2,1966.0 2479.8,1967.9 2473.5,1970.0 2466.5,1972.0 2461.7,1974.1 2455.2,1976.0 2451.0,1978.0 2496.6,1978.0 2506.8,1976.0 2513.0,1974.1 2517.8,1972.0 2519.4,1970.0 2524.5,1967.9 2525.5,1966.0 2527.0,1964.1 2530.1,1962.2 2531.8,1960.3 2534.3,1958.4 2539.4,1956.4 2541.3,1954.5 2537.1,1953.0 2532.1,1951.5 2528.8,1949.7 2520.8,1947.8" fill="#19ffde"/>
<polygon points="2521.1,1948.8 2514.2,1949.7 2506.8,1951.5 2506.5,1953.0 2507.8,1954.5 2504.7,1956.4 2501.8,1958.4 2498.3,1960.3 2494.9,1962.2 2490.0,1964.1 2484.8,1966.0 2481.3,1967.9 2475.0,1970.0 2468.2,1972.0 2463.3,1974.1 2457.2,1976.0 2455.5,1978.0 2490.3,1978.0 2504.0,1976.0 2510.6,1974.1 2515.5,1972.0 2517.5,1970.0 2522.7,1967.9 2523.8,1966.0 2525.5,1964.1 2528.7,1962.2 2530.5,1960.3 2533.0,1958.4 2537.9,1956.4 2539.6,1954.5 2535.5,1953.0 2530.6,1951.5 2526.4,1949.7 2521.1,1948.8" fill="#42ffb5"/>
<polygon points="2521.3,1949.7 2510.3,1951.5 2509.7,1953.0 2510.1,1954.5 2506.4,1956.4 2503.2,1958.4 2499.7,1960.3 2496.2,1962.2 2491.4,1964.1 2486.2,1966.0 2482.6,1967.9 2476.4,1970.0 2469.6,1972.0 2464.7,1974.1 2459.2,1976.0 2460.0,1978.0 2484.0,1978.0 2501.1,1976.0 2508.5,1974.1 2513.5,1972.0 2515.7,1970.0 2521.0,1967.9 2522.3,1966.0 2524.2,1964.1 2527.4,1962.2 2529.4,1960.3 2531.8,1958.4 2536.4,1956.4 2537.6,1954.5 2533.3,1953.0 2528.6,1951.5 2521.3,1949.7" fill="#6bff8c"/>
<polygon points="2521.7,1950.6 2514.2,1951.5 2513.1,1953.0 2513.2,1954.5 2508.6,1956.4 2504.6,1958.4 2501.0,1960.3 2497.5,1962.2 2492.7,1964.1 2487.5,1966.0 2483.9,1967.9 2477.7,1970.0 2471.1,1972.0 2466.0,1974.1 2462.0,1976.0 2470.0,1978.0 2470.0,1978.0 2497.1,1976.0 2506.4,1974.1 2511.5,1972.0 2514.1,1970.0 2519.4,1967.9 2520.9,1966.0 2522.9,1964.1 2526.2,1962.2 2528.4,1960.3 2530.5,1958.4 2534.5,1956.4 2535.1,1954.5 2531.0,1953.0 2526.4,1951.5 2521.7,1950.6" fill="#94ff63"/>
<polygon points="2522.0,1951.5 2518.4,1953.0 2516.3,1954.5 2511.2,1956.4 2506.5,1958.4 2502.3,1960.3 2498.7,1962.2 2494.0,1964.1 2488.8,1966.0 2485.2,1967.9 2479.0,1970.0 2472.5,1972.0 2467.4,1974.1 2465.0,1976.0 2472.0,1977.4 2472.0,1977.4 2492.8,1976.0 2504.4,1974.1 2509.6,1972.0 2512.4,1970.0 2517.8,1967.9 2519.5,1966.0 2521.7,1964.1 2525.0,1962.2 2527.3,1960.3 2528.9,1958.4 2532.2,1956.4 2532.6,1954.5 2527.3,1953.0 2522.0,1951.5" fill="#bdff3a"/>
<polygon points="2524.3,1953.6 2522.5,1954.5 2513.9,1956.4 2508.7,1958.4 2504.2,1960.3 2500.4,1962.2 2495.6,1964.1 2490.4,1966.0 2486.6,1967.9 2480.6,1970.0 2474.2,1972.0 2469.1,1974.1 2468.4,1976.0 2474.0,1976.8 2474.0,1976.8 2487.9,1976.0 2501.8,1974.1 2507.3,1972.0 2510.5,1970.0 2516.0,1967.9 2517.7,1966.0 2520.1,1964.1 2523.4,1962.2 2525.8,1960.3 2527.1,1958.4 2529.9,1956.4 2527.5,1954.5 2524.3,1953.6" fill="#e6ff10"/>
<polygon points="2523.9,1955.5 2519.0,1956.4 2510.8,1958.4 2506.2,1960.3 2502.3,1962.2 2497.5,1964.1 2492.4,1966.0 2488.5,1967.9 2482.6,1970.0 2476.4,1972.0 2471.2,1974.1 2475.1,1976.0 2476.0,1976.2 2476.0,1976.2 2478.3,1976.0 2498.8,1974.1 2504.4,1972.0 2508.0,1970.0 2513.6,1967.9 2515.6,1966.0 2518.2,1964.1 2521.6,1962.2 2524.2,1960.3 2525.2,1958.4 2525.5,1956.4 2523.9,1955.5" fill="#ffd900"/>
<polygon points="2521.2,1957.1 2514.8,1958.4 2508.2,1960.3 2504.2,1962.2 2499.5,1964.1 2494.3,1966.0 2490.4,1967.9 2484.5,1970.0 2478.5,1972.0 2473.2,1974.1 2477.9,1975.6 2477.9,1975.6 2495.7,1974.1 2501.5,1972.0 2505.5,1970.0 2511.2,1967.9 2513.5,1966.0 2516.3,1964.1 2519.7,1962.2 2522.6,1960.3 2521.8,1958.4 2521.2,1957.1" fill="#ffaa00"/>
<polygon points="2518.2,1958.7 2511.7,1960.3 2507.1,1962.2 2502.0,1964.1 2496.5,1966.0 2492.3,1967.9 2486.5,1970.0 2480.9,1972.0 2475.9,1974.1 2479.7,1975.0 2479.7,1975.0 2491.7,1974.1 2498.1,1972.0 2503.0,1970.0 2508.8,1967.9 2511.1,1966.0 2513.9,1964.1 2517.0,1962.2 2519.8,1960.3 2518.2,1958.7" fill="#ff7b00"/>
<polygon points="2516.2,1960.3 2511.3,1962.2 2506.3,1964.1 2500.9,1966.0 2496.2,1967.9 2490.9,1970.0 2485.7,1972.0 2480.4,1974.1 2481.5,1974.3 2481.5,1974.3 2484.9,1974.1 2491.7,1972.0 2497.5,1970.0 2503.8,1967.9 2506.4,1966.0 2509.7,1964.1 2512.9,1962.2 2516.2,1960.3" fill="#ff4c00"/>
<polygon points="2363.1,1975.5 2353.6,1977.6 2341.2,1979.6 2333.3,1981.7 2332.8,1983.4 2334.5,1985.0 2334.4,1986.7 2343.3,1988.4 2353.4,1990.0 2364.9,1991.7 2349.2,1993.6 2337.1,1995.5 2330.2,1997.2 2326.2,1998.8 2321.7,2000.5 2320.8,2002.2 2319.7,2003.9 2321.4,2005.6 2321.2,2007.3 2321.0,2008.9 2320.3,2010.6 2327.0,2012.6 2330.0,2014.6 2451.1,2014.6 2487.7,2012.6 2525.9,2010.6 2523.2,2008.9 2521.1,2007.3 2516.1,2005.6 2523.2,2003.9 2527.1,2002.2 2534.8,2000.5 2532.3,1998.8 2531.1,1997.2 2529.8,1995.5 2534.3,1993.6 2539.5,1991.7 2539.1,1990.0 2539.1,1988.4 2539.5,1986.7 2542.5,1985.0 2541.7,1983.4 2542.7,1981.7 2544.4,1979.6 2542.9,1977.6 2542.8,1975.5" fill="#0000a2"/>
<polygon points="2368.8,1975.5 2359.9,1977.6 2348.3,1979.6 2340.7,1981.7 2341.2,1983.4 2343.7,1985.0 2344.6,1986.7 2351.1,1988.4 2359.0,1990.0 2368.2,1991.7 2353.5,1993.6 2341.9,1995.5 2334.9,1997.2 2330.5,1998.8 2325.8,2000.5 2324.5,2002.2 2322.8,2003.9 2324.1,2005.6 2323.7,2007.3 2323.4,2008.9 2322.6,2010.6 2329.5,2012.6 2333.3,2014.6 2447.0,2014.6 2482.3,2012.6 2519.8,2010.6 2517.6,2008.9 2515.9,2007.3 2511.6,2005.6 2518.1,2003.9 2521.8,2002.2 2528.8,2000.5 2526.9,1998.8 2526.1,1997.2 2525.3,1995.5 2529.7,1993.6 2534.8,1991.7 2534.7,1990.0 2534.7,1988.4 2535.2,1986.7 2538.1,1985.0 2537.5,1983.4 2538.5,1981.7 2540.0,1979.6 2538.7,1977.6 2538.5,1975.5" fill="#0000dc"/>
<polygon points="2374.5,1975.5 2366.1,1977.6 2355.3,1979.6 2348.1,1981.7 2349.6,1983.4 2352.9,1985.0 2354.9,1986.7 2358.9,1988.4 2364.5,1990.0 2371.4,1991.7 2357.7,1993.6 2346.7,1995.5 2339.6,1997.2 2334.9,1998.8 2329.8,2000.5 2328.1,2002.2 2326.0,2003.9 2326.7,2005.6 2326.1,2007.3 2325.8,2008.9 2325.0,2010.6 2331.9,2012.6 2336.7,2014.6 2442.8,2014.6 2476.9,2012.6 2513.7,2010.6 2512.0,2008.9 2510.6,2007.3 2507.0,2005.6 2513.1,2003.9 2516.5,2002.2 2522.9,2000.5 2521.5,1998.8 2521.1,1997.2 2520.8,1995.5 2525.2,1993.6 2530.1,1991.7 2530.2,1990.0 2530.3,1988.4 2531.0,1986.7 2533.7,1985.0 2533.4,1983.4 2534.4,1981.7 2535.7,1979.6 2534.5,1977.6 2534.2,1975.5" fill="#0005ff"/>
<polygon points="2380.2,1975.5 2372.4,1977.6 2362.4,1979.6 2355.5,1981.7 2358.1,1983.4 2362.1,1985.0 2365.1,1986.7 2366.7,1988.4 2370.1,1990.0 2374.7,1991.7 2362.0,1993.6 2351.6,1995.5 2344.3,1997.2 2339.2,1998.8 2333.9,2000.5 2331.7,2002.2 2329.2,2003.9 2329.4,2005.6 2328.6,2007.3 2328.3,2008.9 2327.3,2010.6 2334.4,2012.6 2339.6,2014.6 2439.2,2014.6 2471.5,2012.6 2507.6,2010.6 2506.4,2008.9 2505.4,2007.3 2502.5,2005.6 2508.0,2003.9 2511.2,2002.2 2517.0,2000.5 2516.0,1998.8 2516.1,1997.2 2516.3,1995.5 2520.7,1993.6 2525.4,1991.7 2525.8,1990.0 2525.9,1988.4 2526.8,1986.7 2529.3,1985.0 2529.2,1983.4 2530.2,1981.7 2531.3,1979.6 2530.2,1977.6 2530.0,1975.5" fill="#0038ff"/>
<polygon points="2384.9,1975.5 2377.7,1977.6 2368.5,1979.6 2362.1,1981.7 2365.1,1983.4 2369.3,1985.0 2372.6,1986.7 2372.9,1988.4 2374.9,1990.0 2377.7,1991.7 2366.0,1993.6 2356.3,1995.5 2349.0,1997.2 2343.5,1998.8 2337.9,2000.5 2335.3,2002.2 2332.3,2003.9 2332.0,2005.6 2331.1,2007.3 2330.7,2008.9 2329.7,2010.6 2336.7,2012.6 2341.5,2014.6 2436.8,2014.6 2466.6,2012.6 2501.5,2010.6 2500.7,2008.9 2500.1,2007.3 2497.9,2005.6 2502.9,2003.9 2505.9,2002.2 2511.1,2000.5 2510.6,1998.8 2511.1,1997.2 2511.9,1995.5 2516.3,1993.6 2521.0,1991.7 2521.9,1990.0 2522.4,1988.4 2523.7,1986.7 2525.9,1985.0 2525.8,1983.4 2526.6,1981.7 2527.6,1979.6 2526.7,1977.6 2526.4,1975.5" fill="#006bff"/>
<polygon points="2388.2,1975.5 2381.3,1977.6 2372.6,1979.6 2366.4,1981.7 2370.0,1983.4 2374.7,1985.0 2378.6,1986.7 2377.4,1988.4 2378.1,1990.0 2379.6,1991.7 2368.5,1993.6 2359.2,1995.5 2351.9,1997.2 2346.6,1998.8 2341.0,2000.5 2338.4,2002.2 2335.3,2003.9 2334.6,2005.6 2333.5,2007.3 2333.1,2008.9 2331.9,2010.6 2338.1,2012.6 2343.3,2014.6 2434.5,2014.6 2463.4,2012.6 2495.5,2010.6 2495.2,2008.9 2494.9,2007.3 2493.4,2005.6 2498.1,2003.9 2501.4,2002.2 2506.5,2000.5 2506.8,1998.8 2507.9,1997.2 2509.3,1995.5 2513.7,1993.6 2518.3,1991.7 2519.3,1990.0 2519.9,1988.4 2521.2,1986.7 2523.3,1985.0 2523.4,1983.4 2524.2,1981.7 2525.0,1979.6 2524.2,1977.6 2523.9,1975.5" fill="#009eff"/>
<polygon points="2391.6,1975.5 2385.0,1977.6 2376.7,1979.6 2370.7,1981.7 2374.9,1983.4 2379.9,1985.0 2384.3,1986.7 2381.9,1988.4 2381.4,1990.0 2381.5,1991.7 2371.0,1993.6 2362.0,1995.5 2354.7,1997.2 2349.1,1998.8 2343.4,2000.5 2340.5,2002.2 2337.1,2003.9 2336.2,2005.6 2335.0,2007.3 2334.5,2008.9 2333.3,2010.6 2339.6,2012.6 2345.0,2014.6 2432.4,2014.6 2460.3,2012.6 2492.0,2010.6 2491.9,2008.9 2491.8,2007.3 2490.6,2005.6 2495.2,2003.9 2498.3,2002.2 2503.1,2000.5 2503.6,1998.8 2505.0,1997.2 2506.6,1995.5 2511.1,1993.6 2515.6,1991.7 2516.7,1990.0 2517.4,1988.4 2518.9,1986.7 2520.9,1985.0 2520.9,1983.4 2521.7,1981.7 2522.5,1979.6 2521.7,1977.6 2521.4,1975.5" fill="#00d1ff"/>
<polygon points="2394.4,1975.5 2388.2,1977.6 2380.3,1979.6 2374.6,1981.7 2379.1,1983.4 2384.5,1985.0 2389.4,1986.7 2385.8,1988.4 2384.2,1990.0 2383.2,1991.7 2373.3,1993.6 2364.6,1995.5 2357.4,1997.2 2351.6,1998.8 2345.8,2000.5 2342.6,2002.2 2339.0,2003.9 2337.8,2005.6 2336.4,2007.3 2335.9,2008.9 2334.7,2010.6 2340.9,2012.6 2347.2,2014.6 2429.6,2014.6 2457.4,2012.6 2488.4,2010.6 2488.6,2008.9 2488.8,2007.3 2488.0,2005.6 2492.2,2003.9 2495.3,2002.2 2499.6,2000.5 2500.5,1998.8 2502.2,1997.2 2504.2,1995.5 2508.6,1993.6 2513.1,1991.7 2514.4,1990.0 2515.2,1988.4 2516.8,1986.7 2518.7,1985.0 2518.9,1983.4 2519.6,1981.7 2520.2,1979.6 2519.6,1977.6 2519.3,1975.5" fill="#19ffde"/>
<polygon points="2397.2,1975.5 2391.3,1977.6 2383.8,1979.6 2378.3,1981.7 2383.3,1983.4 2389.1,1985.0 2394.9,1986.7 2389.7,1988.4 2387.0,1990.0 2384.8,1991.7 2375.4,1993.6 2367.1,1995.5 2359.7,1997.2 2353.8,1998.8 2347.9,2000.5 2344.7,2002.2 2340.8,2003.9 2339.3,2005.6 2337.9,2007.3 2337.3,2008.9 2336.1,2010.6 2342.1,2012.6 2349.8,2014.6 2426.5,2014.6 2454.7,2012.6 2484.9,2010.6 2485.4,2008.9 2485.7,2007.3 2485.3,2005.6 2489.2,2003.9 2492.3,2002.2 2496.4,2000.5 2497.7,1998.8 2499.7,1997.2 2501.9,1995.5 2506.4,1993.6 2510.7,1991.7 2512.2,1990.0 2513.0,1988.4 2514.5,1986.7 2516.5,1985.0 2516.8,1983.4 2517.5,1981.7 2518.1,1979.6 2517.5,1977.6 2517.1,1975.5" fill="#42ffb5"/>
<polygon points="2400.9,1975.5 2395.2,1977.6 2388.0,1979.6 2382.5,1981.7 2388.7,1983.4 2395.7,1985.0 2402.6,1986.7 2395.1,1988.4 2390.3,1990.0 2386.5,1991.7 2377.5,1993.6 2369.5,1995.5 2362.1,1997.2 2356.0,1998.8 2349.9,2000.5 2346.5,2002.2 2342.4,2003.9 2340.7,2005.6 2339.2,2007.3 2338.6,2008.9 2337.3,2010.6 2343.4,2012.6 2387.5,2014.6 2387.5,2014.6 2451.9,2012.6 2481.7,2010.6 2482.4,2008.9 2482.9,2007.3 2482.9,2005.6 2486.7,2003.9 2489.6,2002.2 2493.5,2000.5 2495.0,1998.8 2497.2,1997.2 2499.7,1995.5 2504.1,1993.6 2508.4,1991.7 2509.5,1990.0 2509.9,1988.4 2511.3,1986.7 2513.3,1985.0 2514.1,1983.4 2515.1,1981.7 2515.4,1979.6 2514.8,1977.6 2514.3,1975.5" fill="#6bff8c"/>
<polygon points="2405.2,1975.5 2399.9,1977.6 2393.3,1979.6 2388.1,1981.7 2395.0,1983.4 2402.6,1985.0 2410.3,1986.7 2401.0,1988.4 2394.5,1990.0 2388.9,1991.7 2380.6,1993.6 2372.8,1995.5 2364.9,1997.2 2358.2,1998.8 2352.0,2000.5 2348.3,2002.2 2344.0,2003.9 2342.0,2005.6 2340.4,2007.3 2339.8,2008.9 2338.5,2010.6 2345.3,2012.6 2388.7,2014.1 2388.7,2014.1 2447.8,2012.6 2478.6,2010.6 2479.6,2008.9 2480.3,2007.3 2480.6,2005.6 2484.1,2003.9 2487.0,2002.2 2490.5,2000.5 2492.2,1998.8 2494.2,1997.2 2496.5,1995.5 2500.8,1993.6 2504.8,1991.7 2506.1,1990.0 2506.6,1988.4 2508.2,1986.7 2510.0,1985.0 2511.0,1983.4 2512.0,1981.7 2512.2,1979.6 2511.7,1977.6 2511.1,1975.5" fill="#94ff63"/>
<polygon points="2410.5,1975.5 2405.1,1977.6 2398.6,1979.6 2393.7,1981.7 2402.9,1983.4 2414.2,1985.0 2426.6,1986.7 2410.0,1988.4 2398.7,1990.0 2391.3,1991.7 2383.8,1993.6 2376.4,1995.5 2368.4,1997.2 2361.5,1998.8 2354.6,2000.5 2350.3,2002.2 2345.6,2003.9 2343.4,2005.6 2341.7,2007.3 2341.0,2008.9 2339.6,2010.6 2347.1,2012.6 2389.9,2013.5 2389.9,2013.5 2443.8,2012.6 2475.6,2010.6 2476.8,2008.9 2477.7,2007.3 2478.4,2005.6 2481.6,2003.9 2484.1,2002.2 2486.6,2000.5 2488.2,1998.8 2490.5,1997.2 2493.2,1995.5 2497.4,1993.6 2501.3,1991.7 2502.8,1990.0 2501.5,1988.4 2501.4,1986.7 2504.5,1985.0 2507.1,1983.4 2508.9,1981.7 2508.9,1979.6 2508.2,1977.6 2507.1,1975.5" fill="#bdff3a"/>
<polygon points="2460.0,1975.5 2415.5,1977.6 2410.1,1979.6 2404.9,1981.7 2458.6,1983.4 2458.6,1983.4 2502.6,1981.7 2501.8,1979.6 2501.2,1977.6 2460.0,1975.5" fill="#e6ff10"/>
<polygon points="2454.8,1989.2 2407.7,1990.0 2395.2,1991.7 2388.2,1993.6 2380.6,1995.5 2371.9,1997.2 2364.7,1998.8 2357.7,2000.5 2353.0,2002.2 2347.7,2003.9 2344.8,2005.6 2343.1,2007.3 2342.5,2008.9 2341.1,2010.6 2350.3,2012.6 2391.1,2013.0 2391.1,2013.0 2436.9,2012.6 2471.7,2010.6 2473.4,2008.9 2474.6,2007.3 2475.8,2005.6 2478.1,2003.9 2480.2,2002.2 2482.1,2000.5 2484.1,1998.8 2486.7,1997.2 2489.3,1995.5 2492.8,1993.6 2495.8,1991.7 2495.5,1990.0 2454.8,1989.2" fill="#e6ff10"/>
<polygon points="2440.2,1993.6 2388.7,1995.5 2378.2,1997.2 2368.6,1998.8 2360.7,2000.5 2355.7,2002.2 2350.1,2003.9 2346.8,2005.6 2345.0,2007.3 2344.3,2008.9 2342.9,2010.6 2392.3,2012.4 2392.3,2012.4 2467.2,2010.6 2469.2,2008.9 2470.7,2007.3 2472.4,2005.6 2474.3,2003.9 2476.2,2002.2 2477.7,2000.5 2479.2,1998.8 2480.1,1997.2 2481.8,1995.5 2440.2,1993.6" fill="#ffd900"/>
<polygon points="2425.9,1998.0 2375.8,1998.8 2366.3,2000.5 2358.7,2002.2 2352.5,2003.9 2348.8,2005.6 2346.8,2007.3 2346.1,2008.9 2344.6,2010.6 2393.8,2011.9 2393.8,2011.9 2462.6,2010.6 2464.9,2008.9 2466.7,2007.3 2469.0,2005.6 2470.5,2003.9 2471.8,2002.2 2469.6,2000.5 2470.2,1998.8 2425.9,1998.0" fill="#ffaa00"/>
<polygon points="2415.6,2001.0 2364.7,2002.2 2356.2,2003.9 2350.8,2005.6 2348.7,2007.3 2348.2,2008.9 2346.9,2010.6 2395.3,2011.4 2395.3,2011.4 2456.7,2010.6 2460.1,2008.9 2462.8,2007.3 2465.6,2005.6 2464.5,2003.9 2463.0,2002.2 2415.6,2001.0" fill="#ff7b00"/>
<polygon points="2409.5,2003.6 2361.5,2003.9 2354.9,2005.6 2352.8,2007.3 2352.2,2008.9 2350.8,2010.6 2396.8,2010.8 2396.8,2010.8 2446.5,2010.6 2450.7,2008.9 2454.0,2007.3 2458.5,2005.6 2456.0,2003.9 2409.5,2003.6" fill="#ff4c00"/>
</g>
<rect x="2228.50" y="2018.85" width="34.5" height="11.0"/>
<rect x="2242.40" y="1998.90" width="20.6" height="6.9"/>
<rect x="2242.40" y="1976.90" width="20.6" height="6.9"/>
<rect x="2242.40" y="1954.90" width="20.6" height="6.9"/>
<rect x="2242.40" y="1932.90" width="20.6" height="6.9"/>
<rect x="2228.50" y="1908.85" width="34.5" height="11.0"/>
<rect x="2242.40" y="1888.90" width="20.6" height="6.9"/>
<rect x="2242.40" y="1866.90" width="20.6" height="6.9"/>
<rect x="2242.40" y="1844.90" width="20.6" height="6.9"/>
<rect x="2242.40" y="1822.90" width="20.6" height="6.9"/>
<rect x="2228.50" y="1798.85" width="34.5" height="11.0"/>
<rect x="2242.40" y="1778.90" width="20.6" height="6.9"/>
<rect x="2242.40" y="1756.90" width="20.6" height="6.9"/>
<rect x="2273.00" y="2023.85" width="11.0" height="35.7"/>
<rect x="2300.40" y="2023.85" width="6.9" height="21.6"/>
<rect x="2325.75" y="2023.85" width="6.9" height="21.6"/>
<rect x="2351.10" y="2023.85" width="6.9" height="21.6"/>
<rect x="2376.45" y="2023.85" width="6.9" height="21.6"/>
<rect x="2399.75" y="2023.85" width="11.0" height="35.7"/>
<rect x="2427.15" y="2023.85" width="6.9" height="21.6"/>
<rect x="2452.50" y="2023.85" width="6.9" height="21.6"/>
<rect x="2477.85" y="2023.85" width="6.9" height="21.6"/>
<rect x="2503.20" y="2023.85" width="6.9" height="21.6"/>
<rect x="2526.50" y="2023.85" width="11.0" height="35.7"/>
<rect x="2553.90" y="2023.85" width="6.9" height="21.6"/>
<rect x="2579.25" y="2023.85" width="6.9" height="21.6"/>
<rect x="2604.60" y="2023.85" width="6.9" height="21.6"/>
<rect x="2629.95" y="2023.85" width="6.9" height="21.6"/>
<rect x="2653.25" y="2023.85" width="11.0" height="35.7"/>
<rect x="2680.65" y="2023.85" width="6.9" height="21.6"/>
<rect x="2706.00" y="2023.85" width="6.9" height="21.6"/>
<rect x="2731.35" y="2023.85" width="6.9" height="21.6"/>
<rect x="2756.70" y="2023.85" width="6.9" height="21.6"/>
<rect x="2780.00" y="2023.85" width="11.0" height="35.7"/>
<rect x="2263.00" y="1760.00" width="539.0" height="263.85" fill="none" stroke="#000" stroke-width="5.6"/>
<text transform="translate(2485.35,1805.70) scale(1.1746,1)" font-size="36.39" font-weight="bold" fill="#000" stroke="#000" stroke-width="0.6">2300</text>
</g>
<text transform="translate(187.40,242.12) scale(1.1695,1)" font-size="57.91" font-weight="bold" fill="#000" stroke="#000" stroke-width="0.6">10</text>
<text transform="translate(227.40,352.11) scale(1.0781,1)" font-size="58.74" font-weight="bold" fill="#000" stroke="#000" stroke-width="0.6">5</text>
<text transform="translate(224.12,462.41) scale(1.2131,1)" font-size="58.76" font-weight="bold" fill="#000" stroke="#000" stroke-width="0.6">0</text>
<text transform="translate(187.40,558.95) scale(1.1695,1)" font-size="57.91" font-weight="bold" fill="#000" stroke="#000" stroke-width="0.6">10</text>
<text transform="translate(227.40,668.94) scale(1.0781,1)" font-size="58.74" font-weight="bold" fill="#000" stroke="#000" stroke-width="0.6">5</text>
<text transform="translate(224.12,779.24) scale(1.2131,1)" font-size="58.76" font-weight="bold" fill="#000" stroke="#000" stroke-width="0.6">0</text>
<text transform="translate(187.40,875.78) scale(1.1695,1)" font-size="57.91" font-weight="bold" fill="#000" stroke="#000" stroke-width="0.6">10</text>
<text transform="translate(227.40,985.77) scale(1.0781,1)" font-size="58.74" font-weight="bold" fill="#000" stroke="#000" stroke-width="0.6">5</text>
<text transform="translate(224.12,1096.07) scale(1.2131,1)" font-size="58.76" font-weight="bold" fill="#000" stroke="#000" stroke-width="0.6">0</text>
<text transform="translate(187.40,1192.61) scale(1.1695,1)" font-size="57.91" font-weight="bold" fill="#000" stroke="#000" stroke-width="0.6">10</text>
<text transform="translate(227.40,1302.60) scale(1.0781,1)" font-size="58.74" font-weight="bold" fill="#000" stroke="#000" stroke-width="0.6">5</text>
<text transform="translate(224.12,1412.90) scale(1.2131,1)" font-size="58.76" font-weight="bold" fill="#000" stroke="#000" stroke-width="0.6">0</text>
<text transform="translate(187.40,1509.44) scale(1.1695,1)" font-size="57.91" font-weight="bold" fill="#000" stroke="#000" stroke-width="0.6">10</text>
<text transform="translate(227.40,1619.43) scale(1.0781,1)" font-size="58.74" font-weight="bold" fill="#000" stroke="#000" stroke-width="0.6">5</text>
<text transform="translate(224.12,1729.73) scale(1.2131,1)" font-size="58.76" font-weight="bold" fill="#000" stroke="#000" stroke-width="0.6">0</text>
<text transform="translate(187.40,1826.27) scale(1.1695,1)" font-size="57.91" font-weight="bold" fill="#000" stroke="#000" stroke-width="0.6">10</text>
<text transform="translate(227.40,1936.26) scale(1.0781,1)" font-size="58.74" font-weight="bold" fill="#000" stroke="#000" stroke-width="0.6">5</text>
<text transform="translate(224.12,2046.56) scale(1.2131,1)" font-size="58.76" font-weight="bold" fill="#000" stroke="#000" stroke-width="0.6">0</text>
<text transform="translate(278.49,2127.25) scale(1.1831,1)" font-size="60.03" font-weight="bold" fill="#000" stroke="#000" stroke-width="0.6">−10</text>
<text transform="translate(424.92,2127.25) scale(1.1742,1)" font-size="59.74" font-weight="bold" fill="#000" stroke="#000" stroke-width="0.6">−5</text>
<text transform="translate(571.11,2127.25) scale(1.1909,1)" font-size="60.03" font-weight="bold" fill="#000" stroke="#000" stroke-width="0.6">0</text>
<text transform="translate(699.87,2127.25) scale(1.0231,1)" font-size="59.74" font-weight="bold" fill="#000" stroke="#000" stroke-width="0.6">5</text>
<text transform="translate(806.38,2127.25) scale(1.1348,1)" font-size="60.03" font-weight="bold" fill="#000" stroke="#000" stroke-width="0.6">10</text>
<text transform="translate(925.49,2127.25) scale(1.1831,1)" font-size="60.03" font-weight="bold" fill="#000" stroke="#000" stroke-width="0.6">−10</text>
<text transform="translate(1071.92,2127.25) scale(1.1742,1)" font-size="59.74" font-weight="bold" fill="#000" stroke="#000" stroke-width="0.6">−5</text>
<text transform="translate(1218.11,2127.25) scale(1.1909,1)" font-size="60.03" font-weight="bold" fill="#000" stroke="#000" stroke-width="0.6">0</text>
<text transform="translate(1346.87,2127.25) scale(1.0231,1)" font-size="59.74" font-weight="bold" fill="#000" stroke="#000" stroke-width="0.6">5</text>
<text transform="translate(1453.38,2127.25) scale(1.1348,1)" font-size="60.03" font-weight="bold" fill="#000" stroke="#000" stroke-width="0.6">10</text>
<text transform="translate(1572.49,2127.25) scale(1.1831,1)" font-size="60.03" font-weight="bold" fill="#000" stroke="#000" stroke-width="0.6">−10</text>
<text transform="translate(1718.92,2127.25) scale(1.1742,1)" font-size="59.74" font-weight="bold" fill="#000" stroke="#000" stroke-width="0.6">−5</text>
<text transform="translate(1865.11,2127.25) scale(1.1909,1)" font-size="60.03" font-weight="bold" fill="#000" stroke="#000" stroke-width="0.6">0</text>
<text transform="translate(1993.87,2127.25) scale(1.0231,1)" font-size="59.74" font-weight="bold" fill="#000" stroke="#000" stroke-width="0.6">5</text>
<text transform="translate(2100.38,2127.25) scale(1.1348,1)" font-size="60.03" font-weight="bold" fill="#000" stroke="#000" stroke-width="0.6">10</text>
<text transform="translate(2219.49,2127.25) scale(1.1831,1)" font-size="60.03" font-weight="bold" fill="#000" stroke="#000" stroke-width="0.6">−10</text>
<text transform="translate(2365.92,2127.25) scale(1.1742,1)" font-size="59.74" font-weight="bold" fill="#000" stroke="#000" stroke-width="0.6">−5</text>
<text transform="translate(2512.11,2127.25) scale(1.1909,1)" font-size="60.03" font-weight="bold" fill="#000" stroke="#000" stroke-width="0.6">0</text>
<text transform="translate(2640.87,2127.25) scale(1.0231,1)" font-size="59.74" font-weight="bold" fill="#000" stroke="#000" stroke-width="0.6">5</text>
<text transform="translate(2747.38,2127.25) scale(1.1348,1)" font-size="60.03" font-weight="bold" fill="#000" stroke="#000" stroke-width="0.6">10</text>
<text transform="translate(1120.98,122.40) scale(1.0388,1)" font-size="58.70" font-weight="bold" fill="#000" stroke="#000" stroke-width="0.6">KaMACS</text>
<text transform="translate(1401.77,122.40) scale(1.1117,1)" font-size="58.70" font-weight="bold" fill="#000" stroke="#000" stroke-width="0.6">Spectrogram</text>
<text transform="translate(1823.84,122.40) scale(1.0759,1)" font-size="58.70" font-weight="bold" fill="#000" stroke="#000" stroke-width="0.6">on</text>
<text transform="translate(1922.97,122.40) scale(1.1656,1)" font-size="58.70" font-weight="bold" fill="#000" stroke="#000" stroke-width="0.6">20241012</text>
<text transform="translate(1186.00,2210.20) scale(1.1102,1)" font-size="58.70" font-weight="bold" fill="#000" stroke="#000" stroke-width="0.6">Doppler</text>
<text transform="translate(1454.61,2210.20) scale(1.1053,1)" font-size="58.70" font-weight="bold" fill="#000" stroke="#000" stroke-width="0.6">velocity</text>
<text transform="translate(1717.93,2210.20) scale(0.9632,1)" font-size="58.70" font-weight="bold" fill="#000" stroke="#000" stroke-width="0.6">(</text>
<text transform="translate(1742.35,2210.20) scale(1.0873,1)" font-size="58.70" font-weight="bold" fill="#000" stroke="#000" stroke-width="0.6">m</text>
<text transform="translate(1820.12,2210.20) scale(0.9634,1)" font-size="58.70" font-weight="bold" fill="#000" stroke="#000" stroke-width="0.6">s</text>
<text transform="translate(1915.54,2210.20) scale(0.9632,1)" font-size="58.70" font-weight="bold" fill="#000" stroke="#000" stroke-width="0.6">)</text>
<rect x="1857" y="2174.7" width="24.7" height="3.5"/>
<text transform="translate(1886.07,2189.10) scale(0.9413,1)" font-size="42.30" font-weight="normal" fill="#000">1</text>
<text transform="translate(169.3,0) rotate(-90) translate(-1525.88,0.00) scale(1.1312,1)" font-size="58.70" font-weight="bold" fill="#000" stroke="#000" stroke-width="0.6">Height</text>
<text transform="translate(169.3,0) rotate(-90) translate(-1298.39,0.00) scale(1.1076,1)" font-size="58.70" font-weight="bold" fill="#000" stroke="#000" stroke-width="0.6">above</text>
<text transform="translate(169.3,0) rotate(-90) translate(-1089.66,0.00) scale(1.1032,1)" font-size="58.70" font-weight="bold" fill="#000" stroke="#000" stroke-width="0.6">ground</text>
<text transform="translate(169.3,0) rotate(-90) translate(-845.20,0.00) scale(1.1476,1)" font-size="58.70" font-weight="bold" fill="#000" stroke="#000" stroke-width="0.6">(km)</text>
<rect x="2898.0" y="128.3" width="32.0" height="1919.5" fill="url(#jet)"/>
<rect x="2898.0" y="128.3" width="32.0" height="1919.5" fill="none" stroke="#000" stroke-width="5.3"/>
<rect x="2930.0" y="123.10" width="21.7" height="10.8"/>
<text transform="translate(2976.07,143.53) scale(1.0450,1)" font-size="37.01" font-weight="normal" fill="#000">20</text>
<rect x="2930.0" y="363.04" width="21.7" height="10.8"/>
<text transform="translate(2977.67,383.47) scale(1.0046,1)" font-size="37.01" font-weight="normal" fill="#000">10</text>
<rect x="2930.0" y="602.98" width="21.7" height="10.8"/>
<text transform="translate(2976.81,623.40) scale(1.0324,1)" font-size="37.01" font-weight="normal" fill="#000">0</text>
<rect x="2930.0" y="842.91" width="21.7" height="10.8"/>
<text transform="translate(2977.26,863.34) scale(1.1253,1)" font-size="37.01" font-weight="normal" fill="#000">−10</text>
<rect x="2930.0" y="1082.85" width="21.7" height="10.8"/>
<text transform="translate(2977.26,1103.28) scale(1.1253,1)" font-size="37.01" font-weight="normal" fill="#000">−20</text>
<rect x="2930.0" y="1322.79" width="21.7" height="10.8"/>
<text transform="translate(2977.26,1343.22) scale(1.1253,1)" font-size="37.01" font-weight="normal" fill="#000">−30</text>
<rect x="2930.0" y="1562.72" width="21.7" height="10.8"/>
<text transform="translate(2977.26,1583.15) scale(1.1253,1)" font-size="37.01" font-weight="normal" fill="#000">−40</text>
<rect x="2930.0" y="1802.66" width="21.7" height="10.8"/>
<text transform="translate(2977.26,1823.09) scale(1.1253,1)" font-size="37.01" font-weight="normal" fill="#000">−50</text>
<rect x="2930.0" y="2042.60" width="21.7" height="10.8"/>
<text transform="translate(2977.26,2063.03) scale(1.1253,1)" font-size="37.01" font-weight="normal" fill="#000">−60</text>
<text transform="translate(2900.15,93.60) scale(1.0478,1)" font-size="58.70" font-weight="bold" fill="#000" stroke="#000" stroke-width="0.6">sZ</text>
<text transform="translate(2971.92,101.81) scale(1.0625,1)" font-size="39.23" font-weight="normal" font-style="italic" fill="#000">e</text>
<text transform="translate(2999.01,93.60) scale(1.1094,1)" font-size="58.70" font-weight="bold" fill="#000" stroke="#000" stroke-width="0.6">(dB)</text>
</g>
</svg>
</body></html>
